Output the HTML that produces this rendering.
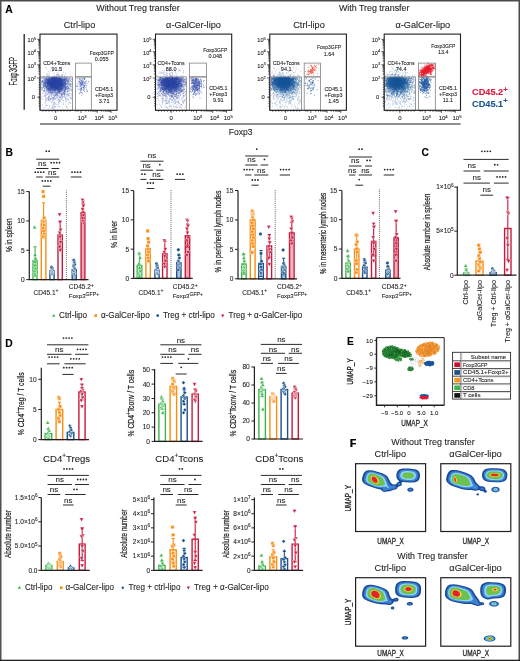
<!DOCTYPE html>
<html><head><meta charset="utf-8"><style>
html,body{margin:0;padding:0;background:#fff;}
svg{display:block;will-change:transform;}
text{font-family:"Liberation Sans",sans-serif;}
</style></head><body>
<svg width="520" height="661" viewBox="0 0 520 661">
<rect width="520" height="661" fill="#fff"/><g fill="#231f20">
<defs><filter id="bl2" x="-50%" y="-50%" width="200%" height="200%"><feGaussianBlur stdDeviation="2.2"/></filter></defs>
<rect x="0" y="0" width="520" height="1.5" fill="#4a4a4a"/>
<rect x="0" y="0" width="1.5" height="661" fill="#505050"/>
<rect x="518.5" y="0" width="1.5" height="661" fill="#4a4a4a"/>
<rect x="0" y="659.7" width="520" height="1.3" fill="#222"/>
<text x="5.3" y="12.6" font-size="10.3" font-weight="bold" fill="#000" stroke="#000" stroke-width="0.1">A</text>
<text x="5.6" y="155.9" font-size="10.3" font-weight="bold" fill="#000" stroke="#000" stroke-width="0.1">B</text>
<text x="421.5" y="156.2" font-size="10.3" font-weight="bold" fill="#000" stroke="#000" stroke-width="0.1">C</text>
<text x="5.2" y="346.6" font-size="10.3" font-weight="bold" fill="#000" stroke="#000" stroke-width="0.1">D</text>
<text x="347" y="345.1" font-size="10.3" font-weight="bold" fill="#000" stroke="#000" stroke-width="0.1">E</text>
<text x="350" y="446.9" font-size="10.3" font-weight="bold" fill="#000" stroke="#000" stroke-width="0.1">F</text>
<text x="96.2" y="11.1" font-size="9" textLength="83.5" lengthAdjust="spacingAndGlyphs" stroke="#231f20" stroke-width="0.1">Without Treg transfer</text>
<text x="338.9" y="11.1" font-size="9" textLength="70.6" lengthAdjust="spacingAndGlyphs" stroke="#231f20" stroke-width="0.1">With Treg transfer</text>
<text x="79.5" y="27.7" font-size="9.3" text-anchor="middle" textLength="31.5" lengthAdjust="spacingAndGlyphs" stroke="#231f20" stroke-width="0.1">Ctrl-lipo</text>
<clipPath id="gc0"><rect x="40.6" y="77.1" width="31.4" height="30"/></clipPath>
<g clip-path="url(#gc0)"><ellipse cx="55.5" cy="83.4" rx="8.5" ry="5.6" fill="#3049a8" fill-opacity=".85" filter="url(#bl2)"/></g>
<path transform="scale(.1)" stroke="#3049a8" stroke-width="8" d="M523 642h8m73 38h8m-130 38h8m9-9h8m-17 26h8m-18 14h8m77 2h8m-8-8h8m2-3h8m-5 13h8m30-2h8m-187 28h8m27-15h8m1 1h8m-6 11h8m-3 0h8m-7 3h8m10-2h8m-1-1h8m0 2h8m-8-1h8m-7-1h8m6 0h8m-4 2h8m-8 1h8m-4-4h8m-6 1h8m-2 0h8m-4-8h8m-8 7h8m-3 0h8m5 2h8m-7-10h8m7 0h8m6-5h8m-5-1h8m9 15h8m-1 0h8m2 2h8m-233 2h8m13 0h8m4 2h8m-5 7h8m-4 0h8m-3 1h8m6 4h8m-6-11h8m-7 13h8m-6-8h8m-1 11h8m-6-19h8m-2 12h8m-8-6h8m-6 5h8m-8-2h8m1-5h8m-7 13h8m-6-13h8m-8 5h8m-7 0h8m-6-8h8m0 10h8m-6 6h8m-6 1h8m-5-16h8m-8 5h8m-8-2h8m-7 12h8m-8-1h8m-6-3h8m-5-1h8m-7-1h8m-8 4h8m-5-10h8m-7 5h8m-7 9h8m-6-5h8m-8 5h8m-6-12h8m-7 8h8m-8 4h8m-8-7h8m-5 7h8m-8-10h8m-4 9h8m-6-5h8m-7-12h8m-7 3h8m-6 1h8m-6 5h8m-8 2h8m-7 5h8m-3-4h8m0-7h8m-8-4h8m-2 3h8m-6 11h8m-8 2h8m-7-12h8m-7 4h8m-7 6h8m-5-5h8m-8 5h8m-8 1h8m-6 0h8m-8-12h8m-1 6h8m-6-6h8m-6 6h8m-6 4h8m3 0h8m-6-7h8m0-2h8m4-5h8m-6 14h8m-4-3h8m-6 1h8m-4-13h8m1 11h8m-4 7h8m-7-18h8m-8 9h8m-7-8h8m-6 15h8m19-8h8m9 1h8m-306 26h8m-6-6h8m2-4h8m22 5h8m-5 8h8m-1-2h8m-5-13h8m-7 16h8m-6-11h8m-7-7h8m-7 2h8m-7-1h8m-4 4h8m-6-1h8m-8-3h8m-3 0h8m-4 15h8m-7 0h8m-7-13h8m-2 7h8m-8-3h8m-5-1h8m-8 0h8m-8-4h8m-5 5h8m-5 9h8m-6-5h8m-6-6h8m-5 9h8m-3-13h8m-7 7h8m-7 10h8m-7-14h8m-5 3h8m-6-1h8m-7 2h8m-2-2h8m-3 10h8m-7-5h8m-7 1h8m-5 6h8m-7-3h8m-7-7h8m-7 9h8m-8-16h8m-8 11h8m-7-7h8m-6 4h8m-7-9h8m-8 16h8m-7 2h8m-8-15h8m-6-4h8m-4 9h8m-7 8h8m-3-13h8m-7 13h8m-8-1h8m-5-5h8m-7 0h8m-6-2h8m-3 2h8m-7-6h8m-7 12h8m-5-12h8m-6 0h8m-8 11h8m-7 1h8m-7-1h8m-6 1h8m-6-4h8m-6-5h8m-5 0h8m-8 11h8m-5-5h8m-7 1h8m-7-4h8m-8-5h8m-6-5h8m-6 4h8m-5-5h8m-6 5h8m-5 2h8m-7 1h8m-6-1h8m-8 6h8m-6 5h8m-8-14h8m3-1h8m-5-1h8m-7 16h8m-5-5h8m-5-11h8m-7-2h8m-7 13h8m-7 6h8m-5-14h8m-7-3h8m-6 5h8m-6-3h8m-2-4h8m-1 1h8m4 4h8m-6 13h8m-7-6h8m-2-3h8m6 6h8m-285 11h8m8 8h8m-7-11h8m-5 2h8m-4 13h8m-3-13h8m-2 3h8m-7-7h8m-3 3h8m1 3h8m-8 5h8m-8 4h8m-6 0h8m-3 2h8m-7-8h8m-7-6h8m-8 14h8m-7-11h8m-6 0h8m-7 4h8m-5 6h8m-7-4h8m-7-4h8m-8 7h8m-8-7h8m-8-3h8m-5 0h8m-8 4h8m-7 8h8m-8-12h8m-5 8h8m-4-8h8m-3-2h8m-7-3h8m-6 12h8m-8-8h8m-7-2h8m-8 4h8m-8 10h8m-4-7h8m-7 0h8m-4-4h8m-8-6h8m-6 0h8m-8 10h8m-6-6h8m-3 8h8m-7 0h8m-6-8h8m-6 13h8m-6-13h8m-8 4h8m-7 10h8m-8-3h8m-6-15h8m-4 2h8m-6 13h8m-6-2h8m-6 4h8m-7-9h8m-7 1h8m-6 2h8m-8 3h8m-8-1h8m-7 3h8m-7-3h8m-6-11h8m-7-1h8m-1 3h8m-7 5h8m-8-5h8m-7 8h8m-6 3h8m-7-5h8m-7-4h8m-6-5h8m-8 17h8m-7-8h8m-8 9h8m-8-7h8m-6-11h8m-8 0h8m-8 14h8m-7-2h8m-6-2h8m-7 6h8m-5-1h8m-8-12h8m-7-4h8m-8 13h8m-3-8h8m-7-2h8m-6-1h8m-5 7h8m-5-4h8m-6 6h8m-6-1h8m-7 4h8m-7-7h8m-7 11h8m-7-3h8m-7-13h8m-6 15h8m-8-1h8m-5-4h8m-1-10h8m-7 11h8m-5 0h8m-6-4h8m-8-7h8m-5 4h8m-6-3h8m-6 15h8m-7-11h8m-7 8h8m-4-11h8m-6 9h8m-5-2h8m-5-9h8m-4 11h8m-3-12h8m-8 15h8m-7-13h8m-2 4h8m22 10h8m2-4h8m-6-4h8m-289 12h8m13 10h8m0-3h8m7 5h8m9-8h8m-8 6h8m1-2h8m-8-8h8m-7 3h8m-2-4h8m-6 8h8m-7 2h8m-7-8h8m-6 11h8m-8 5h8m-7-12h8m-6 7h8m-5 5h8m-8-6h8m-7 6h8m-7-7h8m-8 2h8m-7 0h8m-7-11h8m-7 0h8m-8 2h8m-4 12h8m-6-14h8m-6 0h8m-7-2h8m-7 10h8m-7-7h8m-7-3h8m-7 0h8m-7 0h8m-8 14h8m-8-8h8m-3 13h8m-8-5h8m-6-7h8m-7 11h8m-7-2h8m-5 1h8m-8-2h8m-5-6h8m-6 0h8m-7 3h8m-8-2h8m-5-8h8m-8 11h8m-7-12h8m-7 3h8m-8-4h8m-4 3h8m-7 1h8m-3 4h8m-7-3h8m-7-1h8m-7 7h8m-7-6h8m-7-1h8m-6 7h8m-6 0h8m-7-2h8m-3-6h8m-8 5h8m-7 3h8m-7 0h8m-4-5h8m-8-4h8m-7 2h8m-6 0h8m-7-1h8m-8 16h8m-7-4h8m-7-9h8m-7 12h8m-6-8h8m-8-10h8m-7 9h8m-5-6h8m-7 6h8m-5 5h8m-8 3h8m-7-17h8m-5 16h8m-7-3h8m-4-7h8m-7 0h8m-7-6h8m-7 7h8m-7 10h8m-8-3h8m-6-5h8m-5 10h8m-5-18h8m-5 18h8m-7-11h8m-7-8h8m-6 18h8m-7-15h8m-6 8h8m-6 3h8m0-10h8m-8 6h8m-4 9h8m1-17h8m-4 5h8m-1-7h8m-6 1h8m-2 3h8m0 0h8m-4 9h8m-7-11h8m7 3h8m-7 3h8m0-3h8m2-1h8m-6 15h8m-300 17h8m-7-16h8m-4 8h8m-5-7h8m-6 16h8m-3-15h8m7 16h8m-7-10h8m-2 5h8m-8 5h8m2-16h8m-6 17h8m4-6h8m-6-11h8m-5 14h8m-3-15h8m-3 2h8m-8-1h8m-4-1h8m-3 5h8m-5 8h8m-6 0h8m-7-14h8m-7 7h8m-3-2h8m-7 14h8m-5-19h8m-8 17h8m0-15h8m-7 5h8m-5-2h8m-7 8h8m-7-1h8m-4-10h8m-5 8h8m-8 3h8m-4 1h8m-6-5h8m-8 9h8m-8-17h8m-7 18h8m-1-5h8m-8 5h8m-6-12h8m-7 1h8m-8 4h8m-7 5h8m-6-11h8m-7 4h8m-7-2h8m-6 9h8m-7-16h8m-3 6h8m-6-5h8m-7 1h8m-8 6h8m-7-4h8m-7 0h8m-5 12h8m-8-10h8m2-4h8m-7-2h8m-5 0h8m-5 10h8m-6 2h8m-6-9h8m-6 3h8m-8 4h8m-8-11h8m-7 0h8m-5 15h8m-7-2h8m-6-11h8m-7 9h8m-2-10h8m-6 4h8m-2-4h8m3 2h8m-8 10h8m4-1h8m-5-1h8m-5 2h8m-4-5h8m38 3h8m-297 11h8m13 9h8m11-11h8m3 10h8m-7 6h8m1-7h8m-7 3h8m-4 0h8m-4 0h8m1-12h8m-6 15h8m-2-11h8m-8 10h8m0-12h8m-6 6h8m-8 0h8m-4-6h8m2 0h8m-4 7h8m11 2h8m-5-6h8m-4 0h8m-8 0h8m-7-5h8m-6 5h8m-1 5h8m-6-5h8m-6-5h8m-5 2h8m0 13h8m-4 0h8m-6 4h8m-7-9h8m-4 0h8m-7-4h8m-6 9h8m-8-9h8m-7-6h8m-3 3h8m-7-1h8m-7 9h8m-6-4h8m-8 7h8m-8-12h8m-7 2h8m-7 15h8m-3-8h8m-8-6h8m-4 2h8m-5-6h8m2 13h8m-3-12h8m5 1h8m-4 6h8m0 5h8m2-2h8m-1-6h8m-8-1h8m19 9h8m-280 23h8m-7-4h8m-8-9h8m-1 8h8m15-1h8m-1-3h8m0-4h8m8 2h8m-7 9h8m-8-6h8m-6-6h8m-2-1h8m-7 11h8m2-1h8m14-8h8m-2 9h8m-6-8h8m-8 4h8m0 1h8m-4-10h8m-8 3h8m6 9h8m-5-9h8m-4 16h8m-4-19h8m-7 7h8m-8-6h8m-5 1h8m1 3h8m-8-2h8m-4 10h8m-4-6h8m-5 4h8m4-4h8m2 12h8m10-16h8m-5 15h8m7-1h8m-5-7h8m13-1h8m16-5h8m-5 7h8m-248 27h8m27-11h8m-1 4h8m-2-8h8m-4-3h8m14 15h8m2-7h8m-5 3h8m5 0h8m2-11h8m-6 18h8m15 1h8m8-11h8m-5 8h8m-4-1h8m68-4h8m-273 24h8m32-6h8m14 10h8m17-10h8m-4 1h8m-2 7h8m-7-3h8m-1 4h8m-4-12h8m-5-1h8m2 5h8m-2-7h8m22-3h8m-2 9h8m-2-3h8m-6 0h8m-2-6h8m14 1h8m29 7h8m-2-8h8m1 19h8m2-10h8m-277 11h8m0 5h8m10 12h8m9-4h8m-7-8h8m40 2h8m-6 12h8m-3 0h8m10-16h8m2 11h8m-4 0h8m14-5h8m12 0h8m10-6h8m-3-3h8m47 13h8m-292 19h8m50-10h8m12 13h8m-5-15h8m4 19h8m-8-6h8m4-13h8m16 17h8m107-17h8m-3 13h8m18 1h8m14-11h8m-248 23h8m-4 4h8m8 0h8m31-6h8m68 11h8m25-10h8m-105 20h8m-8 12h8m142-15h8m-238 33h8m-2-3h8m3 5h8m54-4h8m-7-7h8m90 0h8m-122 33h8m-7-13h8m0 13h8m-18 4h8m6 8h8" stroke-opacity=".45"/>
<path transform="scale(.1)" stroke="#3049a8" stroke-width="8" d="M464 688h8m99 37h8m54-2h8m-153 33h8m48 2h8m11-6h8m68 2h8m-219 24h8m-2-13h8m11 3h8m-2 6h8m-5 1h8m29 0h8m8 0h8m-7 0h8m0-5h8m-5 6h8m-4-1h8m-8 0h8m-7-7h8m-8 4h8m-3 6h8m-3 1h8m1-11h8m-7 9h8m-4 2h8m-6-1h8m-2-2h8m-8 0h8m4 2h8m3-2h8m-5 3h8m-7-4h8m11 4h8m29-11h8m26 7h8m-280 9h8m11 3h8m6-5h8m-3 17h8m-4-8h8m-3-10h8m-7 11h8m1 5h8m-5 2h8m-4 0h8m-6-19h8m-7 17h8m-8 2h8m-2-10h8m-3-1h8m-5 1h8m-8 2h8m-7 1h8m-8 3h8m-5 4h8m-8-13h8m10 3h8m-2 7h8m-5-12h8m-8 6h8m-6 2h8m-7-2h8m-4 2h8m-6-8h8m-4 1h8m-2 1h8m-8-3h8m-7 6h8m-8-6h8m-2 11h8m-8 0h8m-3 5h8m-8-12h8m-6 11h8m0 0h8m-6-12h8m-8-5h8m-3 8h8m-8-3h8m-6 8h8m0-3h8m-5-10h8m-6 10h8m-7 6h8m-8-2h8m-7-6h8m-6 8h8m-6-8h8m-6 4h8m-5-5h8m-7 2h8m-7 3h8m-7-13h8m-2 19h8m3-4h8m2-1h8m-8-3h8m-3-1h8m2 4h8m-7-2h8m-6-7h8m-6 13h8m-4-18h8m2 17h8m-7-16h8m-4 1h8m3 16h8m9-13h8m-7 10h8m-4-5h8m14 0h8m-305 24h8m2-4h8m-2-10h8m-1 19h8m-2-16h8m-6 3h8m3 8h8m-7-11h8m-4 12h8m-6-12h8m6-2h8m-8 9h8m-7 5h8m-6-12h8m-7 13h8m-8-9h8m-6 6h8m-8-10h8m-7 8h8m-7 1h8m-5-4h8m-7-8h8m-7 11h8m-7-4h8m-7 11h8m-2-15h8m-7-2h8m-7 0h8m-7 18h8m-7-6h8m-6-2h8m-7-4h8m-2 6h8m-3 0h8m-6-11h8m-7-1h8m-6 2h8m-8 3h8m-4 12h8m-5-17h8m-8 5h8m-7-6h8m-2 6h8m-3-5h8m-7 16h8m-7-1h8m-4-8h8m-8 5h8m-7 4h8m-8-2h8m-6 1h8m-8 2h8m-7-1h8m-8 0h8m-7-2h8m-7 0h8m-7 4h8m-7-15h8m-7 1h8m-8 9h8m-3 1h8m-8 0h8m-7 2h8m-8-7h8m-8 9h8m-5-4h8m-7-13h8m-8-1h8m-6 9h8m-6-6h8m-6 13h8m-8-2h8m-7-9h8m-7 0h8m-7 7h8m-8-2h8m-6 7h8m-7-6h8m-8 1h8m-8-8h8m-8-3h8m-5 13h8m-8-13h8m-1 12h8m-8 1h8m-4-14h8m-6 12h8m-6-11h8m-6 12h8m-7 2h8m-6-3h8m-6-2h8m-6 0h8m-8 6h8m-7-7h8m-6-2h8m-6-8h8m-7 1h8m-8 8h8m-5 2h8m-8-8h8m1 2h8m-1 6h8m-2-5h8m-1 10h8m-7-2h8m3-10h8m-7-2h8m-2 9h8m6-1h8m-5-4h8m4-3h8m-4 0h8m0 12h8m-4 3h8m-304 21h8m-3-18h8m3 7h8m-7 11h8m1-3h8m3-8h8m1 2h8m-6 4h8m-2-6h8m-5 7h8m-8-5h8m-4 5h8m-8-10h8m-4 10h8m-7-11h8m-1-3h8m-7 4h8m-7-1h8m-7 10h8m-5-1h8m-7 3h8m-3-1h8m-7-15h8m-4 1h8m-7 0h8m-7 5h8m-7 8h8m-6-1h8m-8-5h8m-7 8h8m-7-13h8m-8 3h8m-5-4h8m-8 8h8m-8 1h8m-7-4h8m-6 5h8m-8-5h8m-7-4h8m-8-2h8m-5 9h8m-7 2h8m-7-4h8m-8-2h8m-8 7h8m-7-11h8m-5 15h8m-7-11h8m-7 8h8m-6-4h8m-7 4h8m-7-10h8m-7-3h8m-8 11h8m-8-7h8m-7 8h8m-7-11h8m-7 0h8m-7 12h8m-5 0h8m-7 1h8m-8-8h8m-7-7h8m-6 11h8m-7-3h8m-7 6h8m-5-7h8m-8 0h8m-7 5h8m-7-1h8m-8 3h8m-5-9h8m-7 3h8m-8 2h8m-7 4h8m-7-12h8m-8 7h8m-8-6h8m-6 4h8m-8 6h8m-7 3h8m-8-4h8m-8-2h8m-7-4h8m-7 8h8m-8-2h8m-7 7h8m-8-10h8m-7 10h8m-6-16h8m-7 5h8m-7-8h8m-7 19h8m-6-14h8m-7 4h8m-8 3h8m-6-11h8m-7 11h8m-7-7h8m-6 6h8m-7-5h8m-8-1h8m-7-3h8m-8 17h8m-5-18h8m-8 3h8m-7-4h8m-8 15h8m-7-7h8m-6-1h8m-5-7h8m-7 8h8m-7-6h8m-7 17h8m-8-12h8m-7-3h8m-5 5h8m-5 9h8m-8-18h8m-5 19h8m-6-14h8m-8-5h8m-4 13h8m-6-6h8m-8-3h8m-7 6h8m-7-10h8m-6 4h8m-5 2h8m-7 2h8m-7 2h8m1-1h8m-1-4h8m8 14h8m1-4h8m-4-3h8m-3-1h8m-5-3h8m-271 12h8m10 6h8m8 0h8m-6 6h8m-2 2h8m0-1h8m-6-4h8m-8-3h8m-7-1h8m-7 7h8m-4 0h8m-7 1h8m-5-12h8m-7 18h8m-1-8h8m-4-4h8m8-2h8m-2 4h8m-7-7h8m-8 14h8m-7-8h8m-3 1h8m-3 6h8m-7-4h8m-8 0h8m-6 5h8m-7-13h8m-6 16h8m-3-16h8m-6 16h8m-7-14h8m-8 8h8m-8-13h8m-6 11h8m-7-11h8m-7 6h8m-5-1h8m-6 0h8m-2 4h8m-7 4h8m-6-8h8m-6-2h8m-8 14h8m-7-13h8m-6 4h8m-8 10h8m-7-5h8m-8-5h8m-8-7h8m-7 9h8m-6-5h8m-7 0h8m-7 12h8m-6 1h8m-5 1h8m-7-10h8m-6-7h8m-8 4h8m-6 12h8m-7-11h8m-4 0h8m-7 2h8m-8-4h8m-8 12h8m-5-6h8m-8-2h8m-7 0h8m-6-6h8m-7 10h8m-3-1h8m-5-9h8m-7 4h8m-7-4h8m-7 2h8m-6 8h8m-4-4h8m-4 7h8m-8-7h8m-3-2h8m-8 1h8m-4 10h8m-5-5h8m1-9h8m-5 6h8m-7 4h8m4-1h8m-5-2h8m-6-11h8m12 18h8m10-14h8m14-2h8m-311 27h8m16-6h8m-5 2h8m1 1h8m-5 7h8m-6-10h8m-6 0h8m-1 8h8m-7 5h8m-8-11h8m0-1h8m-5 9h8m3-7h8m-6 10h8m-8-10h8m-7-1h8m-5-5h8m-6 17h8m-3-11h8m-8 12h8m-8-18h8m-7 12h8m-7 5h8m-4-1h8m-7-10h8m-8-6h8m-7 16h8m-8-9h8m-8 0h8m1 9h8m-3-6h8m-3-10h8m-7 11h8m-8 8h8m-7-11h8m-7-5h8m1-3h8m-7 11h8m-8-10h8m-4 13h8m-3-5h8m-4 5h8m-8-5h8m-7 8h8m-8-3h8m-8-6h8m-7-3h8m-5 13h8m-4 1h8m-8-4h8m-7-7h8m-7 2h8m-5-2h8m-7-4h8m-8 7h8m-7 5h8m-7-10h8m-4-1h8m-7 12h8m-5-12h8m-5 2h8m-8-7h8m-7 0h8m-1 9h8m-6 10h8m-2-9h8m-7-6h8m-6 4h8m-6-5h8m-3 3h8m-7 0h8m-6 0h8m-4-5h8m-4 12h8m-6-10h8m-8-3h8m-6 4h8m-2 11h8m7-11h8m-4 2h8m3 13h8m7-11h8m-4-4h8m20 4h8m-300 24h8m1 6h8m-4-17h8m16 9h8m11 5h8m-8-14h8m-6 3h8m3 3h8m-4 1h8m-8-8h8m-7 19h8m-5-13h8m-6-3h8m-3 15h8m-2-5h8m-7 1h8m-4 4h8m-5-13h8m-6 0h8m-3 1h8m-4 6h8m-7-12h8m-8 16h8m-7-4h8m-5 0h8m-5-1h8m-3 7h8m-6-7h8m-7-10h8m-7 8h8m-6 4h8m-8-2h8m-3 2h8m-7-1h8m-8-7h8m1 3h8m-4-1h8m-7 8h8m-5-10h8m-3-2h8m-4 7h8m-6-4h8m2 9h8m-8-4h8m-7-5h8m-8 6h8m-7-4h8m-4 10h8m-6-11h8m-4-4h8m-7 8h8m-5-1h8m-3-7h8m-7 7h8m-7 9h8m-7-16h8m-8 1h8m-7-2h8m-6-1h8m-7 2h8m-5 3h8m-5-3h8m6 15h8m-5-16h8m6 13h8m-5 2h8m-8-11h8m-5 4h8m10-6h8m11 0h8m-4 1h8m-250 19h8m6-2h8m12 14h8m-8-14h8m-6 14h8m-5-13h8m-6-3h8m-6 3h8m-3 7h8m0-6h8m-8 1h8m-3 6h8m3-3h8m6-5h8m-7 0h8m-2 3h8m-3-2h8m0-3h8m6 5h8m-3 8h8m-8 0h8m-4 0h8m-2-1h8m-4-13h8m-5 12h8m-7-4h8m-8 2h8m-4 1h8m-8-2h8m-5 9h8m-3-5h8m-8 6h8m-4-11h8m0-6h8m-3 7h8m-7-3h8m-7 13h8m1-6h8m-1-2h8m-5 4h8m3 4h8m13-6h8m25-11h8m-294 30h8m19 1h8m3-10h8m36 15h8m-6-5h8m-6 6h8m-7-16h8m-8 8h8m1 0h8m-4 0h8m-7-8h8m-7 8h8m10-11h8m-8 0h8m0 7h8m1-7h8m4 5h8m-7 0h8m-7-5h8m-4 16h8m-5-9h8m9 6h8m-1-10h8m15 2h8m6 9h8m-7 5h8m6-1h8m4-5h8m28 6h8m-261 19h8m-2-3h8m-4-9h8m22 13h8m18-18h8m8 10h8m3 6h8m9 0h8m-5-12h8m24 8h8m9-13h8m-7 11h8m-4-9h8m10-1h8m-4 12h8m-7-10h8m-3 12h8m7-6h8m1 1h8m-1-3h8m-2 8h8m-6 2h8m-242 19h8m28-7h8m17-3h8m15 9h8m11-14h8m53 10h8m-2 8h8m-4-11h8m15-2h8m19-3h8m24 10h8m-290 18h8m20 4h8m-7-7h8m20 6h8m-5-12h8m45 9h8m-2 0h8m3 3h8m16 3h8m-4-16h8m18 8h8m3-9h8m36 5h8m36 0h8m-265 19h8m194 9h8m1-2h8m-164 11h8m1 1h8m1-2h8m-1 18h8m38-13h8m-5 3h8m106 1h8m-1 5h8m-215 22h8m83-15h8m-139 30h8m76-2h8m28-2h8m3-5h8m31 14h8m34 2h8m-195 5h8" stroke-opacity=".45"/>
<path transform="scale(.1)" stroke="#3049a8" stroke-width="8" d="M518 647h8m72 51h8m-85 19h8m175 20h8m-242 4h8m53 17h8m41-6h8m-5-5h8m-122 30h8m-4-9h8m27 6h8m-1 1h8m4 0h8m-8 4h8m0-8h8m-7 4h8m-3 4h8m-3-4h8m-6-4h8m-6 6h8m-7 1h8m5-16h8m-5 13h8m4-5h8m-3 8h8m-5-3h8m-1-10h8m3 10h8m55 1h8m-257 8h8m6 10h8m17-13h8m-7 13h8m-7-2h8m-5-9h8m-8 5h8m-2 2h8m-3 5h8m-1-14h8m-4 11h8m-6 3h8m-6-9h8m-5-4h8m-8 8h8m-5 9h8m-8-10h8m-6 9h8m-3 1h8m-8-15h8m-5 9h8m-8 5h8m-7-13h8m-8 5h8m-7 5h8m-6-12h8m-8 5h8m-5 10h8m-6-4h8m-4-5h8m-8 10h8m-7-11h8m-7 8h8m-5-5h8m-8-5h8m-6-3h8m-4 3h8m-7-3h8m-4 7h8m-2 3h8m-8-13h8m-8 11h8m-7 7h8m-7-2h8m-8 2h8m-6-4h8m-8-1h8m-5-4h8m-6 4h8m-7-3h8m-8 1h8m-6-10h8m-7 15h8m-4-11h8m-6 9h8m-7-6h8m-7 5h8m-6-10h8m-5 2h8m-8 1h8m-5-4h8m-8 4h8m-3 13h8m-5-5h8m-2-4h8m-6-8h8m-7 5h8m-7 7h8m-7-7h8m-5 7h8m-3-12h8m-8 8h8m-8 3h8m-7 2h8m-4-10h8m-6 10h8m-6-3h8m-8 4h8m-8-8h8m-5 10h8m-6-7h8m-5 5h8m-2-16h8m-3 6h8m-6 10h8m-3-1h8m2-13h8m-1 5h8m-7 0h8m-8 7h8m0-6h8m6 7h8m-5-11h8m-1 5h8m21 5h8m-297 16h8m-8-1h8m-5 8h8m6-8h8m-5 3h8m-6-8h8m-3 7h8m5 2h8m-7 0h8m4-6h8m-8 3h8m-7 7h8m-7-4h8m-6-6h8m-7 9h8m-8-16h8m-7 8h8m-8 2h8m-8-9h8m-7 11h8m-8 4h8m-7 1h8m-7-6h8m-7 0h8m-8-10h8m-7 10h8m-8-4h8m-3 11h8m-7-17h8m-8 4h8m-2 14h8m-8-14h8m-8 4h8m-5-2h8m-7 3h8m-7-8h8m-7 2h8m-8-2h8m-7 1h8m-8 14h8m-7 1h8m-6-9h8m-6 4h8m-5 5h8m-7-13h8m-8 3h8m-7 10h8m-7-12h8m-4-4h8m-4-1h8m-6 18h8m-7-12h8m-8-2h8m-4 6h8m-7 3h8m-8-2h8m-6-3h8m-5 6h8m-4-4h8m-8 2h8m-6-2h8m-8 7h8m-6-2h8m-7 1h8m-6-5h8m-7 4h8m-4-13h8m-7 6h8m-6-8h8m-8 13h8m-4 0h8m-7-11h8m-8 1h8m-5 9h8m-6-8h8m-5-4h8m-8 13h8m-7-13h8m-6 13h8m-3-14h8m-7 12h8m-8-12h8m-8 13h8m-8 6h8m-7-6h8m-6-4h8m-7-7h8m-8 1h8m-5-1h8m-4 15h8m-7-5h8m-7-3h8m-5-8h8m-7 13h8m-6-8h8m-8 7h8m-3 1h8m-7-7h8m-4 11h8m-6-13h8m-7-4h8m-6 18h8m-6-16h8m-7 0h8m-8-2h8m-6 13h8m-5 4h8m-6-17h8m-6 3h8m-2 4h8m-7-4h8m-2 0h8m3 7h8m-5-9h8m-5 14h8m-7-12h8m-1 6h8m-1 8h8m-4-11h8m-2 7h8m15 2h8m-297 5h8m-4 1h8m10 12h8m-4-5h8m-2 10h8m-7-5h8m-8-12h8m-5 3h8m-6 14h8m-7-4h8m-4-11h8m4 9h8m-7-13h8m-2 5h8m-6 2h8m-5 8h8m-6 2h8m-5 1h8m-1-7h8m-7-6h8m-7-4h8m-8 11h8m-7-12h8m-5 0h8m-6 5h8m-8 2h8m-7 4h8m-7 1h8m-6 5h8m-7-16h8m-7 17h8m-7-4h8m-3-3h8m-6 6h8m-6 0h8m-8-8h8m-2 8h8m-8-12h8m-8 11h8m-7-1h8m-7-7h8m-7 0h8m-8 3h8m-5-10h8m-8 17h8m-6-13h8m-7 13h8m-8-6h8m-7-10h8m-8-1h8m-7-1h8m-3 0h8m-5 12h8m-8-5h8m-8 8h8m-7-8h8m-8 10h8m-4-14h8m-7-3h8m-7 15h8m-8 4h8m-4-6h8m-8-13h8m-7 13h8m-6-7h8m-6 7h8m-8-6h8m-7 12h8m-7-15h8m-6 4h8m-7 9h8m-4-1h8m-4-10h8m-7 11h8m-6-3h8m-4-9h8m-2 2h8m-7-4h8m-6 11h8m-8-10h8m-8-2h8m-7 15h8m-6-16h8m-8 3h8m-7 8h8m-8-9h8m-5 13h8m-7-5h8m-8 4h8m-7-14h8m-7 2h8m-7 11h8m-8-14h8m-7 19h8m-6-7h8m-6-11h8m-6 16h8m-4-9h8m-4 4h8m-6 6h8m-7-12h8m-8 9h8m-7 3h8m-2-3h8m-1-14h8m-2 3h8m2 6h8m-6-10h8m-6 8h8m-7 1h8m-5 5h8m6 3h8m-5-11h8m6-4h8m-7 14h8m-6-15h8m7 17h8m-6-4h8m-286 12h8m-2-5h8m-7 8h8m7-3h8m-8 5h8m-7 4h8m-1-15h8m1 8h8m-5-4h8m1 10h8m-8 4h8m0 1h8m-2 0h8m-6-7h8m-3 6h8m-7-12h8m-8-6h8m-7 8h8m-7-8h8m-7 5h8m-7 13h8m-8 1h8m-8-14h8m-6-2h8m-4 2h8m-8 6h8m-8-4h8m-7 11h8m-8-12h8m-6 6h8m-7-5h8m-7 9h8m-8-6h8m-8 7h8m-3-9h8m-7-3h8m-7 9h8m-3-5h8m-4 2h8m-7-3h8m-7-5h8m-6-2h8m-8 17h8m-7-6h8m-8 3h8m-7 1h8m-6-10h8m-5 10h8m-8-15h8m-7 12h8m-7 4h8m-7-16h8m-8 4h8m-8 7h8m-7 2h8m-3-14h8m-8 10h8m-7 5h8m-6 2h8m-8-6h8m-2 6h8m-7-14h8m-8 6h8m-6 5h8m-8-12h8m-5 14h8m-4-11h8m-6 5h8m-7-6h8m-7 9h8m-8 4h8m-8-4h8m-7 2h8m0-11h8m-4-2h8m-7 13h8m-7-7h8m-8 6h8m-5-11h8m-6 4h8m-8 8h8m-6-4h8m-8 4h8m-7-4h8m-3-11h8m-8 10h8m-3 2h8m-3-9h8m-7 15h8m-8-18h8m-8 2h8m-5-1h8m-8 8h8m-6-9h8m-7 18h8m-6-11h8m-1 7h8m-2-11h8m-8 4h8m-3 6h8m-5-13h8m-6 2h8m-7 0h8m-7 2h8m-4-1h8m-4 2h8m31 13h8m-4-17h8m-295 35h8m19-16h8m9 4h8m-5 4h8m-3-3h8m-7-5h8m-3 7h8m-7-4h8m-4 8h8m-7-9h8m-6 9h8m-4 7h8m-1-8h8m-7 4h8m-7-14h8m0 0h8m-7 0h8m1 10h8m-4 1h8m-5-6h8m-7-5h8m-6 15h8m-7 3h8m-7-9h8m-1 10h8m-7-11h8m-4 1h8m2 4h8m-6 5h8m-7-8h8m-4 7h8m-6 2h8m-3 0h8m-6-2h8m-8-17h8m-6 14h8m2-11h8m-8 2h8m-7 7h8m-8-11h8m-7 10h8m-7 8h8m-6-16h8m-7-2h8m-6 17h8m-6 0h8m-7-10h8m-7 11h8m-8-19h8m-7 16h8m-7-4h8m-7 7h8m-7-11h8m-8 9h8m-7-5h8m-7-2h8m-6 6h8m-7-10h8m-7 9h8m-7-15h8m-7 0h8m-7 16h8m-5-13h8m-7 16h8m-5-19h8m-7 11h8m-7-9h8m-4 13h8m-8-6h8m-2 3h8m-6 2h8m-7-2h8m-4-12h8m8 7h8m0 10h8m-7-11h8m-7-2h8m-6 9h8m-3-4h8m-4 1h8m-1-4h8m-6 2h8m-6-2h8m7 4h8m-5-10h8m18 4h8m-299 31h8m17-8h8m9 6h8m1-13h8m-1 9h8m-6-5h8m-4 9h8m-2-1h8m-6-3h8m-2 0h8m-8-3h8m-5 12h8m-6-18h8m-2 4h8m-8 3h8m-6 0h8m-1-6h8m-3 0h8m-7 0h8m-8 17h8m-7-2h8m-7-13h8m-1 15h8m-6-13h8m-3-4h8m-7 1h8m-5 4h8m-8 10h8m-3 0h8m-5-11h8m-7 2h8m-4-3h8m-7 7h8m-6-6h8m-6 1h8m-5 13h8m-7-10h8m-5-8h8m-5 14h8m-7-12h8m-7 2h8m-8 1h8m-6 12h8m-8 1h8m-8-5h8m-5 0h8m-7 5h8m-5-16h8m2 14h8m-2-11h8m-8 11h8m-4-5h8m-2-4h8m-5 1h8m-6-8h8m-6 10h8m-8 3h8m-3-4h8m6-7h8m-2 5h8m2 5h8m-5 4h8m-8-12h8m-3 8h8m0-7h8m-1-3h8m-5 2h8m19 5h8m3 1h8m-293 18h8m-8-2h8m28 0h8m4-5h8m1 17h8m-1-19h8m-2 19h8m0-19h8m2 4h8m1-4h8m-4 1h8m-6 0h8m-6 5h8m-8-4h8m0 14h8m-2 3h8m-7-18h8m-6 6h8m-7-6h8m-4 2h8m7-3h8m2 0h8m-7 8h8m-6 3h8m-3 8h8m-5-3h8m2-10h8m6-5h8m7-1h8m0 12h8m-8-5h8m-4-3h8m-5 13h8m-1-4h8m14-6h8m-250 25h8m8-9h8m33 8h8m-7 5h8m-2-5h8m-7-6h8m12-4h8m10 4h8m1-3h8m-6 13h8m-2-9h8m-1 8h8m-4-4h8m-3 4h8m-7-10h8m5-4h8m-3 4h8m-8 13h8m-7-12h8m-7-1h8m-4 13h8m0-2h8m-4-4h8m-3 7h8m0-14h8m-7 11h8m5-4h8m-4-9h8m-6 6h8m-6-7h8m43 16h8m-261 6h8m24 3h8m-8-5h8m27 4h8m-6 8h8m20-9h8m11-2h8m-1-1h8m41 13h8m-3-12h8m-201 21h8m63 6h8m21 8h8m10-13h8m10 15h8m14-12h8m3 8h8m-5-13h8m-3 2h8m-6 11h8m8-15h8m12 6h8m20-3h8m-193 20h8m5 11h8m-1-6h8m-4-3h8m-1 6h8m0-10h8m-1 1h8m-3 5h8m14-2h8m27 14h8m3-1h8m-7-16h8m10 12h8m29-13h8m10 16h8m-199 5h8m34 6h8m36-5h8m7 10h8m0-13h8m-7 12h8m0-1h8m16-4h8m-188 22h8m88-7h8m5 13h8m64-9h8m-1 11h8m-186 5h8m94 4h8m88 8h8m-226 25h8m91-9h8m123 0h8m44-4h8" stroke-opacity=".45"/>
<path transform="scale(.1)" stroke="#3049a8" stroke-width="8" d="M452 675h8m91 26h8m30-1h8m-57 32h8m103 3h8m-196 10h8m-2 8h8m94-4h8m12 1h8m14 6h8m2-15h8m-7 6h8m-217 32h8m7-6h8m2 1h8m35 3h8m2 2h8m12-3h8m-4 3h8m-2-4h8m-6-2h8m-1 3h8m-3-1h8m19-1h8m-7 4h8m-4-3h8m-4 2h8m4-1h8m25-13h8m-4 13h8m-4 1h8m4-9h8m-3-3h8m5 11h8m-2 3h8m-7-2h8m27-5h8m-4 5h8m-271 13h8m-8 9h8m-3-4h8m-3 4h8m4-3h8m-8-4h8m-6-5h8m-4 1h8m-1-8h8m6 2h8m-1 4h8m-2 12h8m-6-18h8m0 9h8m-6 1h8m-7-7h8m-7 9h8m-7 1h8m-7 3h8m-8-15h8m-6 11h8m-6-12h8m-8 7h8m-6 1h8m-7-8h8m-6 1h8m-8 15h8m-6-4h8m-7-2h8m-8 6h8m-4-3h8m-8-8h8m-6 0h8m-8 12h8m-8 2h8m-7-5h8m-7-4h8m-2-4h8m-7-2h8m-7 5h8m-7 8h8m-7 2h8m-8-9h8m-5 4h8m-5-12h8m-7 7h8m-6-4h8m-8 7h8m-8 5h8m-7-12h8m-7 4h8m0-2h8m-7-4h8m-3 12h8m-8-4h8m-4 0h8m-5 4h8m-8-6h8m-5 8h8m-7-17h8m-5 14h8m-7-9h8m-6 12h8m-6-4h8m-8 6h8m-4-5h8m-8-14h8m-6 6h8m-7 0h8m-7 8h8m-8-14h8m-6 15h8m-8-3h8m-7-11h8m-6 10h8m-7-7h8m-6 14h8m-7-10h8m-6 5h8m-7-9h8m-7 14h8m-4-13h8m-4 10h8m0-4h8m8-4h8m-7 11h8m-8-2h8m-3 1h8m-1-7h8m9-4h8m-3 11h8m-6-7h8m-1-2h8m-276 20h8m-8-5h8m-7 11h8m6 4h8m-6 1h8m1-12h8m-7 0h8m-7 10h8m-2-6h8m-7-10h8m-6 6h8m3-6h8m-7 3h8m-8 9h8m-4-7h8m-7 8h8m-4 1h8m-8-4h8m-5 2h8m-7 4h8m-6-14h8m-6 15h8m-4-4h8m0 4h8m-5-9h8m2 9h8m-7-1h8m-7-3h8m-7-11h8m-7 15h8m-7-3h8m-8 4h8m-6 0h8m-6-11h8m-6 6h8m-7-1h8m-7-10h8m-7 16h8m-7-6h8m-6-3h8m-5-4h8m-7 9h8m-8 4h8m-4-2h8m-8-4h8m-8-3h8m-7 6h8m-7-12h8m-7 5h8m-5-6h8m-6 7h8m-7-7h8m-6 11h8m-6-3h8m-7-4h8m-7-1h8m-7 3h8m-8 9h8m-6-11h8m-8 5h8m-6-8h8m-7 11h8m-6 2h8m-8-1h8m-8-9h8m-6 0h8m-6-4h8m-4-1h8m-6 10h8m-8-6h8m-6 13h8m-6-18h8m-6 8h8m-5 9h8m-7-18h8m-4 0h8m-7 1h8m-8 1h8m-8 13h8m-7-5h8m-7 5h8m-7 2h8m-4-13h8m-7 0h8m-7 6h8m-2-3h8m-2-1h8m-4 13h8m-7-5h8m1-5h8m-6 9h8m-7-16h8m-7 9h8m-7-6h8m-6-3h8m-8-1h8m-4 0h8m-7 5h8m-6-3h8m-7 4h8m-2 5h8m-4 6h8m-4 1h8m-2 0h8m-2-2h8m-5-7h8m14-6h8m-6-2h8m-269 20h8m9 3h8m-3 2h8m-7 8h8m-8-13h8m-2 10h8m-3-6h8m-8-6h8m-4 6h8m-8 6h8m-1-5h8m-5 5h8m-7 6h8m-7-8h8m-2-6h8m-2 13h8m-7-1h8m-7-3h8m-6 2h8m-6-10h8m-5 11h8m-7 1h8m-6 0h8m-8-9h8m-6-5h8m-8 8h8m-8-8h8m-8 7h8m-7 7h8m-8-6h8m-7 7h8m-4-17h8m-6 14h8m-3 0h8m-7-11h8m-8 2h8m-6 8h8m-7-8h8m-7 9h8m-4 3h8m-5-7h8m-7 3h8m-7-14h8m-8 14h8m-7-1h8m-7-10h8m-6 14h8m-8-4h8m-6-5h8m-8 10h8m-7-3h8m-7-15h8m-4 9h8m-5-4h8m-7 5h8m-5-8h8m-8 9h8m-6 5h8m-7-7h8m-2 5h8m-7-5h8m-7 5h8m-7-12h8m-6 12h8m-8-5h8m-3 1h8m-8 5h8m-7-4h8m-8 7h8m-7-17h8m-7 8h8m-5 8h8m-6-6h8m-7 3h8m-7-10h8m-7 12h8m-7-9h8m-7 11h8m-6-13h8m-7 13h8m-6-17h8m0 5h8m-5-5h8m-7 11h8m-7-11h8m-7 14h8m-8-12h8m-4 10h8m-3-3h8m-8-6h8m-4 2h8m-6 0h8m-7 5h8m-3-8h8m-6 2h8m-6 8h8m-4-4h8m-2 4h8m-7-6h8m-6 1h8m-2 6h8m-8-7h8m-3 11h8m-1-8h8m8-9h8m-1-1h8m35 16h8m-319 17h8m24-7h8m-6 13h8m-7-4h8m-8-11h8m-7 9h8m-7 5h8m-7-12h8m-6-3h8m14 2h8m-5 1h8m-6 7h8m-6-13h8m-8 8h8m-7 4h8m-7 2h8m-4-12h8m-7 8h8m-8-7h8m-6 0h8m-7 4h8m-5-7h8m-8 5h8m-7 13h8m-7-7h8m-2 7h8m-5-3h8m-6-7h8m-4 11h8m-5-13h8m-7-5h8m-8 3h8m-8 4h8m-8-8h8m-5 11h8m-6 6h8m-5 0h8m-7-14h8m-3 10h8m-4-1h8m-7-8h8m-5 8h8m-7-8h8m-7 13h8m-8-1h8m-8-11h8m-7 9h8m-7-5h8m-6 8h8m-8-16h8m-8 16h8m-5-5h8m-7-12h8m-8 1h8m-7 3h8m-8 3h8m-7 0h8m-5 8h8m-6 1h8m-6-1h8m-5-13h8m-5 1h8m-5-2h8m-5-1h8m-6 18h8m-6-17h8m-6 16h8m-8-12h8m-5-4h8m-7 4h8m-6 13h8m-6-1h8m-1-4h8m-8 6h8m-7-7h8m-4-7h8m-7 9h8m-4 4h8m-6-15h8m-7 11h8m-8-10h8m-1 0h8m-2 0h8m-8 7h8m-5-2h8m-5 3h8m-8 7h8m-4-13h8m-4 0h8m-7 12h8m-7-11h8m-6 2h8m-5 2h8m-3-8h8m-7 12h8m-2 2h8m-8-2h8m-4-6h8m-2 6h8m-7-14h8m-6 0h8m4 11h8m15 5h8m-4 0h8m-3-8h8m-304 27h8m12-13h8m-7 10h8m-3 2h8m-8-13h8m5 14h8m7-9h8m-5 6h8m7 6h8m4-7h8m1-9h8m-6 15h8m-4-13h8m-5-5h8m-6 11h8m-6 1h8m-6-8h8m-6 14h8m-7-8h8m-7 3h8m-7-7h8m-7-5h8m-7 4h8m-8 13h8m-7-10h8m-8 2h8m-7 8h8m-7-10h8m-7 2h8m-8-1h8m-6-4h8m-8 13h8m-5-8h8m-7-4h8m-7 12h8m-7-8h8m-7-3h8m-7-6h8m-6-1h8m-8 3h8m-5 5h8m-7-5h8m-7 11h8m-8 5h8m-7-11h8m-6 5h8m-7-5h8m-8-8h8m-1 17h8m-5-3h8m-5 5h8m-5-9h8m-5 2h8m-2-2h8m-4-6h8m-8 11h8m-7-13h8m-7 15h8m-7-14h8m-7 14h8m-7-8h8m-8 7h8m-5 2h8m-7-10h8m-6-7h8m-5 2h8m-7 9h8m-7-12h8m-5 11h8m-4-8h8m-7 12h8m-5-6h8m-7-9h8m-2 15h8m-1-11h8m-6 15h8m-5-14h8m-6 12h8m-8-6h8m-5 5h8m-7-11h8m-4-3h8m-7 7h8m-8 6h8m-3 2h8m-7-6h8m4-10h8m-8 13h8m-7 5h8m-3-3h8m7-9h8m-1 7h8m-8 4h8m-7 1h8m-8-6h8m0 5h8m3-14h8m-296 35h8m-4-12h8m21 0h8m12-3h8m-5 7h8m-7 1h8m-2-8h8m-7 6h8m-6-5h8m-5 12h8m-6 2h8m-2-10h8m-7 6h8m-2-13h8m-6 0h8m-8 16h8m-6-13h8m1 13h8m-4-16h8m-6 13h8m-4-15h8m-4 15h8m5-11h8m-8-4h8m-7 10h8m-8-10h8m-7 2h8m-7 13h8m3 2h8m-5-13h8m-5-3h8m-7 10h8m-2 7h8m-4-17h8m-7-1h8m-7 3h8m-5 16h8m-8-14h8m-6 1h8m-7 6h8m-7 0h8m-8-5h8m-4 4h8m-4-3h8m-5 6h8m-3-7h8m-5 2h8m-7 0h8m-7-6h8m-8 12h8m0-9h8m-6 3h8m-1 7h8m-4-3h8m-7-4h8m-8 0h8m-4-9h8m-6 9h8m-8-6h8m-2 5h8m-6-7h8m1 15h8m-2-8h8m-7 9h8m-5-1h8m-3 0h8m-6-16h8m-3 12h8m-4-8h8m0 8h8m18 3h8m-271 11h8m-4-1h8m-6-4h8m9 15h8m-1-7h8m1 5h8m-8-10h8m-8 12h8m9-16h8m-5 17h8m-6-9h8m-7-2h8m7 11h8m-5-4h8m-8-7h8m-7-4h8m2 16h8m-3-7h8m-2-9h8m-6-1h8m-8 0h8m-7 2h8m0 5h8m-2-8h8m-7 3h8m8 14h8m-7 2h8m-7-19h8m-4 17h8m0-3h8m-6-12h8m1 4h8m-3 0h8m-7 2h8m-3 3h8m-1-11h8m2 0h8m4 16h8m-7-13h8m-5 7h8m4-9h8m3 14h8m-1-3h8m1 1h8m-5-13h8m-7 4h8m-8-4h8m18 7h8m-266 26h8m14-8h8m-5 8h8m-7-6h8m6-4h8m-7-2h8m-6 3h8m5 1h8m-5-1h8m5 9h8m-1-11h8m2 8h8m5 6h8m-1-9h8m20-7h8m38 0h8m-4 16h8m-3-13h8m15 9h8m10-11h8m-256 38h8m15-19h8m39 11h8m6 0h8m19-1h8m-2-5h8m-7 11h8m1 1h8m-4-3h8m-5-10h8m0-4h8m-8 16h8m24-15h8m-7 17h8m-5-9h8m10-9h8m-3 2h8m8 2h8m2-4h8m3 1h8m-277 35h8m67-14h8m-5 16h8m47-2h8m21-13h8m15 12h8m7-14h8m29 14h8m54 4h8m4-19h8m-264 34h8m-1-9h8m7 11h8m26-16h8m-3 8h8m-4 11h8m10-11h8m29 0h8m16-4h8m37-3h8m-7 15h8m16-6h8m22 0h8m-222 16h8m76-4h8m7 9h8m67-8h8m-223 17h8m84 4h8m37 4h8m89-6h8m-274 26h8m91 5h8m16-11h8m21 4h8m99-3h8m-195 28h8m14 4h8m21 3h8m-4-12h8m-5-1h8m31 2h8m63-2h8" stroke-opacity=".45"/>
<path transform="scale(.1)" stroke="#4d64b8" stroke-width="8" d="M844 777h8m-82 10h8m9-3h8m-3 7h8m-4 5h8m-3-5h8m3-7h8m-1 12h8m-2-10h8m1 0h8m-2-1h8m-6 4h8m-6 4h8m-8 0h8m-74 20h8m2-1h8m-4 2h8m4-7h8m-5-2h8m-5 10h8m-1-5h8m-5 3h8m-4-1h8m-5-10h8m6 17h8m1-4h8m1-4h8m15 4h8m-113 18h8m4 4h8m-5-15h8m2 8h8m-7-7h8m-8 10h8m-7-2h8m-8 3h8m-6-3h8m-5 7h8m-7-18h8m-1 2h8m-7 4h8m-7 11h8m-4-14h8m-7 9h8m-6 2h8m-2-14h8m-2 14h8m-3-8h8m0 11h8m-3-7h8m11 1h8m-118 19h8m22 0h8m-3 3h8m-3-10h8m-6 15h8m-6-13h8m-5 4h8m-8-2h8m-8-3h8m-6 1h8m-5-3h8m-3 0h8m-5 14h8m-7-3h8m-4-3h8m-1-10h8m-3 15h8m-2-5h8m4 5h8m-105 11h8m-1-4h8m8 0h8m7 3h8m6 7h8m-4 7h8m3-7h8m-8 3h8m-6-1h8m-5 3h8m-7-17h8m-2 6h8m-5 13h8m3-7h8m-88 19h8m10 4h8m-4-13h8m-3 7h8m-7 10h8m-1-18h8m-7 7h8m-8-5h8m-8 13h8m12 3h8m-4-6h8m-8-5h8m19 4h8m-68 21h8m-6-6h8m14-3h8m7 10h8m16-11h8m-7 14h8m-8-4h8m-82 19h8m-7 4h8m3-11h8m1 1h8m-4 7h8m-12 19h8"/>
<rect x="40" y="76.9" width="32.4" height="33.4" fill="none" stroke="#7a7a7c" stroke-width="0.75"/>
<rect x="75.5" y="63.1" width="15.8" height="13.8" fill="none" stroke="#7a7a7c" stroke-width="0.75"/>
<rect x="75.5" y="76.9" width="15.8" height="33.4" fill="none" stroke="#7a7a7c" stroke-width="0.75"/>
<rect x="40" y="34.1" width="77" height="76.2" fill="none" stroke="#231f20" stroke-width="1.1"/>
<path d="M38.4 74.03h1.6M38.4 71.7h1.6M38.4 70.05h1.6M38.4 68.77h1.6M38.4 67.73h1.6M38.4 66.84h1.6M38.4 66.08h1.6M38.4 65.4h1.6M38.4 60.86h1.6M38.4 58.55h1.6M38.4 56.91h1.6M38.4 55.64h1.6M38.4 54.61h1.6M38.4 53.73h1.6M38.4 52.97h1.6M38.4 52.3h1.6M38.4 47.97h1.6M38.4 45.78h1.6M38.4 44.23h1.6M38.4 43.03h1.6M38.4 42.05h1.6M38.4 41.22h1.6M38.4 40.5h1.6M38.4 39.87h1.6M37.2 39.3h2.8M37.2 51.7h2.8M37.2 64.8h2.8M37.2 78h2.8M37.2 97.3h2.8M38.6 80h1.4M38.6 82.36h1.4M38.6 84.73h1.4M38.6 87.09h1.4M38.6 89.45h1.4M38.6 91.82h1.4M38.6 94.18h1.4M38.6 96.55h1.4M38.6 98.91h1.4M38.6 101.27h1.4M38.6 103.64h1.4M38.6 106h1.4M55.7 110.3v2.6M81 110.3v2.6M97.2 110.3v2.6M111 110.3v2.6M43 110.3v1.4M46 110.3v1.4M49 110.3v1.4M52 110.3v1.4M55 110.3v1.4M58 110.3v1.4M61 110.3v1.4M64 110.3v1.4M67 110.3v1.4M70 110.3v1.4M85.88 110.3v1.4M88.73 110.3v1.4M90.75 110.3v1.4M92.32 110.3v1.4M93.61 110.3v1.4M94.69 110.3v1.4M95.63 110.3v1.4M96.46 110.3v1.4M101.35 110.3v1.4M103.78 110.3v1.4M105.51 110.3v1.4M106.85 110.3v1.4M107.94 110.3v1.4M108.86 110.3v1.4M109.66 110.3v1.4M110.37 110.3v1.4M76 110.3v1.4M78 110.3v1.4" stroke="#231f20" stroke-width=".7" fill="none"/>
<text x="36" y="42.2" font-size="5.6" text-anchor="end" stroke="#231f20" stroke-width="0.1">10<tspan font-size="4.0" dy="-2.3">5</tspan></text>
<text x="36" y="54.6" font-size="5.6" text-anchor="end" stroke="#231f20" stroke-width="0.1">10<tspan font-size="4.0" dy="-2.3">4</tspan></text>
<text x="36" y="67.7" font-size="5.6" text-anchor="end" stroke="#231f20" stroke-width="0.1">10<tspan font-size="4.0" dy="-2.3">3</tspan></text>
<text x="36" y="80.9" font-size="5.6" text-anchor="end" stroke="#231f20" stroke-width="0.1">10<tspan font-size="4.0" dy="-2.3">2</tspan></text>
<text x="35" y="99.3" font-size="5.8" text-anchor="end" stroke="#231f20" stroke-width="0.1">0</text>
<text x="55.7" y="120.2" font-size="6" text-anchor="middle" stroke="#231f20" stroke-width="0.1">0</text>
<text x="82.2" y="120.2" font-size="6" text-anchor="middle" stroke="#231f20" stroke-width="0.1">10<tspan font-size="4.2" dy="-2.2">3</tspan></text>
<text x="99" y="120.2" font-size="6" text-anchor="middle" stroke="#231f20" stroke-width="0.1">10<tspan font-size="4.2" dy="-2.2">4</tspan></text>
<text x="112.8" y="120.2" font-size="6" text-anchor="middle" stroke="#231f20" stroke-width="0.1">10<tspan font-size="4.2" dy="-2.2">5</tspan></text>
<text x="56.75" y="65.35" font-size="5.5" text-anchor="middle" textLength="27" lengthAdjust="spacingAndGlyphs" stroke="#231f20" stroke-width="0.1">CD4+Tcons</text>
<text x="56.75" y="70.95" font-size="5.5" text-anchor="middle" stroke="#231f20" stroke-width="0.1">91.5</text>
<text x="101.75" y="54.55" font-size="5.5" text-anchor="middle" textLength="24" lengthAdjust="spacingAndGlyphs" stroke="#231f20" stroke-width="0.1">Foxp3GFP</text>
<text x="101.75" y="60.95" font-size="5.5" text-anchor="middle" stroke="#231f20" stroke-width="0.1">0.055</text>
<text x="104.1" y="91.45" font-size="5.5" text-anchor="middle" textLength="18.2" lengthAdjust="spacingAndGlyphs" stroke="#231f20" stroke-width="0.1">CD45.1</text>
<text x="104.1" y="97.35" font-size="5.5" text-anchor="middle" textLength="18" lengthAdjust="spacingAndGlyphs" stroke="#231f20" stroke-width="0.1">+Foxp3</text>
<text x="104.1" y="102.95" font-size="5.5" text-anchor="middle" stroke="#231f20" stroke-width="0.1">3.71</text>
<text x="193.5" y="27.7" font-size="9.3" text-anchor="middle" textLength="54.8" lengthAdjust="spacingAndGlyphs" stroke="#231f20" stroke-width="0.1">α-GalCer-lipo</text>
<clipPath id="gc1"><rect x="156.1" y="77.1" width="29.8" height="30"/></clipPath>
<g clip-path="url(#gc1)"><ellipse cx="170.5" cy="83.4" rx="8.5" ry="5.6" fill="#3049a8" fill-opacity=".85" filter="url(#bl2)"/></g>
<path transform="scale(.1)" stroke="#3049a8" stroke-width="8" d="M1665 683h8m28 13h8m-65 23h8m14-12h8m16 4h8m7-8h8m65 15h8m-192 3h8m-1 17h8m-4-14h8m13 10h8m26 5h8m22-1h8m-134 18h8m84-6h8m36 7h8m14-3h8m43-2h8m34 6h8m-220 19h8m26-13h8m3 14h8m1 1h8m-7-2h8m-6-2h8m-5 1h8m4 0h8m24-14h8m-8 1h8m3 12h8m-7-11h8m-5 14h8m10 1h8m0-4h8m-1 4h8m-3-2h8m-2-1h8m-8-11h8m-1 10h8m12 0h8m-5 3h8m-7 1h8m1-2h8m18-3h8m-251 9h8m-6 6h8m-5 8h8m-1-8h8m7 8h8m0-11h8m-7-1h8m-8 1h8m-4 9h8m-7 3h8m-7-5h8m-8 4h8m-7 2h8m-6-7h8m-5 0h8m-8-4h8m-6 7h8m-6 0h8m-1 4h8m-5-5h8m1-13h8m-7-1h8m-6 11h8m-8-6h8m-2 3h8m-7 0h8m-5 10h8m-5-12h8m-6 11h8m-8 2h8m-5-10h8m-7 9h8m-7-8h8m-1-4h8m-2 13h8m-5-9h8m-7-7h8m-6 11h8m-6-1h8m-6 2h8m0 0h8m-7-11h8m-8 13h8m-6-4h8m-3-5h8m-8 3h8m-8 8h8m-1-11h8m-8 3h8m-2 4h8m-8-14h8m-7 2h8m-7-2h8m-8 15h8m-7-4h8m-8-6h8m-5 8h8m-8-12h8m-7 2h8m-2 2h8m-4-4h8m-6 4h8m-6-4h8m-6 13h8m-7-7h8m-7-7h8m-4 12h8m-6-8h8m-2 6h8m-4 3h8m-8 4h8m5-3h8m2 3h8m-7-4h8m5-2h8m-6 7h8m2-8h8m-8 1h8m3-3h8m9 10h8m-286 20h8m1-18h8m5 4h8m12 7h8m-4 6h8m-8-15h8m-2 15h8m-6 1h8m-7-6h8m-6 0h8m-7 1h8m-7 5h8m-7-3h8m-7-11h8m0 11h8m-6-6h8m-7 0h8m-4-9h8m-7 4h8m-7-2h8m-5 1h8m-7 6h8m-7-8h8m-7 5h8m-8 11h8m-6-13h8m-5-5h8m-8 13h8m-8-6h8m-2-1h8m-5 1h8m-2 0h8m-5 4h8m-6-1h8m-7 5h8m-5-5h8m-7 6h8m-7 0h8m-8-8h8m-4 6h8m-8-13h8m-7 13h8m-7-6h8m-3 5h8m-5-3h8m-7 8h8m-6 1h8m-5-11h8m-6 0h8m-5-2h8m-6-1h8m-7 5h8m-7-5h8m-8 5h8m-6 6h8m-6-9h8m-8-3h8m-8 11h8m-5-1h8m-7-10h8m-6 12h8m-6-4h8m-5 6h8m-7 1h8m-5-4h8m-7-2h8m-8-1h8m-2-8h8m-6 2h8m-5 10h8m-6-15h8m-3 3h8m-6 4h8m-3 10h8m-6-11h8m-5 9h8m-2-2h8m-2 5h8m-4-8h8m-6-3h8m-7 11h8m-7-8h8m-5-10h8m-5 12h8m-5-9h8m-2 12h8m0-1h8m-4-15h8m6 13h8m-7-7h8m-6 12h8m-8-3h8m14-6h8m-274 12h8m-4 17h8m4-15h8m-6 8h8m-5-5h8m-4 13h8m-7-11h8m-3-7h8m-5 10h8m-6-9h8m-7-2h8m-8 10h8m-8 6h8m-1-9h8m-7 3h8m-8-4h8m-5 10h8m-7-12h8m-7 4h8m-7-4h8m-3 7h8m-2 6h8m-6-1h8m-5-14h8m-7 3h8m-6 12h8m-8 2h8m-7-12h8m-6-1h8m-5 13h8m-5-6h8m-8 3h8m-7-4h8m-8-6h8m-6 13h8m-8-15h8m-4 5h8m-8 6h8m-7-3h8m-7 2h8m-7-2h8m-7-1h8m-5 4h8m-8-9h8m-7 4h8m-8 0h8m-7 0h8m-7 3h8m-8-12h8m-7 6h8m-6 2h8m-7 4h8m-4-1h8m-4 5h8m-7-8h8m-6-2h8m-2-6h8m-8 4h8m-6 2h8m-7 3h8m-1 3h8m-7-9h8m-7 7h8m-5 2h8m-8 1h8m-5 2h8m-8 3h8m-5-18h8m-7 7h8m-7 3h8m-5 5h8m-8 0h8m-8-13h8m-8-3h8m-4 8h8m-7-5h8m-5 2h8m-6 2h8m-4 3h8m-6 2h8m-7 6h8m-7-14h8m-6 5h8m-6-4h8m-4 1h8m-6 12h8m-6-5h8m-4-4h8m-8 4h8m-3 1h8m-5 0h8m-7-6h8m-8 5h8m1-1h8m-6 7h8m-6-7h8m-7 3h8m1-7h8m-8 4h8m-8 5h8m-6-17h8m-5 10h8m-8 7h8m-7-16h8m9 12h8m25-10h8m-6 7h8m-256 25h8m-5-10h8m-6-5h8m-8 9h8m-6-4h8m-7 4h8m-6 6h8m-2 0h8m-1 4h8m-7-15h8m-7 4h8m-6 1h8m-6 1h8m-5-3h8m-7-6h8m-6 16h8m-6-4h8m-8 5h8m-6-5h8m-7 4h8m-7-3h8m-7 3h8m-7 2h8m-7-6h8m-5-1h8m-6 4h8m-6-5h8m-5 2h8m-7 4h8m-7-8h8m-6 10h8m-3-12h8m-8-6h8m-7 15h8m-8 0h8m-7-8h8m-6 1h8m-3-2h8m-6 6h8m-7-13h8m-6 10h8m-7-10h8m-7 16h8m-4-4h8m-4-5h8m-4-4h8m-7 0h8m-7-1h8m-7 8h8m-6-10h8m-6 16h8m-7-12h8m-4 12h8m-7-16h8m-4 13h8m-4-8h8m-8 4h8m-4-2h8m-6 5h8m-8 5h8m1-16h8m-8 7h8m-8 11h8m-1-13h8m-6 1h8m-7-4h8m-7 8h8m-8-4h8m-1-1h8m-7-4h8m-7 3h8m-7 3h8m-7-2h8m-7 12h8m-6-7h8m-3-4h8m-7 4h8m-7-6h8m-7-1h8m-7 5h8m-6 10h8m-7-19h8m1 10h8m-8 1h8m-7-4h8m16-5h8m-5 9h8m-8-3h8m-3 6h8m-8 5h8m-6-15h8m-8 3h8m-8 4h8m-7-2h8m-5-1h8m7 1h8m-265 22h8m-3 2h8m14-12h8m-6 16h8m-7-4h8m-6-5h8m4-4h8m-6 5h8m-1 0h8m-8 4h8m-5-13h8m-8 9h8m-5 9h8m2-7h8m-5 6h8m-8-5h8m-6-7h8m-8 12h8m-3-12h8m-2 14h8m-6-12h8m-6-2h8m-3-4h8m-8-1h8m-6 2h8m-8 13h8m-7-8h8m-5-2h8m-8-3h8m-7 14h8m-6-15h8m-8 15h8m-3-7h8m-4-8h8m-1 2h8m-5 15h8m-8-13h8m-6-3h8m-8 0h8m-5-2h8m-8 8h8m-8-2h8m-3-5h8m-2 6h8m-8-4h8m-7 1h8m-8 9h8m-7-2h8m-6-3h8m-7 6h8m-7-7h8m-8 3h8m-8 1h8m-5 2h8m-8-2h8m-4 5h8m-7-11h8m-5 2h8m-7-4h8m-7 3h8m-6 4h8m-7 1h8m-7-10h8m-6 10h8m-5 4h8m-4 2h8m-5-7h8m-5-9h8m-6 11h8m-6-11h8m-6 2h8m-5 16h8m-5-8h8m-8-8h8m-7 7h8m-3 8h8m-7-13h8m-7 7h8m-2-1h8m-5-1h8m-5 5h8m-7-2h8m-5-9h8m2-1h8m-7 8h8m-1 1h8m-5-8h8m15 1h8m-5-5h8m-6 1h8m-275 28h8m-2-1h8m11 6h8m-4-13h8m-7 8h8m-1-9h8m4 0h8m-7 0h8m-6 2h8m-7 4h8m-7 13h8m-5-11h8m-5 10h8m-7-1h8m-2-7h8m-1 2h8m-5 4h8m-3-5h8m-6 3h8m-2-11h8m-7 3h8m-8-5h8m0 2h8m-4 8h8m-4-7h8m-6 11h8m-6-6h8m-4 9h8m-6-1h8m-6 2h8m-7-7h8m-4-10h8m-3 11h8m-8-9h8m-7 0h8m-4 5h8m-6 2h8m-6-9h8m-7 11h8m0-5h8m-3-8h8m-7 18h8m-6-11h8m-7 1h8m-6-6h8m-8 0h8m-4 10h8m-7-10h8m9 10h8m-2-6h8m-7-3h8m-5 1h8m-4 12h8m-6-4h8m1-4h8m-7-2h8m-8-1h8m-5 14h8m-7-10h8m-5-6h8m3 6h8m-6 10h8m-1-10h8m-2 7h8m3-3h8m6 0h8m-4-1h8m-4 6h8m-250 13h8m-5-7h8m6 11h8m7-7h8m-7-4h8m-7 15h8m-5-17h8m-7 1h8m-4 0h8m-4 0h8m-4-3h8m-5 8h8m-4 6h8m-3 1h8m-8-14h8m-2 4h8m-4 7h8m-3-4h8m-5-4h8m-5 6h8m-1 2h8m-3 5h8m-8-5h8m-7-9h8m-7-2h8m-7 10h8m-7-7h8m-8 2h8m-1 11h8m-3-10h8m-8 0h8m-5 1h8m-6-7h8m-2 13h8m2-11h8m-7 12h8m1-9h8m-6-6h8m-3 14h8m0-6h8m-2 10h8m-4-18h8m-7 2h8m-5 11h8m4-4h8m7 9h8m3-3h8m-5-9h8m-5 9h8m-259 23h8m-3 1h8m7-9h8m-8-9h8m-5 14h8m10-12h8m-3 9h8m8-9h8m-5-1h8m-6 2h8m-6 10h8m-7 4h8m-6-2h8m-3-7h8m-5-6h8m1 11h8m-6-7h8m-5-1h8m-5 4h8m-5 3h8m-4 2h8m-6-5h8m-4-10h8m-8 6h8m17-4h8m-6 4h8m-7 10h8m-4-6h8m-5-5h8m-8 1h8m-7 0h8m3 7h8m5 1h8m-7 3h8m-8-4h8m2-13h8m20 3h8m3 2h8m-8 14h8m-6 0h8m-5-11h8m-7 3h8m41-7h8m-223 31h8m2 3h8m-4-2h8m-6-14h8m7 8h8m-2 1h8m14 2h8m-4-3h8m14-8h8m-1 17h8m24-14h8m-5 4h8m-5-6h8m37 8h8m-204 15h8m86-6h8m19 15h8m-2 4h8m32-3h8m8-12h8m-1-2h8m-173 24h8m16 0h8m2-5h8m28 4h8m36 14h8m25-15h8m25 15h8m1-14h8m29 3h8m-210 22h8m-6-8h8m-8 15h8m20 0h8m43-2h8m9 4h8m64-7h8m6 3h8m-182 19h8m37-11h8m13 2h8m91 5h8m-72 16h8m37-1h8m-6 1h8m-208 28h8m34-9h8m8 10h8m56-14h8m-8 3h8m14 1h8m22-4h8m9 13h8m-125 19h8m117-11h8" stroke-opacity=".45"/>
<path transform="scale(.1)" stroke="#3049a8" stroke-width="8" d="M1632 654h8m140-11h8m-96 65h8m-81 17h8m8 8h8m-6-13h8m46 18h8m-2 1h8m0-14h8m2-2h8m-86 36h8m59-9h8m-112 24h8m-6 0h8m22-4h8m26 8h8m-6-3h8m1 4h8m-2-3h8m-3 2h8m-3-18h8m-3 11h8m11-7h8m-7 11h8m-6 3h8m1-2h8m7 3h8m-6-16h8m6 2h8m-5 13h8m8 0h8m20 0h8m1-2h8m-259 21h8m-5 0h8m24-5h8m-3 7h8m-1-16h8m1 9h8m-6-4h8m-2 0h8m-6 6h8m-1-9h8m-4-4h8m-8 1h8m-5 13h8m-3-15h8m-6 8h8m-5 0h8m-7 0h8m-7 8h8m-5-3h8m-8-1h8m-5 6h8m-6-1h8m-6-9h8m-7 7h8m-5-6h8m-7-1h8m-8-2h8m-8 2h8m-5 9h8m-2-13h8m-6 4h8m-6 2h8m-3-9h8m-3 13h8m-7-10h8m-6 15h8m-6-18h8m-5 8h8m-8 7h8m-6-2h8m-8-2h8m-4-6h8m-6 11h8m-6-4h8m-7-10h8m-8 6h8m-8-8h8m-7 11h8m-7-5h8m-8-6h8m-5 16h8m-6-3h8m-5-11h8m-4 6h8m-6 9h8m-6-2h8m-7-13h8m-3 16h8m-8-9h8m-3 1h8m-7 3h8m-5 4h8m-6-13h8m-8 5h8m-7 4h8m-1-6h8m-8 5h8m-4-9h8m-7 11h8m-7-3h8m-8 5h8m-8-10h8m-4 10h8m-7-17h8m-7 9h8m-8 5h8m-4-13h8m-8 0h8m-1 13h8m-6-10h8m-7 11h8m-8-5h8m-2 2h8m-6-8h8m-8 2h8m-6 3h8m-6 8h8m10-3h8m-7-7h8m16 8h8m-3-4h8m-276 10h8m-6 6h8m2-5h8m-4 4h8m-6 6h8m7-4h8m-5 3h8m-6-10h8m-2 14h8m-7-9h8m-6-6h8m-8 6h8m-5-1h8m-3 4h8m-6-3h8m-4 5h8m-5 1h8m-8-3h8m-7 3h8m-8-1h8m-5 1h8m-7 2h8m-5-6h8m-4 8h8m-7 0h8m-6-7h8m-7 7h8m-7-10h8m-7 11h8m-7-10h8m-2 3h8m-7-7h8m-8 14h8m-8-4h8m-5-9h8m-7 8h8m-3 3h8m-4-8h8m-8 0h8m-5-3h8m-8 5h8m-8-3h8m-1 4h8m-5 6h8m-7-2h8m-6-3h8m-5-5h8m-7 11h8m-8-2h8m-7-9h8m-7 13h8m-1 0h8m-6-6h8m-8-9h8m-7 9h8m-4-4h8m-8 7h8m-6-16h8m-8 12h8m-7-8h8m-8 6h8m-8-1h8m-7-4h8m-8 8h8m-6 3h8m-3-12h8m-8 8h8m-5-4h8m-8 5h8m-8 0h8m-7-12h8m-8 7h8m-8-5h8m-6-2h8m-8 6h8m-5 12h8m-8-1h8m-6-7h8m-1-8h8m-5-2h8m-7 18h8m-6-6h8m-3 2h8m-7-12h8m-3-1h8m-7 15h8m-8-10h8m-6-7h8m-8 1h8m-4 5h8m1 13h8m-7-10h8m-6-5h8m-5 7h8m-7-10h8m-6 10h8m-5-11h8m-8 9h8m-6-4h8m-4 5h8m-5 2h8m-5-11h8m-8 18h8m-8-5h8m-3-4h8m-5-4h8m-7 10h8m-1-10h8m-4 0h8m7-4h8m0 11h8m-285 17h8m2-3h8m-4-3h8m10 2h8m-8 3h8m-7 4h8m-6-10h8m-7 8h8m-3 3h8m-7 2h8m-5-5h8m-8-3h8m-4 9h8m-8 0h8m-7-8h8m-7-2h8m-5-1h8m-6-6h8m-2 16h8m-6-11h8m-5 9h8m-8 4h8m-1-13h8m-5 2h8m-2 10h8m-6-2h8m-8-4h8m-8 5h8m-8-9h8m-7 10h8m-5-10h8m-4-2h8m-4 14h8m-7-2h8m-7-4h8m-8-2h8m-7-2h8m-6-3h8m-7 10h8m-6-11h8m-8-3h8m-5 17h8m-7 0h8m-5 0h8m-6-2h8m-8-10h8m-5-3h8m-8 2h8m-5-3h8m-7-1h8m-8 5h8m-6 7h8m-8-14h8m-6 15h8m-7-2h8m-6-12h8m-8 1h8m-6 9h8m-5 7h8m-7 1h8m-7-7h8m-7 2h8m-5 2h8m-6-15h8m-8 1h8m-6 3h8m-4-2h8m-5-3h8m-6 14h8m-7 0h8m-5 5h8m-5-1h8m-8-17h8m-6 13h8m-6 2h8m-6-10h8m-5 4h8m-8-2h8m-8 10h8m-6-7h8m-7-11h8m-6 5h8m-6 1h8m-8-5h8m-7 16h8m-8-6h8m-5 8h8m-7-10h8m-6 0h8m-8 7h8m-6-8h8m-7 9h8m-7-13h8m-6-2h8m-6-2h8m-5 6h8m-8-5h8m3 9h8m-8-5h8m-4-5h8m-2 15h8m0-13h8m-6 15h8m-8-17h8m-6 4h8m-4 11h8m-7-6h8m-2 4h8m-2-4h8m-7 1h8m-6 1h8m-5-11h8m10 4h8m3 4h8m-5 8h8m-6 2h8m-4-12h8m-2 0h8m-298 16h8m-3 14h8m-7 1h8m-5-14h8m-7 4h8m-4 8h8m-1-11h8m7 7h8m-6 5h8m-7 2h8m-6-14h8m-8-4h8m-4 3h8m-7 0h8m-4 11h8m-5-12h8m-3 3h8m-5 4h8m-1 4h8m-5 2h8m-7-13h8m-6 5h8m-4-5h8m-7 6h8m-5 7h8m-7 3h8m-7-13h8m-8-4h8m-4 4h8m-3 3h8m-5-2h8m-6-1h8m-4 9h8m-5-12h8m-7 0h8m-7 16h8m-8-2h8m0-2h8m-5 4h8m-7-12h8m-6 2h8m-7 2h8m-5-5h8m-4-5h8m-2 7h8m-5 7h8m-5-5h8m-7 4h8m-8-9h8m-6-1h8m-7 5h8m-8 10h8m-7-7h8m-6 4h8m-6-12h8m-6-1h8m-7 6h8m-4 1h8m-8-5h8m-6 11h8m-7-5h8m-8-4h8m-7 8h8m-7-12h8m-8 16h8m1-10h8m-6-7h8m-6 17h8m-7-18h8m-7 3h8m-8 6h8m-6-3h8m-7-5h8m-8 1h8m-7 6h8m-8-6h8m-7 17h8m-8-19h8m-6 13h8m-6-6h8m-4 9h8m-4-11h8m-8 5h8m-6-4h8m-7 6h8m-7-7h8m-6 10h8m-4 1h8m-5-1h8m-5-2h8m-2-7h8m-5 3h8m0 4h8m-1-2h8m-2-2h8m16-5h8m2 2h8m1 6h8m-6-10h8m-261 30h8m-3 0h8m-3 1h8m-3 1h8m-2-13h8m-2 15h8m-7-15h8m-4-1h8m-4 4h8m-7-3h8m-4 15h8m-8 0h8m-2 3h8m-4-1h8m-6-15h8m-5-1h8m-7 8h8m-6-7h8m-8 8h8m-6-2h8m-7 0h8m-8 2h8m-7-6h8m1-4h8m-4 8h8m-6 7h8m-6-14h8m-8 4h8m-8 9h8m-6-8h8m-5 8h8m-6-2h8m-7-2h8m-7 3h8m-7-4h8m-7-8h8m-7 7h8m-7-5h8m-7-1h8m-7 9h8m-7 2h8m-6-10h8m-5-2h8m-8 12h8m-7-14h8m-3 4h8m-7 15h8m-5-12h8m-7 7h8m-6-2h8m-8-4h8m-5 9h8m-4-5h8m-8-5h8m-7 8h8m-8-8h8m-6 0h8m-5 11h8m-7-10h8m-6-2h8m-7-3h8m-4-3h8m-3 17h8m-8-7h8m-6 1h8m-6 7h8m-6-7h8m-5 1h8m-6 5h8m-5 1h8m-6-2h8m-7-13h8m-4 11h8m-7-9h8m-8 14h8m-1 0h8m-4-13h8m5 0h8m4 1h8m-5 0h8m-5-1h8m-7 8h8m-2-9h8m-6 10h8m1-12h8m-1-2h8m-4 17h8m-265 3h8m23 2h8m-7 3h8m1 9h8m-7 1h8m-7-8h8m-5 7h8m-3-9h8m-8 6h8m-7-2h8m-5-3h8m-5-3h8m-7 2h8m-7 1h8m-5 2h8m-7-3h8m-3 3h8m-5 3h8m-7 5h8m-7-16h8m-6 17h8m-2-10h8m-2-1h8m-7 10h8m-7-9h8m-2-7h8m-4 13h8m-2-1h8m-3 1h8m-5-1h8m-7-7h8m-6 10h8m-7-15h8m-6 8h8m-6 6h8m-7-1h8m-4-14h8m-8 12h8m-6-7h8m2-1h8m-8-1h8m-4 5h8m-7 1h8m10 1h8m4-10h8m-7 0h8m-7 5h8m-6 1h8m-5 1h8m-6 8h8m-3 3h8m-7-1h8m-6-5h8m6-9h8m-4 1h8m-8-3h8m1 1h8m10-2h8m7 16h8m-2-7h8m-254 27h8m1-13h8m-4 2h8m1-1h8m4 14h8m-7-3h8m-4-12h8m8 8h8m3 5h8m-4-10h8m-7 3h8m-4 6h8m1 1h8m-1-7h8m-6-6h8m-5 0h8m4 2h8m-6 4h8m-2 0h8m-8-9h8m-7 2h8m-8 13h8m-7-3h8m-7 4h8m-3-13h8m-6 9h8m4-7h8m-5 10h8m-6 0h8m-1-2h8m-7-6h8m-6 1h8m-6-5h8m2 7h8m-3-5h8m4 12h8m4-10h8m6-1h8m-6-5h8m10 5h8m-1 1h8m-5-2h8m-8-3h8m19 13h8m-294 7h8m38 13h8m15-3h8m15-8h8m-5 4h8m4 10h8m3-14h8m-2 2h8m1 9h8m13 0h8m-3 3h8m-7-10h8m-1 5h8m-2-6h8m14 6h8m-4 3h8m10-10h8m38 4h8m10-1h8m-274 18h8m-2 2h8m-1 3h8m0-5h8m10-3h8m-3 7h8m12 2h8m25-9h8m3 14h8m25-15h8m6 3h8m-6-2h8m-3 5h8m1-2h8m-2-3h8m-4 12h8m3-16h8m19 1h8m-7 11h8m24 4h8m5-7h8m-281 15h8m81 1h8m24 1h8m2 0h8m-2-4h8m-7 10h8m3-3h8m6-2h8m1-1h8m9 8h8m5-3h8m47 7h8m-274 6h8m48 3h8m-4 6h8m25-9h8m2-4h8m16 11h8m-6-1h8m-5-4h8m4-6h8m9 14h8m34-11h8m-193 20h8m4 15h8m51-16h8m58 4h8m97 7h8m-184 19h8m8-2h8m78-1h8m7-4h8m59 7h8m-241 23h8m192-9h8m-148 28h8m39-8h8m74 9h8m48-4h8m-187 9h8m40 9h8m94 4h8" stroke-opacity=".45"/>
<path transform="scale(.1)" stroke="#3049a8" stroke-width="8" d="M1824 657h8m-49 40h8m-170 10h8m104 6h8m11 0h8m31-6h8m-189 14h8m43 7h8m89 10h8m61-9h8m-4-9h8m-205 20h8m1 3h8m42 1h8m55 10h8m54 3h8m-236 21h8m3-2h8m-5-1h8m2 2h8m1-2h8m20 0h8m-5 4h8m-6-1h8m-2-1h8m1 2h8m-7 0h8m9-4h8m-5 1h8m-8 2h8m8-1h8m3 0h8m-2 0h8m15 1h8m-6-1h8m1 0h8m-7 0h8m-8-1h8m-3 1h8m-6 0h8m-5-2h8m-7 0h8m-3 1h8m-3-2h8m-3-1h8m11 6h8m-6-4h8m1 4h8m-262 18h8m-5-13h8m11-1h8m1 8h8m0 6h8m3-3h8m-3 3h8m-8-5h8m-8 6h8m-6-16h8m-2 17h8m-2-17h8m-3 15h8m-6-2h8m-3-4h8m-8-8h8m-4 4h8m-6 3h8m-7-3h8m-6 3h8m-2-9h8m-7 17h8m-8-3h8m-4-13h8m-8 0h8m-5 13h8m-7-15h8m-8 10h8m3-6h8m-4 4h8m-7-8h8m-7 3h8m-6-3h8m-4 8h8m-6-5h8m-5 12h8m-7-4h8m-6 8h8m-7-10h8m-8 9h8m0-13h8m-6 10h8m-8-7h8m-7-1h8m-7-6h8m-4 17h8m-7-3h8m-7-11h8m-6 5h8m-7-1h8m-8 3h8m-7 5h8m-5-7h8m-8 2h8m-7-3h8m-7-5h8m-8 1h8m-6-4h8m-8 6h8m-2-3h8m-6 3h8m-6 1h8m2-4h8m-8 8h8m-5-5h8m-6 1h8m-7 6h8m-3-2h8m1 3h8m-5-4h8m-7-6h8m-8 5h8m-6 2h8m-3-3h8m-7-2h8m-5 2h8m-7-2h8m-6-1h8m-2-5h8m-2 18h8m-5-17h8m-7 7h8m-7 5h8m1 4h8m4-17h8m0 18h8m9-4h8m-285 13h8m1-7h8m-2 1h8m-6 16h8m-7-4h8m1-13h8m-5 16h8m-5-12h8m-7 9h8m-7 5h8m-7 0h8m-2-5h8m-6 0h8m-8-11h8m-8 3h8m-5 1h8m-6 11h8m-2-5h8m-3 6h8m-5-11h8m-6 9h8m-6 1h8m-6-7h8m-5 1h8m-3 0h8m-6-11h8m-4 19h8m-5-2h8m-8-10h8m-3-2h8m-7 12h8m-7-15h8m-7 2h8m-6-4h8m-5 13h8m-8-9h8m-4 12h8m-8 2h8m-7-15h8m-4 9h8m-4-10h8m-7 6h8m-8-3h8m-7 6h8m-7 1h8m-4-7h8m-8 9h8m-6-5h8m-6 4h8m-8-2h8m-7-6h8m-7 2h8m-5 4h8m-7 4h8m-6-13h8m-6-1h8m-7 15h8m-8 0h8m-6-11h8m-8-1h8m-7 12h8m-8-10h8m-3-4h8m-8 11h8m-6-7h8m-7-5h8m-5 15h8m-8-16h8m-3 18h8m-7-18h8m1 8h8m-7-7h8m-6 2h8m-8 13h8m-7-14h8m-8 16h8m-6-11h8m-6 7h8m-7 2h8m-6-9h8m-7-4h8m-3 4h8m-3-3h8m-6-2h8m-6 5h8m-6 11h8m-7-14h8m10 7h8m-8 0h8m5-7h8m-2-2h8m-7 10h8m4-2h8m-6-7h8m-5-3h8m1 8h8m-1 1h8m-7 3h8m-4-3h8m0 9h8m-277 14h8m-3-10h8m15 14h8m-4 2h8m-2 1h8m-8-12h8m-8-3h8m-6 5h8m-2 8h8m-4-10h8m-5 2h8m-7 2h8m-7-1h8m-5 8h8m-5-6h8m-6-12h8m-5 4h8m-5 15h8m-5-11h8m-8-4h8m-6 12h8m-7-12h8m-4 12h8m-3-1h8m-8-13h8m-5 13h8m-5-11h8m-7 15h8m-7-17h8m-8 1h8m-7 8h8m-7 2h8m-7 5h8m-7-17h8m-7 5h8m-3 0h8m-3-3h8m-6 8h8m-6 5h8m-7 0h8m-8 0h8m-7-11h8m-8-3h8m-7 16h8m-6-18h8m-6 19h8m-7-17h8m-8 10h8m-8-5h8m-7 1h8m-6-5h8m-8 3h8m-5 4h8m-4-3h8m-6 4h8m-7-3h8m-6-2h8m-8 11h8m-8-14h8m-5 3h8m-7 4h8m-7-7h8m-8 13h8m-6-12h8m-6 6h8m-8-10h8m-7 6h8m-5-5h8m-4 1h8m-5 1h8m-8 4h8m-6-4h8m-8 11h8m-6-5h8m-3-8h8m-5-1h8m-8 4h8m-5 1h8m-4-5h8m-8 16h8m-4-1h8m0 2h8m-7-17h8m-3 1h8m-1 1h8m-6 1h8m-4-2h8m-7 5h8m-7 4h8m-7-7h8m-3 11h8m15-14h8m-6 16h8m-3-3h8m-3 5h8m-6-13h8m-3-4h8m12 2h8m-287 22h8m5 5h8m-7-8h8m-6 17h8m-4-7h8m-7 3h8m-8-13h8m0 10h8m-7-3h8m-7-1h8m-5-8h8m-6 11h8m-5-10h8m-2 2h8m-4 7h8m-4 1h8m-4-8h8m-6 7h8m-7-3h8m-3-5h8m-6 13h8m-3-15h8m-5 19h8m-6-1h8m-8-11h8m-8 3h8m-5-7h8m-8 15h8m-5 0h8m-6 0h8m-6-5h8m-8-11h8m-7 6h8m-7 11h8m-8-3h8m-8-4h8m-6 2h8m-6-4h8m-6-5h8m-5-3h8m-5 11h8m-8-3h8m-7 4h8m-4-14h8m-8 2h8m-8 13h8m-8-15h8m-5 5h8m-7 6h8m-4 3h8m-8-3h8m-7-4h8m-6-2h8m-6-4h8m-4 11h8m-7-10h8m-7 7h8m-7 1h8m-6-5h8m-1-2h8m-8 12h8m-6-10h8m-8 7h8m-4 3h8m-8-14h8m-4 10h8m-3 5h8m-6 1h8m-6-4h8m-6 3h8m-8-14h8m-5 17h8m-3-12h8m-8 2h8m-3 1h8m-8-5h8m-6 3h8m-6 1h8m0 5h8m-1-5h8m-6-4h8m-4 1h8m-3-5h8m-7 2h8m-8 4h8m-7 1h8m-8 11h8m-5-14h8m-7 9h8m-1-11h8m-6 11h8m-7-13h8m-8 12h8m7 2h8m-7-13h8m-4 6h8m-7 5h8m-6 3h8m-6-1h8m-4-10h8m-8 5h8m17-8h8m1 1h8m-274 31h8m-7-6h8m31-8h8m-6 18h8m-3-1h8m3-9h8m-7-1h8m-6 11h8m-5-17h8m-1 0h8m-4 10h8m-7-8h8m-6 0h8m0-1h8m-6 1h8m-8 1h8m-6-2h8m-6 1h8m-4 2h8m-7 5h8m-8 3h8m-8 1h8m-7 0h8m-6-8h8m-7-4h8m-6 5h8m-5 1h8m-3-5h8m-7 13h8m-3-3h8m3-6h8m-7-5h8m-5 15h8m-7 0h8m-7-8h8m-5-7h8m-8 9h8m0-5h8m-1 9h8m-7-14h8m-3 5h8m-6-1h8m-6 12h8m-6-7h8m-8 1h8m4-11h8m-4 5h8m-6 4h8m-5 3h8m-7 5h8m-1-8h8m-6-8h8m-4 15h8m-5-10h8m-7 1h8m-5 0h8m-4-4h8m-2 0h8m-8-2h8m-3-1h8m2 7h8m2-7h8m0 13h8m-258 11h8m-1-3h8m1 10h8m2 1h8m2-11h8m-7 2h8m-8 4h8m8-1h8m5 5h8m-8-5h8m-4-5h8m-2 8h8m-8-2h8m-4-5h8m-5-2h8m-1 16h8m-6-4h8m-6-7h8m-5 14h8m-6-5h8m-5-11h8m-7 16h8m-5-3h8m-8-14h8m-5-2h8m-7 10h8m-5-5h8m-8-4h8m-7 5h8m-7 9h8m-2-5h8m-6 2h8m-5 0h8m-7 6h8m-8 0h8m-8-1h8m-1 2h8m-7-1h8m-7-15h8m-7 1h8m-8 9h8m-1 1h8m-6 0h8m-2-7h8m-7 6h8m-8-1h8m-7-10h8m-4 11h8m-7 3h8m-4 0h8m-8-16h8m-4 17h8m-8-10h8m-7-6h8m-3 4h8m-3 4h8m9 2h8m-6-10h8m-3 16h8m-2-6h8m-5 8h8m-7-6h8m-1-9h8m-3 3h8m4 7h8m7-7h8m-257 24h8m12-7h8m17 6h8m-6-5h8m-4 0h8m3 3h8m-7-2h8m10 11h8m0-1h8m-7-11h8m-8 11h8m-8-8h8m-1 6h8m-4 5h8m-6-14h8m-7 13h8m-6-14h8m-5 8h8m5-4h8m-4-6h8m-5 12h8m0-7h8m-4-5h8m2 11h8m5-2h8m-4-7h8m-8 11h8m-6-10h8m-6-2h8m-7 9h8m-3 4h8m-7-14h8m6 8h8m-8-10h8m-3 8h8m-6-7h8m1 10h8m-7-9h8m1 6h8m-5-2h8m-7 1h8m-3-6h8m-6 12h8m1-3h8m1 0h8m6 3h8m-236 8h8m-2 17h8m-5-17h8m30 13h8m0-13h8m-1 6h8m-8 1h8m-7 7h8m-1-15h8m-4 11h8m-7-8h8m0 13h8m-7-7h8m-1-4h8m0-1h8m-5 6h8m-6-9h8m-8 13h8m-6-5h8m-7 7h8m-7-8h8m-2 6h8m-7-14h8m17 8h8m3-8h8m-1 3h8m-8 5h8m5-7h8m-4 0h8m1 9h8m17 5h8m-249 22h8m21-15h8m2 16h8m2 0h8m8-4h8m2-13h8m4 3h8m-3 7h8m-3-11h8m2 0h8m-5 11h8m-4 6h8m-1-4h8m-5-1h8m-2 3h8m-5-13h8m6 15h8m10-16h8m-1 6h8m-3 8h8m-4 1h8m48-8h8m12 2h8m-272 12h8m60 6h8m-5-8h8m29 12h8m15-7h8m-7-4h8m-5 12h8m-3-9h8m-2-2h8m-3 17h8m-4-19h8m-1 3h8m-3 9h8m-4-9h8m-3 0h8m-5 13h8m-6 1h8m2-13h8m4 15h8m19-1h8m5-15h8m5 0h8m-233 19h8m-4 5h8m1 12h8m71-2h8m-2 0h8m19 2h8m5-6h8m-3 4h8m2-12h8m-5 12h8m14-5h8m-182 9h8m19 3h8m-4-1h8m21 11h8m-2-12h8m0 1h8m22-1h8m-1-2h8m24 13h8m3 5h8m5-14h8m33-2h8m-1 17h8m-171 12h8m9 1h8m-3 4h8m81-2h8m4 1h8m20-11h8m-259 22h8m152-3h8m-128 23h8m73 7h8m59-4h8m8 6h8m38-12h8m-239 24h8" stroke-opacity=".45"/>
<path transform="scale(.1)" stroke="#3049a8" stroke-width="8" d="M1821 688h8m-186 15h8m17 5h8m117-8h8m-2 7h8m24 0h8m-256 27h8m79-2h8m39 2h8m-5-7h8m26-1h8m-104 25h8m1 6h8m-5-4h8m36 3h8m1-12h8m-33 30h8m-7-10h8m0 11h8m-6 4h8m0-4h8m-4 4h8m0-4h8m5-13h8m3 15h8m6 0h8m4-2h8m9-9h8m29 10h8m-262 23h8m-1-1h8m-6-10h8m-5-8h8m-3 6h8m-8 9h8m-6-12h8m-8 8h8m-5-4h8m-8 8h8m-6-14h8m-8 12h8m-2-10h8m-7-2h8m-8-1h8m0 6h8m-6 13h8m-5-5h8m-5-14h8m-6 6h8m-2-1h8m-4 7h8m-3 3h8m-7 0h8m-7 1h8m-7 2h8m-7-15h8m-6 9h8m-4 7h8m-7-15h8m-8 13h8m-7-3h8m-7 1h8m-8-14h8m-6 13h8m-7-8h8m-6 13h8m-6-11h8m-6-1h8m-5 7h8m-6-12h8m-5-1h8m-7 9h8m-7 0h8m-7 4h8m-7-5h8m-7-6h8m-3 1h8m-8 15h8m-7-6h8m-7-12h8m-7 14h8m-8-7h8m-6-7h8m-1 1h8m-7 13h8m-6-15h8m-5 3h8m-2 11h8m-5-14h8m-6 1h8m-8 14h8m-5-1h8m0-11h8m-7-1h8m-2 3h8m-7 8h8m-8-3h8m-4-4h8m-4 6h8m-8-2h8m-5-9h8m-7 13h8m-4 5h8m-8-9h8m-7 1h8m-7-11h8m-7 8h8m-5-1h8m-8 11h8m-7-11h8m-4-3h8m-7 10h8m-8 4h8m-3-16h8m-6 13h8m-7-5h8m-6 6h8m-6-6h8m-3-3h8m-7 8h8m0 3h8m-7-2h8m-7 2h8m-4 0h8m-3-7h8m1 7h8m-7-13h8m-7 12h8m-5-13h8m-7 4h8m-6 3h8m-2-11h8m-7 16h8m-7-15h8m4 3h8m-4 6h8m-7 5h8m11-3h8m-284 10h8m-7 3h8m-5-3h8m1 8h8m-7 3h8m-4-8h8m-2 13h8m-7-5h8m-4 1h8m-6 4h8m-7-7h8m-8-9h8m-7 11h8m-4-1h8m-7-4h8m-6-1h8m-2 12h8m-7-8h8m-4-9h8m-8 3h8m-7 4h8m-7 8h8m-7-15h8m-6 6h8m-6 7h8m-5 0h8m-8-11h8m-4 8h8m-6-9h8m-8 9h8m-6-4h8m-4-6h8m-5 17h8m-6-18h8m-4 2h8m-5-1h8m-8 8h8m-7 6h8m-7-4h8m-8-10h8m-8 7h8m-8 3h8m-8 4h8m-3-11h8m-8 10h8m-7-3h8m-4-4h8m-6-5h8m-6 12h8m-5 4h8m-8-2h8m-6-17h8m-7 2h8m-8 14h8m-6 1h8m-7-10h8m-7 5h8m-3-1h8m-8-9h8m-7 8h8m-5-7h8m-8 9h8m-7 0h8m-7 1h8m-7-4h8m-6 1h8m-7-3h8m-4 5h8m-8-12h8m-8 1h8m-5 18h8m-7-16h8m-7 7h8m-4-8h8m-7 11h8m-4-2h8m-8-8h8m-8 15h8m-5-3h8m-6-10h8m-6 8h8m-8-10h8m5 16h8m-6-4h8m-6-15h8m-7 18h8m-7-17h8m-6 10h8m-8-10h8m-7 9h8m-2 8h8m-6-12h8m-8 6h8m-3-6h8m1 3h8m-3 7h8m-6 1h8m-7-7h8m-6-6h8m1 9h8m-8 5h8m-6-4h8m-6-10h8m4 8h8m-3-5h8m-4-5h8m-5 13h8m18-6h8m-284 12h8m-1 15h8m1 3h8m17-11h8m-4 11h8m-5-18h8m-8 3h8m-5 1h8m-8 13h8m-7-9h8m1 9h8m-5-7h8m-8 2h8m-6 0h8m-6-11h8m-7 17h8m-8-5h8m-7-11h8m-7 15h8m-4-15h8m-3 13h8m-6-1h8m-7 2h8m-5-8h8m-7 8h8m-7 0h8m-8-1h8m-2-7h8m-7 3h8m-7 1h8m-7 5h8m-1-2h8m-4-7h8m-7-1h8m-7 7h8m-7 1h8m-6-4h8m-5 4h8m-8 0h8m-2-14h8m-8 8h8m-6-4h8m-8 8h8m-7-10h8m-7 15h8m-8-4h8m-7 3h8m-7 0h8m-7-8h8m-8 8h8m-6-3h8m-4-4h8m-8-10h8m-7 5h8m-7 7h8m-5-5h8m-7 10h8m-7-14h8m-8 1h8m-6-2h8m-7 0h8m-6-2h8m-7 16h8m-7-8h8m-8 7h8m-8-3h8m-7 5h8m-7-14h8m-6 11h8m-5-2h8m-6 1h8m-7-11h8m-7 3h8m-8 9h8m-4-14h8m-8 17h8m-8-7h8m-7-11h8m-8 3h8m-7 1h8m-7 0h8m-7 5h8m-7 2h8m-8-6h8m-8 1h8m-6-1h8m-7 11h8m-6-9h8m-8 8h8m-6-5h8m-5-6h8m-7 12h8m-6-1h8m-5-11h8m-8-3h8m-6 17h8m-8-15h8m-3 14h8m-4-7h8m-8 0h8m-8-3h8m-2-7h8m-8 3h8m-6 0h8m-3 4h8m-5 10h8m-4 1h8m-7-15h8m-6 8h8m-7 2h8m-6-1h8m3 3h8m2-13h8m8 2h8m3-2h8m-278 30h8m-1 1h8m-5-8h8m-7-3h8m-4 6h8m0 2h8m8 3h8m-8 4h8m2-9h8m-3 8h8m-8 3h8m-4-15h8m-8-4h8m-3 17h8m-8-5h8m-2-7h8m-7 12h8m-1-15h8m-1 2h8m-6 12h8m-6 0h8m-7 2h8m-3-13h8m-6 11h8m-6-5h8m-7-2h8m-8 8h8m-6-1h8m-7-14h8m-8-1h8m-8 0h8m-5 12h8m-7-2h8m-6-4h8m-8 4h8m-6-5h8m-7-1h8m-7-3h8m-7 14h8m-4-7h8m-7 4h8m-8 5h8m-4-2h8m-6-9h8m-4 12h8m-7-18h8m-6 7h8m-4 3h8m-5 0h8m-8 8h8m-7-7h8m-7-12h8m-7 5h8m-2 4h8m-8-6h8m-6 4h8m-6 6h8m-5-8h8m-7-4h8m-6 10h8m-7 7h8m-3-13h8m-8 2h8m-6-3h8m-7 1h8m-5 13h8m-7-4h8m2-12h8m-7 5h8m-5-3h8m-6 13h8m-6 0h8m-3-17h8m-6 11h8m-6 5h8m-1-7h8m-2-7h8m-7 9h8m-7-11h8m-5 11h8m-1-1h8m-8 7h8m-7-15h8m-7 8h8m1-6h8m-6 5h8m0 3h8m7-6h8m5 5h8m-265 17h8m-7-5h8m-7 6h8m10 5h8m1-14h8m-6 9h8m-2 4h8m-4 6h8m-2-7h8m-1-8h8m-8-4h8m2 14h8m-7 4h8m-5-6h8m-4-9h8m-7 11h8m-4 4h8m-4-2h8m-8-11h8m-3 7h8m-6 7h8m-6-6h8m-7 0h8m-8 1h8m-7 1h8m-8-2h8m-7 0h8m-6 5h8m-8-1h8m-2-1h8m2-13h8m-4-3h8m-5 12h8m-7-5h8m-4-6h8m-5 8h8m-7 0h8m-5-1h8m-3-1h8m-8-3h8m-5 0h8m-6 8h8m-5-11h8m-7 4h8m-8 10h8m-8 4h8m-5-14h8m-6 14h8m-7-10h8m-6 4h8m-2 3h8m-8-14h8m-5 8h8m-7 9h8m-7-1h8m-7 1h8m-4-15h8m-6-4h8m-7 11h8m-8-11h8m-4 19h8m-5-17h8m-7 4h8m-4 4h8m-6 7h8m-5-15h8m-6 11h8m-8 4h8m-8-14h8m-7-1h8m-2 0h8m2 4h8m-6 13h8m14-14h8m-8 11h8m0-6h8m23-7h8m-297 33h8m20-15h8m-2-1h8m-8 14h8m-6-4h8m-4-7h8m-1 5h8m-7 4h8m-8 4h8m-5-7h8m-4 2h8m0 2h8m-7 3h8m-3 0h8m-7-14h8m-8 11h8m-1 6h8m-8-18h8m-7 2h8m-1 15h8m-6-18h8m-4 10h8m-7-8h8m-6 2h8m-7 9h8m-7-6h8m-6 9h8m-7-14h8m-7 11h8m-5-12h8m-7 10h8m-5-1h8m-5-2h8m-4 7h8m-2-1h8m-2-5h8m-4-2h8m1 0h8m-1-5h8m-3 14h8m-8-2h8m-6 1h8m-3-1h8m-6-7h8m-3-2h8m-4-1h8m-7 14h8m-5-5h8m-4 6h8m-7-13h8m-5 9h8m-6-1h8m-6-12h8m-1 13h8m-2-6h8m-3-8h8m0-1h8m-7 7h8m1 12h8m0-10h8m-5-1h8m-7-7h8m1 11h8m16 2h8m-251 11h8m-3 12h8m-3-1h8m-6 3h8m-5-18h8m-3 10h8m10 2h8m-5-5h8m-7 4h8m-4-12h8m9 0h8m-5 19h8m-7-1h8m-8-17h8m-3 5h8m17 13h8m-3-6h8m-6-12h8m0 7h8m-7 9h8m-7-12h8m-7 10h8m-7-7h8m-5 5h8m1 5h8m-4-5h8m0 4h8m-5-3h8m-6-9h8m3 8h8m-6 0h8m-5-11h8m-1 12h8m-6-14h8m-8 1h8m-5 14h8m2-10h8m9 2h8m-6-7h8m-1 14h8m-5 3h8m-5-16h8m-7 13h8m-5 2h8m-6 1h8m14-5h8m-271 23h8m1-6h8m21 10h8m29-4h8m-2 3h8m15-5h8m-3-7h8m-6 0h8m2-4h8m-1 2h8m2 15h8m-1-7h8m9-4h8m3-6h8m-4 0h8m4 7h8m-6 8h8m-7-7h8m4 6h8m-1-5h8m3 5h8m4-15h8m6 15h8m-3-14h8m-4 10h8m-248 23h8m7-1h8m16-7h8m10 1h8m0 1h8m14-3h8m29 13h8m-7 0h8m-3-9h8m6-8h8m2 15h8m3-9h8m19-1h8m-7 8h8m-5 3h8m38-3h8m-216 8h8m-3 11h8m21-12h8m3 3h8m49-3h8m18 1h8m0 7h8m3 7h8m52-11h8m24 9h8m-288 13h8m81 11h8m53-14h8m-4-1h8m96 14h8m-228 18h8m-3-9h8m29 0h8m22 6h8m53-4h8m22 9h8m52-13h8m-5-5h8m-234 21h8m-5 10h8m0-11h8m26 14h8m-6-3h8m10-5h8m22-2h8m21 11h8m-8-13h8m1 15h8m18-15h8m-3 0h8m-5 2h8m-206 18h8m20 1h8m23 9h8m41-3h8m-2 10h8m-24 4h8m16-3h8m28 16h8m5-3h8m37-12h8m-177 33h8" stroke-opacity=".45"/>
<path transform="scale(.1)" stroke="#4d64b8" stroke-width="8" d="M1919 778h8m-1 1h8m5-1h8m-40 12h8m-8-4h8m-7-4h8m0 15h8m-4 2h8m-3-17h8m-7 16h8m-8-4h8m-6 0h8m0-2h8m-7 4h8m4-1h8m-6-8h8m-7 8h8m-7-9h8m-8 4h8m-6 2h8m-7-5h8m-7 9h8m-8-7h8m-8-7h8m-7 14h8m-6 3h8m-7-15h8m-7 6h8m-1 8h8m-5-14h8m-2 6h8m-1 6h8m10-1h8m-6-5h8m-106 17h8m-1 5h8m-6-7h8m-4 0h8m-6 11h8m-6-11h8m-7 3h8m-3 3h8m-6 1h8m-7 1h8m-6-8h8m-8 0h8m-8 10h8m-4-11h8m-2 7h8m-8-11h8m-7 10h8m-7-1h8m-7-1h8m-6-6h8m-5 1h8m-7 5h8m-7 6h8m-8 0h8m-6-2h8m-8-10h8m-7 17h8m-8-11h8m-7 0h8m-6-8h8m-6 13h8m-8 3h8m-7-1h8m-3 1h8m-3-15h8m-7-1h8m-7 1h8m-6 3h8m-4 10h8m-4 4h8m-3 0h8m-7-5h8m-6-3h8m1-1h8m-7 7h8m-1-9h8m11 6h8m-1-8h8m-136 30h8m-8 1h8m-4-12h8m-4 3h8m-5 3h8m-4 3h8m-8-3h8m-6-2h8m-8-2h8m-8 9h8m-7-5h8m-4-7h8m-6 5h8m-7 5h8m-7-5h8m-7 10h8m-8 0h8m-7-10h8m-6 10h8m-6-8h8m-7-3h8m-6 5h8m-6-1h8m-6-10h8m-6 1h8m-7 14h8m-7-6h8m-7-5h8m-8 12h8m-5-2h8m-6-13h8m-6 5h8m-6 9h8m-6 1h8m-7-4h8m-6-10h8m-4 6h8m-8 0h8m-6 1h8m-8-7h8m-4 5h8m-6 4h8m-8-9h8m-5-3h8m-8 19h8m-7-12h8m-4 0h8m-8 0h8m-5-3h8m-8 10h8m-7-3h8m-7-11h8m-7 16h8m-7 0h8m-3-1h8m-2 0h8m-7-13h8m-3-2h8m-3 16h8m-110 23h8m6-5h8m-7 3h8m-8-9h8m-3 11h8m-7-19h8m-7 11h8m-8 5h8m-4-12h8m-7 7h8m-7 7h8m-7-8h8m-6 5h8m-6-7h8m-7-8h8m-2 18h8m-7-18h8m-7 11h8m-6-2h8m-7 5h8m-7 1h8m-7-2h8m-6-12h8m-8 5h8m-7 13h8m-5-12h8m-7 9h8m-7-1h8m-6-1h8m-8-4h8m-7-2h8m-7 7h8m-7-7h8m-6-1h8m-7 6h8m-6-10h8m-7 15h8m-5-4h8m-7 5h8m-3-15h8m-7-1h8m-7 12h8m-7-13h8m-6 0h8m-5 17h8m4-14h8m-5 12h8m12-6h8m-130 19h8m-7 1h8m1-11h8m-7 12h8m-4 5h8m-6-11h8m-8-5h8m-6 10h8m-7-7h8m-5 3h8m-8-2h8m-7-4h8m-8 6h8m-4 10h8m-8-13h8m-6 3h8m-6 0h8m-8 1h8m-7-8h8m-7 5h8m-6 0h8m-7 13h8m-8-3h8m-7-11h8m-8 15h8m-8-17h8m-7 2h8m-7 2h8m-7 7h8m-8-12h8m-7 3h8m-6 10h8m-8-4h8m-7 3h8m-8 5h8m-8-6h8m-8-2h8m-7 9h8m-7-11h8m-7 11h8m-4-5h8m-7 4h8m-2-10h8m-5 4h8m-6 4h8m-7-16h8m-7 6h8m-6-4h8m1-1h8m-5 15h8m-7-11h8m-8 12h8m-6-13h8m3 2h8m-2-3h8m-8 1h8m-7 15h8m16-5h8m-7-4h8m-145 11h8m-6 9h8m2 4h8m-3-4h8m-4-10h8m-4 17h8m-7-9h8m-6-4h8m-7-1h8m-5 7h8m-8 7h8m-5-13h8m-3 13h8m-4 1h8m-5-17h8m-7 15h8m-5-11h8m-7 2h8m-6-6h8m-6 0h8m-6 13h8m-1-4h8m-8 2h8m-7-11h8m-4 16h8m-6-2h8m-8 2h8m-8-14h8m-5 10h8m-7-5h8m-7 3h8m-7-8h8m-7 5h8m-2-5h8m-4 2h8m-6 8h8m-7-6h8m-100 25h8m-7 4h8m12-5h8m-8-4h8m-4-1h8m-4-6h8m5 2h8m-8 6h8m1 9h8m-8-16h8m-2 2h8m-7-3h8m-2 2h8m-6 3h8m-6-1h8m-4 10h8m-6-10h8m4 0h8m-7-1h8m-5 7h8m6 0h8m-98 11h8m13 2h8m-6-3h8m-3 1h8m-6 2h8m-6 15h8m-8-18h8m-3 16h8m7 3h8m-6-6h8m3-2h8m1-10h8m-2 13h8m9-7h8m-92 19h8m-6-4h8m-3 2h8m-6-3h8m10 13h8m-4-10h8m22 0h8m-70 25h8m-2 8h8m57 3h8"/>
<rect x="155.5" y="76.9" width="30.8" height="33.4" fill="none" stroke="#7a7a7c" stroke-width="0.75"/>
<rect x="189.5" y="63.1" width="17" height="13.8" fill="none" stroke="#7a7a7c" stroke-width="0.75"/>
<rect x="189.5" y="76.9" width="17" height="33.4" fill="none" stroke="#7a7a7c" stroke-width="0.75"/>
<rect x="155.5" y="34.1" width="76.2" height="76.2" fill="none" stroke="#231f20" stroke-width="1.1"/>
<path d="M153.9 74.03h1.6M153.9 71.7h1.6M153.9 70.05h1.6M153.9 68.77h1.6M153.9 67.73h1.6M153.9 66.84h1.6M153.9 66.08h1.6M153.9 65.4h1.6M153.9 60.86h1.6M153.9 58.55h1.6M153.9 56.91h1.6M153.9 55.64h1.6M153.9 54.61h1.6M153.9 53.73h1.6M153.9 52.97h1.6M153.9 52.3h1.6M153.9 47.97h1.6M153.9 45.78h1.6M153.9 44.23h1.6M153.9 43.03h1.6M153.9 42.05h1.6M153.9 41.22h1.6M153.9 40.5h1.6M153.9 39.87h1.6M152.7 39.3h2.8M152.7 51.7h2.8M152.7 64.8h2.8M152.7 78h2.8M152.7 97.3h2.8M154.1 80h1.4M154.1 82.36h1.4M154.1 84.73h1.4M154.1 87.09h1.4M154.1 89.45h1.4M154.1 91.82h1.4M154.1 94.18h1.4M154.1 96.55h1.4M154.1 98.91h1.4M154.1 101.27h1.4M154.1 103.64h1.4M154.1 106h1.4M171.2 110.3v2.6M196.5 110.3v2.6M212.7 110.3v2.6M226.5 110.3v2.6M158.5 110.3v1.4M161.5 110.3v1.4M164.5 110.3v1.4M167.5 110.3v1.4M170.5 110.3v1.4M173.5 110.3v1.4M176.5 110.3v1.4M179.5 110.3v1.4M182.5 110.3v1.4M185.5 110.3v1.4M201.38 110.3v1.4M204.23 110.3v1.4M206.25 110.3v1.4M207.82 110.3v1.4M209.11 110.3v1.4M210.19 110.3v1.4M211.13 110.3v1.4M211.96 110.3v1.4M216.85 110.3v1.4M219.28 110.3v1.4M221.01 110.3v1.4M222.35 110.3v1.4M223.44 110.3v1.4M224.36 110.3v1.4M225.16 110.3v1.4M225.87 110.3v1.4M191.5 110.3v1.4M193.5 110.3v1.4" stroke="#231f20" stroke-width=".7" fill="none"/>
<text x="151.5" y="42.2" font-size="5.6" text-anchor="end" stroke="#231f20" stroke-width="0.1">10<tspan font-size="4.0" dy="-2.3">5</tspan></text>
<text x="151.5" y="54.6" font-size="5.6" text-anchor="end" stroke="#231f20" stroke-width="0.1">10<tspan font-size="4.0" dy="-2.3">4</tspan></text>
<text x="151.5" y="67.7" font-size="5.6" text-anchor="end" stroke="#231f20" stroke-width="0.1">10<tspan font-size="4.0" dy="-2.3">3</tspan></text>
<text x="151.5" y="80.9" font-size="5.6" text-anchor="end" stroke="#231f20" stroke-width="0.1">10<tspan font-size="4.0" dy="-2.3">2</tspan></text>
<text x="150.5" y="99.3" font-size="5.8" text-anchor="end" stroke="#231f20" stroke-width="0.1">0</text>
<text x="171.2" y="120.2" font-size="6" text-anchor="middle" stroke="#231f20" stroke-width="0.1">0</text>
<text x="197.7" y="120.2" font-size="6" text-anchor="middle" stroke="#231f20" stroke-width="0.1">10<tspan font-size="4.2" dy="-2.2">3</tspan></text>
<text x="214.5" y="120.2" font-size="6" text-anchor="middle" stroke="#231f20" stroke-width="0.1">10<tspan font-size="4.2" dy="-2.2">4</tspan></text>
<text x="228.3" y="120.2" font-size="6" text-anchor="middle" stroke="#231f20" stroke-width="0.1">10<tspan font-size="4.2" dy="-2.2">5</tspan></text>
<text x="171.1" y="64.95" font-size="5.5" text-anchor="middle" textLength="27" lengthAdjust="spacingAndGlyphs" stroke="#231f20" stroke-width="0.1">CD4+Tcons</text>
<text x="171.1" y="70.55" font-size="5.5" text-anchor="middle" stroke="#231f20" stroke-width="0.1">88.0</text>
<text x="215.3" y="51.75" font-size="5.5" text-anchor="middle" textLength="24" lengthAdjust="spacingAndGlyphs" stroke="#231f20" stroke-width="0.1">Foxp3GFP</text>
<text x="215.3" y="57.95" font-size="5.5" text-anchor="middle" stroke="#231f20" stroke-width="0.1">0.048</text>
<text x="218.3" y="90.35" font-size="5.5" text-anchor="middle" textLength="18.2" lengthAdjust="spacingAndGlyphs" stroke="#231f20" stroke-width="0.1">CD45.1</text>
<text x="218.3" y="96.35" font-size="5.5" text-anchor="middle" textLength="18" lengthAdjust="spacingAndGlyphs" stroke="#231f20" stroke-width="0.1">+Foxp3</text>
<text x="218.3" y="102.35" font-size="5.5" text-anchor="middle" stroke="#231f20" stroke-width="0.1">9.91</text>
<text x="309" y="27.7" font-size="9.3" text-anchor="middle" textLength="31.5" lengthAdjust="spacingAndGlyphs" stroke="#231f20" stroke-width="0.1">Ctrl-lipo</text>
<clipPath id="gc2"><rect x="270.4" y="77.1" width="30.7" height="30"/></clipPath>
<g clip-path="url(#gc2)"><ellipse cx="283.3" cy="82.4" rx="8.5" ry="5.6" fill="#1c5a9e" fill-opacity=".85" filter="url(#bl2)"/></g>
<path transform="scale(.1)" stroke="#1c5a9e" stroke-width="8" d="M2928 679h8m-194 4h8m34 7h8m-1 32h8m-6 7h8m5 3h8m47 4h8m62-10h8m-209 31h8m49-14h8m33 12h8m-4-15h8m99 13h8m-209 26h8m-8-3h8m-4-16h8m-6 18h8m-1-4h8m10 1h8m-4-12h8m7 4h8m-2 10h8m-8-1h8m-5 0h8m-1 1h8m-7 2h8m-4-7h8m-7 7h8m0-16h8m-5 14h8m-2 1h8m-1-3h8m-6-1h8m-6 4h8m-2 0h8m-7-3h8m1-2h8m-6 1h8m0 5h8m-5-3h8m-6 1h8m-6 1h8m-4-10h8m-8 8h8m-3 3h8m-7-1h8m-8-7h8m-7 2h8m-3-5h8m31 7h8m5 2h8m3-9h8m8 8h8m-251 18h8m-7-9h8m-2 2h8m-7 1h8m-2 7h8m-4-1h8m-6-7h8m-5 10h8m-8 0h8m-8-7h8m-7-3h8m-7-6h8m-7 10h8m-5-8h8m-5 3h8m-8 7h8m-7-12h8m-4 13h8m-6 2h8m-4-3h8m-8-4h8m-7-3h8m-3 0h8m-4 2h8m-8 11h8m-7-10h8m-8-1h8m-8-7h8m-7 9h8m-8 8h8m-8-12h8m-6-5h8m-7 17h8m-8-8h8m-4-8h8m-8 14h8m-7-5h8m-8 7h8m-7-5h8m-7-12h8m-7 2h8m-7 4h8m-4 8h8m-8-1h8m-8-11h8m-7-3h8m-5 0h8m-8 11h8m-4 0h8m-4-9h8m-6 15h8m-7-1h8m-7-16h8m-8 7h8m-4-3h8m-8 2h8m-7 5h8m-8 8h8m-6-7h8m-7 3h8m-7-9h8m-7 9h8m-7-9h8m-6-1h8m-6 9h8m-5-6h8m-7-5h8m-8 9h8m-7-6h8m-7 13h8m-8 0h8m-7-9h8m-6-9h8m-5 1h8m-7 3h8m-7 11h8m-8-12h8m-5 12h8m-2 3h8m-7-15h8m-5 0h8m-8-1h8m-7 5h8m-8 4h8m-5-6h8m-8 3h8m-8 4h8m-7-8h8m-8 0h8m-7 2h8m-8-2h8m-7-2h8m-3 16h8m-6 0h8m-7-15h8m-6 7h8m-8 3h8m-6-1h8m-7-4h8m-8 5h8m-7-11h8m1 7h8m-7 9h8m-3-15h8m-1 4h8m-8 9h8m-7-4h8m-2-7h8m-6-2h8m-4-1h8m-2 2h8m-6 10h8m-8-3h8m-6-2h8m-8-1h8m-7-4h8m-6-3h8m-5 0h8m-6 9h8m-7 2h8m-8 0h8m3-12h8m-1-1h8m-6 8h8m-6-5h8m-2 16h8m8-6h8m-6-7h8m-259 30h8m-2-5h8m-2 0h8m-8 0h8m-7 3h8m-7 4h8m-7-7h8m-4-4h8m-7-5h8m-5 12h8m-6-3h8m-6-6h8m-6-1h8m-3 6h8m-8-7h8m-8 0h8m-7 0h8m-8 6h8m-2 5h8m-7-3h8m-7-2h8m-5 1h8m-8 2h8m-8 0h8m-7 0h8m-8-10h8m-6 9h8m-6-9h8m-7-1h8m-5 11h8m-6-10h8m-8 16h8m-7 0h8m-4-3h8m-6-11h8m-4 13h8m-5-2h8m-8-7h8m-5-2h8m-5 5h8m-8 8h8m-3-1h8m-8-18h8m-7 6h8m-8 12h8m-5 1h8m-6-6h8m-6-4h8m-8-3h8m-5-1h8m-8 5h8m-6-5h8m-8 3h8m-7-1h8m-7-1h8m-7 0h8m-6 5h8m-6-10h8m-8 12h8m-6-8h8m-7 5h8m-8-9h8m-7 2h8m-8 8h8m-7-9h8m-8 5h8m-7-7h8m-6 13h8m-8-12h8m-8 5h8m-7 6h8m-6-9h8m-6 12h8m-7 1h8m-7 3h8m-7-1h8m-8-7h8m-7-3h8m-8 10h8m-7-1h8m-7-6h8m-3 3h8m-7 5h8m-7-19h8m-7 9h8m-7 5h8m-7-13h8m-8 2h8m-7 7h8m-8 5h8m-7-6h8m-7-9h8m-7 17h8m-7-4h8m-6-9h8m-5 5h8m-8-7h8m-8 2h8m-6-4h8m-7 15h8m-7-13h8m-8 11h8m0-1h8m-6-8h8m-6 6h8m-7-4h8m-7 2h8m-8 5h8m-7 2h8m-6-5h8m-7 2h8m-8-10h8m0 14h8m-7 3h8m-6-6h8m-8-8h8m-7 7h8m0-7h8m-7 14h8m-6-16h8m-7-2h8m-7 4h8m-8 0h8m-5-5h8m-4 2h8m-7 12h8m3 5h8m-8-5h8m-7 0h8m-8 0h8m-4-7h8m0 7h8m10-9h8m-8 12h8m17-11h8m-2 12h8m-4-3h8m-4-9h8m-6-2h8m-4-3h8m-308 21h8m1-1h8m-6 11h8m-8-6h8m-7 13h8m-6 0h8m-4-5h8m-6-5h8m-4 8h8m-5-6h8m-7 1h8m1 2h8m-4 1h8m-3 0h8m-7 2h8m-6-4h8m-7-8h8m-8-1h8m-6 6h8m-4 1h8m-8-5h8m-2 9h8m-8-7h8m-6 4h8m-2-1h8m-8-7h8m-6 3h8m-4-6h8m-8 6h8m-6-2h8m-7 14h8m-7-15h8m-7-2h8m-7 3h8m-7 4h8m-5 4h8m-5-1h8m-7 6h8m-5-6h8m-8 3h8m-6-15h8m-7 11h8m-6 7h8m-7-6h8m-6-9h8m-6-1h8m-7 16h8m-7-10h8m-8 1h8m-7 8h8m-7-16h8m-6 10h8m-7 3h8m-8-9h8m-5 11h8m-8-12h8m-6-2h8m-5 2h8m-4-4h8m-7 1h8m-6 10h8m-6-7h8m-8 9h8m-7 5h8m-7-5h8m-7-4h8m-7 3h8m-7-1h8m-6-10h8m-3 3h8m-7 0h8m-8 6h8m-6-9h8m-7 15h8m-6-6h8m-7 8h8m-5-18h8m-7 11h8m-5-11h8m-7 10h8m-7-3h8m-5-3h8m-7 8h8m-8 3h8m-7-10h8m-7-4h8m-7 7h8m-6 5h8m-8 4h8m-6-15h8m-7 9h8m-6 3h8m-6-10h8m-8 12h8m-8-8h8m-7-4h8m-8 1h8m-7 12h8m-6-5h8m-5 5h8m-1-11h8m-4 10h8m-3 2h8m-2-9h8m-5-2h8m-7 7h8m-8 0h8m-2 3h8m-7-13h8m2 12h8m-6-8h8m-7 9h8m-5-9h8m-8-2h8m-4-5h8m4 18h8m4-12h8m-4-1h8m-1-4h8m1 8h8m-7-6h8m-6 3h8m-6-1h8m-8 3h8m6-1h8m-295 18h8m-8-1h8m-1-1h8m-5 8h8m0 7h8m-2-13h8m-7 5h8m-8-9h8m-6 9h8m-8-5h8m-8-2h8m-5 10h8m-2 0h8m-8-11h8m-6-2h8m-7 0h8m-7 2h8m-7-3h8m-8 3h8m0 12h8m-4-15h8m-7 3h8m-6 2h8m-5 3h8m-5 7h8m-5-11h8m-3-3h8m-8 9h8m-8-10h8m-3 4h8m-6 5h8m-6 7h8m-8-16h8m-5 14h8m-8-12h8m-6 12h8m-7-5h8m-8-9h8m-6 1h8m-7 9h8m-6 0h8m-7 2h8m-7-4h8m-8 1h8m-7 2h8m-7 4h8m-5-14h8m-7 0h8m-8 18h8m-7-8h8m-2-4h8m-8 11h8m-6-6h8m-5-8h8m-7 11h8m-6-5h8m-7 2h8m-6-8h8m-8-1h8m-7 0h8m-5-1h8m-8-1h8m-7 7h8m-8 7h8m-4-14h8m-8 1h8m-4-2h8m-7 11h8m-7-11h8m-7 7h8m-4-1h8m-6 5h8m-7 6h8m-7-9h8m-8-4h8m-8 15h8m-6-16h8m-7-3h8m-8 9h8m-7-7h8m-7 8h8m-6 6h8m-7-11h8m-8 7h8m-6-10h8m-8 11h8m-8-11h8m-5 3h8m3 14h8m-7-4h8m-7-13h8m-2 15h8m-1 0h8m-8-16h8m-6 6h8m-3 5h8m-7 5h8m-5-17h8m0 16h8m-7-6h8m-7-1h8m-7-8h8m-6 5h8m2 12h8m-8-17h8m-7 12h8m-1 4h8m-7-14h8m-7-3h8m-1 15h8m-4-1h8m-8-1h8m-1 2h8m-1-2h8m-3-10h8m-1 10h8m-7-4h8m9 2h8m-278 24h8m-6-9h8m-5-2h8m1 13h8m-3-2h8m-5-13h8m-7 2h8m2 13h8m0-16h8m-4 8h8m-5-8h8m-6 2h8m-4 2h8m-4 2h8m-8-3h8m-7 6h8m-6 6h8m6-10h8m-7-4h8m1 7h8m-7 7h8m-7-9h8m-7-1h8m-3 9h8m-8-3h8m-5-1h8m-8-10h8m-7 8h8m-7 4h8m-7-1h8m-7-1h8m-5-7h8m-7 15h8m-8-16h8m-7-3h8m-6 8h8m-7-4h8m-8 8h8m-7 1h8m-7-8h8m-8 6h8m-7-6h8m-6 4h8m-8 4h8m-8-5h8m-5 11h8m-7-11h8m-7-3h8m-5 0h8m-2 10h8m-7-10h8m-8 8h8m-1 3h8m3 3h8m-5-1h8m-7-16h8m-3 10h8m-7 6h8m-6-10h8m-4 0h8m-3 6h8m-8-7h8m-7 7h8m24-11h8m-5 6h8m-2 9h8m-6-11h8m-7 4h8m-5-9h8m-5 13h8m-5 4h8m-6-10h8m-4-8h8m0 18h8m-3-6h8m-1-7h8m-4 2h8m10-5h8m1 10h8m-299 25h8m-2-9h8m10 9h8m-7-6h8m-3 2h8m-7-8h8m-8-2h8m22 14h8m-7-12h8m-2 12h8m-7-4h8m-7 5h8m-7-17h8m-5 4h8m-5 9h8m-3-12h8m-5 10h8m1-9h8m-1 5h8m-4-9h8m-3 14h8m-7-3h8m7 4h8m-2-7h8m-8-5h8m-6 2h8m-7-4h8m-5 12h8m-7 5h8m-6-7h8m-6 1h8m-6 0h8m-8 5h8m-1-11h8m-4 4h8m-7-3h8m-6-1h8m-7-1h8m-7 5h8m-8 6h8m13-10h8m-4-2h8m-4 10h8m-7-14h8m8 5h8m-7 12h8m-7-10h8m-7 12h8m-6-12h8m-6-1h8m-1 13h8m-8-16h8m-5 11h8m-6-3h8m2-1h8m1 6h8m-4-5h8m5 2h8m1-3h8m-2-1h8m3 7h8m-299 9h8m14-5h8m5 7h8m-4 1h8m-1-4h8m10-4h8m10 10h8m17 0h8m-3-7h8m-4 8h8m-4-10h8m-1 1h8m-7 0h8m-1 4h8m5 6h8m-7-1h8m2-11h8m2 6h8m2-4h8m-7 17h8m-4-17h8m-2 6h8m-7-2h8m-7 2h8m-8 3h8m-6-7h8m-4-3h8m-3 6h8m-5 5h8m-1-7h8m11-3h8m10 2h8m11 15h8m31-4h8m-284 24h8m5-12h8m5-4h8m30 5h8m-7-4h8m-6-3h8m-1 8h8m0-3h8m-4-3h8m-3 4h8m-6 11h8m0-11h8m7 2h8m4-9h8m-2 9h8m6-3h8m0 8h8m-1-5h8m6 8h8m1-4h8m15-4h8m2 7h8m13-7h8m27 10h8m-265 10h8m27 9h8m6-17h8m-8 11h8m13 3h8m-5-8h8m-5 8h8m6-13h8m2-2h8m-4 5h8m-6-4h8m-4 12h8m-1-12h8m-3 10h8m35 0h8m31 3h8m-5-14h8m-7 4h8m-213 18h8m11 11h8m14-4h8m19 3h8m-7 0h8m50-10h8m0 14h8m1-3h8m-1 5h8m2-12h8m-6 12h8m-4-12h8m-3-3h8m22 6h8m-206 11h8m1 4h8m30-1h8m-6 11h8m21-12h8m-5 15h8m11-12h8m15-1h8m-3 0h8m36 12h8m-176 10h8m-7 13h8m18-1h8m18-16h8m77 17h8m-6-2h8m-194 22h8m21-4h8m44-15h8m47 7h8m31-5h8m1 17h8m84-19h8m3 7h8m-264 18h8m126-5h8m27 10h8m-53 27h8m65-9h8m18 4h8m-207 23h8" stroke-opacity=".45"/>
<path transform="scale(.1)" stroke="#1c5a9e" stroke-width="8" d="M2815 670h8m-65 26h8m69 1h8m41 17h8m-176 19h8m2-13h8m13 15h8m65-10h8m-5 14h8m0-4h8m37-3h8m53-7h8m-211 24h8m-4 9h8m50-6h8m-4-3h8m61 9h8m13-11h8m3 0h8m-7 10h8m63-5h8m-256 27h8m-8-1h8m3-1h8m9-2h8m-2-14h8m-5 15h8m-6 2h8m2 1h8m-7-8h8m-6 8h8m11-3h8m-5 1h8m-8-12h8m-7 11h8m3 0h8m-8 1h8m1 0h8m-8 1h8m-5-2h8m-6-10h8m-7 8h8m-7 5h8m-2-4h8m-4 3h8m-4-13h8m1 9h8m-2-3h8m-4 7h8m-3 1h8m-8-1h8m-7-2h8m-6 2h8m-4-1h8m-8 1h8m-4-4h8m-5 4h8m11-10h8m-6 11h8m-7-17h8m-3 13h8m4 3h8m3-3h8m9 1h8m-6 1h8m24 1h8m-5-13h8m8 11h8m-289 5h8m0 6h8m-6-2h8m-5 13h8m-6-10h8m0 6h8m-7-13h8m-6 15h8m-2-14h8m-6-1h8m-4 1h8m-7 4h8m-5 4h8m-8 3h8m-2 2h8m-2-12h8m-6 2h8m-5-3h8m-7 17h8m-7-2h8m-7-6h8m-6 2h8m-5-8h8m-8-3h8m-7 6h8m-7-3h8m-7 1h8m-2-1h8m-8 5h8m-7 2h8m-6-10h8m-6 9h8m-6-7h8m-8 7h8m-5 6h8m-4-13h8m-7 9h8m-7-5h8m-8 5h8m-4 1h8m-8-5h8m-6 9h8m-7-10h8m-4 11h8m-7-6h8m-4-13h8m-8 5h8m-7 9h8m-5-9h8m-5-3h8m-2 11h8m-6-1h8m-8-4h8m-8 3h8m-6 5h8m-8-6h8m-6-2h8m-6 1h8m-4-3h8m-7 2h8m-8 11h8m-6-19h8m-8 12h8m-7 4h8m-8-1h8m-7-9h8m-7 10h8m-3-2h8m-6-2h8m-7-2h8m-6 0h8m-7-4h8m-8-1h8m-4 1h8m-8-3h8m-8 1h8m-7 15h8m-3-9h8m-6-10h8m-8 17h8m-8-11h8m-6 1h8m-8-3h8m-8-4h8m-6 19h8m-7-7h8m-7 5h8m-5 0h8m-7-2h8m-7 1h8m-1-5h8m-7-2h8m-4 5h8m-5 3h8m-6-3h8m-6 5h8m-6-4h8m-6 4h8m-3-4h8m-7-2h8m-1 0h8m-4 1h8m5 3h8m-7-6h8m-2 5h8m0-11h8m-2 14h8m14-7h8m-5-5h8m-290 18h8m-7-1h8m-1 13h8m-2-7h8m4-10h8m-7 3h8m-5 9h8m-7 4h8m-5-4h8m-7-8h8m-7 3h8m-7 1h8m-8-2h8m-3-3h8m-6 15h8m-5-15h8m-8 0h8m-6 6h8m-8-2h8m-7 3h8m-2-4h8m-4-6h8m-7 19h8m-7-17h8m-7 7h8m-3-6h8m-3 4h8m-7 6h8m-7 2h8m-7-2h8m-7 6h8m-7-12h8m-7-5h8m-6 10h8m-7-11h8m-8 14h8m-6-14h8m-5 0h8m-5 9h8m-5-1h8m-6-5h8m-7-1h8m-6 14h8m-6-17h8m-7 17h8m-8-6h8m-7 8h8m-7-19h8m-5 12h8m-8 4h8m-6 2h8m-6-17h8m-7 7h8m-7 2h8m-7-1h8m-5 6h8m-7 3h8m-8-14h8m-6-4h8m-7 5h8m-7 10h8m-4-5h8m-7-4h8m-8 1h8m-7 12h8m-4-10h8m-8 10h8m-7-19h8m-6 10h8m-8-10h8m-7 0h8m-7 6h8m-2-6h8m-8 2h8m-7 5h8m-6-7h8m-8 9h8m-6 1h8m-7 0h8m-5 3h8m-7 3h8m-7-11h8m-8 11h8m-6-1h8m-8 1h8m-8-16h8m-7 6h8m-7 13h8m-8-3h8m-8 0h8m-5 3h8m-7-1h8m-6-17h8m-6 2h8m-5 5h8m-7 0h8m-7 3h8m-6 4h8m-8-11h8m-6 6h8m-4-2h8m-8-6h8m-6 3h8m-8 0h8m-7 12h8m-8-12h8m-3 0h8m-6 8h8m-8-3h8m-4 3h8m-6 6h8m-8-18h8m-8 5h8m-7-2h8m-8 11h8m-4-14h8m-7 13h8m-7-4h8m-7-1h8m-6 7h8m-7 0h8m-7-6h8m-6 8h8m-7-6h8m-7 5h8m-8-13h8m-5-2h8m-4 4h8m-2 4h8m-3-9h8m-6 12h8m-2 3h8m-7 3h8m-1-13h8m50 12h8m-301 8h8m-8 7h8m-6-5h8m-3-1h8m-4 11h8m-8-13h8m-7 0h8m-7 3h8m-7 11h8m-8-13h8m-6 2h8m-7-7h8m-8 2h8m-7 9h8m-5-11h8m-5 3h8m-7-2h8m-4 13h8m-5-11h8m2 2h8m-7 1h8m-8 6h8m-6 0h8m-7-1h8m-5 2h8m-4-7h8m-5 0h8m-7 8h8m-8-12h8m-7 1h8m-7 14h8m-3-6h8m-4-7h8m-8 8h8m-3-6h8m-8-3h8m-8 1h8m-7-5h8m-8 3h8m-7 11h8m-7-14h8m-7 6h8m-8-4h8m-7 17h8m-7-9h8m-7 8h8m-7-7h8m-8-3h8m-6 4h8m-4 1h8m-3 2h8m-8-10h8m-8 5h8m-6-7h8m-5 4h8m-7 11h8m-7-6h8m-6-9h8m-6 16h8m-8 0h8m-8-5h8m-8-3h8m-7 8h8m-7-10h8m-6-3h8m-7 4h8m-8 4h8m-8-3h8m-7-3h8m-5 8h8m-7-14h8m-7 16h8m-7-15h8m-8-1h8m-7 4h8m-8 3h8m-7 5h8m-6-12h8m-6 12h8m-8 4h8m-8-18h8m-7 3h8m-6 9h8m-6-10h8m-6-1h8m-6 13h8m-7-4h8m-7 4h8m-8-3h8m-7-3h8m-8-3h8m-7-1h8m-7 13h8m-7-9h8m-7-5h8m-8 13h8m-7 1h8m-8-2h8m-7-6h8m-6-2h8m-2 9h8m0-15h8m-6 16h8m-5-2h8m-5 2h8m-7-3h8m-7-12h8m-8 2h8m-8 9h8m-4-12h8m-8 8h8m-8-4h8m-6 4h8m-5 3h8m-4-3h8m-7 5h8m-3-10h8m-5 7h8m-3-11h8m-8 6h8m-3 10h8m5-7h8m0 1h8m-6 3h8m-8 4h8m6-5h8m-3 2h8m-3 4h8m3-8h8m-2 4h8m-276 11h8m0-4h8m-5 12h8m2-2h8m-7-10h8m-7 10h8m1-9h8m-5 2h8m-4-4h8m-8 10h8m-3-6h8m-4-1h8m-7 8h8m-7 3h8m9 1h8m-8 1h8m-8-12h8m-7 9h8m-7-10h8m-8 8h8m-7-4h8m-7-2h8m-6-1h8m-7 10h8m-8-8h8m-7 5h8m-7-10h8m-6 10h8m-4 7h8m-7-11h8m-8-5h8m-5-1h8m-7 12h8m-8-6h8m-8 7h8m-5-12h8m-7 4h8m-7-1h8m-7 5h8m-6 6h8m-7-13h8m-8 11h8m-5 0h8m-7-4h8m-8-7h8m-7 3h8m-7 6h8m-7 4h8m-7 2h8m-6-1h8m-7-14h8m-3 11h8m-7-10h8m-6 8h8m3-2h8m-8 1h8m-8-7h8m-7 11h8m-5-2h8m-6-9h8m-7-4h8m-4 7h8m-8-3h8m-7 4h8m-8 11h8m-8-5h8m-5-6h8m-7 6h8m-8 5h8m-8-18h8m-7 7h8m-7-2h8m-7 4h8m-5-4h8m-8 12h8m-6-4h8m-3-3h8m-8 3h8m-8-2h8m-6-11h8m-2 2h8m-6 16h8m-8 0h8m-7-13h8m-8-3h8m-6 11h8m-8-3h8m-8 6h8m-7 2h8m-8-11h8m-3-2h8m-1 4h8m-6-6h8m-6 4h8m-8-4h8m-6 4h8m-7 1h8m-8-1h8m-7 4h8m-6 7h8m-8-18h8m-4 14h8m-3-8h8m-1-4h8m-7-2h8m-1 13h8m-3-5h8m-3 1h8m-7-7h8m-7-1h8m10-2h8m-8 2h8m1-2h8m4 14h8m-8-6h8m-7 7h8m-5-5h8m-2-9h8m11 10h8m-308 9h8m13 4h8m-5 7h8m-7 1h8m1 4h8m-8 2h8m6-3h8m-6-10h8m-5 3h8m-7-3h8m2 8h8m-8-9h8m-4 11h8m-7-15h8m-4 12h8m-4 5h8m-8-6h8m-5-9h8m-7 15h8m-6-4h8m-2 6h8m-7-19h8m-7 14h8m-7-8h8m-7-3h8m-3 4h8m-7 8h8m-7-12h8m-6 3h8m-7-5h8m-7 3h8m-4 9h8m-5 0h8m-4-8h8m-8 11h8m-7-6h8m-6 6h8m-6-2h8m-8-3h8m-8-9h8m-6 13h8m-7-7h8m-7-4h8m-4 15h8m-7-13h8m-7 3h8m-5-1h8m-7-1h8m-4 2h8m-2 6h8m-6 4h8m-4-17h8m-3 13h8m-7-6h8m-8 1h8m-8 2h8m-6-3h8m-7 10h8m-6-2h8m-8-16h8m-7 11h8m-6-9h8m-8 5h8m-8 10h8m-6-3h8m-4 3h8m-6-2h8m-3-1h8m-5 0h8m-7 1h8m-4 1h8m-7-16h8m-6 0h8m-3 1h8m-8 1h8m-5 8h8m-8 8h8m-7-17h8m-1 0h8m-6 4h8m-7 6h8m-7 2h8m-5-7h8m-4-4h8m3 10h8m5-13h8m17 11h8m-6 3h8m18 4h8m-294 16h8m-6-13h8m-3 5h8m0 1h8m-3 1h8m1-8h8m-7 14h8m-5-13h8m-3 1h8m1 1h8m-8 12h8m-4 1h8m-8 2h8m16-13h8m-1-4h8m-2 10h8m-7 5h8m-4-15h8m-7 1h8m-2 5h8m-5 5h8m-7-7h8m-7 10h8m-8-14h8m-4 4h8m-6-4h8m-6 10h8m-7-3h8m-7 2h8m-7-8h8m-6 13h8m-6-14h8m-6 14h8m-5 0h8m-8-10h8m-8 12h8m-6-3h8m-8-14h8m-6 9h8m-6 8h8m-7-10h8m-7 5h8m-4-3h8m-3-6h8m-7-1h8m-2 10h8m-3-9h8m-7 7h8m-7 6h8m-7-12h8m1 1h8m-8-5h8m-4 11h8m-5-3h8m-8-1h8m6-5h8m-2 6h8m-5 11h8m-5-14h8m-6-1h8m-2 11h8m2-12h8m-5-2h8m-7 2h8m-8 13h8m1-6h8m-7 5h8m0-7h8m6-2h8m-221 24h8m-8-9h8m6 12h8m-6 5h8m8 0h8m-3-17h8m-5 7h8m-5-1h8m-6 12h8m-5-19h8m-6 10h8m-5-8h8m-6 2h8m-6 10h8m-7-9h8m3 8h8m-3 2h8m9 4h8m0 0h8m-4-13h8m-3-4h8m-4 15h8m-5-13h8m4-4h8m10 10h8m3 2h8m-3-7h8m5 1h8m-5 13h8m-3-5h8m2-12h8m-1 1h8m-3 1h8m-6 8h8m-245 25h8m8 0h8m4-16h8m1 5h8m15 5h8m-2 0h8m22-3h8m3-2h8m10-5h8m24 8h8m-6 10h8m-6-11h8m13 5h8m-1-12h8m0-1h8m-8 13h8m-7-10h8m2-1h8m-5 7h8m2-8h8m3 6h8m-4-6h8m8 13h8m-271 18h8m14 5h8m5-9h8m15-8h8m-2 6h8m28 0h8m10-3h8m-5 11h8m20-7h8m10 3h8m3 0h8m-8 5h8m4 1h8m33-8h8m3-7h8m20 18h8m-227 1h8m12 18h8m2-12h8m9 0h8m7 4h8m12 9h8m-4-9h8m-6-7h8m48 5h8m-8 8h8m4-12h8m57 12h8m1-4h8m-270 12h8m130 13h8m34-6h8m11-3h8m-147 25h8m92-2h8m12-5h8m2-5h8m70 2h8m-283 27h8m13 0h8m135-4h8m-3 3h8m-129 19h8m-57 19h8m66 3h8m24-8h8m7 4h8m15 1h8m41-2h8" stroke-opacity=".45"/>
<path transform="scale(.1)" stroke="#1c5a9e" stroke-width="8" d="M2883 666h8m-159 16h8m57 36h8m200-7h8m-218 13h8m-20 18h8m-3 6h8m9 8h8m-6-13h8m4 0h8m19 13h8m25-1h8m39-8h8m34-5h8m10 14h8m-287 21h8m-4 2h8m-7 0h8m11-17h8m-2 15h8m30 2h8m-2-2h8m-7 1h8m-5-15h8m-7 16h8m5-16h8m-8 16h8m-3-1h8m-5 0h8m-6-2h8m-2 2h8m-8-2h8m-5-1h8m-6 2h8m-4 0h8m-2-7h8m-6 6h8m5 0h8m-7-14h8m-8 13h8m-7 3h8m-5-2h8m-6-10h8m-1 8h8m1 4h8m-3-5h8m1-9h8m-7 15h8m-4-5h8m-7 2h8m-8 3h8m24-4h8m4-15h8m16 15h8m-7 4h8m-2-5h8m-265 18h8m0 1h8m-6 4h8m-7-3h8m-7-9h8m-1 10h8m6-11h8m1-2h8m-6 8h8m-8-2h8m-6 9h8m-4-17h8m-7 11h8m1-3h8m-6 2h8m-6-8h8m-7 12h8m-6-13h8m-7 5h8m-8 3h8m-4-2h8m-6 8h8m-6-7h8m-6 4h8m-8 4h8m-6-11h8m-5 11h8m-5-6h8m-7 8h8m-3-3h8m-7 3h8m-8-18h8m-7 17h8m-6-8h8m-8 5h8m-7-11h8m-8 8h8m-5 6h8m-8-7h8m-8-2h8m-7-6h8m-7 16h8m-7-16h8m-8 15h8m-4-14h8m-7 11h8m-4-2h8m-7-1h8m-6 6h8m-7-2h8m-8-9h8m-7 9h8m-7 0h8m-8-4h8m-8 1h8m-6-4h8m-7 10h8m-5-17h8m-8 12h8m-7-4h8m-7-5h8m-7-4h8m-8 12h8m-7-6h8m-7-4h8m-8 17h8m-7-9h8m-7 7h8m-6-12h8m-6 3h8m-8 3h8m-6 3h8m-7 3h8m-4 1h8m-6-3h8m-6-13h8m-8 11h8m-8-1h8m-6-5h8m-7 10h8m-7-2h8m-6 0h8m-5-6h8m-8 3h8m-7 4h8m-3 0h8m-8 2h8m-6-5h8m-5 3h8m-6-7h8m-6 9h8m-8 0h8m-8-5h8m-8-11h8m-6 9h8m-4-4h8m-7 1h8m-6 2h8m-8-2h8m-6-5h8m-7 2h8m-6-3h8m-8 2h8m-7 9h8m-8-3h8m-7 5h8m-5-5h8m-7 9h8m-6-18h8m-6 12h8m-8-7h8m-7 9h8m-3-5h8m-5 4h8m-1-3h8m-8-1h8m-8 2h8m-5-5h8m-4-2h8m-7 4h8m-5 7h8m-6-9h8m-5 10h8m-5-7h8m-6 0h8m-3-9h8m-4 8h8m-8 1h8m-3 2h8m-5 1h8m-4 1h8m1-12h8m-1 9h8m-7-3h8m8-5h8m-290 25h8m-5 3h8m-7-4h8m-4 6h8m-6-1h8m-7 5h8m0-17h8m-6 12h8m-4 2h8m-7-1h8m-7-11h8m-6 10h8m-6-11h8m-5 16h8m-5-10h8m9-5h8m-6-2h8m-6 15h8m-2-5h8m-7-6h8m-7 1h8m-8 13h8m-7-12h8m-5 8h8m-7 5h8m-6-1h8m-8-3h8m-6-6h8m-7-2h8m-6-6h8m-7 14h8m-2 3h8m-7-9h8m-7 4h8m-3-10h8m-7 0h8m-5 15h8m-6-2h8m-7-7h8m-7-6h8m-8 1h8m-8 9h8m-7 5h8m-7-10h8m-7 7h8m-7-1h8m-7-14h8m-8 10h8m-2 1h8m-7 7h8m-3-2h8m-7-16h8m-8 5h8m-8-4h8m-7 18h8m-8-11h8m-6-5h8m-8 1h8m-8 5h8m-7 7h8m-8-15h8m-7-1h8m-7 13h8m-5-10h8m-7 6h8m-7 0h8m-8 5h8m-7 3h8m-5-2h8m-7-8h8m-7-4h8m-8 15h8m-7-13h8m-8 5h8m-7-6h8m-8 2h8m-3 8h8m-5-9h8m-7-4h8m-8 0h8m-8 0h8m-6 12h8m-8-2h8m-8 6h8m-5-11h8m-7 2h8m-7-8h8m-6 11h8m-3 0h8m-7 6h8m-7-5h8m-5-3h8m-6 5h8m-6-9h8m-7 0h8m-7 8h8m-8-12h8m-7 15h8m-5-7h8m-8 4h8m-5-2h8m-7-4h8m-6 10h8m-8 1h8m-6-13h8m-5 11h8m-7-13h8m-3 4h8m-5 7h8m-2 2h8m-5-9h8m-6 10h8m-3-13h8m-5 9h8m-8-8h8m-4 13h8m-8-15h8m-7 5h8m-6 5h8m3 1h8m-7-14h8m3 6h8m1 8h8m6-1h8m-2-6h8m-4-2h8m-3 12h8m10-2h8m-312 17h8m-5-9h8m0 7h8m-7-6h8m0 9h8m6-12h8m-3 3h8m-4 1h8m-7 6h8m-7 0h8m-7 3h8m-4-6h8m-7 4h8m-5-10h8m-4 13h8m-8 1h8m-6 0h8m-7-7h8m-4-3h8m-5 1h8m-7 9h8m-3 3h8m-6-19h8m-7 4h8m-7 6h8m-7-6h8m-8 5h8m-7 8h8m-8-3h8m-4-9h8m-6 14h8m-7-8h8m-8-11h8m-6 0h8m-4 1h8m-8 17h8m-8-5h8m-7-5h8m-8 0h8m-5 6h8m-5-9h8m-7-3h8m-6 1h8m-8 12h8m-7-10h8m-7 9h8m-7-4h8m-7 6h8m-8-13h8m-6 9h8m-8-5h8m-5-4h8m-7 3h8m-6 6h8m-8 6h8m-7-5h8m-6-12h8m-8 2h8m-5-3h8m-6 14h8m-8-8h8m-7 5h8m-8-1h8m-8-2h8m-7-2h8m-6 13h8m-8-6h8m-5-13h8m-8 15h8m-7 4h8m-7-16h8m-6-2h8m-7 9h8m-7-9h8m-8 13h8m-7-6h8m-8 9h8m-7-2h8m-8-9h8m-7 12h8m-4-2h8m-7-12h8m-7 14h8m-4-9h8m-8 10h8m-7-13h8m-8 2h8m-7 10h8m-8-15h8m-7-1h8m-7 8h8m-4 6h8m-7-12h8m-8 9h8m-3-8h8m-6 3h8m-8-8h8m-7 1h8m-4 16h8m-7-3h8m-6-13h8m-6 17h8m-4-7h8m-5-7h8m-8 8h8m-7-7h8m-7 2h8m2-3h8m-1 6h8m-8 0h8m-7 8h8m-4-8h8m-3 9h8m-6-13h8m-5 0h8m1-4h8m-4 5h8m-5-7h8m-6 7h8m-6-1h8m-6 7h8m-6 0h8m-3-12h8m-2 11h8m-7-3h8m1 10h8m5-1h8m-6-2h8m-282 4h8m-7 5h8m-7 6h8m-1 0h8m-8-10h8m-7 4h8m-4-1h8m-7 11h8m-3 0h8m-6-10h8m-3 3h8m10-8h8m-8 5h8m-4 7h8m-6 7h8m-6-13h8m-6 9h8m-7-6h8m-7 4h8m-7 1h8m-3-8h8m-4 4h8m-8-4h8m-7 5h8m-8-11h8m-6 18h8m-4-6h8m-5-5h8m-7-2h8m-8 0h8m-7 9h8m-8-10h8m-7 11h8m-7 2h8m-7-14h8m-5 11h8m-7-14h8m-8 17h8m-4-10h8m-5 9h8m-8-2h8m-6 2h8m-5-9h8m-7-2h8m-8 14h8m-8-6h8m-2-5h8m-1 3h8m-7-3h8m-7-4h8m-7-2h8m-7 3h8m-4 4h8m-5 4h8m-8-1h8m-7-1h8m-8-3h8m-8 4h8m-8-9h8m-4 2h8m-8 6h8m-8 4h8m-6-13h8m-7-2h8m-6 5h8m-7-3h8m-7 12h8m-6-4h8m-5-5h8m-7 2h8m-6 7h8m-7-9h8m-4-4h8m-7 3h8m-6 13h8m-7-11h8m-8 13h8m-8-12h8m-4-3h8m-5 0h8m-8 12h8m-2-7h8m-7-1h8m-3-4h8m-4 11h8m-8 3h8m-7-16h8m6 13h8m-4-6h8m2-3h8m-7-2h8m-7-4h8m-4 16h8m-8-11h8m-7 9h8m-6-5h8m-4-2h8m-8 1h8m-6 7h8m-6-3h8m-5 7h8m-7-2h8m-8 1h8m0-5h8m-6-13h8m-5 1h8m-5 8h8m-1 10h8m1-19h8m2 5h8m-5 3h8m-8 1h8m-7 6h8m15-8h8m-288 22h8m-7 3h8m-3-10h8m-7 4h8m1 1h8m-8-1h8m5 6h8m-6-10h8m3 2h8m0 5h8m1-8h8m-6-1h8m-5 4h8m-6 11h8m-4-12h8m-6 12h8m-2-15h8m-2 9h8m-6-7h8m-5 5h8m-7-2h8m-8 4h8m-7 3h8m-5 6h8m-5-9h8m-7 2h8m-4 7h8m-6-3h8m-6-14h8m-7 5h8m-8 2h8m-7 2h8m-6 1h8m-8-3h8m-8 7h8m-6 2h8m-7-12h8m-7 0h8m-8 13h8m-8-15h8m-8 2h8m-5-3h8m-7 11h8m-8-13h8m-6 4h8m-7 4h8m-7-2h8m-5 1h8m-7-3h8m-5-4h8m-7 3h8m-7 3h8m-4-1h8m-8 8h8m-7-4h8m2-5h8m-8 9h8m-4 1h8m-7-12h8m-6 5h8m-7 12h8m-6-14h8m-7 0h8m-7 6h8m-8-5h8m-8 1h8m-8 8h8m4-11h8m-6-3h8m-7 6h8m-7 1h8m-8-4h8m-6 7h8m-5 7h8m-5-18h8m3 8h8m-2 0h8m-7-2h8m-5 10h8m-8 2h8m-7-1h8m4-14h8m-8-3h8m-6 2h8m10 3h8m-6-1h8m21 2h8m-1 12h8m-296 19h8m-7-5h8m16-4h8m-1 4h8m-6 7h8m-5-12h8m-4 12h8m-5-7h8m-4-3h8m-8-9h8m-6 19h8m-7-18h8m-7 12h8m-6 0h8m-4 0h8m-7-13h8m-5 14h8m-6 1h8m15 0h8m-6 0h8m-7-14h8m-4 1h8m-7 12h8m-8-1h8m-4-9h8m-1 4h8m-3 8h8m-1 0h8m-6-3h8m-7-2h8m-7-5h8m-4 12h8m-8-2h8m0-9h8m-6 6h8m6-6h8m-7 11h8m-8-15h8m-4-1h8m-4 9h8m-8 7h8m-6-5h8m-5-9h8m-3 3h8m-6 8h8m-8-13h8m-5 1h8m-6 12h8m-6 4h8m-3-9h8m-5-4h8m1 7h8m-7-1h8m-1-3h8m-4 0h8m4 6h8m35-9h8m5-4h8m-7 17h8m-256 10h8m-5-4h8m-2 10h8m-6-14h8m-7 12h8m15 6h8m3-8h8m-2-9h8m-3 1h8m-7 10h8m2-1h8m-7-5h8m-7-6h8m-5-1h8m-4 6h8m-5-5h8m-6 3h8m-8-1h8m0 8h8m3 2h8m-5 5h8m-6-18h8m-4 4h8m-7 13h8m-7-8h8m-7 0h8m-8 6h8m-4-11h8m-6-3h8m-7 17h8m-8-8h8m0 9h8m-5-17h8m-3 1h8m-5-2h8m-6-1h8m-5 5h8m-7-5h8m-7 8h8m-6-6h8m20 10h8m17 3h8m-6 4h8m13-17h8m5 5h8m-4 11h8m5-3h8m-265 15h8m21-7h8m0 16h8m8-19h8m5 4h8m2 9h8m6-2h8m-2-11h8m-7 5h8m1 8h8m8-2h8m-7-5h8m2 9h8m14-14h8m-5 17h8m1-12h8m-5-5h8m3 11h8m-6-11h8m17 4h8m40 12h8m-210 7h8m39 1h8m-6 8h8m12 3h8m-1-6h8m21-8h8m8 6h8m-183 23h8m30-11h8m-1 0h8m22 6h8m10-5h8m4 13h8m-2 4h8m21-6h8m-4-7h8m100 4h8m-256 24h8m-1-5h8m25 4h8m46-9h8m4 13h8m72-12h8m-3-1h8m-5 8h8m35 1h8m0 5h8m-190 10h8m20-2h8m12-2h8m6 13h8m2-12h8m-1 15h8m4-15h8m-4 4h8m67-5h8m-182 32h8m-8-10h8m-36 31h8m22-15h8m12 7h8m114-8h8m44 0h8m-202 26h8m141-6h8m-1 16h8m-160 13h8m156 1h8m-3-3h8" stroke-opacity=".45"/>
<path transform="scale(.1)" stroke="#1c5a9e" stroke-width="8" d="M2958 686h8m-219 32h8m131-1h8m29-8h8m20 10h8m-97 5h8m42 14h8m-192 21h8m-2-6h8m26-10h8m-1 12h8m45 3h8m69 0h8m-181 17h8m1 4h8m-7-13h8m10 9h8m-4-10h8m-4 14h8m-8-1h8m6 1h8m-6 0h8m-7-9h8m-4 6h8m14-13h8m-8 15h8m-3-3h8m1-1h8m2 1h8m3 3h8m11 1h8m4-3h8m-6 0h8m-7-12h8m21 14h8m14 0h8m-7-7h8m17 7h8m27-2h8m-289 9h8m-7 8h8m-6 6h8m-7-19h8m-8 4h8m-8 6h8m-5 5h8m-8-6h8m-3-8h8m-6 8h8m-6-9h8m-6 4h8m-2 14h8m-4-6h8m-5-5h8m-6-3h8m-5 12h8m-8 0h8m-4 3h8m-8-7h8m-7-2h8m-6-9h8m-8 1h8m-2 17h8m-8-7h8m-3-4h8m-4-8h8m-8 11h8m-7 3h8m-4-8h8m-7 11h8m-7-7h8m-4 1h8m-8 4h8m-8-9h8m-6 2h8m-8-5h8m-5 11h8m-7 5h8m-4-7h8m-8 5h8m-7-6h8m-7-3h8m-8 3h8m-7 1h8m-5-7h8m-7 13h8m-7-2h8m-6-8h8m-8-6h8m-7 7h8m-6-6h8m-7 14h8m-7-8h8m-8-8h8m-6 6h8m-8-4h8m-8 8h8m-8 2h8m-7-11h8m-2 11h8m-6 1h8m-5 0h8m-4-5h8m-6 9h8m-8-9h8m-8 10h8m-7-12h8m-8-6h8m-8 1h8m-7 15h8m-8-6h8m-5 8h8m-7-14h8m-7-2h8m-8-2h8m-7 10h8m-7 8h8m-7-11h8m-8-3h8m-7-4h8m-7 13h8m-5 3h8m-7-7h8m-5 1h8m-8-10h8m-1 1h8m-7 17h8m-7-17h8m-7-2h8m-8 11h8m-7-1h8m-7 4h8m-8-11h8m-7 12h8m-8-1h8m-8-7h8m0 7h8m-8-11h8m-4 3h8m-5 5h8m-6 4h8m-8-12h8m-6 6h8m-7 1h8m-8 7h8m-8-3h8m-8-7h8m-6-2h8m-8 13h8m-6-3h8m-6-4h8m-8-8h8m-7 6h8m-4-7h8m-8 8h8m-5-6h8m-7 5h8m-7-5h8m-7-2h8m-8 1h8m-7 10h8m-6 6h8m-6-14h8m-8-5h8m-5 9h8m2-6h8m-6 2h8m-6 5h8m-5-8h8m-4 14h8m-4-13h8m-4-1h8m-7 7h8m-8 5h8m0-3h8m-6-10h8m11 9h8m-7 9h8m-2-11h8m5 9h8m3 2h8m9-19h8m-8 2h8m-305 31h8m4-3h8m0 7h8m-8-15h8m-4 5h8m-7 5h8m-6-7h8m-6 4h8m-4-9h8m-6 6h8m-8 2h8m-6 0h8m-7 6h8m-8-4h8m-8 6h8m-7-14h8m-6 8h8m-6-3h8m-3 6h8m-7-7h8m-7 5h8m-8-8h8m-7 15h8m2-1h8m-7-5h8m-7 0h8m-6 4h8m-5-8h8m-4 7h8m-7-12h8m-8 15h8m-7 0h8m-8-2h8m-8-11h8m-6 12h8m-7 2h8m-8-15h8m-4-2h8m-8 17h8m-7-4h8m-6-2h8m-7-12h8m-8 17h8m-7-2h8m-7-8h8m-7 1h8m-7-4h8m-8-1h8m-8-3h8m-7 8h8m-6-1h8m-6 3h8m-5-1h8m-8-2h8m-8-7h8m-8 2h8m-6-2h8m-8 9h8m-7-4h8m-8-1h8m-8 3h8m-6 7h8m-7-13h8m-8-2h8m-6 2h8m-7 14h8m-7-3h8m-7 3h8m-5-14h8m-8 16h8m-7-14h8m-8 6h8m-6 7h8m-7-7h8m-7-4h8m-8 7h8m-7 5h8m-8-9h8m-7 4h8m-7-11h8m-7 5h8m-6 0h8m-8-6h8m-4 6h8m-8-4h8m-6 4h8m-5-7h8m-7 5h8m-7 12h8m-7 2h8m-7-14h8m-7 8h8m-5-5h8m-6-3h8m-7 5h8m-6 2h8m-7 7h8m-6-4h8m-5-12h8m-7-1h8m-8 0h8m-8 5h8m-6 10h8m-8-16h8m-6 0h8m-7 9h8m-7-10h8m-8 12h8m-5-5h8m-7-7h8m-8 10h8m-7-2h8m-7 3h8m-7 5h8m-8 2h8m-6-13h8m-8-4h8m-5 18h8m-7-10h8m-7-7h8m-8 11h8m-7 4h8m-8 2h8m-8-3h8m-7-1h8m-6-14h8m-4 15h8m-7-2h8m-4-6h8m-8-3h8m-4 7h8m-8 0h8m-4-11h8m-7-1h8m-6 9h8m-2-8h8m-7 13h8m-6-2h8m-4 5h8m-5-5h8m-3-4h8m-8 6h8m-7-6h8m0 7h8m-5 4h8m3 0h8m-7-5h8m-3-13h8m16 8h8m9-3h8m-291 21h8m-7 4h8m-6-6h8m-5 0h8m-7 13h8m-3-7h8m2-4h8m-6 11h8m-7-7h8m-6 4h8m-4 2h8m-7 2h8m-5-4h8m-6-4h8m-7-11h8m-7 11h8m-7 7h8m-6-18h8m-8 9h8m-7 7h8m-8-1h8m-6 2h8m-1-6h8m-8 6h8m-4-11h8m-8 2h8m-1-2h8m-7 8h8m-7-5h8m-6 8h8m-6-15h8m-6 12h8m-6 5h8m-8-5h8m-8-3h8m-5 3h8m-7-9h8m-3-4h8m-8 17h8m-7-1h8m-7-17h8m-8 6h8m-6-5h8m-8 18h8m-5-11h8m-7 10h8m-6-18h8m-7 15h8m-3-2h8m-7 0h8m-6-2h8m-8 4h8m-7-14h8m-7 2h8m-1 8h8m-7 7h8m-6-3h8m-6-10h8m-5 10h8m-8-15h8m-7 16h8m-8 0h8m-7-13h8m-8-3h8m-8 6h8m-8 10h8m-7-15h8m-7 1h8m-7 2h8m-5 5h8m-8 1h8m-6-9h8m-8 6h8m-3-4h8m-7 16h8m-8 0h8m-5-1h8m-6-11h8m-4-3h8m-5 2h8m-8 12h8m-6-16h8m-7 0h8m-7 3h8m-8-1h8m-7 15h8m-5-6h8m-7 0h8m-7-4h8m-6-1h8m-8 3h8m-7 4h8m-6-7h8m-7 5h8m-7 0h8m-7 6h8m-8-1h8m-7-3h8m-7-2h8m-8 3h8m-7-11h8m-7 13h8m-6-4h8m-7-6h8m-8 7h8m-8-9h8m-5 0h8m-7-3h8m-5 12h8m-8-8h8m-7 4h8m-8-2h8m-6 4h8m-4-10h8m-7 3h8m-7 1h8m-7 4h8m-5-5h8m-8-3h8m-7 13h8m0-2h8m-6 0h8m-5-9h8m-7 10h8m-4-1h8m-5 3h8m-8-6h8m-6 7h8m-7-7h8m1-10h8m-7 4h8m-7-3h8m-4 4h8m-7-2h8m-7-2h8m2 13h8m-6-11h8m4 3h8m18 1h8m4 9h8m-306 22h8m3-7h8m-5-6h8m4-1h8m-4-1h8m-8-2h8m-2 6h8m-8-8h8m-2 8h8m-8 1h8m-5 7h8m-4-16h8m-5 0h8m-5 19h8m0-4h8m-7-7h8m-7 4h8m-8-2h8m-4-9h8m-8 16h8m-8-16h8m-1 5h8m-6 4h8m-8 0h8m-8-6h8m-6 6h8m-8 5h8m-7 1h8m-5-14h8m-7 6h8m-6-8h8m-7 1h8m-5 14h8m-4-6h8m-6 10h8m-8-13h8m-6 6h8m-8 4h8m-8-8h8m-6 6h8m-6-3h8m-7 3h8m1 1h8m-3 1h8m-8-15h8m-8-1h8m-7 9h8m-8 8h8m-7-6h8m-8-3h8m-6 0h8m-8-1h8m-7 3h8m-7-9h8m-8 6h8m-7 8h8m-7 3h8m-8-9h8m-7 6h8m-2-3h8m-8-7h8m-8 12h8m-4-7h8m-7-6h8m-7 14h8m-6-18h8m-8 17h8m-7-11h8m-8-6h8m-7 18h8m-6-6h8m-6 3h8m-8-12h8m-7 16h8m-5-18h8m-8 0h8m-5 0h8m-7 3h8m-7 1h8m-8 14h8m-8-1h8m-8-9h8m-5 10h8m-5-16h8m-6 6h8m-5-7h8m-8 6h8m-8 9h8m-4-13h8m-6-4h8m-7 4h8m-7 12h8m-8 3h8m-7-10h8m-7-6h8m-8 6h8m-8-1h8m-7-5h8m-7 4h8m-7 3h8m-8 0h8m-6 5h8m-7-15h8m-6 16h8m-6-4h8m-7-10h8m-7 14h8m-4-4h8m-6 1h8m-6-11h8m-8 6h8m-7-5h8m-5-3h8m-5 3h8m-6 2h8m-4 4h8m-5-9h8m-8 18h8m1-4h8m-5-6h8m-7 11h8m-2-19h8m4 11h8m5 4h8m-6-10h8m-5-5h8m14 6h8m-7 7h8m-301 23h8m18-6h8m-4-5h8m-5 7h8m-5-11h8m3 5h8m-6 10h8m-7-9h8m-6 12h8m-4-13h8m-5-2h8m-5 9h8m-2-3h8m-3-7h8m-7 10h8m-8 3h8m-5-16h8m-7 0h8m-3 18h8m-3-9h8m-7 9h8m-2-14h8m-6-2h8m-6 9h8m-7 7h8m-7-16h8m-3 14h8m-8 0h8m-7-8h8m-7 5h8m-5 5h8m-3-8h8m-7-1h8m-5 8h8m-4-2h8m-7-1h8m-5-10h8m-8 14h8m-3-11h8m-4 3h8m-6-10h8m-7 14h8m-8-3h8m-6 8h8m-7-15h8m-7 9h8m-7 4h8m-5-6h8m-8-9h8m-5 14h8m-6-8h8m-4 9h8m-7-3h8m0-12h8m-7 4h8m-5 9h8m-7-4h8m-7 2h8m-5-8h8m4-1h8m-6 5h8m0 0h8m-3 6h8m-8 1h8m10-6h8m-3 6h8m-8-3h8m-6-9h8m-2 7h8m-7-7h8m-4 4h8m-1 8h8m-5-2h8m-4 3h8m-3 2h8m-262 2h8m0 6h8m4 1h8m0 6h8m5-5h8m5 3h8m2 2h8m-4-11h8m-5 0h8m-7-1h8m-5 5h8m2 11h8m-5-18h8m1 13h8m-8-5h8m-7-4h8m-7 11h8m-8-3h8m-8 4h8m-7-3h8m-6 1h8m0-9h8m-7 5h8m-6-9h8m-4 15h8m-2-5h8m12-10h8m-4 15h8m-6-3h8m-7-3h8m-7 3h8m-6-5h8m-8-5h8m-6 5h8m-7 6h8m-4-8h8m-6 3h8m-8-6h8m1 2h8m-3-2h8m1 10h8m-3-5h8m-6 11h8m-1-6h8m2-3h8m17-6h8m-7 9h8m-232 7h8m43 17h8m-8-6h8m-4-5h8m22-2h8m-2-1h8m-7 12h8m-4-4h8m-7 2h8m-2-4h8m-6 2h8m-2-2h8m-7 8h8m-6-13h8m-4 12h8m-4-15h8m-3 1h8m-7 15h8m4-9h8m-5-6h8m1 3h8m-6 0h8m-5 11h8m-6 3h8m-5-9h8m-2-3h8m5 1h8m-6-7h8m47 7h8m6-7h8m-246 29h8m23-9h8m19 10h8m-1 8h8m-7-12h8m-2-2h8m1 8h8m5 6h8m5-15h8m-7 5h8m-5-8h8m-4 1h8m-5-1h8m-2-1h8m-8 9h8m1-9h8m-6 12h8m13-10h8m-7 1h8m21 14h8m-6-7h8m-4-5h8m-6 10h8m-3-13h8m2 14h8m14-11h8m21 5h8m-234 20h8m-5-5h8m35 4h8m5 1h8m14 4h8m11-8h8m-7 12h8m2-9h8m31-3h8m-191 24h8m-6-7h8m17-2h8m54 5h8m-6 5h8m8 0h8m10 5h8m-2-10h8m15 3h8m4 4h8m26-11h8m1 6h8m-1-2h8m-157 29h8m70-11h8m11-4h8m22 9h8m36-6h8m16 11h8m4-4h8m-307 29h8m109-16h8m68-3h8m76 14h8m1 2h8m-253 10h8m71-6h8m18 4h8m40 12h8m71-2h8m-138 20h8m108-14h8m-175 26h8m0 9h8m115 17h8m44-2h8" stroke-opacity=".45"/>
<path transform="scale(.1)" stroke="#2a5fa3" stroke-width="8" d="M3056 790h8m-5-9h8m33 15h8m4-4h8m4-9h8m15 7h8m-76 18h8m2-6h8m-5 6h8m-6 4h8m13 7h8m1-10h8m-7 10h8m0-13h8m36 2h8m-134 25h8m-6-2h8m8 2h8m20-12h8m0 6h8m-6 10h8m3 1h8m-6-4h8m-6-9h8m-8-2h8m-4 4h8m-6 1h8m-81 26h8m5 3h8m-2-8h8m1 7h8m3-9h8m4 0h8m-7-1h8m11 9h8m6-11h8m-5 14h8m-66 12h8m-6-9h8m-7 11h8m31 1h8m0 2h8m-71 9h8m-4 6h8m-6-7h8m9-3h8m-1 8h8m1-8h8m4 18h8m-8-15h8m-4 4h8m-4 5h8m28 4h8m-74 14h8m-1-4h8m-5-1h8m-51 27h8m32 0h8m-13 9h8m28 10h8"/>
<path transform="scale(.1)" stroke="#ee5038" stroke-width="8" d="M3103 653h8m-3 4h8m-3 2h8m21-6h8m-8 2h8m14-2h8m12-8h8m-109 31h8m16-13h8m3 6h8m-8 6h8m-3-1h8m-5 3h8m-1 1h8m-5-6h8m5-7h8m-8 2h8m-7-4h8m-1 16h8m-6-5h8m-67 24h8m-8-3h8m0 3h8m-6 0h8m-1-17h8m-7 1h8m-7 6h8m-7 0h8m-6 2h8m-4 5h8m-3 2h8m-2-12h8m-6 13h8m-2-2h8m-103 18h8m14-3h8m2-10h8m-8 10h8m-7-1h8m-7 8h8m-1-3h8m-3 0h8m-8 0h8m-3 2h8m-8-8h8m-7-1h8m-8 0h8m2 1h8m-7 0h8m-6 7h8m-7-10h8m-5-1h8m-6-2h8m-4 16h8m-6-8h8m1-4h8m3-6h8m-8 4h8m-79 34h8m-5-11h8m4 8h8m-1-9h8m-6 0h8m-7-7h8m-8 4h8m-2-3h8m-6 12h8m-3 1h8m-6-12h8m-8 3h8m-3-4h8m-3 7h8m-7 2h8m34 4h8m-119 6h8m3 4h8m3 2h8m-7 1h8m41 1h8m-88 13h8"/>
<rect x="269.8" y="76.9" width="31.7" height="33.4" fill="none" stroke="#7a7a7c" stroke-width="0.75"/>
<rect x="304.2" y="63.1" width="16.4" height="13.8" fill="none" stroke="#7a7a7c" stroke-width="0.75"/>
<rect x="304.2" y="76.9" width="16.4" height="33.4" fill="none" stroke="#7a7a7c" stroke-width="0.75"/>
<rect x="269.8" y="34.1" width="76.6" height="76.2" fill="none" stroke="#231f20" stroke-width="1.1"/>
<path d="M268.2 74.03h1.6M268.2 71.7h1.6M268.2 70.05h1.6M268.2 68.77h1.6M268.2 67.73h1.6M268.2 66.84h1.6M268.2 66.08h1.6M268.2 65.4h1.6M268.2 60.86h1.6M268.2 58.55h1.6M268.2 56.91h1.6M268.2 55.64h1.6M268.2 54.61h1.6M268.2 53.73h1.6M268.2 52.97h1.6M268.2 52.3h1.6M268.2 47.97h1.6M268.2 45.78h1.6M268.2 44.23h1.6M268.2 43.03h1.6M268.2 42.05h1.6M268.2 41.22h1.6M268.2 40.5h1.6M268.2 39.87h1.6M267 39.3h2.8M267 51.7h2.8M267 64.8h2.8M267 78h2.8M267 97.3h2.8M268.4 80h1.4M268.4 82.36h1.4M268.4 84.73h1.4M268.4 87.09h1.4M268.4 89.45h1.4M268.4 91.82h1.4M268.4 94.18h1.4M268.4 96.55h1.4M268.4 98.91h1.4M268.4 101.27h1.4M268.4 103.64h1.4M268.4 106h1.4M285.5 110.3v2.6M310.8 110.3v2.6M327 110.3v2.6M340.8 110.3v2.6M272.8 110.3v1.4M275.8 110.3v1.4M278.8 110.3v1.4M281.8 110.3v1.4M284.8 110.3v1.4M287.8 110.3v1.4M290.8 110.3v1.4M293.8 110.3v1.4M296.8 110.3v1.4M299.8 110.3v1.4M315.68 110.3v1.4M318.53 110.3v1.4M320.55 110.3v1.4M322.12 110.3v1.4M323.41 110.3v1.4M324.49 110.3v1.4M325.43 110.3v1.4M326.26 110.3v1.4M331.15 110.3v1.4M333.58 110.3v1.4M335.31 110.3v1.4M336.65 110.3v1.4M337.74 110.3v1.4M338.66 110.3v1.4M339.46 110.3v1.4M340.17 110.3v1.4M305.8 110.3v1.4M307.8 110.3v1.4" stroke="#231f20" stroke-width=".7" fill="none"/>
<text x="265.8" y="42.2" font-size="5.6" text-anchor="end" stroke="#231f20" stroke-width="0.1">10<tspan font-size="4.0" dy="-2.3">5</tspan></text>
<text x="265.8" y="54.6" font-size="5.6" text-anchor="end" stroke="#231f20" stroke-width="0.1">10<tspan font-size="4.0" dy="-2.3">4</tspan></text>
<text x="265.8" y="67.7" font-size="5.6" text-anchor="end" stroke="#231f20" stroke-width="0.1">10<tspan font-size="4.0" dy="-2.3">3</tspan></text>
<text x="265.8" y="80.9" font-size="5.6" text-anchor="end" stroke="#231f20" stroke-width="0.1">10<tspan font-size="4.0" dy="-2.3">2</tspan></text>
<text x="264.8" y="99.3" font-size="5.8" text-anchor="end" stroke="#231f20" stroke-width="0.1">0</text>
<text x="285.5" y="120.2" font-size="6" text-anchor="middle" stroke="#231f20" stroke-width="0.1">0</text>
<text x="312" y="120.2" font-size="6" text-anchor="middle" stroke="#231f20" stroke-width="0.1">10<tspan font-size="4.2" dy="-2.2">3</tspan></text>
<text x="328.8" y="120.2" font-size="6" text-anchor="middle" stroke="#231f20" stroke-width="0.1">10<tspan font-size="4.2" dy="-2.2">4</tspan></text>
<text x="342.6" y="120.2" font-size="6" text-anchor="middle" stroke="#231f20" stroke-width="0.1">10<tspan font-size="4.2" dy="-2.2">5</tspan></text>
<text x="286.2" y="64.95" font-size="5.5" text-anchor="middle" textLength="27" lengthAdjust="spacingAndGlyphs" stroke="#231f20" stroke-width="0.1">CD4+Tcons</text>
<text x="286.2" y="70.55" font-size="5.5" text-anchor="middle" stroke="#231f20" stroke-width="0.1">94.1</text>
<text x="329" y="49.15" font-size="5.5" text-anchor="middle" textLength="24" lengthAdjust="spacingAndGlyphs" stroke="#231f20" stroke-width="0.1">Foxp3GFP</text>
<text x="329" y="55.55" font-size="5.5" text-anchor="middle" stroke="#231f20" stroke-width="0.1">1.64</text>
<text x="333.5" y="91.35" font-size="5.5" text-anchor="middle" textLength="18.2" lengthAdjust="spacingAndGlyphs" stroke="#231f20" stroke-width="0.1">CD45.1</text>
<text x="333.5" y="97.35" font-size="5.5" text-anchor="middle" textLength="18" lengthAdjust="spacingAndGlyphs" stroke="#231f20" stroke-width="0.1">+Foxp3</text>
<text x="333.5" y="103.15" font-size="5.5" text-anchor="middle" stroke="#231f20" stroke-width="0.1">1.45</text>
<text x="422.8" y="27.7" font-size="9.3" text-anchor="middle" textLength="54.8" lengthAdjust="spacingAndGlyphs" stroke="#231f20" stroke-width="0.1">α-GalCer-lipo</text>
<clipPath id="gc3"><rect x="384.8" y="77.1" width="30.2" height="30"/></clipPath>
<g clip-path="url(#gc3)"><ellipse cx="396.7" cy="82.4" rx="8.5" ry="5.6" fill="#1c5a9e" fill-opacity=".85" filter="url(#bl2)"/></g>
<path transform="scale(.1)" stroke="#1c5a9e" stroke-width="8" d="M3980 683h8m-6 5h8m-91 25h8m45-8h8m3 10h8m-73 38h8m7-8h8m-1 0h8m7 6h8m-4-3h8m-3-3h8m12 13h8m-1-12h8m2 6h8m27 2h8m-167 8h8m40 16h8m1-4h8m-4 3h8m-2 1h8m1 0h8m-7-3h8m-7 0h8m-7 4h8m-8-3h8m-5 0h8m-7 1h8m-6 0h8m1-5h8m2 6h8m-3 0h8m-6 1h8m-4-2h8m-8-1h8m-3-9h8m5 5h8m-3 0h8m-7 2h8m-6 3h8m-4 2h8m3-1h8m-4-2h8m-3-14h8m3 16h8m11 0h8m1 0h8m-7 1h8m7-3h8m4 0h8m-6-2h8m15 3h8m16-13h8m-295 32h8m-8-13h8m-2-1h8m3 6h8m-3 5h8m-4-2h8m-6-7h8m-7 9h8m-7-12h8m-6 12h8m-7-6h8m-6 2h8m-7-9h8m-7 7h8m-7 1h8m-2 7h8m-6-12h8m-7 11h8m-7-14h8m-7 18h8m-7-6h8m-4 2h8m1-10h8m-8 15h8m-8-18h8m-5 16h8m-7 1h8m-7 1h8m-7-9h8m-6 1h8m-8-8h8m-5 16h8m-5-6h8m-7-9h8m-7-1h8m-8 8h8m-6-4h8m-7-2h8m-5-3h8m-5 3h8m-7 9h8m-4-13h8m-6 17h8m-7-9h8m-2-8h8m-7 14h8m-7-15h8m-6 1h8m-6 6h8m-8 11h8m-5-13h8m-8-1h8m-5 1h8m-8-1h8m-6 7h8m-7 2h8m-2-10h8m-6 8h8m-2 1h8m-7 5h8m-7-1h8m-7-2h8m-8-10h8m-7 1h8m-8 2h8m-8 11h8m-6-15h8m-4-3h8m-8 14h8m-5-13h8m-7 18h8m-7-7h8m-6 3h8m-1-14h8m-5 1h8m-5 11h8m-4 4h8m-7-5h8m-5 6h8m-8-2h8m-8-16h8m-5 8h8m4 10h8m-6-12h8m0 11h8m-3 0h8m-8-17h8m-7 15h8m-7-2h8m0-11h8m-1 4h8m-6-2h8m-5-2h8m1 13h8m-8 2h8m-3-11h8m-7 8h8m-8-9h8m-4 2h8m3 0h8m0-6h8m3 18h8m-8-8h8m3-1h8m-291 13h8m-5 3h8m-7-2h8m3 7h8m-6-1h8m7-3h8m-5-4h8m-5-2h8m-8 6h8m-5 8h8m-7-10h8m-6 6h8m-7 3h8m-7-12h8m-8 11h8m-3-5h8m0 7h8m-8-12h8m-5 8h8m-8-9h8m-8-1h8m-3 3h8m-4 14h8m-8-16h8m-6 5h8m-7 7h8m-8 0h8m-7-11h8m-7-1h8m-7 12h8m-5 5h8m-6-3h8m-3-9h8m-6 11h8m-7-7h8m-7 2h8m-7-1h8m-8 6h8m-8-2h8m-5 2h8m-8-5h8m-7-3h8m-7-1h8m-7-8h8m-5 3h8m-3 9h8m-8-11h8m-7 0h8m-7 16h8m-6 0h8m-7-9h8m-8-6h8m-8 6h8m-7 3h8m-6-1h8m-7-7h8m-8 6h8m-5-3h8m-3-4h8m-7 0h8m-8-3h8m0 14h8m-7-8h8m-8-4h8m-4 3h8m-5 9h8m-2 3h8m-6-6h8m-7 0h8m-8-4h8m-8-1h8m1 9h8m-5-1h8m-1 0h8m-6-1h8m-7-5h8m-6-1h8m-2 9h8m-5-1h8m-8-13h8m-7 15h8m-6-16h8m-7 15h8m-1-15h8m-6 12h8m-5 1h8m-4-12h8m-3 15h8m-2-12h8m-6 13h8m-2-10h8m-5 8h8m-8-14h8m-3 6h8m-2-7h8m-5 3h8m-4 1h8m14 12h8m13-9h8m-293 29h8m-5-3h8m2-3h8m-2-1h8m-5 6h8m-8-13h8m-4-3h8m-4 19h8m-7-17h8m-8 4h8m-7 12h8m-7-17h8m-5 11h8m-7-8h8m-7-1h8m-7 12h8m-6-12h8m-8 8h8m-7-1h8m-7 5h8m-6-3h8m-7 2h8m-6-8h8m-6-1h8m-7 2h8m-6 6h8m-8 4h8m-5-17h8m-8 18h8m-6-1h8m-6-7h8m-8-2h8m-4 8h8m-6-6h8m-6 7h8m-5-11h8m-5 6h8m-6 4h8m-4-13h8m-7 13h8m0-2h8m-6-7h8m-8-1h8m-8 7h8m-6-11h8m-7 14h8m-6-4h8m-8 2h8m-7-14h8m-7 14h8m-6 2h8m-5 2h8m-7-4h8m-8 4h8m-7-18h8m-8 2h8m-4 4h8m-7-3h8m-6 14h8m-7-13h8m-4-2h8m-7 11h8m-8-12h8m-8 10h8m-2-10h8m-6 10h8m-5 0h8m-7-2h8m-5 9h8m-8-17h8m-8 8h8m-7 7h8m-4 2h8m-6-16h8m-7 6h8m-5-7h8m-8 15h8m-6 0h8m-7-13h8m-5 11h8m-7 0h8m-7-12h8m-8 5h8m-7 2h8m-7 1h8m-3 6h8m-7-5h8m-7-9h8m-4 0h8m-7 15h8m-8-7h8m-7-2h8m-7-5h8m-5 3h8m-3 8h8m-5-5h8m-7-2h8m-7-3h8m-6 10h8m-7-1h8m-6-1h8m-8 6h8m-5-4h8m-7-8h8m-8 0h8m-7 3h8m2 8h8m-4-14h8m-3 9h8m-4 7h8m-7-17h8m-6 13h8m-7-13h8m5 14h8m-3-7h8m-5 5h8m2-9h8m18 3h8m-276 23h8m-3 0h8m-4-6h8m-6 12h8m-7-17h8m-7 13h8m-2 6h8m-6-18h8m-2 10h8m-5-3h8m-7-1h8m-7 6h8m-1 2h8m-8-9h8m-7 3h8m-7 0h8m-2 10h8m-1-19h8m-5 13h8m-7-13h8m-8 19h8m-7-8h8m-4 6h8m-8-7h8m-5 3h8m-7 5h8m-7 0h8m-7-14h8m-3-4h8m-7 3h8m-6 13h8m-8-2h8m-7 4h8m-7-14h8m-8 9h8m-4-7h8m-5 11h8m-5-16h8m-8 6h8m-8-3h8m-4 0h8m-8 15h8m-6-17h8m-6 13h8m-8-14h8m-6 10h8m-7-2h8m-8-7h8m-7 10h8m-8 1h8m-3 5h8m-5-7h8m-5-7h8m-5 6h8m-3 2h8m-3-9h8m-8 11h8m-7-14h8m-8 11h8m-7 8h8m-5-17h8m-3-1h8m-7 13h8m-7-1h8m-8-4h8m-8 9h8m-3-17h8m-5 7h8m-8-4h8m-7 13h8m-8-2h8m-7-3h8m-8 3h8m-7 2h8m-8 2h8m-5-18h8m-7 12h8m-7-2h8m-7 4h8m-5-3h8m-5-11h8m-1 14h8m-4-2h8m1-3h8m-7-10h8m-5 10h8m-6 0h8m5 3h8m-4-7h8m-7 4h8m2 6h8m-7-9h8m-3 8h8m-7-13h8m-6 8h8m-6-4h8m-5-1h8m5 1h8m1-6h8m17 12h8m-291 10h8m3 3h8m-3 0h8m1-3h8m-5 3h8m-3 3h8m-3 0h8m-5-3h8m2 7h8m-2-12h8m-4 5h8m-7 1h8m-7-6h8m-2 3h8m-6 9h8m-7 3h8m-4 1h8m-7-6h8m-7 1h8m-7 4h8m-6-9h8m-5-3h8m-8 0h8m-6-1h8m-6 7h8m-8 10h8m-8-8h8m-7-2h8m-8-6h8m-7-2h8m-7 11h8m-7 2h8m-7-12h8m-8 10h8m-3 4h8m-6-6h8m-7-2h8m-6-4h8m-7 2h8m-7 7h8m-7-12h8m2 18h8m-5-4h8m-7-15h8m-8 9h8m-8 1h8m-7-6h8m-7 1h8m-6 5h8m-5-8h8m0 15h8m-5-2h8m-2-3h8m-5-9h8m-6 2h8m-3 0h8m-7-5h8m-7 8h8m-8-3h8m-6-4h8m-7 3h8m-7 8h8m-7 7h8m-4-6h8m-5 5h8m-7-14h8m-7 13h8m-5 2h8m-3-13h8m-3 4h8m-7-1h8m-6 5h8m-7 2h8m-3-3h8m0 4h8m-7 1h8m-7 1h8m-7-8h8m-6-6h8m3 10h8m-4-1h8m-6-11h8m-3 6h8m-4 6h8m-3 3h8m-8-9h8m4-4h8m-2 3h8m-3 11h8m-4-8h8m1 5h8m-275 13h8m9-2h8m4-4h8m-8-3h8m-7 16h8m-5-7h8m-7 0h8m5-3h8m-6-6h8m1 5h8m-3 3h8m-6 9h8m-1 2h8m-2-8h8m-4 7h8m-8-12h8m-6 6h8m-6 6h8m-6 0h8m-4-7h8m-6-2h8m-8 3h8m2-8h8m-5-4h8m-7 17h8m-3-3h8m-8-12h8m-7 12h8m-4-4h8m-8-1h8m-3-4h8m-5 1h8m-5 12h8m0-5h8m-8-10h8m-7 2h8m-8 2h8m-7 6h8m-5-8h8m0 1h8m-7 5h8m-8 0h8m-2 0h8m-7 2h8m-8-2h8m2-2h8m-8 10h8m-5-14h8m-4 0h8m-6 7h8m-5-2h8m-4-8h8m-5-1h8m1 15h8m-7 3h8m-6-14h8m-4-1h8m3-2h8m1 2h8m-4 4h8m9-7h8m-7 14h8m-5-15h8m36 1h8m-304 36h8m-5-4h8m7 1h8m2-6h8m-8 0h8m0 8h8m-5-13h8m0 16h8m-3-16h8m0 16h8m-7-2h8m1 2h8m-8-11h8m6-3h8m-1 3h8m-5 9h8m-8 1h8m-7-18h8m5 1h8m-7 10h8m-8-8h8m-7-1h8m8 8h8m-7 8h8m-6-15h8m-6 5h8m11-7h8m-2 0h8m-8 12h8m-4 5h8m0-2h8m-5-6h8m4-1h8m-5 1h8m13 0h8m3-4h8m-1 10h8m6 1h8m-8-10h8m54 4h8m-284 17h8m31-2h8m-6 9h8m-2 4h8m-3-18h8m-2 11h8m-6-3h8m16 5h8m-2 2h8m-8 2h8m-7-6h8m0 4h8m-6-12h8m5-2h8m4-2h8m-7 9h8m-6-9h8m-5 5h8m16 5h8m0 4h8m7-12h8m0-2h8m4 5h8m13 0h8m10 0h8m10 2h8m-1 1h8m-3-3h8m-236 24h8m14-4h8m16 8h8m-5-8h8m-2-4h8m-7 5h8m-4-3h8m50 4h8m-2-2h8m22 4h8m9-8h8m-221 19h8m13 8h8m10 5h8m-6-3h8m-5-10h8m30 8h8m-3-6h8m49 12h8m-3-8h8m-6-2h8m6 9h8m-8-6h8m-7-3h8m16 0h8m-3-3h8m31 2h8m0 2h8m-247 16h8m3 5h8m16 5h8m80-4h8m2-4h8m23 7h8m29-1h8m8-9h8m8 4h8m-242 22h8m91 0h8m36 0h8m3 7h8m-39 7h8m-1 14h8m11-8h8m-156 23h8m15 0h8m19-1h8m67-2h8m95-5h8m-215 30h8m44 2h8m35 6h8m15-11h8m-1-6h8" stroke-opacity=".45"/>
<path transform="scale(.1)" stroke="#1c5a9e" stroke-width="8" d="M3998 660h8m35 59h8m-192 12h8m30-10h8m62 7h8m2-7h8m-110 25h8m1-3h8m3 4h8m9 3h8m-5-7h8m-1 0h8m6 16h8m6-6h8m23-4h8m59 5h8m-7-10h8m-182 30h8m9 3h8m-8 2h8m0-1h8m-4-3h8m-3-1h8m9 3h8m-6-3h8m-2 2h8m5 2h8m-2-15h8m-7 11h8m-4-8h8m-7 9h8m-2 0h8m5 2h8m-7 2h8m-7-15h8m-3 14h8m-7 0h8m5-3h8m13 0h8m53-9h8m-3 11h8m29 1h8m-268 20h8m-4-4h8m-4-13h8m-8 11h8m-5 7h8m-5-1h8m-5-18h8m-5 0h8m-1 13h8m-8-7h8m-4 13h8m-3-10h8m-7-2h8m-7 6h8m-8-6h8m-7 9h8m-4-1h8m-7-13h8m-2 16h8m-4-3h8m-7 0h8m1-15h8m-7 2h8m-1 12h8m-8 1h8m-8-9h8m-7 5h8m-7-8h8m-4 3h8m-5-5h8m-7 8h8m-4-8h8m-6 9h8m-8 7h8m-7-14h8m-6 8h8m-6 8h8m-6-5h8m-7-5h8m-7 7h8m-5-14h8m-8 8h8m-4 1h8m-5 0h8m-6-4h8m-8 5h8m0 6h8m-7-4h8m-7 2h8m-7 3h8m-4-11h8m-7 2h8m-3 1h8m-7-3h8m-8 8h8m-2-6h8m-8-6h8m-6 4h8m-1-3h8m-4 2h8m-7-1h8m-6 9h8m-4-5h8m-8 3h8m-6-9h8m-6 8h8m-1-8h8m-7 10h8m-7 5h8m-7-6h8m-7 5h8m-8-10h8m-8 10h8m-7-16h8m2 8h8m-8 0h8m-8 6h8m-3-4h8m-1 1h8m-2-9h8m-2 15h8m-3-3h8m-4-14h8m-5 7h8m-1-8h8m2 5h8m-4 5h8m3-8h8m-6-2h8m10 6h8m-284 29h8m-2-11h8m-7-2h8m-7 6h8m-7-5h8m0 6h8m-5 1h8m-4-4h8m-8 6h8m-8-5h8m-5 11h8m0-17h8m-6-2h8m-5 17h8m-7-11h8m-7 10h8m-6-15h8m1 12h8m-8-13h8m-5 12h8m-6-9h8m-4 14h8m-8-6h8m-7 3h8m-7-6h8m-7 0h8m-8 7h8m-6-7h8m-7-8h8m-6 19h8m-8-4h8m-4-9h8m-6 13h8m-8-1h8m-7-6h8m-7 5h8m-5-15h8m-7 5h8m-3 1h8m-5-2h8m-4 13h8m-8-6h8m-7-3h8m-7 5h8m-8-10h8m-6 4h8m-8-5h8m-8-2h8m-8 5h8m-6 11h8m-5-13h8m-6 11h8m-4-15h8m-7 5h8m-8 5h8m-8-6h8m-6 0h8m-8 3h8m-8-3h8m-3-3h8m-6 6h8m-7-4h8m-8 6h8m-8-8h8m-7 10h8m-5-4h8m-7-6h8m-8 5h8m-7-4h8m-6 9h8m-7 0h8m-5-8h8m-7 6h8m-5 0h8m-7-10h8m-8 16h8m-8-4h8m-7-5h8m-8 9h8m-8 1h8m-5-14h8m-6 6h8m-7 6h8m-8-1h8m-8-1h8m-6-1h8m-8-9h8m-7 16h8m-7-15h8m-7 12h8m-6-4h8m-6 5h8m-3-7h8m-5 5h8m-7-5h8m-2-6h8m-8 9h8m-6 6h8m-3-9h8m-8 0h8m-6-9h8m-5 17h8m-7-7h8m-8 4h8m-4-12h8m-7 1h8m-7 10h8m-1-4h8m1-2h8m-4 9h8m-5 0h8m-7-16h8m-6 12h8m4-6h8m3 4h8m-5 3h8m-7 3h8m2-12h8m12 14h8m-8-1h8m-5-5h8m-277 9h8m-3 12h8m-7-3h8m-2 6h8m-7 1h8m-3 1h8m-7-8h8m-4-9h8m-8 16h8m-5-10h8m-7 11h8m-7-1h8m-5-2h8m-8 1h8m-6-8h8m-3-1h8m-8 2h8m0 0h8m-7 7h8m-8-5h8m-5-12h8m-5 0h8m-5 1h8m-5 5h8m-7-2h8m-7-3h8m-5 7h8m-6 11h8m-7-13h8m-7 5h8m-6-4h8m-5 6h8m-6-12h8m-6 3h8m-6 11h8m-6 0h8m-8-15h8m-7 0h8m-7 7h8m-8 10h8m-4-14h8m-4 3h8m-8 2h8m-7-5h8m-7 5h8m-7 5h8m-6 3h8m-6-15h8m-6 8h8m-8 8h8m-6-9h8m-4 9h8m-6-4h8m-5-5h8m-8-3h8m-6 1h8m-4-3h8m-5-2h8m-8 14h8m-7 3h8m-7-14h8m-7 2h8m-4 6h8m-8 3h8m-8 1h8m-5-7h8m-8 4h8m-5-12h8m-8 1h8m-7 13h8m-7 3h8m-8-9h8m-7-2h8m-7-7h8m-6 12h8m-7-1h8m-7-9h8m-7 9h8m-8-6h8m-6 11h8m-8-8h8m-3 2h8m-8 2h8m-7-4h8m-8-7h8m-6 6h8m-8-4h8m-3 5h8m-5-6h8m-8 4h8m-6 7h8m-7-6h8m-7 7h8m-4-9h8m-7 2h8m-6 8h8m-3-8h8m-5 7h8m-1-5h8m-8 6h8m-7-8h8m-6 3h8m-3-3h8m-4 7h8m-7-4h8m-6 0h8m-7-2h8m-4 9h8m-6-3h8m-8 2h8m-7-16h8m6 1h8m0 4h8m-6 2h8m0-7h8m-7 5h8m2 4h8m1-2h8m-277 19h8m-1 12h8m-8-9h8m-4-2h8m-6 10h8m-7-1h8m-2-2h8m-7-10h8m-4 15h8m0-19h8m-6 10h8m-6 4h8m-1-11h8m-6 16h8m-7-19h8m5 12h8m-2 1h8m-7 2h8m-7 1h8m-8 0h8m-6-9h8m-8 11h8m-4-16h8m-7 1h8m-2-1h8m-8 4h8m-7 12h8m-6-17h8m-6 15h8m-8 0h8m-5-14h8m-4 7h8m-7 6h8m-5-8h8m-8 4h8m-6 4h8m-1 1h8m-6-6h8m-7 3h8m-8-13h8m-8 0h8m-5 10h8m-8-6h8m-8-2h8m-5 10h8m-8 2h8m-6-10h8m-7 6h8m-8 6h8m-4-15h8m-8 13h8m-6-6h8m-6-6h8m-7 7h8m-5-9h8m-7 12h8m-6-9h8m-7 16h8m-7-8h8m-7 2h8m-6 2h8m-8-15h8m-8 4h8m-4-1h8m-6 6h8m-7-3h8m-6-6h8m-8 11h8m-7-10h8m-8 15h8m-8-2h8m-8-10h8m-8 15h8m-7-12h8m-6-3h8m-8 0h8m-7 5h8m-6-3h8m-8-5h8m-4 3h8m-6 3h8m-6 1h8m-8 4h8m-7 5h8m-7-11h8m-8-5h8m-8-1h8m-1 10h8m-7-7h8m-3-3h8m-8 10h8m-6-6h8m-5-1h8m2-2h8m-7 16h8m-7 2h8m-6-3h8m17-8h8m-5-5h8m-7 14h8m-1 2h8m1-11h8m13 11h8m-6-2h8m-7-8h8m-277 12h8m-6-1h8m-8 8h8m5-7h8m-3 15h8m-6-3h8m-4 5h8m-6-13h8m5 12h8m-6-7h8m-2-8h8m-8 0h8m-7 9h8m-7-4h8m-8 5h8m-5-5h8m-5-2h8m-5 2h8m-8-3h8m-7 11h8m1 0h8m-2-9h8m-8 4h8m-8 4h8m-7-8h8m-7-1h8m-3 6h8m-5-1h8m-3-6h8m-6 6h8m-3 0h8m-7 8h8m-7-10h8m-7 8h8m-8-6h8m-5-1h8m-7-2h8m-1-4h8m-8 6h8m-8 3h8m-7 0h8m-4-4h8m-6 9h8m-6-12h8m-8 4h8m-4-2h8m-6-3h8m-7-2h8m-8 2h8m-7 12h8m-6-4h8m-6 1h8m-8-12h8m-4 18h8m-8-16h8m-1 13h8m-8 1h8m-7-16h8m-8 2h8m-6 3h8m-1 1h8m-4 10h8m-5-9h8m-5 6h8m-6-5h8m-7 7h8m-7-12h8m-7 4h8m-7 3h8m-7 7h8m-4-1h8m2-2h8m-5-7h8m-4 11h8m-6-9h8m-6-10h8m-7 13h8m-8 0h8m-4-13h8m-8 7h8m-3-5h8m1 17h8m-2-5h8m-1-12h8m1-1h8m0 15h8m1-3h8m-5-4h8m7-8h8m1 17h8m2-6h8m-293 20h8m0-4h8m-6 1h8m-7 4h8m0-12h8m-2 13h8m-5-5h8m0-8h8m-3 10h8m-7-9h8m-6-1h8m-5 13h8m4 3h8m-4 0h8m-8-11h8m-6 10h8m-7-11h8m-7 9h8m-5-4h8m-3 3h8m-8-6h8m-4 5h8m1-6h8m-4 1h8m-6-5h8m-8 11h8m-8-3h8m-7 8h8m-6-4h8m-6 1h8m-8-4h8m-4 6h8m-5-9h8m-7-1h8m-6 9h8m-6-15h8m1 2h8m-4 16h8m-8-12h8m-7-7h8m-3 11h8m1 0h8m-5 7h8m-4-9h8m1-7h8m-3 17h8m-7-4h8m-5 2h8m-4-3h8m-8-9h8m-7 2h8m-8-7h8m-7 14h8m-7-12h8m2 14h8m-6 3h8m-7-14h8m-5 1h8m2 9h8m3-9h8m-3 12h8m-5-14h8m-4 2h8m-2-3h8m-8 11h8m-5-7h8m9-4h8m7 13h8m-4 0h8m-265 12h8m9 8h8m17-7h8m-4-6h8m4 12h8m-3-15h8m3 15h8m-7 0h8m-8-1h8m-4-9h8m-1 5h8m3 1h8m-2 7h8m-7-16h8m-5 0h8m-7 13h8m-7-1h8m1 1h8m-4-8h8m-2 3h8m8 2h8m-1-4h8m-8 10h8m-6-11h8m-5 10h8m2-12h8m1-3h8m-1 14h8m-6-6h8m0-8h8m27-1h8m9 3h8m-6 12h8m-257 20h8m25-16h8m7 9h8m-1-3h8m-5 6h8m-2 1h8m1-8h8m-8-1h8m-7 10h8m-8-7h8m12-1h8m-4 0h8m-6-5h8m0-1h8m-4 1h8m14 1h8m2 4h8m3 6h8m-8-2h8m-6 9h8m0-11h8m-1-5h8m8 7h8m18-3h8m3-4h8m44 1h8m-3 12h8m-289 23h8m5-10h8m-8 3h8m22-2h8m3-5h8m-4 3h8m14 11h8m11-16h8m-5 10h8m-3 3h8m17 1h8m36-1h8m-5-11h8m-153 16h8m-2 3h8m14 7h8m14-3h8m2-1h8m18 3h8m-6-8h8m-6 0h8m28 13h8m55-12h8m7-2h8m25 17h8m-286 9h8m-1-6h8m18 16h8m34-13h8m15 0h8m-7 13h8m11-12h8m28 10h8m23-8h8m-2-6h8m25 5h8m17-3h8m-191 27h8m3-4h8m9-2h8m-7 13h8m79-10h8m8 12h8m27-1h8m28-18h8m-280 20h8m66 3h8m2 10h8m16-11h8m129 17h8m38-3h8m-198 12h8m4-7h8m44 9h8" stroke-opacity=".45"/>
<path transform="scale(.1)" stroke="#1c5a9e" stroke-width="8" d="M3916 673h8m54-3h8m-51 29h8m-32 8h8m21 11h8m69-18h8m-104 21h8m20 7h8m62-6h8m23 0h8m-7 5h8m-140 19h8m13 8h8m12-12h8m11 7h8m6-8h8m-6 8h8m48-1h8m-211 26h8m-4-8h8m27 12h8m-2-1h8m-5 1h8m-8-4h8m3 4h8m-1-2h8m-5-2h8m-8-11h8m-7 13h8m19-11h8m1 14h8m10 0h8m-8-19h8m11 19h8m-5-11h8m-6 8h8m-8 2h8m1 1h8m6-4h8m3 1h8m-6 2h8m-6 1h8m-5-3h8m29-3h8m-226 15h8m-7 1h8m1 4h8m-3-8h8m-3 1h8m-3-2h8m-8 4h8m-6 3h8m0 0h8m-8 3h8m-6-14h8m-6 1h8m-8 4h8m-8 11h8m-6-11h8m-7 1h8m-8 9h8m-3-11h8m-8-3h8m-6 17h8m-7-17h8m-8 4h8m-4-2h8m-7 4h8m-6 9h8m-6-11h8m-5 14h8m-7-11h8m-8-6h8m-8 9h8m-4-10h8m-5-1h8m-3 13h8m-2 0h8m-7 5h8m-4-4h8m-6-8h8m-8 8h8m-7-14h8m-4 6h8m-8 12h8m-6-18h8m-7 18h8m-6-3h8m-8-13h8m-6 8h8m-8 4h8m-7-7h8m-3 7h8m-6-8h8m-8-4h8m-6 9h8m-6 6h8m-7-3h8m-7 2h8m-8-4h8m-8 7h8m-7-9h8m-7-10h8m-6 8h8m-8 5h8m-7 0h8m-5 0h8m-5-1h8m-7-5h8m-7 3h8m-5-10h8m-6 2h8m-6 17h8m-3-7h8m0 7h8m-6-12h8m0 1h8m-8 3h8m-6 8h8m-4-19h8m1 18h8m-7-11h8m-7 6h8m-2 0h8m-7 1h8m-7-10h8m-7-3h8m-2 9h8m-7-10h8m-5 16h8m-8-8h8m-3 8h8m-8-13h8m-5-2h8m-7 6h8m-6 8h8m-4-1h8m7-9h8m-1-5h8m1 19h8m-5-2h8m2-13h8m12 9h8m-285 21h8m4-13h8m6 3h8m-7 4h8m-5-2h8m-7 5h8m1 6h8m-8-14h8m2 16h8m-8-4h8m-7-14h8m-7 0h8m-4 5h8m-7 1h8m-8-6h8m0 4h8m-5-1h8m-7 10h8m-7 3h8m-7-16h8m-8 1h8m-8 8h8m-7-3h8m-3-4h8m-5 6h8m-7 2h8m-8 3h8m-6-8h8m-7-5h8m-8 12h8m-8-5h8m-7 5h8m-8 4h8m-7 0h8m-7-3h8m-4-5h8m-7 4h8m-6-11h8m-7-2h8m-7 2h8m-4 14h8m-7-8h8m-6 4h8m-7-6h8m-7 10h8m-8-15h8m-6 8h8m-8 7h8m-6-1h8m-8-8h8m-6-3h8m-8 10h8m-8-8h8m-5-5h8m-7 3h8m-6 3h8m-8 8h8m-8-14h8m-3 17h8m-8-16h8m-7 7h8m-8 10h8m-7-18h8m-7 6h8m-8 12h8m-8-5h8m-7-6h8m-7-5h8m-8 4h8m-7-1h8m-7-6h8m-6 11h8m-4-10h8m-8 12h8m-8-3h8m-7 2h8m-7 2h8m-7-3h8m-6-3h8m-6 7h8m-5-8h8m-8 9h8m-6-13h8m-7-3h8m-7 12h8m-8-11h8m-4-1h8m-5 11h8m-7-2h8m-7-7h8m-7 3h8m-7 7h8m-7-11h8m-7-1h8m-6 14h8m-5-13h8m-2 9h8m-5 5h8m-7-2h8m-4-7h8m-7 6h8m-6 7h8m-4-13h8m-8 6h8m-6 2h8m-7-10h8m-6 6h8m-8-6h8m-7 14h8m-7-8h8m9 4h8m0-14h8m-8 12h8m-5 3h8m-7-8h8m-7 9h8m9-9h8m3 2h8m-6-2h8m-8 3h8m-4 7h8m-262 18h8m-5 0h8m-2-4h8m-6-1h8m-7-6h8m-7-4h8m-2 2h8m-2 6h8m-2 0h8m-4-4h8m-6 0h8m-2 8h8m-5-5h8m-3-2h8m-5 14h8m-7-19h8m-5 0h8m-6 1h8m-8 3h8m-7 2h8m-7 6h8m-5-9h8m-6 3h8m-3 0h8m-4 7h8m-6-4h8m-6 9h8m-7 1h8m-7-15h8m-6 11h8m-3-6h8m-8 2h8m-3 1h8m-5-3h8m-4 9h8m-6-11h8m-6-7h8m-8 18h8m-6 1h8m-8-11h8m-8-1h8m-6 1h8m-6 3h8m-7 1h8m-8 3h8m-8-5h8m-1-7h8m-8 4h8m-8 0h8m-7 9h8m-4-4h8m-8-7h8m-3 6h8m-7-1h8m-7-10h8m-7 13h8m-7-5h8m-6-4h8m-6 3h8m-7 0h8m-6 12h8m-8-9h8m-7-7h8m-7 12h8m-7-13h8m-8 1h8m-6 0h8m-7 13h8m-7-1h8m-7 0h8m-8-11h8m-8 11h8m-4-15h8m-5 17h8m-6-7h8m-5 3h8m-2-3h8m-7 4h8m-8-13h8m-6 17h8m-7-14h8m-8 10h8m-6-10h8m-7-4h8m-4 7h8m-8 11h8m-7-8h8m-7 9h8m-4-17h8m-7 16h8m-5-15h8m-5 15h8m-6-18h8m-7 11h8m-8-4h8m-2 3h8m-6-3h8m-7 11h8m-7-14h8m-5 9h8m-6-8h8m-4-2h8m0 15h8m-7 0h8m-7-4h8m9-11h8m-4 0h8m5-1h8m1 12h8m-277 24h8m-8-4h8m12-10h8m-2 4h8m-4 7h8m-6-12h8m-2-3h8m-5 9h8m-5 6h8m-6-8h8m-6-5h8m-6-2h8m-7 1h8m-7 9h8m-8-9h8m-2 16h8m-7-16h8m-7 17h8m0-11h8m-8-5h8m-6 0h8m-6 3h8m-8 3h8m-7 4h8m-7 3h8m-4 4h8m-6-7h8m-5 1h8m-2-10h8m-8 3h8m-6 0h8m-5 3h8m-8 0h8m-7-1h8m-8 5h8m-6-8h8m-3 13h8m-6-14h8m-5-1h8m-6 12h8m-5 4h8m-8-16h8m-6 12h8m-3 2h8m-5-9h8m-8 8h8m-8-2h8m-7-3h8m-8-9h8m-8 7h8m-7 1h8m-8-9h8m-7 17h8m-5-3h8m-3 0h8m-7 1h8m-5-2h8m-7-5h8m-5-8h8m-6 14h8m-7-8h8m-6 9h8m-8-8h8m-3 9h8m-5-15h8m-8 0h8m-7 4h8m-6 8h8m-4-10h8m-8 8h8m-6 2h8m-5 1h8m-3-5h8m-6-2h8m-8 7h8m-2-7h8m-7 3h8m-3-6h8m2-4h8m-5 13h8m-7 1h8m1-13h8m-8-2h8m-1 8h8m-5-3h8m-6 13h8m14-15h8m7 2h8m2 14h8m-263 16h8m-6-13h8m-2 13h8m-5-4h8m-5-11h8m-7 5h8m-6 6h8m0-10h8m-2 10h8m-7-4h8m-6 10h8m-5-7h8m-6-2h8m-4 3h8m-7-5h8m-5 2h8m-6-8h8m-6 11h8m-7-2h8m-2 3h8m-5-11h8m-6 4h8m-7-4h8m-7 0h8m-7 16h8m-7-5h8m-7-9h8m-6 0h8m-6 7h8m-8-10h8m-4 0h8m-6 0h8m-5 18h8m-8-8h8m-7-7h8m-8 13h8m-6-2h8m-8 4h8m-6-13h8m-4 11h8m-3-13h8m-3 1h8m-8 0h8m-8 14h8m-5-5h8m-6-13h8m-8 9h8m-7-3h8m-1-5h8m-6 16h8m-7-1h8m-7 2h8m-7-15h8m-7 8h8m-7 0h8m-6 1h8m-8-5h8m-7 8h8m-7 3h8m-6-11h8m-7-2h8m-6 0h8m-7-1h8m-1 3h8m-7-7h8m-8 1h8m-5 10h8m-7-1h8m-7-7h8m-5 4h8m-7-7h8m-3 17h8m-6-12h8m-7-4h8m-6 12h8m-6-12h8m1-1h8m-8 1h8m-2 14h8m-7 1h8m-6-9h8m6 4h8m-3 0h8m1-5h8m-1 2h8m-5 4h8m-2-4h8m6 5h8m30-2h8m-272 20h8m-2 1h8m-6-3h8m13-6h8m-8 4h8m3 3h8m-8-2h8m-6-2h8m-4 7h8m-2 6h8m-4-12h8m-4 1h8m-2-7h8m-6 1h8m-7 2h8m-5-4h8m-7 6h8m-8-1h8m-5-4h8m-4 11h8m-6 3h8m-7-6h8m-6-9h8m-6 5h8m-7 5h8m-3 2h8m-3-11h8m-6 16h8m-3 2h8m-6-12h8m-8 8h8m-7-10h8m-7-2h8m3 6h8m-6 10h8m-8-18h8m-4 1h8m-8 11h8m-6 2h8m-8-3h8m-1-12h8m-2 4h8m9-4h8m-8 17h8m-3-12h8m-8-5h8m-6 10h8m-7 0h8m-4-4h8m-6 4h8m-5-2h8m-7 5h8m-8-4h8m-7 0h8m-3 4h8m5 2h8m0 2h8m30 0h8m-273 5h8m-3-2h8m-7 18h8m-8-9h8m5 10h8m-6-11h8m14-3h8m1 7h8m-6-1h8m-6-7h8m4 8h8m-5 3h8m-8 2h8m-1 1h8m-3-3h8m-7-15h8m-7 4h8m-5 3h8m0 11h8m4-3h8m-3-1h8m-7-5h8m-3 5h8m-1-10h8m-6-3h8m14 15h8m-7-9h8m3 12h8m-7-4h8m-2-10h8m-6 14h8m-7-2h8m-4-9h8m-2 2h8m-7 7h8m-4-5h8m-7-3h8m-5 7h8m-8-7h8m-3 6h8m-6 1h8m-6-16h8m-4 18h8m6 1h8m-5-11h8m-5 4h8m33 3h8m6-8h8m-275 13h8m19 18h8m-7-17h8m10 14h8m-6 3h8m-3-2h8m-6-6h8m-1-8h8m3 8h8m-7 4h8m13-4h8m-3 9h8m-5-4h8m-1-3h8m-4-1h8m-7 5h8m15-6h8m-3-9h8m-3 0h8m-8 16h8m-5-10h8m33 0h8m-2 11h8m2-17h8m13 18h8m-5-6h8m44-5h8m-293 19h8m-6-7h8m1 16h8m-1 3h8m-7-9h8m8 4h8m21-7h8m-2 2h8m-1 7h8m-7-12h8m15-4h8m-8 17h8m21-5h8m-4-3h8m-6-5h8m22 2h8m-3 6h8m1 4h8m0-8h8m11 5h8m17-7h8m8-4h8m-239 28h8m5 1h8m16-5h8m16 1h8m10 5h8m7-6h8m4-1h8m-5 10h8m-3-12h8m5 8h8m34 5h8m-189 15h8m32-10h8m60 12h8m47 5h8m-6-13h8m2 2h8m8 0h8m20 3h8m-7 3h8m4-7h8m34-6h8m-243 24h8m34 15h8m30-4h8m40-3h8m5 6h8m4-2h8m-184 17h8m36 6h8m23-15h8m-1 10h8m6-5h8m5 4h8m8-9h8m49 21h8m43 4h8m-81 12h8m20 7h8m53-7h8m11 11h8m-294 19h8m115 1h8m67-3h8" stroke-opacity=".45"/>
<path transform="scale(.1)" stroke="#1c5a9e" stroke-width="8" d="M3969 671h8m-1 5h8m-62 12h8m23 12h8m2 19h8m9-5h8m-65 25h8m17-4h8m40-10h8m25 10h8m25-1h8m1-10h8m-225 26h8m7-2h8m-2 2h8m16 8h8m42-5h8m-7-7h8m-4-5h8m55 12h8m18 5h8m68-10h8m-270 29h8m9-1h8m3-14h8m0 16h8m2-13h8m-8 14h8m3-3h8m-3-3h8m-2 5h8m-6-4h8m-5-14h8m-3 18h8m-4-1h8m-6 0h8m5-2h8m-5 2h8m-6 1h8m7 0h8m-8-1h8m-4-6h8m-7 4h8m-5-9h8m-6 8h8m-6-13h8m0 14h8m-3 0h8m6-1h8m-8-9h8m-7 6h8m-2-10h8m12 17h8m12 0h8m67-3h8m2-2h8m-301 7h8m-7 3h8m4 3h8m-6 0h8m-3 3h8m-6 7h8m-8 2h8m-7-16h8m-2 3h8m-2 14h8m-7-13h8m-5 11h8m-7 2h8m-7-19h8m-8 18h8m-8-13h8m-7 5h8m-7 2h8m-3 0h8m4-9h8m-5 11h8m-6 3h8m-3-16h8m-8 7h8m-7-8h8m-8 12h8m-7-3h8m-6 1h8m-6 3h8m-2 3h8m-8-3h8m-8-7h8m-1 2h8m-7-1h8m-5-7h8m-7 13h8m-8 0h8m-8-3h8m-3 4h8m-8-4h8m-7-3h8m-6 12h8m-6-7h8m-6 6h8m-8-9h8m-1 4h8m-8-6h8m-8 10h8m-8-6h8m-8-9h8m-6 3h8m-6 7h8m-7-2h8m-7-2h8m-4-7h8m-6 15h8m-6 1h8m-7-1h8m-1-11h8m-8 2h8m-6 11h8m-7-12h8m-7 12h8m-6-7h8m-8 8h8m-6-13h8m-8 3h8m-7 3h8m-7 1h8m-7 6h8m-7-17h8m-8 16h8m-8-6h8m4 4h8m-2-14h8m-6 13h8m-7-8h8m-7 10h8m-7-15h8m-5 0h8m-8 14h8m1-3h8m-5-7h8m0 11h8m-7-11h8m-2 13h8m-5-12h8m-2 8h8m-1 4h8m2-4h8m14-7h8m-3-5h8m-3 8h8m-5-8h8m6 5h8m6 9h8m-296 13h8m-7 4h8m-3-4h8m-5 2h8m-7 7h8m-6-8h8m-1-1h8m-2-4h8m-6-4h8m-4 6h8m-5 11h8m-8-17h8m-7 16h8m-7-6h8m-7 7h8m-6-5h8m-7 3h8m-7-10h8m-5 7h8m-8-4h8m-4-2h8m-7-7h8m-6 13h8m-4-11h8m-6 11h8m-6-7h8m-6 7h8m-8 1h8m-1-14h8m-6 10h8m-8-6h8m-7-2h8m-7 16h8m-6-11h8m-7 2h8m-7 8h8m-5-7h8m-6-7h8m-8 15h8m-7-13h8m-7-6h8m-8 17h8m-6-14h8m-4 7h8m-6-7h8m-7 5h8m-8-2h8m-7 9h8m-7 3h8m-8-7h8m-6-11h8m-8 19h8m-7-10h8m-5 2h8m-7 1h8m-8 7h8m-7-15h8m-3-1h8m-8 5h8m-8 3h8m-7 0h8m-6-8h8m-7 9h8m-8-3h8m-8 0h8m-7-2h8m-6 11h8m-8-5h8m-7 2h8m-8 0h8m-7-4h8m-3 8h8m-6-5h8m-7-9h8m-8 5h8m-7 5h8m-4-1h8m-8-8h8m-7 12h8m-8-1h8m-7-7h8m-8-2h8m-8-6h8m-7 7h8m-6 3h8m-8-1h8m-7 4h8m-7-3h8m-8-3h8m-6 2h8m-4 6h8m-6-3h8m-6-6h8m-8-1h8m-5 0h8m-1 3h8m-8 3h8m-1-11h8m-7 13h8m-6-7h8m-8 5h8m-7-3h8m-1 5h8m-6-1h8m-8-3h8m-7-2h8m-8 7h8m0-2h8m-4-7h8m-5-6h8m-4 7h8m-8-1h8m-8 12h8m-7-10h8m-6-3h8m-7 12h8m-6-12h8m-2 4h8m-6-7h8m2-1h8m-4 1h8m30-1h8m15 4h8m-296 22h8m-5 8h8m-3 0h8m-8 0h8m-1-16h8m-8 11h8m-6 6h8m-6 2h8m-8-3h8m-7 2h8m-3-6h8m-4 2h8m-5-1h8m-3 0h8m-1-8h8m-6 3h8m-4-5h8m-5 3h8m-3 11h8m-6-11h8m-7 9h8m-4-9h8m-6-3h8m-6-1h8m-8 1h8m-1 11h8m-6-11h8m-7 14h8m-6 2h8m-7-17h8m-7 0h8m-8 6h8m-6 5h8m-7-9h8m-8 6h8m-7-2h8m-5 7h8m-3-11h8m-8 2h8m-7 9h8m-6-8h8m-8 7h8m-3-3h8m-7 0h8m-7-3h8m-5-1h8m-7 1h8m-6 0h8m-5 0h8m-7-6h8m-8 2h8m-7 1h8m-8 1h8m1-3h8m-7 16h8m-7-8h8m-8-8h8m-7 9h8m-7 0h8m-5-12h8m-7 18h8m-7-11h8m-4 9h8m-8-6h8m-5 3h8m-7 4h8m-8-17h8m-4 7h8m-4-4h8m-8-2h8m-6 8h8m-7 5h8m-7-11h8m-6 5h8m-4 3h8m-3-1h8m-7 0h8m-5 2h8m-7-9h8m-6 11h8m-7-11h8m-6 10h8m-6-11h8m-7 8h8m-7 8h8m-7 1h8m-5-12h8m-7 6h8m-6-1h8m-2-11h8m-7 17h8m-3-7h8m-8 1h8m-4-8h8m-7 6h8m-8-9h8m-7 8h8m-6 6h8m-7-8h8m-7 2h8m-5 9h8m-7-11h8m-7 2h8m-4-3h8m-8 13h8m-4-10h8m-7-6h8m0-2h8m2 9h8m-3-3h8m17 4h8m4-7h8m-291 27h8m1 6h8m-4-16h8m-8 9h8m-7-8h8m-8 10h8m5-10h8m-6 5h8m-3-6h8m-8 16h8m-5-7h8m-4-4h8m-5-6h8m-8 15h8m-6 4h8m-7 0h8m-1-11h8m-8 2h8m-5-9h8m-7 10h8m-8-2h8m-7 1h8m-8-3h8m-5 2h8m-7 6h8m-8-14h8m-6 18h8m-6-13h8m-6-1h8m-5 11h8m-7-4h8m-8-9h8m-7 1h8m-5 5h8m-8 10h8m-6-3h8m-5-10h8m-7 5h8m-8-5h8m-7-3h8m-5 8h8m-7-4h8m-6 7h8m-6-14h8m-7 3h8m-6 7h8m-6 8h8m-7 0h8m-6-6h8m-8 2h8m-7 2h8m-6-9h8m-7-2h8m-7 11h8m-5 2h8m-6-5h8m-1 1h8m-6-14h8m-8 16h8m-6 0h8m-8 0h8m-7-1h8m-7-9h8m-8 7h8m-7 1h8m-8-12h8m-7-1h8m-6 10h8m-6-9h8m-8 4h8m-4-5h8m-2 9h8m-6 2h8m-8 6h8m-7-2h8m-8-13h8m-6 0h8m-7 7h8m-8 9h8m-8-11h8m-6 6h8m-1-13h8m-7 0h8m-4 10h8m-4-9h8m-7 9h8m-8-10h8m-7 14h8m-1 0h8m-3 0h8m-8-6h8m-5 5h8m-5 1h8m-5-1h8m-3-12h8m-8 9h8m-4-10h8m-6 7h8m0 1h8m-3 4h8m0-13h8m-7 0h8m-7 14h8m-5 3h8m3-12h8m-6 14h8m-5-14h8m-7-2h8m-6 16h8m11 0h8m20-4h8m-4-11h8m-6 9h8m-281 15h8m-5-3h8m-4-3h8m-4 3h8m-3 5h8m-6-2h8m-6 1h8m-5 8h8m0-5h8m-5-11h8m-3 15h8m-7 1h8m-5-12h8m-6 5h8m0-8h8m-7 10h8m-1-6h8m-6 9h8m-8-9h8m-8-1h8m-4-4h8m-7 18h8m-7-5h8m-7-10h8m-5 11h8m-8-15h8m-5 15h8m-1-10h8m-6 5h8m-6 4h8m4-13h8m-5 9h8m-7 7h8m-5-14h8m-7 14h8m-4-6h8m-4-8h8m-5-1h8m-7 12h8m-5 2h8m2-3h8m-8-3h8m-8-3h8m-4 12h8m-7-4h8m-5 3h8m-7-17h8m-3 12h8m-7 3h8m-7-4h8m-6-11h8m-8 7h8m-7 1h8m-7 0h8m-6-3h8m-2 0h8m-6 6h8m-2-12h8m-8 1h8m-7 8h8m-8-3h8m14-2h8m-6 0h8m-8 8h8m-4-4h8m-4 9h8m6-9h8m21-2h8m-4 4h8m10-9h8m-262 20h8m-5 3h8m-7 11h8m-4-15h8m-8 5h8m-3 0h8m0-3h8m-6 14h8m3 0h8m-5-1h8m-6-7h8m-3 6h8m-4 2h8m-5-6h8m-4 0h8m-7-4h8m-6 6h8m-5-12h8m-8 3h8m0 6h8m-6-6h8m-8 2h8m-8 11h8m-6-11h8m-3 12h8m-5 0h8m0-5h8m-4-8h8m-6 14h8m-6-14h8m-2 6h8m-7-8h8m-6-2h8m-6 11h8m-5 7h8m-3-13h8m11 11h8m-6-1h8m-3-13h8m-8-2h8m-5 15h8m-7-13h8m-5 10h8m-7-7h8m-7 11h8m8 1h8m7-13h8m20 9h8m14-6h8m17-5h8m-265 30h8m-7-5h8m1 2h8m-6-7h8m6-1h8m-6 10h8m10 5h8m1-3h8m-8 2h8m-8-3h8m2-11h8m-4 5h8m-6-5h8m-8 3h8m2 4h8m-5 4h8m-4 4h8m1 1h8m-4-6h8m-7-3h8m1 10h8m-8 1h8m6-2h8m-6-7h8m-6-10h8m3 11h8m-7-10h8m4 10h8m-6 8h8m-3-19h8m6 5h8m-3 10h8m-7 0h8m3-4h8m2-2h8m0-8h8m37 4h8m-3 9h8m-283 9h8m3-1h8m7 4h8m2 2h8m0 9h8m-5 1h8m17-7h8m-8-10h8m-7 13h8m-3-2h8m5-9h8m-3 12h8m2-6h8m-4-1h8m8-3h8m-2 7h8m-4 1h8m1 2h8m-7-3h8m1-3h8m6-4h8m-5 6h8m-4 5h8m-192 19h8m8 0h8m-2 1h8m0-7h8m-6 4h8m18-3h8m-5 4h8m-2-8h8m8 3h8m-8 3h8m15 0h8m-4 0h8m-6-5h8m0-7h8m-6 6h8m1 12h8m-4-13h8m-3 7h8m-6-4h8m-7-7h8m0-1h8m0 11h8m-6-9h8m-2 6h8m-1 7h8m6-5h8m4 7h8m-5-9h8m20-8h8m-230 23h8m-4 10h8m47 4h8m24 1h8m4-8h8m32-5h8m3 4h8m19 3h8m11-1h8m-4-4h8m4-3h8m-231 28h8m18 2h8m167-1h8m15 1h8m2 3h8m-5-4h8m27-13h8m-291 36h8m139 1h8m41 1h8m2-17h8m-6-1h8m3 7h8m52 1h8m7-4h8m-256 34h8m48-7h8m79 8h8m-2-18h8m-191 31h8m104-7h8m132-5h8m-243 39h8m89-1h8m5-12h8m89-6h8m-4 6h8m8 5h8m-100 23h8" stroke-opacity=".45"/>
<path transform="scale(.1)" stroke="#2a5fa3" stroke-width="8" d="M4223 779h8m-6-2h8m-5-1h8m21 2h8m-5-1h8m-8-1h8m-8 3h8m20 0h8m-106 14h8m7 3h8m-7 0h8m-5 3h8m-7-15h8m-5-3h8m2 14h8m-2-9h8m-6 12h8m-7-18h8m-4 2h8m-6 9h8m-6 4h8m-7-4h8m-4 1h8m-7 0h8m-6 7h8m-7-3h8m-4-5h8m-5 4h8m-7 1h8m-5-6h8m-6-1h8m-7 3h8m-7-11h8m-7 7h8m-7 11h8m-7-18h8m-8 15h8m-7 3h8m-8-19h8m-8 7h8m-6 5h8m-4-7h8m-2-1h8m-3 15h8m-6-4h8m2-6h8m-6 8h8m3 1h8m-127 20h8m-6-4h8m4-4h8m-4 3h8m-5-8h8m-4-3h8m-8-1h8m-7 10h8m-4-10h8m-6 14h8m-6 1h8m0-4h8m-5-1h8m-5-1h8m-8 6h8m-7-16h8m-7 9h8m-8 3h8m-8 3h8m-7-10h8m-8 0h8m-5 9h8m-8 0h8m-8-8h8m-7 4h8m-8 7h8m-8-14h8m-8 1h8m-7-4h8m-8 5h8m-7 13h8m-7-12h8m-8 3h8m-8 8h8m-6-4h8m-6-11h8m-6 16h8m-6-13h8m-6 8h8m-6 4h8m-8-16h8m-6 4h8m-8 1h8m-7 11h8m-7-4h8m-8-4h8m-4 1h8m-6 9h8m-6-4h8m-8-12h8m-7 13h8m-5-5h8m-5 5h8m-6-8h8m5-6h8m-1 6h8m-123 20h8m-7-4h8m-2 2h8m-4 6h8m-3-6h8m-6-1h8m-6 14h8m-8-8h8m-7-6h8m-7 5h8m-7 9h8m-8-9h8m-8-9h8m1 11h8m-8-7h8m-7-3h8m-7 13h8m-7-3h8m-6-10h8m-6 8h8m-8 7h8m-8-1h8m-7-15h8m-7 4h8m-7 6h8m-7 6h8m-6-1h8m-7-7h8m-8-6h8m-8 2h8m-5 0h8m-8-1h8m-7 9h8m-7-6h8m-8 0h8m-7-7h8m-8 10h8m-8-2h8m-7-6h8m-8 7h8m-8-7h8m-7-2h8m-8 6h8m-8 6h8m-8-3h8m-8 1h8m-7-10h8m-8 1h8m-6 18h8m-7-2h8m-7 0h8m-8-5h8m-8-7h8m-8 9h8m-8-1h8m-7 6h8m-7-10h8m-7-4h8m-7 6h8m-7 6h8m-8 1h8m-4-3h8m-6-3h8m-5 0h8m-8-11h8m-8 13h8m-7-6h8m-8 9h8m-2-10h8m-8 6h8m-7-2h8m-6 0h8m-7-5h8m-6 10h8m-6-12h8m-7 1h8m-6 8h8m-5 4h8m-8-1h8m-3-3h8m11-10h8m-125 27h8m-2 7h8m-3-6h8m6-3h8m-2 1h8m-7-3h8m-5 8h8m-8 0h8m-7 1h8m-6-7h8m-7-2h8m-8-6h8m-7 7h8m-7 1h8m-8-3h8m-6 14h8m-7-3h8m-7-2h8m-5-14h8m-8 17h8m-8 2h8m-6-11h8m-8 5h8m-8 0h8m-8-7h8m-5 0h8m-3 8h8m-7-4h8m-8-2h8m-8-8h8m-8 2h8m-8 1h8m-7 1h8m-8 15h8m-8-16h8m-6-2h8m-7 6h8m-5 3h8m-4-10h8m-7 4h8m-5 5h8m-8 0h8m-4 8h8m-8-14h8m-7 3h8m-8 5h8m-4-8h8m-7 11h8m-7-10h8m-5 13h8m-5-6h8m-6 3h8m-8-10h8m-7 5h8m-5-5h8m-8-3h8m-7 15h8m-7-9h8m-8 2h8m-8 2h8m-4-6h8m-5 0h8m-4 5h8m-114 19h8m-5 1h8m0-5h8m3 10h8m-8-10h8m-4 1h8m-4 11h8m-4-12h8m-8 7h8m-6-8h8m-6-3h8m-7 12h8m-8-6h8m-5 11h8m-6-4h8m-7-14h8m-8 11h8m-8 1h8m-8-2h8m-7 3h8m-8-10h8m-1 0h8m-7 0h8m-8 8h8m-6 4h8m-8-15h8m-6 9h8m-6 5h8m-6 0h8m-8 5h8m-7-19h8m-7 6h8m-8 10h8m-7-7h8m-8 5h8m-7-1h8m-5-8h8m-8 14h8m-8-9h8m-2-9h8m-7 4h8m-5 7h8m-6-9h8m-6 13h8m-7-10h8m-8 4h8m-7 5h8m-6-4h8m-2-7h8m0 12h8m-7-16h8m-6 16h8m-4-9h8m-117 21h8m2 10h8m-5-7h8m-8-4h8m-8 3h8m-5-10h8m-5 17h8m-5 1h8m-4-16h8m-4-2h8m-5 19h8m-7-8h8m-5 7h8m-3-5h8m-8 0h8m-6-10h8m-7 11h8m-2 5h8m-8-16h8m-6-2h8m-7 6h8m-7 10h8m-7-15h8m-8 7h8m-6-4h8m-4-1h8m-8-4h8m-8 0h8m-5 3h8m-3 9h8m-7-11h8m-7 4h8m-8-4h8m-8 1h8m0 11h8m-6-10h8m-5 15h8m1-3h8m-2-12h8m-100 21h8m-6-1h8m-8 0h8m-3 1h8m-1 0h8m-3 10h8m-5-5h8m-6 5h8m3-7h8m-6-2h8m-7-1h8m-6 3h8m-6 3h8m-5 2h8m-5 1h8m-7-11h8m-7 2h8m3-3h8m-8 10h8m-6-10h8m-7 6h8m-1-2h8m-5 3h8m18-5h8m-108 20h8m17 10h8m-4-13h8m-3 6h8m4 5h8m5 5h8m-1-11h8m-3 4h8m1 5h8m-4-11h8m-4 7h8m-34 24h8m-23 14h8m3 8h8m11 1h8m7-14h8"/>
<path transform="scale(.1)" stroke="#e8202e" stroke-width="8" d="M4274 629h8m-2 8h8m66 2h8m-117 10h8m4 6h8m-2-5h8m5-5h8m0 9h8m-4 1h8m-7-2h8m-4 1h8m-7-12h8m-8 14h8m-5-11h8m-8 14h8m-7-5h8m-3 4h8m-6-9h8m-5-5h8m-6 13h8m-8-3h8m-5-8h8m-7-6h8m-5 18h8m-8-2h8m-7-10h8m-3 6h8m-6-2h8m-6 1h8m-8-1h8m-6 8h8m2-18h8m2 14h8m-146 18h8m10 3h8m4 0h8m-8 3h8m-5-8h8m-8-4h8m1 4h8m-7 5h8m-7 4h8m-6-12h8m-6 3h8m-8-7h8m-7 12h8m-7 1h8m-7-7h8m-6 3h8m-8 7h8m-7-7h8m-7-8h8m-7 6h8m-7-1h8m-7-2h8m-8-7h8m-6 0h8m-8 5h8m-7 10h8m-7-9h8m-8 13h8m-8-8h8m-7 3h8m-8 4h8m-8-11h8m-6 3h8m-8 2h8m-8 5h8m-8-15h8m-7 3h8m-8 1h8m-7 7h8m-7 4h8m-8-12h8m-8 11h8m-7-5h8m-7-2h8m-8-7h8m-8 16h8m-8 0h8m-7-4h8m-8-7h8m-7-4h8m-8-1h8m-6 1h8m-8 5h8m-8-5h8m-7 16h8m-7-9h8m-8-7h8m-7 5h8m-8 10h8m-4-7h8m-7 5h8m-6-15h8m-8-1h8m-5 19h8m-4-8h8m-8 1h8m-7 4h8m-3-5h8m-2-11h8m-4 0h8m-7 11h8m-8 4h8m-8-3h8m-8 3h8m-4 3h8m-3 1h8m-8-4h8m-1-4h8m-7 8h8m-3-13h8m1-2h8m-160 33h8m6-3h8m-2-7h8m-1-6h8m-7 13h8m-7-1h8m-6-10h8m-3 8h8m-8 6h8m-4-5h8m-8-3h8m-7 2h8m-7-2h8m-8 7h8m-6-4h8m-7-2h8m-7-3h8m-6 12h8m-8-7h8m-6-1h8m-8 6h8m-6-7h8m-8-5h8m-6 11h8m-8 3h8m-8-6h8m-8 3h8m-8-13h8m-8 10h8m-7-7h8m-8 2h8m-8-4h8m-6-1h8m-8 0h8m-7 13h8m-8-9h8m-7-2h8m-8-2h8m-7-2h8m-8 15h8m-7-7h8m-8 7h8m-7 1h8m-8-17h8m-4 18h8m-8 1h8m-7-13h8m-8 13h8m-7-14h8m-7 5h8m-8 1h8m-7 5h8m-8-6h8m-8-2h8m-7-5h8m-8-3h8m-7 8h8m-8-2h8m-8 11h8m-7 1h8m-7-15h8m-8 11h8m-7 5h8m-7-18h8m-8 8h8m-8-8h8m-7 5h8m-7 12h8m-8-5h8m-8 4h8m-8 1h8m-8-5h8m-7-2h8m-8 2h8m-8 0h8m-8-5h8m-7-2h8m-7 8h8m-7 3h8m-7-14h8m-7 6h8m-8 9h8m-7-7h8m-8-5h8m-6 12h8m-8-3h8m-7-8h8m-7 4h8m-8-10h8m-7 15h8m-8-16h8m-5 9h8m-8 9h8m-7-12h8m-8-4h8m-8 10h8m-7-4h8m-6 8h8m-8 0h8m-7 3h8m-7-5h8m-8-1h8m-7-1h8m-6-2h8m-7-4h8m-8 4h8m-7-5h8m-8 5h8m-5 0h8m-8 4h8m-7-9h8m-7 0h8m-7 13h8m-8-15h8m-5 14h8m-7-1h8m-6-13h8m-7 6h8m-7-1h8m-4-8h8m-4 11h8m-4-10h8m-8 17h8m-8-10h8m-6-6h8m-5 3h8m-2 1h8m0-2h8m-2 9h8m-164 12h8m-7-1h8m-7 8h8m2-8h8m-6 13h8m-8-7h8m-6-1h8m-7 6h8m-8-4h8m-4-10h8m-7 0h8m-5 8h8m-8 8h8m-7-10h8m-7 9h8m-6-13h8m-7 13h8m-8-7h8m-8 9h8m-7-18h8m-8 9h8m-8 4h8m-7 6h8m-8 0h8m-8-17h8m-6 8h8m-8 3h8m-7 0h8m-7-5h8m-8 9h8m-7-7h8m-6 9h8m-7-5h8m-7-11h8m-7 10h8m-8-3h8m-7-8h8m-8 6h8m-8-3h8m-8-4h8m-7 3h8m-8 2h8m-8 7h8m-7-3h8m-8 9h8m-8-1h8m-7 0h8m-8-4h8m-8 0h8m-8-8h8m-8-6h8m-7 1h8m-7-1h8m-8 8h8m-8 7h8m-7 0h8m-7-8h8m-8 6h8m-7-2h8m-7-5h8m-7 10h8m-8-5h8m-7 2h8m-8 4h8m-7-13h8m-7-4h8m-8 7h8m-6-1h8m-7 10h8m-8-16h8m-5 2h8m-8 7h8m-8 10h8m-6-12h8m-8 11h8m-8-3h8m-8-12h8m-7 2h8m-8-3h8m-8 10h8m-7-1h8m-8 3h8m-8-7h8m-7-3h8m-6 8h8m-8-2h8m-6-2h8m-8-3h8m-8-4h8m-8 13h8m-7 1h8m-8-12h8m-7 7h8m-8-5h8m-7 3h8m-8 6h8m-7 0h8m-7-5h8m-5-8h8m-7-1h8m-8 8h8m-8-5h8m-8 9h8m-8-10h8m-7 11h8m-7-3h8m-8-2h8m-8-3h8m-8 6h8m-7 7h8m-8 0h8m-7-5h8m-8-1h8m-8-1h8m-7-1h8m-8-7h8m-7-3h8m-7 12h8m-8-11h8m-7 16h8m-7-12h8m-7 7h8m-6 6h8m-8-18h8m-8 7h8m-5 2h8m-6-7h8m-8 4h8m-7 4h8m-7-6h8m-4 8h8m-7 4h8m-8-3h8m-5 5h8m-8-5h8m-6 6h8m-6-7h8m-7 0h8m-8-7h8m0 12h8m-3-9h8m-7-5h8m-142 20h8m-7 9h8m-8-1h8m-3-8h8m-4-3h8m-7 3h8m-3 0h8m-8-1h8m-6-2h8m-5 8h8m-7 9h8m-8-4h8m-5-5h8m-4-4h8m-7 3h8m-7-2h8m-6-3h8m-7 5h8m-8-6h8m-7 18h8m-6-6h8m-7-8h8m-8 1h8m-7 7h8m-7-9h8m-8 9h8m-7-11h8m-8 13h8m-7-8h8m-7 6h8m-8-13h8m-8 4h8m-7 10h8m-6-11h8m-7-2h8m-7 6h8m-7 0h8m-7-3h8m-8-4h8m-7 17h8m-6-14h8m-8 14h8m-7-3h8m-8-14h8m-8 5h8m-6-2h8m-7 9h8m-8-3h8m-7-6h8m-6 11h8m-8-14h8m-8 2h8m-8 13h8m-6-3h8m-7 2h8m-7 0h8m-8 2h8m-5-14h8m-6 9h8m-8-3h8m-5-8h8m-8 4h8m-8 2h8m-7 7h8m-7 4h8m-8-1h8m-7-7h8m-8 5h8m-7-6h8m-6-8h8m-7 8h8m-7-4h8m-7 4h8m-6-3h8m-4-2h8m-7 10h8m-1 1h8m-8-12h8m-5 7h8m-8-3h8m3-2h8m-7 14h8m-5-14h8m-7-1h8m-8 11h8m-3-7h8m-129 27h8m-6-12h8m-8 12h8m-2-9h8m-1 0h8m-6 12h8m-8-13h8m-7 4h8m-3 2h8m-8-1h8m-7-6h8m-6 11h8m-6-6h8m-7-2h8m-4 2h8m-5 7h8m-6-4h8m-7 5h8m-8-10h8m-7-1h8m-7-1h8m-7 15h8m-6-6h8m-7-7h8m-8-1h8m-3 11h8m-7-13h8m-6 2h8m-5-3h8m-8 12h8m-1-4h8m-4 0h8m-1-8h8m28 0h8m-5 0h8m-3 2h8m-6 4h8m-4-7h8m-123 31h8m4-12h8m-4 9h8m-1 1h8m6-7h8m-1 6h8m1-6h8m-1-3h8m-8 7h8m1-7h8m0 8h8"/>
<rect x="384.2" y="76.9" width="31.2" height="33.4" fill="none" stroke="#7a7a7c" stroke-width="0.75"/>
<rect x="418.4" y="63.1" width="16.9" height="13.8" fill="none" stroke="#7a7a7c" stroke-width="0.75"/>
<rect x="418.4" y="76.9" width="16.9" height="33.4" fill="none" stroke="#7a7a7c" stroke-width="0.75"/>
<rect x="384.2" y="34.1" width="76.3" height="76.2" fill="none" stroke="#231f20" stroke-width="1.1"/>
<path d="M382.6 74.03h1.6M382.6 71.7h1.6M382.6 70.05h1.6M382.6 68.77h1.6M382.6 67.73h1.6M382.6 66.84h1.6M382.6 66.08h1.6M382.6 65.4h1.6M382.6 60.86h1.6M382.6 58.55h1.6M382.6 56.91h1.6M382.6 55.64h1.6M382.6 54.61h1.6M382.6 53.73h1.6M382.6 52.97h1.6M382.6 52.3h1.6M382.6 47.97h1.6M382.6 45.78h1.6M382.6 44.23h1.6M382.6 43.03h1.6M382.6 42.05h1.6M382.6 41.22h1.6M382.6 40.5h1.6M382.6 39.87h1.6M381.4 39.3h2.8M381.4 51.7h2.8M381.4 64.8h2.8M381.4 78h2.8M381.4 97.3h2.8M382.8 80h1.4M382.8 82.36h1.4M382.8 84.73h1.4M382.8 87.09h1.4M382.8 89.45h1.4M382.8 91.82h1.4M382.8 94.18h1.4M382.8 96.55h1.4M382.8 98.91h1.4M382.8 101.27h1.4M382.8 103.64h1.4M382.8 106h1.4M399.9 110.3v2.6M425.2 110.3v2.6M441.4 110.3v2.6M455.2 110.3v2.6M387.2 110.3v1.4M390.2 110.3v1.4M393.2 110.3v1.4M396.2 110.3v1.4M399.2 110.3v1.4M402.2 110.3v1.4M405.2 110.3v1.4M408.2 110.3v1.4M411.2 110.3v1.4M414.2 110.3v1.4M430.08 110.3v1.4M432.93 110.3v1.4M434.95 110.3v1.4M436.52 110.3v1.4M437.81 110.3v1.4M438.89 110.3v1.4M439.83 110.3v1.4M440.66 110.3v1.4M445.55 110.3v1.4M447.98 110.3v1.4M449.71 110.3v1.4M451.05 110.3v1.4M452.14 110.3v1.4M453.06 110.3v1.4M453.86 110.3v1.4M454.57 110.3v1.4M420.2 110.3v1.4M422.2 110.3v1.4" stroke="#231f20" stroke-width=".7" fill="none"/>
<text x="380.2" y="42.2" font-size="5.6" text-anchor="end" stroke="#231f20" stroke-width="0.1">10<tspan font-size="4.0" dy="-2.3">5</tspan></text>
<text x="380.2" y="54.6" font-size="5.6" text-anchor="end" stroke="#231f20" stroke-width="0.1">10<tspan font-size="4.0" dy="-2.3">4</tspan></text>
<text x="380.2" y="67.7" font-size="5.6" text-anchor="end" stroke="#231f20" stroke-width="0.1">10<tspan font-size="4.0" dy="-2.3">3</tspan></text>
<text x="380.2" y="80.9" font-size="5.6" text-anchor="end" stroke="#231f20" stroke-width="0.1">10<tspan font-size="4.0" dy="-2.3">2</tspan></text>
<text x="379.2" y="99.3" font-size="5.8" text-anchor="end" stroke="#231f20" stroke-width="0.1">0</text>
<text x="399.9" y="120.2" font-size="6" text-anchor="middle" stroke="#231f20" stroke-width="0.1">0</text>
<text x="426.4" y="120.2" font-size="6" text-anchor="middle" stroke="#231f20" stroke-width="0.1">10<tspan font-size="4.2" dy="-2.2">3</tspan></text>
<text x="443.2" y="120.2" font-size="6" text-anchor="middle" stroke="#231f20" stroke-width="0.1">10<tspan font-size="4.2" dy="-2.2">4</tspan></text>
<text x="457" y="120.2" font-size="6" text-anchor="middle" stroke="#231f20" stroke-width="0.1">10<tspan font-size="4.2" dy="-2.2">5</tspan></text>
<text x="401.1" y="65.25" font-size="5.5" text-anchor="middle" textLength="27" lengthAdjust="spacingAndGlyphs" stroke="#231f20" stroke-width="0.1">CD4+Tcons</text>
<text x="401.1" y="71.15" font-size="5.5" text-anchor="middle" stroke="#231f20" stroke-width="0.1">74.4</text>
<text x="443.3" y="47.75" font-size="5.5" text-anchor="middle" textLength="24" lengthAdjust="spacingAndGlyphs" stroke="#231f20" stroke-width="0.1">Foxp3GFP</text>
<text x="443.3" y="54.35" font-size="5.5" text-anchor="middle" stroke="#231f20" stroke-width="0.1">13.4</text>
<text x="448" y="90.15" font-size="5.5" text-anchor="middle" textLength="18.2" lengthAdjust="spacingAndGlyphs" stroke="#231f20" stroke-width="0.1">CD45.1</text>
<text x="448" y="95.75" font-size="5.5" text-anchor="middle" textLength="18" lengthAdjust="spacingAndGlyphs" stroke="#231f20" stroke-width="0.1">+Foxp3</text>
<text x="448" y="101.55" font-size="5.5" text-anchor="middle" stroke="#231f20" stroke-width="0.1">11.1</text>
<line x1="24.2" y1="34.1" x2="24.2" y2="109.8" stroke="#231f20" stroke-width="1.3"/>
<text x="16.8" y="71.2" font-size="10" text-anchor="middle" textLength="28.5" lengthAdjust="spacingAndGlyphs" transform="rotate(-90 16.8 71.2)" stroke="#231f20" stroke-width=".2">Foxp3GFP</text>
<line x1="40" y1="124" x2="460.6" y2="124" stroke="#231f20" stroke-width="1.2"/>
<text x="228.8" y="135" font-size="9.3" textLength="23.8" lengthAdjust="spacingAndGlyphs" stroke="#231f20" stroke-width="0.1">Foxp3</text>
<text x="472" y="95" font-size="9.2" font-weight="bold" fill="#e0173f" stroke="#e0173f" stroke-width="0.1">CD45.2<tspan font-size="7.6" dy="-3.4">+</tspan></text>
<text x="472" y="106.7" font-size="9.2" font-weight="bold" fill="#1b5596" stroke="#1b5596" stroke-width="0.1">CD45.1<tspan font-size="7.6" dy="-3.4">+</tspan></text>
<rect x="33" y="260.83" width="4.1" height="18.77" fill="#fff" stroke="#39b54a" stroke-width="1.4"/>
<path d="M35.05 274.91V246.74M33.45 246.74h3.2M33.45 274.91h3.2" stroke="#39b54a" stroke-width="1.1" fill="none"/>
<path d="M34.55 225.09l1.99 3.69h-3.98zM35.05 252.67l1.99 3.69h-3.98zM35.54 256.19l1.99 3.69h-3.98zM34.55 259.71l1.99 3.69h-3.98zM35.05 263.23l1.99 3.69h-3.98zM35.54 266.16l1.99 3.69h-3.98zM34.55 269.1l1.99 3.69h-3.98zM35.05 271.44l1.99 3.69h-3.98zM35.54 273.2l1.99 3.69h-3.98z" fill="#39b54a" stroke="#fff" stroke-width=".35"/>
<rect x="41.3" y="220.34" width="4.6" height="59.26" fill="#fff" stroke="#fb8c10" stroke-width="1.4"/>
<path d="M43.6 237.94V202.74M42 202.74h3.2M42 237.94h3.2" stroke="#fb8c10" stroke-width="1.1" fill="none"/>
<path d="M41.43 189.96h3.27v3.27h-3.27zM41.97 194.66h3.27v3.27h-3.27zM42.51 216.36h3.27v3.27h-3.27zM41.43 219.3h3.27v3.27h-3.27zM41.97 220.47h3.27v3.27h-3.27zM42.51 223.4h3.27v3.27h-3.27zM41.43 226.34h3.27v3.27h-3.27zM41.97 229.27h3.27v3.27h-3.27zM42.51 232.2h3.27v3.27h-3.27zM41.43 234.55h3.27v3.27h-3.27z" fill="#fb8c10" stroke="#fff" stroke-width=".35"/>
<rect x="49.9" y="270.8" width="4.2" height="8.8" fill="#fff" stroke="#1a518e" stroke-width="1.4"/>
<path d="M52 273.73V267.87M50.4 267.87h3.2M50.4 273.73h3.2" stroke="#1a518e" stroke-width="1.1" fill="none"/>
<path d="M49.79 267.28a1.7 1.7 0 1 0 3.41 0a1.7 1.7 0 1 0 -3.41 0zM50.3 268.45a1.7 1.7 0 1 0 3.41 0a1.7 1.7 0 1 0 -3.41 0zM50.8 270.21a1.7 1.7 0 1 0 3.41 0a1.7 1.7 0 1 0 -3.41 0zM49.79 271.39a1.7 1.7 0 1 0 3.41 0a1.7 1.7 0 1 0 -3.41 0zM50.3 271.97a1.7 1.7 0 1 0 3.41 0a1.7 1.7 0 1 0 -3.41 0zM50.8 272.56a1.7 1.7 0 1 0 3.41 0a1.7 1.7 0 1 0 -3.41 0zM49.79 273.15a1.7 1.7 0 1 0 3.41 0a1.7 1.7 0 1 0 -3.41 0zM50.3 273.73a1.7 1.7 0 1 0 3.41 0a1.7 1.7 0 1 0 -3.41 0z" fill="#1a518e" stroke="#fff" stroke-width=".35"/>
<rect x="58" y="235.01" width="4.3" height="44.59" fill="#fff" stroke="#c8193c" stroke-width="1.4"/>
<path d="M60.15 249.09V220.93M58.55 220.93h3.2M58.55 249.09h3.2" stroke="#c8193c" stroke-width="1.1" fill="none"/>
<path d="M59.64 216.77l1.99 -3.69h-3.98zM60.15 224.39l1.99 -3.69h-3.98zM60.66 232.02l1.99 -3.69h-3.98zM59.64 234.95l1.99 -3.69h-3.98zM60.15 239.06l1.99 -3.69h-3.98zM60.66 244.34l1.99 -3.69h-3.98zM59.64 249.03l1.99 -3.69h-3.98zM60.15 252.55l1.99 -3.69h-3.98z" fill="#c8193c" stroke="#fff" stroke-width=".35"/>
<rect x="72.2" y="269.63" width="4.1" height="9.97" fill="#fff" stroke="#1a518e" stroke-width="1.4"/>
<path d="M73.23 269.63V279.6M74.25 269.63V279.6M75.28 269.63V279.6" stroke="#1a518e" stroke-width=".55" stroke-opacity=".75"/>
<path d="M74.25 274.91V264.35M72.65 264.35h3.2M72.65 274.91h3.2" stroke="#1a518e" stroke-width="1.1" fill="none"/>
<path d="M72.05 260.24a1.7 1.7 0 1 0 3.41 0a1.7 1.7 0 1 0 -3.41 0zM72.55 262a1.7 1.7 0 1 0 3.41 0a1.7 1.7 0 1 0 -3.41 0zM73.04 264.35a1.7 1.7 0 1 0 3.41 0a1.7 1.7 0 1 0 -3.41 0zM72.05 266.11a1.7 1.7 0 1 0 3.41 0a1.7 1.7 0 1 0 -3.41 0zM72.55 267.87a1.7 1.7 0 1 0 3.41 0a1.7 1.7 0 1 0 -3.41 0zM73.04 269.04a1.7 1.7 0 1 0 3.41 0a1.7 1.7 0 1 0 -3.41 0zM72.05 270.8a1.7 1.7 0 1 0 3.41 0a1.7 1.7 0 1 0 -3.41 0zM72.55 271.97a1.7 1.7 0 1 0 3.41 0a1.7 1.7 0 1 0 -3.41 0zM73.04 273.15a1.7 1.7 0 1 0 3.41 0a1.7 1.7 0 1 0 -3.41 0zM72.05 273.73a1.7 1.7 0 1 0 3.41 0a1.7 1.7 0 1 0 -3.41 0zM72.55 274.32a1.7 1.7 0 1 0 3.41 0a1.7 1.7 0 1 0 -3.41 0z" fill="#1a518e" stroke="#fff" stroke-width=".35"/>
<rect x="81.1" y="212.72" width="3.8" height="66.88" fill="#fff" stroke="#c8193c" stroke-width="1.4"/>
<path d="M82.05 212.72V279.6M83 212.72V279.6M83.95 212.72V279.6" stroke="#c8193c" stroke-width=".55" stroke-opacity=".75"/>
<path d="M83 221.52V203.92M81.4 203.92h3.2M81.4 221.52h3.2" stroke="#c8193c" stroke-width="1.1" fill="none"/>
<path d="M82.53 202.1l1.99 -3.69h-3.98zM83 204.44l1.99 -3.69h-3.98zM83.47 207.96l1.99 -3.69h-3.98zM82.53 211.49l1.99 -3.69h-3.98zM83 214.42l1.99 -3.69h-3.98zM83.47 217.35l1.99 -3.69h-3.98zM82.53 220.29l1.99 -3.69h-3.98zM83 223.22l1.99 -3.69h-3.98zM83.47 224.98l1.99 -3.69h-3.98z" fill="#c8193c" stroke="#fff" stroke-width=".35"/>
<path d="M29.3 191.6V279.6H88.5" stroke="#231f20" stroke-width="1.2" fill="none"/>
<path d="M26.3 279.6h3M26.3 250.27h3M26.3 220.93h3M26.3 191.6h3" stroke="#231f20" stroke-width="1" fill="none"/>
<text x="24.7" y="281.98" font-size="6.6" text-anchor="end" stroke="#231f20" stroke-width="0.1">0</text>
<text x="24.7" y="252.64" font-size="6.6" text-anchor="end" stroke="#231f20" stroke-width="0.1">5</text>
<text x="24.7" y="223.31" font-size="6.6" text-anchor="end" stroke="#231f20" stroke-width="0.1">10</text>
<text x="24.7" y="193.97" font-size="6.6" text-anchor="end" stroke="#231f20" stroke-width="0.1">15</text>
<line x1="66.4" y1="190.5" x2="66.4" y2="279.6" stroke="#231f20" stroke-width="0.9" stroke-dasharray=".7 1.2"/>
<text x="42.35" y="165.65" font-size="8" text-anchor="middle" stroke="#231f20" stroke-width="0.1">ns</text>
<text x="52.3" y="175.15" font-size="8" text-anchor="middle" stroke="#231f20" stroke-width="0.1">ns</text>
<path d="M36.2 159.2H59.2M36.2 168.5H48.5M51.5 168.5H59.2M36.2 177H42.7M45.4 177H59.2M70.8 177H81.7M42.7 186.2H50.4" stroke="#231f20" stroke-width=".95" fill="none"/>
<text x="11.7" y="235.2" font-size="8.6" text-anchor="middle" textLength="33.8" lengthAdjust="spacingAndGlyphs" transform="rotate(-90 11.7 235.2)" stroke="#231f20" stroke-width=".22">% in spleen</text>
<rect x="137.2" y="265.52" width="4.6" height="12.88" fill="#fff" stroke="#39b54a" stroke-width="1.4"/>
<path d="M139.5 277.81V253.23M137.9 253.23h3.2M137.9 277.81h3.2" stroke="#39b54a" stroke-width="1.1" fill="none"/>
<path d="M138.96 250.94l1.99 3.69h-3.98zM139.5 251.53l1.99 3.69h-3.98zM140.04 255.63l1.99 3.69h-3.98zM138.96 261.48l1.99 3.69h-3.98zM139.5 265.58l1.99 3.69h-3.98zM140.04 269.09l1.99 3.69h-3.98zM138.96 271.43l1.99 3.69h-3.98zM139.5 273.18l1.99 3.69h-3.98z" fill="#39b54a" stroke="#fff" stroke-width=".35"/>
<rect x="145.9" y="248.55" width="4.4" height="29.85" fill="#fff" stroke="#fb8c10" stroke-width="1.4"/>
<path d="M148.1 258.5V238.6M146.5 238.6h3.2M146.5 258.5h3.2" stroke="#fb8c10" stroke-width="1.1" fill="none"/>
<path d="M145.94 229.36h3.27v3.27h-3.27zM146.47 236.97h3.27v3.27h-3.27zM146.99 240.48h3.27v3.27h-3.27zM145.94 244.58h3.27v3.27h-3.27zM146.47 247.5h3.27v3.27h-3.27zM146.99 250.43h3.27v3.27h-3.27zM145.94 253.35h3.27v3.27h-3.27zM146.47 256.28h3.27v3.27h-3.27zM146.99 259.21h3.27v3.27h-3.27z" fill="#fb8c10" stroke="#fff" stroke-width=".35"/>
<rect x="154.9" y="270.21" width="4.2" height="8.19" fill="#fff" stroke="#1a518e" stroke-width="1.4"/>
<path d="M157 273.72V266.69M155.4 266.69h3.2M155.4 273.72h3.2" stroke="#1a518e" stroke-width="1.1" fill="none"/>
<path d="M154.79 263.77a1.7 1.7 0 1 0 3.41 0a1.7 1.7 0 1 0 -3.41 0zM155.3 265.52a1.7 1.7 0 1 0 3.41 0a1.7 1.7 0 1 0 -3.41 0zM155.8 267.86a1.7 1.7 0 1 0 3.41 0a1.7 1.7 0 1 0 -3.41 0zM154.79 269.62a1.7 1.7 0 1 0 3.41 0a1.7 1.7 0 1 0 -3.41 0zM155.3 270.79a1.7 1.7 0 1 0 3.41 0a1.7 1.7 0 1 0 -3.41 0zM155.8 271.96a1.7 1.7 0 1 0 3.41 0a1.7 1.7 0 1 0 -3.41 0zM154.79 272.55a1.7 1.7 0 1 0 3.41 0a1.7 1.7 0 1 0 -3.41 0zM155.3 273.13a1.7 1.7 0 1 0 3.41 0a1.7 1.7 0 1 0 -3.41 0zM155.8 273.72a1.7 1.7 0 1 0 3.41 0a1.7 1.7 0 1 0 -3.41 0z" fill="#1a518e" stroke="#fff" stroke-width=".35"/>
<rect x="162.6" y="253.82" width="4.4" height="24.58" fill="#fff" stroke="#c8193c" stroke-width="1.4"/>
<path d="M164.8 266.11V241.53M163.2 241.53h3.2M163.2 266.11h3.2" stroke="#c8193c" stroke-width="1.1" fill="none"/>
<path d="M164.28 242.64l1.99 -3.69h-3.98zM164.8 243.82l1.99 -3.69h-3.98zM165.32 251.42l1.99 -3.69h-3.98zM164.28 254.35l1.99 -3.69h-3.98zM164.8 258.45l1.99 -3.69h-3.98zM165.32 263.13l1.99 -3.69h-3.98zM164.28 266.06l1.99 -3.69h-3.98zM164.8 268.98l1.99 -3.69h-3.98z" fill="#c8193c" stroke="#fff" stroke-width=".35"/>
<rect x="176.7" y="262.6" width="4.3" height="15.8" fill="#fff" stroke="#1a518e" stroke-width="1.4"/>
<path d="M177.77 262.6V278.4M178.85 262.6V278.4M179.92 262.6V278.4" stroke="#1a518e" stroke-width=".55" stroke-opacity=".75"/>
<path d="M178.85 269.62V255.57M177.25 255.57h3.2M177.25 269.62h3.2" stroke="#1a518e" stroke-width="1.1" fill="none"/>
<path d="M176.63 249.72a1.7 1.7 0 1 0 3.41 0a1.7 1.7 0 1 0 -3.41 0zM177.15 254.99a1.7 1.7 0 1 0 3.41 0a1.7 1.7 0 1 0 -3.41 0zM177.66 257.91a1.7 1.7 0 1 0 3.41 0a1.7 1.7 0 1 0 -3.41 0zM176.63 260.84a1.7 1.7 0 1 0 3.41 0a1.7 1.7 0 1 0 -3.41 0zM177.15 262.01a1.7 1.7 0 1 0 3.41 0a1.7 1.7 0 1 0 -3.41 0zM177.66 263.77a1.7 1.7 0 1 0 3.41 0a1.7 1.7 0 1 0 -3.41 0zM176.63 265.52a1.7 1.7 0 1 0 3.41 0a1.7 1.7 0 1 0 -3.41 0zM177.15 266.69a1.7 1.7 0 1 0 3.41 0a1.7 1.7 0 1 0 -3.41 0zM177.66 267.86a1.7 1.7 0 1 0 3.41 0a1.7 1.7 0 1 0 -3.41 0zM176.63 269.62a1.7 1.7 0 1 0 3.41 0a1.7 1.7 0 1 0 -3.41 0z" fill="#1a518e" stroke="#fff" stroke-width=".35"/>
<rect x="185.3" y="235.67" width="4.4" height="42.73" fill="#fff" stroke="#c8193c" stroke-width="1.4"/>
<path d="M186.4 235.67V278.4M187.5 235.67V278.4M188.6 235.67V278.4" stroke="#c8193c" stroke-width=".55" stroke-opacity=".75"/>
<path d="M187.5 247.38V223.97M185.9 223.97h3.2M185.9 247.38h3.2" stroke="#c8193c" stroke-width="1.1" fill="none"/>
<path d="M186.98 222.16l1.99 -3.69h-3.98zM187.5 223.33l1.99 -3.69h-3.98zM188.02 228.01l1.99 -3.69h-3.98zM186.98 230.94l1.99 -3.69h-3.98zM187.5 235.04l1.99 -3.69h-3.98zM188.02 239.72l1.99 -3.69h-3.98zM186.98 242.64l1.99 -3.69h-3.98zM187.5 248.5l1.99 -3.69h-3.98zM188.02 254.35l1.99 -3.69h-3.98zM186.98 257.28l1.99 -3.69h-3.98z" fill="#c8193c" stroke="#fff" stroke-width=".35"/>
<path d="M133.7 190.6V278.4H192.7" stroke="#231f20" stroke-width="1.2" fill="none"/>
<path d="M130.7 278.4h3M130.7 249.13h3M130.7 219.87h3M130.7 190.6h3" stroke="#231f20" stroke-width="1" fill="none"/>
<text x="129.1" y="280.78" font-size="6.6" text-anchor="end" stroke="#231f20" stroke-width="0.1">0</text>
<text x="129.1" y="251.51" font-size="6.6" text-anchor="end" stroke="#231f20" stroke-width="0.1">5</text>
<text x="129.1" y="222.25" font-size="6.6" text-anchor="end" stroke="#231f20" stroke-width="0.1">10</text>
<text x="129.1" y="192.98" font-size="6.6" text-anchor="end" stroke="#231f20" stroke-width="0.1">15</text>
<line x1="171" y1="190" x2="171" y2="278.4" stroke="#231f20" stroke-width="0.9" stroke-dasharray=".7 1.2"/>
<text x="151.95" y="157.95" font-size="8" text-anchor="middle" stroke="#231f20" stroke-width="0.1">ns</text>
<text x="146.65" y="167.55" font-size="8" text-anchor="middle" stroke="#231f20" stroke-width="0.1">ns</text>
<text x="156.55" y="177.15" font-size="8" text-anchor="middle" stroke="#231f20" stroke-width="0.1">ns</text>
<path d="M140.4 161.2H163.5M140.4 170.2H152.9M156.2 170.2H163.5M140.4 179.4H146.5M149.6 179.4H163.5M175 179.4H185M146.7 188.5H154.2" stroke="#231f20" stroke-width=".95" fill="none"/>
<text x="116.7" y="234.4" font-size="8.6" text-anchor="middle" textLength="27.1" lengthAdjust="spacingAndGlyphs" transform="rotate(-90 116.7 234.4)" stroke="#231f20" stroke-width=".22">% in liver</text>
<rect x="241.7" y="264.08" width="4.4" height="14.72" fill="#fff" stroke="#39b54a" stroke-width="1.4"/>
<path d="M243.9 274.09V254.07M242.3 254.07h3.2M242.3 274.09h3.2" stroke="#39b54a" stroke-width="1.1" fill="none"/>
<path d="M243.38 251.79l1.99 3.69h-3.98zM243.9 255.91l1.99 3.69h-3.98zM244.42 258.85l1.99 3.69h-3.98zM243.38 261.79l1.99 3.69h-3.98zM243.9 264.74l1.99 3.69h-3.98zM244.42 265.91l1.99 3.69h-3.98zM243.38 267.68l1.99 3.69h-3.98zM243.9 269.45l1.99 3.69h-3.98z" fill="#39b54a" stroke="#fff" stroke-width=".35"/>
<rect x="250.3" y="219.93" width="4.8" height="58.87" fill="#fff" stroke="#fb8c10" stroke-width="1.4"/>
<path d="M252.7 228.76V211.1M251.1 211.1h3.2M251.1 228.76h3.2" stroke="#fb8c10" stroke-width="1.1" fill="none"/>
<path d="M250.51 209.47h3.27v3.27h-3.27zM251.07 211.23h3.27v3.27h-3.27zM251.62 212.41h3.27v3.27h-3.27zM250.51 213.59h3.27v3.27h-3.27zM251.07 215.35h3.27v3.27h-3.27zM251.62 218.3h3.27v3.27h-3.27zM250.51 221.24h3.27v3.27h-3.27zM251.07 224.18h3.27v3.27h-3.27zM251.62 227.13h3.27v3.27h-3.27zM250.51 230.07h3.27v3.27h-3.27zM251.07 233.01h3.27v3.27h-3.27zM251.62 235.96h3.27v3.27h-3.27zM250.51 238.9h3.27v3.27h-3.27zM251.07 241.84h3.27v3.27h-3.27zM251.62 244.79h3.27v3.27h-3.27zM250.51 250.68h3.27v3.27h-3.27z" fill="#fb8c10" stroke="#fff" stroke-width=".35"/>
<rect x="258.7" y="263.49" width="4.6" height="15.31" fill="#fff" stroke="#1a518e" stroke-width="1.4"/>
<path d="M261 276.45V250.54M259.4 250.54h3.2M259.4 276.45h3.2" stroke="#1a518e" stroke-width="1.1" fill="none"/>
<path d="M258.76 234.06a1.7 1.7 0 1 0 3.41 0a1.7 1.7 0 1 0 -3.41 0zM259.3 253.49a1.7 1.7 0 1 0 3.41 0a1.7 1.7 0 1 0 -3.41 0zM259.84 261.14a1.7 1.7 0 1 0 3.41 0a1.7 1.7 0 1 0 -3.41 0zM258.76 264.08a1.7 1.7 0 1 0 3.41 0a1.7 1.7 0 1 0 -3.41 0zM259.3 267.03a1.7 1.7 0 1 0 3.41 0a1.7 1.7 0 1 0 -3.41 0zM259.84 269.97a1.7 1.7 0 1 0 3.41 0a1.7 1.7 0 1 0 -3.41 0zM258.76 271.74a1.7 1.7 0 1 0 3.41 0a1.7 1.7 0 1 0 -3.41 0zM259.3 272.91a1.7 1.7 0 1 0 3.41 0a1.7 1.7 0 1 0 -3.41 0z" fill="#1a518e" stroke="#fff" stroke-width=".35"/>
<rect x="267" y="245.83" width="4.6" height="32.97" fill="#fff" stroke="#c8193c" stroke-width="1.4"/>
<path d="M269.3 257.02V234.65M267.7 234.65h3.2M267.7 257.02h3.2" stroke="#c8193c" stroke-width="1.1" fill="none"/>
<path d="M268.76 229.28l1.99 -3.69h-3.98zM269.3 241.06l1.99 -3.69h-3.98zM269.84 244.59l1.99 -3.69h-3.98zM268.76 248.71l1.99 -3.69h-3.98zM269.3 251.65l1.99 -3.69h-3.98zM269.84 254.6l1.99 -3.69h-3.98zM268.76 260.48l1.99 -3.69h-3.98zM269.3 266.37l1.99 -3.69h-3.98z" fill="#c8193c" stroke="#fff" stroke-width=".35"/>
<rect x="281.5" y="266.44" width="4.3" height="12.36" fill="#fff" stroke="#1a518e" stroke-width="1.4"/>
<path d="M282.57 266.44V278.8M283.65 266.44V278.8M284.72 266.44V278.8" stroke="#1a518e" stroke-width=".55" stroke-opacity=".75"/>
<path d="M283.65 274.68V258.2M282.05 258.2h3.2M282.05 274.68h3.2" stroke="#1a518e" stroke-width="1.1" fill="none"/>
<path d="M281.43 249.95a1.7 1.7 0 1 0 3.41 0a1.7 1.7 0 1 0 -3.41 0zM281.95 263.49a1.7 1.7 0 1 0 3.41 0a1.7 1.7 0 1 0 -3.41 0zM282.46 265.26a1.7 1.7 0 1 0 3.41 0a1.7 1.7 0 1 0 -3.41 0zM281.43 267.03a1.7 1.7 0 1 0 3.41 0a1.7 1.7 0 1 0 -3.41 0zM281.95 268.2a1.7 1.7 0 1 0 3.41 0a1.7 1.7 0 1 0 -3.41 0zM282.46 269.97a1.7 1.7 0 1 0 3.41 0a1.7 1.7 0 1 0 -3.41 0zM281.43 271.74a1.7 1.7 0 1 0 3.41 0a1.7 1.7 0 1 0 -3.41 0zM281.95 272.91a1.7 1.7 0 1 0 3.41 0a1.7 1.7 0 1 0 -3.41 0z" fill="#1a518e" stroke="#fff" stroke-width=".35"/>
<rect x="289.5" y="232.88" width="4.6" height="45.92" fill="#fff" stroke="#c8193c" stroke-width="1.4"/>
<path d="M290.65 232.88V278.8M291.8 232.88V278.8M292.95 232.88V278.8" stroke="#c8193c" stroke-width=".55" stroke-opacity=".75"/>
<path d="M291.8 243.48V222.28M290.2 222.28h3.2M290.2 243.48h3.2" stroke="#c8193c" stroke-width="1.1" fill="none"/>
<path d="M291.26 219.28l1.99 -3.69h-3.98zM291.8 221.04l1.99 -3.69h-3.98zM292.34 223.4l1.99 -3.69h-3.98zM291.26 231.05l1.99 -3.69h-3.98zM291.8 235.17l1.99 -3.69h-3.98zM292.34 239.88l1.99 -3.69h-3.98zM291.26 242.82l1.99 -3.69h-3.98zM291.8 245.77l1.99 -3.69h-3.98z" fill="#c8193c" stroke="#fff" stroke-width=".35"/>
<path d="M238 190.5V278.8H297" stroke="#231f20" stroke-width="1.2" fill="none"/>
<path d="M235 278.8h3M235 249.37h3M235 219.93h3M235 190.5h3" stroke="#231f20" stroke-width="1" fill="none"/>
<text x="233.4" y="281.18" font-size="6.6" text-anchor="end" stroke="#231f20" stroke-width="0.1">0</text>
<text x="233.4" y="251.74" font-size="6.6" text-anchor="end" stroke="#231f20" stroke-width="0.1">5</text>
<text x="233.4" y="222.31" font-size="6.6" text-anchor="end" stroke="#231f20" stroke-width="0.1">10</text>
<text x="233.4" y="192.87" font-size="6.6" text-anchor="end" stroke="#231f20" stroke-width="0.1">15</text>
<line x1="275.2" y1="190" x2="275.2" y2="278.8" stroke="#231f20" stroke-width="0.9" stroke-dasharray=".7 1.2"/>
<text x="251.45" y="162.35" font-size="8" text-anchor="middle" stroke="#231f20" stroke-width="0.1">ns</text>
<text x="261.25" y="172.55" font-size="8" text-anchor="middle" stroke="#231f20" stroke-width="0.1">ns</text>
<path d="M245.2 156H268.3M245.2 165H257.7M260.6 165H268.3M245.2 175H251.5M254.2 175H268.3M279.8 175H290M251.5 185.2H258.7" stroke="#231f20" stroke-width=".95" fill="none"/>
<text x="221" y="231.5" font-size="8.6" text-anchor="middle" textLength="81.8" lengthAdjust="spacingAndGlyphs" transform="rotate(-90 221 231.5)" stroke="#231f20" stroke-width=".22">% in peripheral lymph nodes</text>
<rect x="345.9" y="263.06" width="4.4" height="15.24" fill="#fff" stroke="#39b54a" stroke-width="1.4"/>
<path d="M348.1 270.1V256.03M346.5 256.03h3.2M346.5 270.1h3.2" stroke="#39b54a" stroke-width="1.1" fill="none"/>
<path d="M347.58 248.47l1.99 3.69h-3.98zM348.1 253.74l1.99 3.69h-3.98zM348.62 258.43l1.99 3.69h-3.98zM347.58 260.77l1.99 3.69h-3.98zM348.1 262.53l1.99 3.69h-3.98zM348.62 264.29l1.99 3.69h-3.98zM347.58 266.63l1.99 3.69h-3.98zM348.1 268.98l1.99 3.69h-3.98z" fill="#39b54a" stroke="#fff" stroke-width=".35"/>
<rect x="354.5" y="249" width="4.4" height="29.3" fill="#fff" stroke="#fb8c10" stroke-width="1.4"/>
<path d="M356.7 263.06V234.94M355.1 234.94h3.2M355.1 263.06h3.2" stroke="#fb8c10" stroke-width="1.1" fill="none"/>
<path d="M354.55 233.3h3.27v3.27h-3.27zM355.07 233.89h3.27v3.27h-3.27zM355.59 240.34h3.27v3.27h-3.27zM354.55 242.68h3.27v3.27h-3.27zM355.07 247.37h3.27v3.27h-3.27zM355.59 250.3h3.27v3.27h-3.27zM354.55 259.09h3.27v3.27h-3.27zM355.07 262.02h3.27v3.27h-3.27zM355.59 267.88h3.27v3.27h-3.27zM354.55 270.81h3.27v3.27h-3.27z" fill="#fb8c10" stroke="#fff" stroke-width=".35"/>
<rect x="362.6" y="267.17" width="4.4" height="11.13" fill="#fff" stroke="#1a518e" stroke-width="1.4"/>
<path d="M364.8 271.85V262.48M363.2 262.48h3.2M363.2 271.85h3.2" stroke="#1a518e" stroke-width="1.1" fill="none"/>
<path d="M362.57 259.55a1.7 1.7 0 1 0 3.41 0a1.7 1.7 0 1 0 -3.41 0zM363.1 260.72a1.7 1.7 0 1 0 3.41 0a1.7 1.7 0 1 0 -3.41 0zM363.62 263.06a1.7 1.7 0 1 0 3.41 0a1.7 1.7 0 1 0 -3.41 0zM362.57 265.41a1.7 1.7 0 1 0 3.41 0a1.7 1.7 0 1 0 -3.41 0zM363.1 267.75a1.7 1.7 0 1 0 3.41 0a1.7 1.7 0 1 0 -3.41 0zM363.62 269.51a1.7 1.7 0 1 0 3.41 0a1.7 1.7 0 1 0 -3.41 0zM362.57 271.27a1.7 1.7 0 1 0 3.41 0a1.7 1.7 0 1 0 -3.41 0zM363.1 272.44a1.7 1.7 0 1 0 3.41 0a1.7 1.7 0 1 0 -3.41 0z" fill="#1a518e" stroke="#fff" stroke-width=".35"/>
<rect x="371.5" y="241.38" width="4.3" height="36.92" fill="#fff" stroke="#c8193c" stroke-width="1.4"/>
<path d="M373.65 256.03V226.73M372.05 226.73h3.2M372.05 256.03h3.2" stroke="#c8193c" stroke-width="1.1" fill="none"/>
<path d="M373.14 215.54l1.99 -3.69h-3.98zM373.65 226.09l1.99 -3.69h-3.98zM374.16 229.02l1.99 -3.69h-3.98zM373.14 239.57l1.99 -3.69h-3.98zM373.65 245.43l1.99 -3.69h-3.98zM374.16 251.29l1.99 -3.69h-3.98zM373.14 257.15l1.99 -3.69h-3.98zM373.65 263.01l1.99 -3.69h-3.98z" fill="#c8193c" stroke="#fff" stroke-width=".35"/>
<rect x="385.7" y="270.1" width="4.4" height="8.2" fill="#fff" stroke="#1a518e" stroke-width="1.4"/>
<path d="M386.8 270.1V278.3M387.9 270.1V278.3M389 270.1V278.3" stroke="#1a518e" stroke-width=".55" stroke-opacity=".75"/>
<path d="M387.9 273.61V266.58M386.3 266.58h3.2M386.3 273.61h3.2" stroke="#1a518e" stroke-width="1.1" fill="none"/>
<path d="M385.67 263.06a1.7 1.7 0 1 0 3.41 0a1.7 1.7 0 1 0 -3.41 0zM386.2 266.58a1.7 1.7 0 1 0 3.41 0a1.7 1.7 0 1 0 -3.41 0zM386.72 268.92a1.7 1.7 0 1 0 3.41 0a1.7 1.7 0 1 0 -3.41 0zM385.67 270.1a1.7 1.7 0 1 0 3.41 0a1.7 1.7 0 1 0 -3.41 0zM386.2 271.27a1.7 1.7 0 1 0 3.41 0a1.7 1.7 0 1 0 -3.41 0zM386.72 272.44a1.7 1.7 0 1 0 3.41 0a1.7 1.7 0 1 0 -3.41 0zM385.67 273.61a1.7 1.7 0 1 0 3.41 0a1.7 1.7 0 1 0 -3.41 0z" fill="#1a518e" stroke="#fff" stroke-width=".35"/>
<rect x="394" y="237.87" width="4.3" height="40.43" fill="#fff" stroke="#c8193c" stroke-width="1.4"/>
<path d="M395.07 237.87V278.3M396.15 237.87V278.3M397.22 237.87V278.3" stroke="#c8193c" stroke-width=".55" stroke-opacity=".75"/>
<path d="M396.15 254.86V220.87M394.55 220.87h3.2M394.55 254.86h3.2" stroke="#c8193c" stroke-width="1.1" fill="none"/>
<path d="M395.64 213.79l1.99 -3.69h-3.98zM396.15 223.16l1.99 -3.69h-3.98zM396.66 236.64l1.99 -3.69h-3.98zM395.64 239.57l1.99 -3.69h-3.98zM396.15 245.43l1.99 -3.69h-3.98zM396.66 251.29l1.99 -3.69h-3.98zM395.64 257.15l1.99 -3.69h-3.98zM396.15 263.01l1.99 -3.69h-3.98z" fill="#c8193c" stroke="#fff" stroke-width=".35"/>
<path d="M341.9 190.4V278.3H400.5" stroke="#231f20" stroke-width="1.2" fill="none"/>
<path d="M338.9 278.3h3M338.9 249h3M338.9 219.7h3M338.9 190.4h3" stroke="#231f20" stroke-width="1" fill="none"/>
<text x="337.3" y="280.68" font-size="6.6" text-anchor="end" stroke="#231f20" stroke-width="0.1">0</text>
<text x="337.3" y="251.38" font-size="6.6" text-anchor="end" stroke="#231f20" stroke-width="0.1">5</text>
<text x="337.3" y="222.08" font-size="6.6" text-anchor="end" stroke="#231f20" stroke-width="0.1">10</text>
<text x="337.3" y="192.78" font-size="6.6" text-anchor="end" stroke="#231f20" stroke-width="0.1">15</text>
<line x1="379.4" y1="189.5" x2="379.4" y2="278.3" stroke="#231f20" stroke-width="0.9" stroke-dasharray=".7 1.2"/>
<text x="355.25" y="163.35" font-size="8" text-anchor="middle" stroke="#231f20" stroke-width="0.1">ns</text>
<text x="352.2" y="172.55" font-size="8" text-anchor="middle" stroke="#231f20" stroke-width="0.1">ns</text>
<text x="365.4" y="172.55" font-size="8" text-anchor="middle" stroke="#231f20" stroke-width="0.1">ns</text>
<path d="M349 157H372.1M349 166H361.5M365 166H372.1M349 175H355.4M358.7 175H372.1M383.7 175H394.2M355.4 185.2H363.1" stroke="#231f20" stroke-width=".95" fill="none"/>
<text x="325.6" y="233.4" font-size="8.6" text-anchor="middle" textLength="81.1" lengthAdjust="spacingAndGlyphs" transform="rotate(-90 325.6 233.4)" stroke="#231f20" stroke-width=".22">% in mesenteric lymph nodes</text>
<text x="46" y="294.6" font-size="6.5" text-anchor="middle" stroke="#231f20" stroke-width="0.1">CD45.1<tspan font-size="5.2" dy="-2.6">+</tspan></text>
<text x="68.8" y="289.4" font-size="6.5" stroke="#231f20" stroke-width="0.1">CD45.2<tspan font-size="5.2" dy="-2.6">+</tspan></text>
<text x="68.8" y="298.3" font-size="6" stroke="#231f20" stroke-width="0.1">Foxp3<tspan font-size="5.2" dy="-2.4">GFP+</tspan></text>
<text x="151" y="294.6" font-size="6.5" text-anchor="middle" stroke="#231f20" stroke-width="0.1">CD45.1<tspan font-size="5.2" dy="-2.6">+</tspan></text>
<text x="172.7" y="289.4" font-size="6.5" stroke="#231f20" stroke-width="0.1">CD45.2<tspan font-size="5.2" dy="-2.6">+</tspan></text>
<text x="172.7" y="298.3" font-size="6" stroke="#231f20" stroke-width="0.1">Foxp3<tspan font-size="5.2" dy="-2.4">GFP+</tspan></text>
<text x="254.8" y="294.6" font-size="6.5" text-anchor="middle" stroke="#231f20" stroke-width="0.1">CD45.1<tspan font-size="5.2" dy="-2.6">+</tspan></text>
<text x="277" y="289.4" font-size="6.5" stroke="#231f20" stroke-width="0.1">CD45.2<tspan font-size="5.2" dy="-2.6">+</tspan></text>
<text x="277" y="298.3" font-size="6" stroke="#231f20" stroke-width="0.1">Foxp3<tspan font-size="5.2" dy="-2.4">GFP+</tspan></text>
<text x="358.7" y="294.6" font-size="6.5" text-anchor="middle" stroke="#231f20" stroke-width="0.1">CD45.1<tspan font-size="5.2" dy="-2.6">+</tspan></text>
<text x="381.7" y="289.4" font-size="6.5" stroke="#231f20" stroke-width="0.1">CD45.2<tspan font-size="5.2" dy="-2.6">+</tspan></text>
<text x="381.7" y="298.3" font-size="6" stroke="#231f20" stroke-width="0.1">Foxp3<tspan font-size="5.2" dy="-2.4">GFP+</tspan></text>
<path d="M53.8 313.75l1.61 2.99h-3.22z" fill="#39b54a"/>
<text x="59" y="318.3" font-size="8.7" textLength="28.1" lengthAdjust="spacingAndGlyphs" stroke="#231f20" stroke-width="0.1">Ctrl-lipo</text>
<path d="M94.38 314.28h2.64v2.64h-2.64z" fill="#fb8c10"/>
<text x="100.9" y="318.3" font-size="8.7" textLength="48.8" lengthAdjust="spacingAndGlyphs" stroke="#231f20" stroke-width="0.1">α-GalCer-lipo</text>
<path d="M156.32 315.6a1.38 1.38 0 1 0 2.76 0a1.38 1.38 0 1 0 -2.76 0z" fill="#1a518e"/>
<text x="162.9" y="318.3" font-size="8.7" textLength="51.9" lengthAdjust="spacingAndGlyphs" stroke="#231f20" stroke-width="0.1">Treg + ctrl-lipo</text>
<path d="M222.7 317.45l1.61 -2.99h-3.22z" fill="#c8193c"/>
<text x="228.6" y="318.3" font-size="8.7" textLength="73.7" lengthAdjust="spacingAndGlyphs" stroke="#231f20" stroke-width="0.1">Treg + α-GalCer-lipo</text>
<rect x="463.7" y="273" width="5.1" height="2.2" fill="#fff" stroke="#39b54a" stroke-width="1.4"/>
<path d="M466.25 275.2V269.03M464.65 269.03h3.2M464.65 275.2h0" stroke="#39b54a" stroke-width="1.1" fill="none"/>
<path d="M465.67 263.66l1.99 3.69h-3.98zM466.25 267.62l1.99 3.69h-3.98zM466.83 269.83l1.99 3.69h-3.98zM465.67 271.15l1.99 3.69h-3.98zM466.25 272.03l1.99 3.69h-3.98zM466.83 272.47l1.99 3.69h-3.98z" fill="#39b54a" stroke="#fff" stroke-width=".35"/>
<rect x="476" y="261.1" width="7" height="14.1" fill="#fff" stroke="#fb8c10" stroke-width="1.4"/>
<path d="M479.5 269.91V252.29M477.9 252.29h3.2M477.9 269.91h3.2" stroke="#fb8c10" stroke-width="1.1" fill="none"/>
<path d="M477.11 243.61h3.27v3.27h-3.27zM477.87 247.14h3.27v3.27h-3.27zM478.62 250.66h3.27v3.27h-3.27zM477.11 254.18h3.27v3.27h-3.27zM477.87 256.83h3.27v3.27h-3.27zM478.62 260.35h3.27v3.27h-3.27zM477.11 263h3.27v3.27h-3.27zM477.87 264.76h3.27v3.27h-3.27zM478.62 266.52h3.27v3.27h-3.27zM477.11 269.16h3.27v3.27h-3.27z" fill="#fb8c10" stroke="#fff" stroke-width=".35"/>
<rect x="490.1" y="272.56" width="6.1" height="2.64" fill="#fff" stroke="#1a518e" stroke-width="1.4"/>
<path d="M493.15 274.76V270.35M491.55 270.35h3.2M491.55 274.76h3.2" stroke="#1a518e" stroke-width="1.1" fill="none"/>
<path d="M490.77 268.59a1.7 1.7 0 1 0 3.41 0a1.7 1.7 0 1 0 -3.41 0zM491.45 269.91a1.7 1.7 0 1 0 3.41 0a1.7 1.7 0 1 0 -3.41 0zM492.12 270.8a1.7 1.7 0 1 0 3.41 0a1.7 1.7 0 1 0 -3.41 0zM490.77 271.68a1.7 1.7 0 1 0 3.41 0a1.7 1.7 0 1 0 -3.41 0zM491.45 272.56a1.7 1.7 0 1 0 3.41 0a1.7 1.7 0 1 0 -3.41 0zM492.12 273.44a1.7 1.7 0 1 0 3.41 0a1.7 1.7 0 1 0 -3.41 0zM490.77 274.32a1.7 1.7 0 1 0 3.41 0a1.7 1.7 0 1 0 -3.41 0z" fill="#1a518e" stroke="#fff" stroke-width=".35"/>
<rect x="504.6" y="228.51" width="6.4" height="46.69" fill="#fff" stroke="#c8193c" stroke-width="1.4"/>
<path d="M507.8 259.34V197.67M506.2 197.67h3.2M506.2 259.34h3.2" stroke="#c8193c" stroke-width="1.1" fill="none"/>
<path d="M507.1 199.96l1.99 -3.69h-3.98zM507.8 214.94l1.99 -3.69h-3.98zM508.5 215.82l1.99 -3.69h-3.98zM507.1 240.49l1.99 -3.69h-3.98zM507.8 247.54l1.99 -3.69h-3.98zM508.5 263.39l1.99 -3.69h-3.98zM507.1 272.2l1.99 -3.69h-3.98z" fill="#c8193c" stroke="#fff" stroke-width=".35"/>
<path d="M457.3 186.5V275.2H516.5" stroke="#231f20" stroke-width="1.2" fill="none"/>
<path d="M454.3 275.2h3M454.3 231.15h3M454.3 187.1h3" stroke="#231f20" stroke-width="1" fill="none"/>
<text x="453.5" y="277.54" font-size="6.5" text-anchor="end" stroke="#231f20" stroke-width="0.1">0</text>
<text x="453.5" y="233.49" font-size="6.5" text-anchor="end" stroke="#231f20" stroke-width="0.1">5×10<tspan font-size="4.68" dy="-2.73">5</tspan></text>
<text x="453.5" y="189.44" font-size="6.5" text-anchor="end" stroke="#231f20" stroke-width="0.1">1×10<tspan font-size="4.68" dy="-2.73">6</tspan></text>
<text x="471.85" y="167.75" font-size="8" text-anchor="middle" stroke="#231f20" stroke-width="0.1">ns</text>
<text x="476.7" y="179.85" font-size="8" text-anchor="middle" stroke="#231f20" stroke-width="0.1">ns</text>
<text x="486.75" y="191.95" font-size="8" text-anchor="middle" stroke="#231f20" stroke-width="0.1">ns</text>
<path d="M463.5 159.4H508.7M463.5 171H480.2M483.7 171H508.7M463.5 183.1H489.9M493.9 183.1H508.7M480.4 195.2H493.1" stroke="#231f20" stroke-width=".95" fill="none"/>
<text x="429.6" y="231.9" font-size="8.6" text-anchor="middle" textLength="76.6" lengthAdjust="spacingAndGlyphs" transform="rotate(-90 429.6 231.9)" stroke="#231f20" stroke-width=".22">Absolute number in spleen</text>
<text x="468.4" y="280" font-size="7.8" text-anchor="end" textLength="24.4" lengthAdjust="spacingAndGlyphs" transform="rotate(-90 468.4 280)" stroke="#231f20" stroke-width="0.1">Ctrl-lipo</text>
<text x="482.2" y="280" font-size="7.8" text-anchor="end" textLength="40.6" lengthAdjust="spacingAndGlyphs" transform="rotate(-90 482.2 280)" stroke="#231f20" stroke-width="0.1">αGalCer-lipo</text>
<text x="496" y="280" font-size="7.8" text-anchor="end" textLength="46.9" lengthAdjust="spacingAndGlyphs" transform="rotate(-90 496 280)" stroke="#231f20" stroke-width="0.1">Treg + Ctrl-lipo</text>
<text x="510.2" y="280" font-size="7.8" text-anchor="end" textLength="62.5" lengthAdjust="spacingAndGlyphs" transform="rotate(-90 510.2 280)" stroke="#231f20" stroke-width="0.1">Treg + αGalCer-lipo</text>
<rect x="45.1" y="433.57" width="6.6" height="6.03" fill="#fff" stroke="#39b54a" stroke-width="1.4"/>
<path d="M48.4 438.39V428.75M46.8 428.75h3.2M46.8 438.39h3.2" stroke="#39b54a" stroke-width="1.1" fill="none"/>
<path d="M47.68 420.43l1.99 3.69h-3.98zM48.4 426.46l1.99 3.69h-3.98zM49.12 428.27l1.99 3.69h-3.98zM47.68 431.28l1.99 3.69h-3.98zM48.4 432.49l1.99 3.69h-3.98zM49.12 433.69l1.99 3.69h-3.98zM47.68 434.3l1.99 3.69h-3.98zM48.4 435.5l1.99 3.69h-3.98z" fill="#39b54a" stroke="#fff" stroke-width=".35"/>
<rect x="56.1" y="409.45" width="6.6" height="30.15" fill="#fff" stroke="#fb8c10" stroke-width="1.4"/>
<path d="M59.4 416.69V402.21M57.8 402.21h3.2M57.8 416.69h3.2" stroke="#fb8c10" stroke-width="1.1" fill="none"/>
<path d="M57.05 395.76h3.27v3.27h-3.27zM57.77 396.96h3.27v3.27h-3.27zM58.49 404.8h3.27v3.27h-3.27zM57.05 407.82h3.27v3.27h-3.27zM57.77 410.83h3.27v3.27h-3.27zM58.49 413.85h3.27v3.27h-3.27zM57.05 416.86h3.27v3.27h-3.27zM57.77 419.88h3.27v3.27h-3.27z" fill="#fb8c10" stroke="#fff" stroke-width=".35"/>
<rect x="67.3" y="432.36" width="6.5" height="7.24" fill="#fff" stroke="#1a518e" stroke-width="1.4"/>
<path d="M70.55 434.78V429.95M68.95 429.95h3.2M68.95 434.78h3.2" stroke="#1a518e" stroke-width="1.1" fill="none"/>
<path d="M69.84 423.88l1.85 1.85l-1.85 1.85l-1.85 -1.85zM70.55 425.69l1.85 1.85l-1.85 1.85l-1.85 -1.85zM71.26 428.11l1.85 1.85l-1.85 1.85l-1.85 -1.85zM69.84 429.92l1.85 1.85l-1.85 1.85l-1.85 -1.85zM70.55 431.12l1.85 1.85l-1.85 1.85l-1.85 -1.85zM71.26 431.72l1.85 1.85l-1.85 1.85l-1.85 -1.85zM69.84 432.93l1.85 1.85l-1.85 1.85l-1.85 -1.85zM70.55 434.14l1.85 1.85l-1.85 1.85l-1.85 -1.85z" fill="#1a518e" stroke="#fff" stroke-width=".35"/>
<rect x="78.9" y="391.96" width="6.2" height="47.64" fill="#fff" stroke="#c8193c" stroke-width="1.4"/>
<path d="M82 399.8V384.12M80.4 384.12h3.2M80.4 399.8h3.2" stroke="#c8193c" stroke-width="1.1" fill="none"/>
<path d="M81.32 381.59l1.99 -3.69h-3.98zM82 390.63l1.99 -3.69h-3.98zM82.68 392.44l1.99 -3.69h-3.98zM81.32 393.65l1.99 -3.69h-3.98zM82 396.66l1.99 -3.69h-3.98zM82.68 399.68l1.99 -3.69h-3.98zM81.32 402.69l1.99 -3.69h-3.98zM82 408.72l1.99 -3.69h-3.98z" fill="#c8193c" stroke="#fff" stroke-width=".35"/>
<path d="M41.3 367.7V439.6H89" stroke="#231f20" stroke-width="1.2" fill="none"/>
<path d="M38.3 439.6h3M38.3 409.45h3M38.3 379.3h3" stroke="#231f20" stroke-width="1" fill="none"/>
<text x="36.7" y="441.98" font-size="6.6" text-anchor="end" stroke="#231f20" stroke-width="0.1">0</text>
<text x="36.7" y="411.83" font-size="6.6" text-anchor="end" stroke="#231f20" stroke-width="0.1">5</text>
<text x="36.7" y="381.68" font-size="6.6" text-anchor="end" stroke="#231f20" stroke-width="0.1">10</text>
<text x="59.25" y="352.25" font-size="8" text-anchor="middle" stroke="#231f20" stroke-width="0.1">ns</text>
<path d="M47 344.8H88.4M47 354.3H71.5M75.1 354.3H88.4M47 363.8H59.7M64.5 363.8H85.7M62.4 374.4H73.6" stroke="#231f20" stroke-width=".95" fill="none"/>
<text x="24.1" y="403.8" font-size="9.6" text-anchor="middle" textLength="62.9" lengthAdjust="spacingAndGlyphs" transform="rotate(-90 24.1 403.8)" stroke="#231f20" stroke-width=".22">% CD4<tspan font-size="6.5" dy="-3.4">+</tspan><tspan dy="3.4">Treg / T cells</tspan></text>
<rect x="158.9" y="404.17" width="6.5" height="37.23" fill="#fff" stroke="#39b54a" stroke-width="1.4"/>
<path d="M162.15 409.18V399.16M160.55 399.16h3.2M160.55 409.18h3.2" stroke="#39b54a" stroke-width="1.1" fill="none"/>
<path d="M161.44 394.72l1.99 3.69h-3.98zM162.15 396.15l1.99 3.69h-3.98zM162.86 399.01l1.99 3.69h-3.98zM161.44 400.45l1.99 3.69h-3.98zM162.15 401.88l1.99 3.69h-3.98zM162.86 403.31l1.99 3.69h-3.98zM161.44 404.74l1.99 3.69h-3.98zM162.15 406.17l1.99 3.69h-3.98zM162.86 410.47l1.99 3.69h-3.98z" fill="#39b54a" stroke="#fff" stroke-width=".35"/>
<rect x="170.1" y="386.27" width="6.5" height="55.13" fill="#fff" stroke="#fb8c10" stroke-width="1.4"/>
<path d="M173.35 392V380.54M171.75 380.54h3.2M171.75 392h3.2" stroke="#fb8c10" stroke-width="1.1" fill="none"/>
<path d="M171.01 376.76h3.27v3.27h-3.27zM171.72 378.19h3.27v3.27h-3.27zM172.43 379.62h3.27v3.27h-3.27zM171.01 382.49h3.27v3.27h-3.27zM171.72 385.35h3.27v3.27h-3.27zM172.43 386.78h3.27v3.27h-3.27zM171.01 389.65h3.27v3.27h-3.27zM171.72 391.08h3.27v3.27h-3.27zM172.43 392.51h3.27v3.27h-3.27z" fill="#fb8c10" stroke="#fff" stroke-width=".35"/>
<rect x="181.1" y="397.01" width="6.1" height="44.39" fill="#fff" stroke="#1a518e" stroke-width="1.4"/>
<path d="M184.15 404.17V389.85M182.55 389.85h3.2M182.55 404.17h3.2" stroke="#1a518e" stroke-width="1.1" fill="none"/>
<path d="M183.47 380.84l1.85 1.85l-1.85 1.85l-1.85 -1.85zM184.15 386.57l1.85 1.85l-1.85 1.85l-1.85 -1.85zM184.83 390.87l1.85 1.85l-1.85 1.85l-1.85 -1.85zM183.47 393.73l1.85 1.85l-1.85 1.85l-1.85 -1.85zM184.15 395.16l1.85 1.85l-1.85 1.85l-1.85 -1.85zM184.83 396.59l1.85 1.85l-1.85 1.85l-1.85 -1.85zM183.47 399.46l1.85 1.85l-1.85 1.85l-1.85 -1.85zM184.15 402.32l1.85 1.85l-1.85 1.85l-1.85 -1.85zM184.83 408.05l1.85 1.85l-1.85 1.85l-1.85 -1.85zM183.47 410.91l1.85 1.85l-1.85 1.85l-1.85 -1.85z" fill="#1a518e" stroke="#fff" stroke-width=".35"/>
<rect x="192.1" y="394.14" width="6.2" height="47.26" fill="#fff" stroke="#c8193c" stroke-width="1.4"/>
<path d="M195.2 399.16V389.13M193.6 389.13h3.2M193.6 399.16h3.2" stroke="#c8193c" stroke-width="1.1" fill="none"/>
<path d="M194.52 386.41l1.99 -3.69h-3.98zM195.2 392.14l1.99 -3.69h-3.98zM195.88 393.57l1.99 -3.69h-3.98zM194.52 396.43l1.99 -3.69h-3.98zM195.2 397.87l1.99 -3.69h-3.98zM195.88 399.3l1.99 -3.69h-3.98zM194.52 402.16l1.99 -3.69h-3.98zM195.2 403.59l1.99 -3.69h-3.98z" fill="#c8193c" stroke="#fff" stroke-width=".35"/>
<path d="M154.6 369V441.4H202.6" stroke="#231f20" stroke-width="1.2" fill="none"/>
<path d="M151.6 441.4h3M151.6 427.08h3M151.6 412.76h3M151.6 398.44h3M151.6 384.12h3M151.6 369.8h3" stroke="#231f20" stroke-width="1" fill="none"/>
<text x="150" y="443.78" font-size="6.6" text-anchor="end" stroke="#231f20" stroke-width="0.1">0</text>
<text x="150" y="429.46" font-size="6.6" text-anchor="end" stroke="#231f20" stroke-width="0.1">10</text>
<text x="150" y="415.14" font-size="6.6" text-anchor="end" stroke="#231f20" stroke-width="0.1">20</text>
<text x="150" y="400.82" font-size="6.6" text-anchor="end" stroke="#231f20" stroke-width="0.1">30</text>
<text x="150" y="386.5" font-size="6.6" text-anchor="end" stroke="#231f20" stroke-width="0.1">40</text>
<text x="150" y="372.18" font-size="6.6" text-anchor="end" stroke="#231f20" stroke-width="0.1">50</text>
<text x="180.9" y="342.75" font-size="8" text-anchor="middle" stroke="#231f20" stroke-width="0.1">ns</text>
<text x="172.45" y="352.25" font-size="8" text-anchor="middle" stroke="#231f20" stroke-width="0.1">ns</text>
<text x="194.95" y="352.25" font-size="8" text-anchor="middle" stroke="#231f20" stroke-width="0.1">ns</text>
<path d="M160.3 344.8H201.5M160.3 354.3H184.6M188.4 354.3H201.5M160.3 363.4H173M178.3 363.4H198.4M175.7 374H186.7" stroke="#231f20" stroke-width=".95" fill="none"/>
<text x="134.1" y="403.1" font-size="9.6" text-anchor="middle" textLength="66.6" lengthAdjust="spacingAndGlyphs" transform="rotate(-90 134.1 403.1)" stroke="#231f20" stroke-width=".22">% CD4<tspan font-size="6.5" dy="-3.4">+</tspan><tspan dy="3.4">Tconv / T cells</tspan></text>
<rect x="258.9" y="389.5" width="6.5" height="49.5" fill="#fff" stroke="#39b54a" stroke-width="1.4"/>
<path d="M262.15 396.7V382.3M260.55 382.3h3.2M260.55 396.7h3.2" stroke="#39b54a" stroke-width="1.1" fill="none"/>
<path d="M261.44 376.41l1.99 3.69h-3.98zM262.15 380.01l1.99 3.69h-3.98zM262.86 382.71l1.99 3.69h-3.98zM261.44 384.51l1.99 3.69h-3.98zM262.15 386.31l1.99 3.69h-3.98zM262.86 387.21l1.99 3.69h-3.98zM261.44 389.01l1.99 3.69h-3.98zM262.15 391.71l1.99 3.69h-3.98zM262.86 407.01l1.99 3.69h-3.98z" fill="#39b54a" stroke="#fff" stroke-width=".35"/>
<rect x="269.9" y="396.7" width="6.7" height="42.3" fill="#fff" stroke="#fb8c10" stroke-width="1.4"/>
<path d="M273.25 399.4V394M271.65 394h3.2M271.65 399.4h3.2" stroke="#fb8c10" stroke-width="1.1" fill="none"/>
<path d="M270.89 392.37h3.27v3.27h-3.27zM271.62 393.27h3.27v3.27h-3.27zM272.35 394.17h3.27v3.27h-3.27zM270.89 395.07h3.27v3.27h-3.27zM271.62 395.07h3.27v3.27h-3.27zM272.35 395.97h3.27v3.27h-3.27zM270.89 396.87h3.27v3.27h-3.27zM271.62 397.77h3.27v3.27h-3.27zM272.35 399.57h3.27v3.27h-3.27z" fill="#fb8c10" stroke="#fff" stroke-width=".35"/>
<rect x="281.1" y="389.5" width="6.5" height="49.5" fill="#fff" stroke="#1a518e" stroke-width="1.4"/>
<path d="M284.35 393.1V385.9M282.75 385.9h3.2M282.75 393.1h3.2" stroke="#1a518e" stroke-width="1.1" fill="none"/>
<path d="M283.64 381.35l1.85 1.85l-1.85 1.85l-1.85 -1.85zM284.35 383.15l1.85 1.85l-1.85 1.85l-1.85 -1.85zM285.06 384.95l1.85 1.85l-1.85 1.85l-1.85 -1.85zM283.64 386.75l1.85 1.85l-1.85 1.85l-1.85 -1.85zM284.35 387.65l1.85 1.85l-1.85 1.85l-1.85 -1.85zM285.06 388.55l1.85 1.85l-1.85 1.85l-1.85 -1.85zM283.64 389.45l1.85 1.85l-1.85 1.85l-1.85 -1.85zM284.35 390.35l1.85 1.85l-1.85 1.85l-1.85 -1.85zM285.06 392.15l1.85 1.85l-1.85 1.85l-1.85 -1.85z" fill="#1a518e" stroke="#fff" stroke-width=".35"/>
<rect x="292.1" y="393.1" width="6.2" height="45.9" fill="#fff" stroke="#c8193c" stroke-width="1.4"/>
<path d="M295.2 397.6V388.6M293.6 388.6h3.2M293.6 397.6h3.2" stroke="#c8193c" stroke-width="1.1" fill="none"/>
<path d="M294.52 389.09l1.99 -3.69h-3.98zM295.2 390.89l1.99 -3.69h-3.98zM295.88 392.69l1.99 -3.69h-3.98zM294.52 394.49l1.99 -3.69h-3.98zM295.2 396.29l1.99 -3.69h-3.98zM295.88 397.19l1.99 -3.69h-3.98zM294.52 398.09l1.99 -3.69h-3.98zM295.2 399.89l1.99 -3.69h-3.98z" fill="#c8193c" stroke="#fff" stroke-width=".35"/>
<path d="M254.4 366.5V439H303" stroke="#231f20" stroke-width="1.2" fill="none"/>
<path d="M251.4 439h3M251.4 421h3M251.4 403h3M251.4 385h3M251.4 367h3" stroke="#231f20" stroke-width="1" fill="none"/>
<text x="249.8" y="441.38" font-size="6.6" text-anchor="end" stroke="#231f20" stroke-width="0.1">0</text>
<text x="249.8" y="423.38" font-size="6.6" text-anchor="end" stroke="#231f20" stroke-width="0.1">20</text>
<text x="249.8" y="405.38" font-size="6.6" text-anchor="end" stroke="#231f20" stroke-width="0.1">40</text>
<text x="249.8" y="387.38" font-size="6.6" text-anchor="end" stroke="#231f20" stroke-width="0.1">60</text>
<text x="249.8" y="369.38" font-size="6.6" text-anchor="end" stroke="#231f20" stroke-width="0.1">80</text>
<text x="281.4" y="342.35" font-size="8" text-anchor="middle" stroke="#231f20" stroke-width="0.1">ns</text>
<text x="272.95" y="351.65" font-size="8" text-anchor="middle" stroke="#231f20" stroke-width="0.1">ns</text>
<text x="295.35" y="351.65" font-size="8" text-anchor="middle" stroke="#231f20" stroke-width="0.1">ns</text>
<text x="266.9" y="361.35" font-size="8" text-anchor="middle" stroke="#231f20" stroke-width="0.1">ns</text>
<text x="288.5" y="361.35" font-size="8" text-anchor="middle" stroke="#231f20" stroke-width="0.1">ns</text>
<text x="281.3" y="371.25" font-size="8" text-anchor="middle" stroke="#231f20" stroke-width="0.1">ns</text>
<path d="M260.8 344.4H302M260.8 353.3H285.1M288.7 353.3H302M260.8 363.4H273M278.1 363.4H298.9M276 373.4H286.6" stroke="#231f20" stroke-width=".95" fill="none"/>
<text x="236.1" y="403.1" font-size="9.6" text-anchor="middle" textLength="66.6" lengthAdjust="spacingAndGlyphs" transform="rotate(-90 236.1 403.1)" stroke="#231f20" stroke-width=".22">% CD8<tspan font-size="6.5" dy="-3.4">+</tspan><tspan dy="3.4">Tconv / T cells</tspan></text>
<text x="66.6" y="461.9" font-size="9.6" text-anchor="middle" stroke="#231f20" stroke-width="0.1">CD4<tspan font-size="6.3" dy="-3.5">+</tspan><tspan dy="3.5">Tregs</tspan></text>
<text x="179.3" y="461.9" font-size="9.6" text-anchor="middle" stroke="#231f20" stroke-width="0.1">CD4<tspan font-size="6.3" dy="-3.5">+</tspan><tspan dy="3.5">Tcons</tspan></text>
<text x="279.3" y="461.9" font-size="9.6" text-anchor="middle" stroke="#231f20" stroke-width="0.1">CD8<tspan font-size="6.3" dy="-3.5">+</tspan><tspan dy="3.5">Tcons</tspan></text>
<rect x="46" y="565.45" width="5.9" height="4.85" fill="#fff" stroke="#39b54a" stroke-width="1.4"/>
<path d="M48.95 567.39V563.51M47.35 563.51h3.2M47.35 567.39h3.2" stroke="#39b54a" stroke-width="1.1" fill="none"/>
<path d="M48.29 561.22l1.99 3.69h-3.98zM48.95 562.19l1.99 3.69h-3.98zM49.61 563.16l1.99 3.69h-3.98zM48.29 564.13l1.99 3.69h-3.98zM48.95 565.1l1.99 3.69h-3.98zM49.61 565.59l1.99 3.69h-3.98z" fill="#39b54a" stroke="#fff" stroke-width=".35"/>
<rect x="57.3" y="561.57" width="5.9" height="8.73" fill="#fff" stroke="#fb8c10" stroke-width="1.4"/>
<path d="M60.25 566.42V556.72M58.65 556.72h3.2M58.65 566.42h3.2" stroke="#fb8c10" stroke-width="1.1" fill="none"/>
<path d="M57.96 551.69h3.27v3.27h-3.27zM58.62 553.15h3.27v3.27h-3.27zM59.27 555.09h3.27v3.27h-3.27zM57.96 558h3.27v3.27h-3.27zM58.62 559.94h3.27v3.27h-3.27zM59.27 561.39h3.27v3.27h-3.27zM57.96 562.85h3.27v3.27h-3.27zM58.62 563.82h3.27v3.27h-3.27zM59.27 564.79h3.27v3.27h-3.27z" fill="#fb8c10" stroke="#fff" stroke-width=".35"/>
<rect x="68.4" y="567.88" width="5.5" height="2.42" fill="#fff" stroke="#1a518e" stroke-width="1.4"/>
<path d="M71.15 568.84V566.9M69.55 566.9h3.2M69.55 568.84h3.2" stroke="#1a518e" stroke-width="1.1" fill="none"/>
<path d="M70.53 564.57l1.85 1.85l-1.85 1.85l-1.85 -1.85zM71.15 565.54l1.85 1.85l-1.85 1.85l-1.85 -1.85zM71.77 566.03l1.85 1.85l-1.85 1.85l-1.85 -1.85zM70.53 566.51l1.85 1.85l-1.85 1.85l-1.85 -1.85zM71.15 567l1.85 1.85l-1.85 1.85l-1.85 -1.85zM71.77 567.48l1.85 1.85l-1.85 1.85l-1.85 -1.85z" fill="#1a518e" stroke="#fff" stroke-width=".35"/>
<rect x="79.3" y="544.11" width="5.8" height="26.19" fill="#fff" stroke="#c8193c" stroke-width="1.4"/>
<path d="M82.2 560.6V527.62M80.6 527.62h3.2M80.6 560.6h3.2" stroke="#c8193c" stroke-width="1.1" fill="none"/>
<path d="M81.55 521.66l1.99 -3.69h-3.98zM82.2 531.36l1.99 -3.69h-3.98zM82.85 537.67l1.99 -3.69h-3.98zM81.55 538.64l1.99 -3.69h-3.98zM82.2 548.34l1.99 -3.69h-3.98zM82.85 553.19l1.99 -3.69h-3.98zM81.55 560.46l1.99 -3.69h-3.98zM82.2 567.74l1.99 -3.69h-3.98z" fill="#c8193c" stroke="#fff" stroke-width=".35"/>
<path d="M41.3 497.5V570.3H89.8" stroke="#231f20" stroke-width="1.2" fill="none"/>
<path d="M38.3 570.3h3M38.3 546.05h3M38.3 521.8h3M38.3 497.55h3" stroke="#231f20" stroke-width="1" fill="none"/>
<text x="37.5" y="572.64" font-size="6.5" text-anchor="end" stroke="#231f20" stroke-width="0.1">0.0</text>
<text x="37.5" y="548.39" font-size="6.5" text-anchor="end" stroke="#231f20" stroke-width="0.1">5.0×10<tspan font-size="4.68" dy="-2.73">5</tspan></text>
<text x="37.5" y="524.14" font-size="6.5" text-anchor="end" stroke="#231f20" stroke-width="0.1">1.0×10<tspan font-size="4.68" dy="-2.73">6</tspan></text>
<text x="37.5" y="499.89" font-size="6.5" text-anchor="end" stroke="#231f20" stroke-width="0.1">1.5×10<tspan font-size="4.68" dy="-2.73">6</tspan></text>
<text x="59.75" y="482.45" font-size="8" text-anchor="middle" stroke="#231f20" stroke-width="0.1">ns</text>
<text x="53.95" y="492.35" font-size="8" text-anchor="middle" stroke="#231f20" stroke-width="0.1">ns</text>
<text x="68.3" y="502.95" font-size="8" text-anchor="middle" stroke="#231f20" stroke-width="0.1">ns</text>
<path d="M47.6 475.4H88.9M47.6 484.5H71.9M75.1 484.5H88.9M47.6 494.5H60.3M65.2 494.5H85.7M63 505H73.6" stroke="#231f20" stroke-width=".95" fill="none"/>
<text x="11.4" y="534" font-size="9.4" text-anchor="middle" textLength="48" lengthAdjust="spacingAndGlyphs" transform="rotate(-90 11.4 534)" stroke="#231f20" stroke-width=".22">Absolute number</text>
<rect x="158.9" y="565.35" width="6.1" height="4.95" fill="#fff" stroke="#39b54a" stroke-width="1.4"/>
<path d="M161.95 569.59V561.1M160.35 561.1h3.2M160.35 569.59h3.2" stroke="#39b54a" stroke-width="1.1" fill="none"/>
<path d="M161.27 553.15l1.99 3.69h-3.98zM161.95 558.11l1.99 3.69h-3.98zM162.62 560.94l1.99 3.69h-3.98zM161.27 563.77l1.99 3.69h-3.98zM161.95 565.18l1.99 3.69h-3.98zM162.62 566.6l1.99 3.69h-3.98z" fill="#39b54a" stroke="#fff" stroke-width=".35"/>
<rect x="170.1" y="549.78" width="6.1" height="20.52" fill="#fff" stroke="#fb8c10" stroke-width="1.4"/>
<path d="M173.15 561.1V538.46M171.55 538.46h3.2M171.55 561.1h3.2" stroke="#fb8c10" stroke-width="1.1" fill="none"/>
<path d="M170.84 525.51h3.27v3.27h-3.27zM171.52 533.29h3.27v3.27h-3.27zM172.19 543.2h3.27v3.27h-3.27zM170.84 544.61h3.27v3.27h-3.27zM171.52 551.69h3.27v3.27h-3.27zM172.19 554.52h3.27v3.27h-3.27zM170.84 557.35h3.27v3.27h-3.27zM171.52 561.59h3.27v3.27h-3.27zM172.19 564.42h3.27v3.27h-3.27z" fill="#fb8c10" stroke="#fff" stroke-width=".35"/>
<rect x="181.1" y="557.56" width="6.1" height="12.74" fill="#fff" stroke="#1a518e" stroke-width="1.4"/>
<path d="M184.15 566.76V548.37M182.55 548.37h3.2M182.55 566.76h3.2" stroke="#1a518e" stroke-width="1.1" fill="none"/>
<path d="M183.47 538.74l1.85 1.85l-1.85 1.85l-1.85 -1.85zM184.15 548.64l1.85 1.85l-1.85 1.85l-1.85 -1.85zM184.83 551.47l1.85 1.85l-1.85 1.85l-1.85 -1.85zM183.47 554.3l1.85 1.85l-1.85 1.85l-1.85 -1.85zM184.15 557.13l1.85 1.85l-1.85 1.85l-1.85 -1.85zM184.83 559.96l1.85 1.85l-1.85 1.85l-1.85 -1.85zM183.47 562.79l1.85 1.85l-1.85 1.85l-1.85 -1.85zM184.15 565.62l1.85 1.85l-1.85 1.85l-1.85 -1.85z" fill="#1a518e" stroke="#fff" stroke-width=".35"/>
<rect x="192.1" y="539.17" width="6.2" height="31.13" fill="#fff" stroke="#c8193c" stroke-width="1.4"/>
<path d="M195.2 560.39V517.94M193.6 517.94h3.2M193.6 560.39h3.2" stroke="#c8193c" stroke-width="1.1" fill="none"/>
<path d="M194.52 514.57l1.99 -3.69h-3.98zM195.2 520.23l1.99 -3.69h-3.98zM195.88 524.48l1.99 -3.69h-3.98zM194.52 537.21l1.99 -3.69h-3.98zM195.2 554.19l1.99 -3.69h-3.98zM195.88 558.44l1.99 -3.69h-3.98zM194.52 565.51l1.99 -3.69h-3.98zM195.2 569.76l1.99 -3.69h-3.98z" fill="#c8193c" stroke="#fff" stroke-width=".35"/>
<path d="M153.9 497.5V570.3H202.6" stroke="#231f20" stroke-width="1.2" fill="none"/>
<path d="M150.9 570.3h3M150.9 556.15h3M150.9 542h3M150.9 527.85h3M150.9 513.7h3M150.9 499.55h3" stroke="#231f20" stroke-width="1" fill="none"/>
<text x="150.1" y="572.64" font-size="6.5" text-anchor="end" stroke="#231f20" stroke-width="0.1">0</text>
<text x="150.1" y="558.49" font-size="6.5" text-anchor="end" stroke="#231f20" stroke-width="0.1">1×10<tspan font-size="4.68" dy="-2.73">6</tspan></text>
<text x="150.1" y="544.34" font-size="6.5" text-anchor="end" stroke="#231f20" stroke-width="0.1">2×10<tspan font-size="4.68" dy="-2.73">6</tspan></text>
<text x="150.1" y="530.19" font-size="6.5" text-anchor="end" stroke="#231f20" stroke-width="0.1">3×10<tspan font-size="4.68" dy="-2.73">6</tspan></text>
<text x="150.1" y="516.04" font-size="6.5" text-anchor="end" stroke="#231f20" stroke-width="0.1">4×10<tspan font-size="4.68" dy="-2.73">6</tspan></text>
<text x="150.1" y="501.89" font-size="6.5" text-anchor="end" stroke="#231f20" stroke-width="0.1">5×10<tspan font-size="4.68" dy="-2.73">6</tspan></text>
<text x="172.45" y="482.45" font-size="8" text-anchor="middle" stroke="#231f20" stroke-width="0.1">ns</text>
<text x="166.65" y="492.35" font-size="8" text-anchor="middle" stroke="#231f20" stroke-width="0.1">ns</text>
<text x="188.15" y="492.35" font-size="8" text-anchor="middle" stroke="#231f20" stroke-width="0.1">ns</text>
<text x="181.2" y="502.95" font-size="8" text-anchor="middle" stroke="#231f20" stroke-width="0.1">ns</text>
<path d="M160.3 475.4H201.5M160.3 484.5H184.6M188.4 484.5H201.5M160.3 494.5H173M177.9 494.5H198.4M175.7 505H186.7" stroke="#231f20" stroke-width=".95" fill="none"/>
<text x="127.3" y="533.6" font-size="9.4" text-anchor="middle" textLength="48.5" lengthAdjust="spacingAndGlyphs" transform="rotate(-90 127.3 533.6)" stroke="#231f20" stroke-width=".22">Absolute number</text>
<rect x="258.9" y="566.06" width="6.5" height="4.24" fill="#fff" stroke="#39b54a" stroke-width="1.4"/>
<path d="M262.15 569.59V562.52M260.55 562.52h3.2M260.55 569.59h3.2" stroke="#39b54a" stroke-width="1.1" fill="none"/>
<path d="M261.44 553.16l1.99 3.69h-3.98zM262.15 559.53l1.99 3.69h-3.98zM262.86 562.35l1.99 3.69h-3.98zM261.44 564.48l1.99 3.69h-3.98zM262.15 565.89l1.99 3.69h-3.98zM262.86 566.6l1.99 3.69h-3.98z" fill="#39b54a" stroke="#fff" stroke-width=".35"/>
<rect x="269.9" y="556.87" width="6.7" height="13.43" fill="#fff" stroke="#fb8c10" stroke-width="1.4"/>
<path d="M273.25 563.94V549.8M271.65 549.8h3.2M271.65 563.94h3.2" stroke="#fb8c10" stroke-width="1.1" fill="none"/>
<path d="M270.89 541.8h3.27v3.27h-3.27zM271.62 543.92h3.27v3.27h-3.27zM272.35 550.99h3.27v3.27h-3.27zM270.89 553.11h3.27v3.27h-3.27zM271.62 555.94h3.27v3.27h-3.27zM272.35 560.18h3.27v3.27h-3.27zM270.89 563.01h3.27v3.27h-3.27zM271.62 565.13h3.27v3.27h-3.27z" fill="#fb8c10" stroke="#fff" stroke-width=".35"/>
<rect x="281.1" y="558.63" width="6.5" height="11.67" fill="#fff" stroke="#1a518e" stroke-width="1.4"/>
<path d="M284.35 566.06V551.21M282.75 551.21h3.2M282.75 566.06h3.2" stroke="#1a518e" stroke-width="1.1" fill="none"/>
<path d="M283.64 539.47l1.85 1.85l-1.85 1.85l-1.85 -1.85zM284.35 549.36l1.85 1.85l-1.85 1.85l-1.85 -1.85zM285.06 555.73l1.85 1.85l-1.85 1.85l-1.85 -1.85zM283.64 557.85l1.85 1.85l-1.85 1.85l-1.85 -1.85zM284.35 559.97l1.85 1.85l-1.85 1.85l-1.85 -1.85zM285.06 562.8l1.85 1.85l-1.85 1.85l-1.85 -1.85zM283.64 564.92l1.85 1.85l-1.85 1.85l-1.85 -1.85zM284.35 567.04l1.85 1.85l-1.85 1.85l-1.85 -1.85z" fill="#1a518e" stroke="#fff" stroke-width=".35"/>
<rect x="292.1" y="544.14" width="6.2" height="26.16" fill="#fff" stroke="#c8193c" stroke-width="1.4"/>
<path d="M295.2 561.82V526.47M293.6 526.47h3.2M293.6 561.82h3.2" stroke="#c8193c" stroke-width="1.1" fill="none"/>
<path d="M294.52 513.2l1.99 -3.69h-3.98zM295.2 528.76l1.99 -3.69h-3.98zM295.88 540.77l1.99 -3.69h-3.98zM294.52 542.19l1.99 -3.69h-3.98zM295.2 547.84l1.99 -3.69h-3.98zM295.88 554.91l1.99 -3.69h-3.98zM294.52 564.11l1.99 -3.69h-3.98zM295.2 569.05l1.99 -3.69h-3.98z" fill="#c8193c" stroke="#fff" stroke-width=".35"/>
<path d="M254.4 497.5V570.3H303.1" stroke="#231f20" stroke-width="1.2" fill="none"/>
<path d="M251.4 570.3h3M251.4 556.16h3M251.4 542.02h3M251.4 527.88h3M251.4 513.74h3M251.4 499.6h3" stroke="#231f20" stroke-width="1" fill="none"/>
<text x="250.6" y="572.64" font-size="6.5" text-anchor="end" stroke="#231f20" stroke-width="0.1">0</text>
<text x="250.6" y="558.5" font-size="6.5" text-anchor="end" stroke="#231f20" stroke-width="0.1">2×10<tspan font-size="4.68" dy="-2.73">6</tspan></text>
<text x="250.6" y="544.36" font-size="6.5" text-anchor="end" stroke="#231f20" stroke-width="0.1">4×10<tspan font-size="4.68" dy="-2.73">6</tspan></text>
<text x="250.6" y="530.22" font-size="6.5" text-anchor="end" stroke="#231f20" stroke-width="0.1">6×10<tspan font-size="4.68" dy="-2.73">6</tspan></text>
<text x="250.6" y="516.08" font-size="6.5" text-anchor="end" stroke="#231f20" stroke-width="0.1">8×10<tspan font-size="4.68" dy="-2.73">6</tspan></text>
<text x="250.6" y="501.94" font-size="6.5" text-anchor="end" stroke="#231f20" stroke-width="0.1">1×10<tspan font-size="4.68" dy="-2.73">7</tspan></text>
<text x="272.95" y="482.45" font-size="8" text-anchor="middle" stroke="#231f20" stroke-width="0.1">ns</text>
<text x="295.35" y="482.45" font-size="8" text-anchor="middle" stroke="#231f20" stroke-width="0.1">ns</text>
<text x="266.9" y="492.35" font-size="8" text-anchor="middle" stroke="#231f20" stroke-width="0.1">ns</text>
<text x="288.5" y="492.35" font-size="8" text-anchor="middle" stroke="#231f20" stroke-width="0.1">ns</text>
<text x="281.3" y="502.95" font-size="8" text-anchor="middle" stroke="#231f20" stroke-width="0.1">ns</text>
<path d="M260.8 475.4H302M260.8 484.5H285.1M288.7 484.5H302M260.8 494.5H273M278.1 494.5H298.9M276 505H286.6" stroke="#231f20" stroke-width=".95" fill="none"/>
<text x="228.9" y="534" font-size="9.4" text-anchor="middle" textLength="48" lengthAdjust="spacingAndGlyphs" transform="rotate(-90 228.9 534)" stroke="#231f20" stroke-width=".22">Absolute number</text>
<path d="M19.5 585.85l1.61 2.99h-3.22z" fill="#39b54a"/>
<text x="25" y="590.4" font-size="9.3" textLength="27.5" lengthAdjust="spacingAndGlyphs" stroke="#231f20" stroke-width="0.1">Ctrl-lipo</text>
<path d="M59.98 586.38h2.64v2.64h-2.64z" fill="#fb8c10"/>
<text x="65.6" y="590.4" font-size="9.3" textLength="48.5" lengthAdjust="spacingAndGlyphs" stroke="#231f20" stroke-width="0.1">α-GalCer-lipo</text>
<path d="M122.8 586.2l1.49 1.49l-1.49 1.49l-1.49 -1.49z" fill="#1a518e"/>
<text x="128.6" y="590.4" font-size="9.3" textLength="51.8" lengthAdjust="spacingAndGlyphs" stroke="#231f20" stroke-width="0.1">Treg + ctrl-lipo</text>
<path d="M188.4 589.55l1.61 -2.99h-3.22z" fill="#c8193c"/>
<text x="194.1" y="590.4" font-size="9.3" textLength="74.7" lengthAdjust="spacingAndGlyphs" stroke="#231f20" stroke-width="0.1">Treg + α-GalCer-lipo</text>
<path transform="scale(.1)" stroke="#2b8a37" stroke-width="8" d="M3896 3458h8m14 1h8m-8-1h8m-2 1h8m-80 16h8m-7 3h8m-6-6h8m-7 2h8m-8-2h8m0-6h8m-8 11h8m-5 0h8m-8-12h8m-6 3h8m-5 9h8m-1-7h8m-8 3h8m-7-3h8m-6 0h8m-4 3h8m-8-4h8m-4 8h8m-7 0h8m-6 2h8m-7-18h8m-8 12h8m-7 5h8m-5-11h8m-8-5h8m-7 9h8m-8-5h8m-6 12h8m-6-11h8m-8-4h8m-6 7h8m-8 1h8m-6-3h8m-5-2h8m-8-5h8m-7 8h8m-7 3h8m-8-2h8m-5-4h8m-8 9h8m-7-12h8m-3 1h8m-8 6h8m-5 9h8m-4-5h8m-7-1h8m-8 1h8m-6 0h8m-7-8h8m-6 11h8m-2-9h8m-7 1h8m-4-7h8m-6 2h8m-5 13h8m-7-1h8m-8-1h8m-6 1h8m-6-5h8m-8 3h8m-7-1h8m-7 5h8m1 1h8m-4-2h8m-5 1h8m-6 1h8m-6-2h8m-159 19h8m-4 3h8m-3-7h8m-7-6h8m-7 5h8m-7-6h8m-8 14h8m-4-17h8m-8 15h8m-6-12h8m-8 7h8m-5-1h8m-5 2h8m-8 4h8m-4-16h8m-6 6h8m-6 8h8m-6-9h8m-7-5h8m-4 6h8m-5 9h8m-8 0h8m-6 3h8m-8-9h8m-8 2h8m-7 1h8m-7-8h8m-7 9h8m-7-8h8m-7 12h8m-7-6h8m-8 0h8m-6 3h8m-6-7h8m-7 4h8m-7-7h8m-7 6h8m-7-9h8m-8 2h8m-6 3h8m-6 9h8m-7-12h8m-4 11h8m-8 4h8m-6-12h8m-7-4h8m-7 15h8m-8-6h8m-7-4h8m-8 6h8m-6-12h8m-7 3h8m-7 4h8m-8 2h8m-7-3h8m-6-7h8m-7 5h8m-8 1h8m-7 9h8m-2 0h8m-4 3h8m-7 0h8m-8-6h8m-6-11h8m-7 6h8m-7-6h8m-8 17h8m-5-10h8m-7 0h8m-7 0h8m-8 1h8m-8-5h8m-6 0h8m-7 14h8m-8-17h8m-8 5h8m-5 0h8m-4-4h8m-8 3h8m-8-2h8m-8 1h8m-7 4h8m-6-9h8m-8 5h8m-6 13h8m-6-5h8m-7 5h8m-6-3h8m-6 4h8m-6-11h8m-8-7h8m-7 6h8m-8-2h8m-6 13h8m-5-13h8m-6 14h8m-7-6h8m-7-13h8m-8 4h8m-7 2h8m-8 2h8m-7 7h8m-8-12h8m-7 13h8m-4-5h8m-7 6h8m-6 2h8m-7 0h8m-8-3h8m-3-6h8m-8 2h8m-6-1h8m-5-4h8m-8 8h8m-6-4h8m-7 4h8m-7-3h8m-5-3h8m-3 5h8m-4-4h8m-7 3h8m-7 4h8m-7 2h8m-7-5h8m2-2h8m-7 6h8m-5 0h8m-2-7h8m5 6h8m0 0h8m-8 1h8m-7-1h8m-8 2h8m-232 10h8m-8 7h8m-7 1h8m-5-6h8m-8-1h8m-6-8h8m-7 6h8m-7 6h8m-8 1h8m-7-7h8m-4 11h8m-7-17h8m-8 8h8m-8 5h8m-5-14h8m-8 8h8m-7 4h8m-5 6h8m-7-3h8m-8-8h8m-8 2h8m-7-9h8m-7 0h8m-6 13h8m-7 0h8m-5-11h8m-6 15h8m-8-3h8m-7-5h8m-7-7h8m-6 11h8m-8 0h8m-7-3h8m-7 1h8m-8 1h8m-7-11h8m-6 14h8m-8-9h8m-3 2h8m-7 4h8m-4 6h8m-8-19h8m-6 8h8m-8-8h8m-8 6h8m-8 10h8m-5-7h8m-4-6h8m-7-1h8m-7 17h8m-7-3h8m-8-3h8m-8-13h8m-7 10h8m-8-2h8m-8 0h8m-8 5h8m-7 4h8m-8-8h8m-5-9h8m-8 1h8m-8 2h8m-7 8h8m-8-11h8m-8 7h8m-7 9h8m-6-3h8m-5-8h8m-8-5h8m-8 11h8m-8 1h8m-7 6h8m-7-6h8m-6 5h8m-8-17h8m-6 15h8m-8-13h8m-7 14h8m-8-13h8m-8 12h8m-8-9h8m-7 3h8m-7 3h8m-7-4h8m-6-7h8m-7 10h8m-8-1h8m-7 8h8m-7-1h8m-8-2h8m-5-2h8m-7 5h8m-8-1h8m-7-5h8m-6-11h8m-5 17h8m-6-5h8m-7-4h8m-8 6h8m-8-10h8m-7 13h8m-8-5h8m-6-8h8m-7 6h8m-8-1h8m-8-7h8m-7-1h8m-6 15h8m-8-13h8m-8 4h8m-8 11h8m-7-7h8m-7-1h8m-8-6h8m-8-1h8m-7 6h8m-6 4h8m-6-5h8m-5 0h8m-8 9h8m-5 1h8m-8-13h8m-8 11h8m-5 2h8m-8-14h8m-7 7h8m-8-2h8m-4 7h8m-7-4h8m-8-3h8m-8 5h8m-7 4h8m-8-14h8m-7 13h8m-8-15h8m-7 1h8m-7 2h8m-8 5h8m-7 3h8m-8-5h8m-7-4h8m-7 2h8m-8-5h8m-8 3h8m-8-3h8m-7 3h8m-7 13h8m-8-7h8m-8 4h8m-7-12h8m-8-1h8m-8 16h8m-7-18h8m-7 0h8m-8 15h8m-7-4h8m-7-11h8m-7 3h8m-6 14h8m-7 1h8m-8-8h8m-6-5h8m-7 6h8m-8-2h8m-7 2h8m-7-5h8m-8-3h8m-6 4h8m-8 8h8m-8-2h8m-8-3h8m-7-6h8m-7-2h8m-8 15h8m-7 2h8m-8-16h8m-8 4h8m-7-7h8m-7 5h8m-7 12h8m-8-8h8m-7 6h8m-7 4h8m-8-3h8m-7 3h8m-8-8h8m-8-10h8m-6 12h8m-7 4h8m-8 1h8m-7-11h8m-8 6h8m-7-1h8m-5 3h8m-7-11h8m-8-2h8m-8 2h8m-7 9h8m-8-12h8m-7 13h8m-8-2h8m-7 5h8m-8-4h8m-6-6h8m-7 6h8m-7 1h8m-7-2h8m-8 0h8m-7 1h8m-7-12h8m-7 1h8m-7-1h8m-8-1h8m-8 5h8m-7 3h8m-7-5h8m-7 0h8m-5 7h8m-7-8h8m-7-1h8m-8 8h8m-7 10h8m-8-16h8m-5 16h8m-6-19h8m-6 12h8m-6 4h8m-7-9h8m-7 3h8m-7 6h8m-7-14h8m-7 16h8m-7-2h8m-8-8h8m-8-2h8m-8 1h8m-7-3h8m-8 5h8m-8-3h8m-8 5h8m-7-1h8m-7 6h8m-7-6h8m-8 1h8m-8 7h8m-7-1h8m-8-2h8m-7-2h8m-8 1h8m-8-2h8m-5-4h8m-8 10h8m-8-1h8m-7-3h8m-8-3h8m-7-5h8m-8 11h8m-7-5h8m-6 5h8m-8-2h8m-8-15h8m-5 0h8m-8 9h8m-5-7h8m-8 5h8m-7 9h8m-8 1h8m-6-7h8m-8-1h8m-4 7h8m-4-4h8m-8 6h8m-7-10h8m-7 10h8m-8 0h8m-8 0h8m-6-4h8m-6 5h8m-8-6h8m-8 4h8m-6-3h8m-7 3h8m-6 0h8m-4-5h8m-8-3h8m-8 1h8m-8 5h8m-4-1h8m-8-3h8m-272 10h8m-3 15h8m-7 0h8m-1-10h8m-8 5h8m-7 2h8m-6-2h8m-8 3h8m-7-13h8m-8 5h8m-3-1h8m-5 1h8m-8 10h8m-7-7h8m-7-5h8m-7 5h8m-7 6h8m-7-8h8m-6 9h8m-7-2h8m-8-8h8m-5 13h8m-8-11h8m-7 7h8m-6-14h8m-8 17h8m-6-4h8m-6-11h8m-8 10h8m-7-6h8m-7 8h8m-7-3h8m-6 3h8m-7-15h8m-8 6h8m-5 7h8m-7 2h8m-8-13h8m-8 16h8m-7-10h8m-7 9h8m-6 0h8m-7-3h8m-6-12h8m-7 5h8m-6 8h8m-7-8h8m-6 10h8m-8-8h8m-7 8h8m-7-4h8m-7-10h8m-7 7h8m-7-10h8m-6 17h8m-8-2h8m-8-12h8m-8 2h8m-7 0h8m-7 5h8m-8-1h8m-6 5h8m-8-4h8m-6-3h8m-8 5h8m-5-12h8m-8 10h8m-8 3h8m-8 3h8m-7 2h8m-6-15h8m-7 13h8m-7-15h8m-8 18h8m-7-7h8m-8-1h8m-8-5h8m-7 8h8m-8 4h8m-8-3h8m-7-3h8m-8-5h8m-8-2h8m-6 1h8m-7 13h8m-7-12h8m-8 11h8m-6-15h8m-8-2h8m-8 12h8m-7 3h8m-7-13h8m-7 14h8m-7-11h8m-8 1h8m-7-3h8m-6 1h8m-8 11h8m-7-2h8m-8-14h8m-7 6h8m-7 2h8m-8-7h8m-7 2h8m-8-3h8m-8 8h8m-8 3h8m-8-10h8m-7-1h8m-7 14h8m-7-2h8m-8-11h8m-6 18h8m-5 0h8m-7-9h8m-8 4h8m-7 3h8m-8-13h8m-7 2h8m-7 0h8m-6 1h8m-5-1h8m-7 4h8m-6-9h8m-8 10h8m-4-4h8m-7 4h8m-7 8h8m-8-15h8m-7 3h8m-8-7h8m-7 8h8m-8-5h8m-8 9h8m-8-7h8m-6 12h8m-8-3h8m-8-10h8m-6 7h8m-8 7h8m-8-16h8m-7 13h8m-8-8h8m-7-2h8m-7 10h8m-7 4h8m-8 0h8m-8-6h8m-5 0h8m-7-5h8m-8 0h8m-8-1h8m-7-7h8m-8 17h8m-7-14h8m-7 16h8m-8-3h8m-7-7h8m-8 8h8m-7-13h8m-7-2h8m-8 11h8m-7-9h8m-8 11h8m-7-9h8m-8-3h8m-6 7h8m-8-2h8m-8 1h8m-7 0h8m-7 6h8m-8 4h8m-6-12h8m-8 7h8m-7-3h8m-8-9h8m-8 11h8m-7 3h8m-8 2h8m-8-2h8m-8-1h8m-8-4h8m-6 1h8m-8 3h8m-8-5h8m-8-3h8m-6-2h8m-8 0h8m-7-1h8m-8 6h8m-8-8h8m-8 13h8m-6-3h8m-8-12h8m-8 2h8m-7 15h8m-8-2h8m-7-3h8m-8 4h8m-8-14h8m-8 10h8m-8 3h8m-7 2h8m-7-8h8m-8 7h8m-6-2h8m-8-3h8m-7-4h8m-8 11h8m-7-1h8m-8-4h8m-4-10h8m-8 14h8m-7-15h8m-8 10h8m-8-8h8m-7 3h8m-7-2h8m-8 12h8m-8 1h8m-6 0h8m-8-10h8m-8-7h8m-5 15h8m-8-12h8m-7 12h8m-7-10h8m-7 2h8m-5 7h8m-8-4h8m-7 1h8m-8-3h8m-6 6h8m-8-11h8m-8 15h8m-4-3h8m-7-6h8m-8-8h8m-6 12h8m-7-11h8m-8 1h8m-8-4h8m-7 4h8m-6 14h8m-8-12h8m-8 10h8m-6-10h8m-7 13h8m-7-8h8m-6 1h8m-8-3h8m-6 2h8m-6 7h8m-8-7h8m-6 3h8m-8-10h8m-7-4h8m-7 16h8m-6-11h8m-6 12h8m-8-11h8m-7 2h8m-8-4h8m-8 0h8m-8-4h8m-3 5h8m-8 8h8m-7 6h8m-7-19h8m-8 2h8m-8 3h8m-6 5h8m-8 9h8m-6-3h8m-7-3h8m-8 2h8m-7-7h8m-7 7h8m-8-11h8m-8 5h8m-7-2h8m-8-4h8m-7-1h8m-7 13h8m-8 4h8m-7-10h8m-8 1h8m-6 4h8m-8 2h8m-6-2h8m-8-11h8m-7-2h8m-6 0h8m-7 4h8m-8 9h8m-7 3h8m-5-11h8m-7 1h8m-7 11h8m-6-4h8m-4-6h8m-8 7h8m-7 0h8m-7-9h8m-7 8h8m-7 1h8m-6-7h8m-6-4h8m-7 7h8m-6 8h8m-7-6h8m-7-8h8m-2 13h8m-289 8h8m-2 8h8m-7-10h8m-7 2h8m-7-5h8m-8 6h8m-7-6h8m-5 14h8m-8-8h8m-8 4h8m-6 3h8m-8 5h8m-6-14h8m-7-3h8m-8 10h8m-4-11h8m-7 3h8m-7 6h8m-7 6h8m-6-11h8m-4 12h8m-7 2h8m-5-16h8m-7 7h8m-5 1h8m-8 1h8m-7-4h8m-7 3h8m-7 2h8m-7 5h8m-8-2h8m-8 1h8m-5 0h8m-8-3h8m-7-5h8m-8-3h8m-8 3h8m-8-4h8m-8 14h8m-5-18h8m-6 12h8m-7-5h8m-6-3h8m-8 12h8m-7-1h8m-7-13h8m-7 15h8m-7-15h8m-7 6h8m-8 4h8m-7-10h8m-8 8h8m-8-2h8m-8 9h8m-8-16h8m-6 2h8m-8 1h8m-6 12h8m-7-16h8m-7 0h8m-7 6h8m-8 2h8m-8 10h8m-6-17h8m-8 7h8m-5 4h8m-7-10h8m-6-2h8m-8 15h8m-4-1h8m-7-8h8m-8 1h8m-6-6h8m-6 13h8m-8-11h8m-7-2h8m-7 13h8m-8-4h8m-7-10h8m-7 15h8m-8-10h8m-5 5h8m-7-8h8m-8 9h8m-8-9h8m-8 13h8m-6-1h8m-7-5h8m-8 4h8m-8 5h8m-8-2h8m-7-4h8m-8-2h8m-7-6h8m-8 7h8m-7-12h8m-8 5h8m-7 7h8m-8 3h8m-6-14h8m-7 8h8m-5-6h8m-8 6h8m-6 6h8m-5-7h8m-8 0h8m-6 5h8m-8-3h8m-7 9h8m-7-15h8m-8 11h8m-7-12h8m-8 12h8m-7-7h8m-7-3h8m-7 12h8m-8-14h8m-7 10h8m-7-6h8m-8 12h8m-5-1h8m-8-11h8m-8 9h8m-7 0h8m-6-6h8m-8-6h8m-8 13h8m-7-3h8m-7 5h8m-7-15h8m-7 2h8m-7 12h8m-8-16h8m-8 15h8m-8 1h8m-7-15h8m-7-3h8m-7 12h8m-7 3h8m-8 0h8m-7-2h8m-7-6h8m-8 2h8m-7-1h8m-7 6h8m-8-12h8m-8 6h8m-8 11h8m-7-9h8m-8-9h8m-7 16h8m-8-10h8m-6-7h8m-7 18h8m-6-3h8m-8-3h8m-6-7h8m-8 3h8m-7-1h8m-6 11h8m-7 0h8m-7-15h8m-7 11h8m-8-3h8m-8-9h8m-7 11h8m-7 0h8m-8-4h8m-7-5h8m-8-2h8m-8 10h8m-7-2h8m-6-8h8m-8 17h8m-8-16h8m-8-2h8m-8 4h8m-7 5h8m-8 2h8m-7-2h8m-5-8h8m-7 8h8m-8-10h8m-7 10h8m-8-7h8m-8 1h8m-7 1h8m-8 11h8m-7-14h8m-7 7h8m-8 8h8m-7-5h8m-8-11h8m-7 11h8m-7-1h8m-8 6h8m-7-15h8m-5 2h8m-8-2h8m-8 15h8m-6 1h8m-8-15h8m-4 12h8m-8-14h8m-5 18h8m-8-8h8m-8 1h8m-6 2h8m-8-8h8m-3 2h8m-8 2h8m-7-3h8m-8 8h8m-8 1h8m-8-16h8m-4 4h8m-6 10h8m-6 4h8m-7-1h8m-8-14h8m-7 6h8m-8 0h8m-6-1h8m-7 9h8m-8-11h8m-8 3h8m-7-8h8m-7 18h8m-8-18h8m-8-1h8m-7 4h8m-7 12h8m-8-5h8m-7 2h8m-7-3h8m-8 3h8m-5-6h8m-7 1h8m-7 4h8m-8-6h8m-7-1h8m-8 9h8m-7-2h8m-7-2h8m-7 8h8m-7-3h8m-8-7h8m-8 11h8m-8-17h8m-7 0h8m-7 0h8m-8 0h8m-6 6h8m-7-7h8m-8 14h8m-7 0h8m-7-9h8m-8 10h8m-5-1h8m-6 3h8m-7-5h8m-5-6h8m-8 2h8m-5 0h8m-7 7h8m-7-12h8m-6-4h8m-6 4h8m-8 4h8m-7 4h8m-6 2h8m-8-11h8m-7 3h8m-7 9h8m-8-6h8m-5 0h8m-8 1h8m-6 5h8m-7-2h8m-8 4h8m-5-7h8m-7 6h8m-3-13h8m-8-2h8m-6 16h8m-7-11h8m-7 13h8m-8-1h8m-8-17h8m-7 14h8m-6-15h8m-8 7h8m-7-5h8m-5 3h8m-7 1h8m-7-4h8m0 6h8m-8-4h8m-282 19h8m-4 5h8m-8-5h8m-7 3h8m-3 1h8m-6-5h8m-1 2h8m-8 8h8m-6-3h8m-7 5h8m-5-10h8m-8 3h8m-7-7h8m-8 12h8m-8 0h8m-7-12h8m-6 5h8m-6 5h8m-6-8h8m-3-1h8m-7 0h8m-7 17h8m-8-10h8m-7 2h8m-8 0h8m-3-6h8m-8 14h8m-7-8h8m-4-6h8m-6 13h8m-6-12h8m-4-4h8m-7-1h8m-5 18h8m-8-5h8m-6-10h8m-7 14h8m-8-13h8m-8 10h8m-4 2h8m-8-7h8m-7-1h8m-8-1h8m-7 6h8m-8 6h8m-6-8h8m-3 4h8m-7-3h8m-7-1h8m-7-4h8m-6 11h8m-7-6h8m-7-9h8m-5 1h8m-7-1h8m-8 15h8m-7-17h8m-7 7h8m-7-3h8m-6 10h8m-8-11h8m-8 2h8m-7 5h8m-8 3h8m-7 1h8m-7-12h8m-8 14h8m-7-16h8m-7-1h8m-8 12h8m-7 6h8m-7-1h8m-7-11h8m-7 8h8m-7-3h8m-8-1h8m-7-9h8m-8 11h8m-8 1h8m-7 3h8m-7-2h8m-8-13h8m-7 4h8m-7 9h8m-8 2h8m-8 1h8m-8-8h8m-7 8h8m-7-1h8m-7 2h8m-7-6h8m-7-11h8m-7 0h8m-8 12h8m-5-12h8m-6 2h8m-8-3h8m-7 13h8m-7-10h8m-7 6h8m-7-9h8m-6 14h8m-8-7h8m-7 5h8m-8 1h8m-5 1h8m-8-5h8m-7 9h8m-5-16h8m-8 14h8m-7 2h8m-7-3h8m-6-15h8m-6 5h8m-7 7h8m-1-1h8m-7 7h8m-5-6h8m-7-12h8m-3 16h8m-6 2h8m-7-15h8m4-2h8m-7 4h8m-4-4h8m-5 4h8m-6 2h8m-7-5h8m-8 7h8m-7-8h8m-6 0h8m-5 5h8m-7 2h8m-7 3h8m-2-1h8m-7-2h8m-8 7h8m-4-14h8m-7 5h8m-8-6h8m-7 10h8m-7-10h8m-8 13h8m-7-2h8m-7-4h8m-4 0h8m-8 8h8m-8-9h8m-4 6h8m-5-11h8m-7 9h8m-6-5h8m-6 5h8m-2-7h8m-7 2h8m-8 2h8m-6-1h8m-6 3h8m-6-3h8m-6-6h8m-7 11h8m-7-5h8m-2-6h8m-5 7h8m-7-4h8m-6-1h8m-4 1h8m-8 0h8m-6-2h8m-2 5h8m-4-5h8m-7-1h8m-244 21h8m0 1h8m1-2h8m-8 4h8m-6 3h8m-6-3h8m3-4h8m-2 0h8m-4 2h8m-7-1h8m-7 5h8m-6-6h8m-6 2h8m1-2h8m-7 3h8m-5 0h8m-6-1h8m-6-2h8m-8 9h8m-7 5h8m-3-3h8m-4 3h8m-8-7h8m-7-1h8m-7 5h8m-7 4h8m-8-10h8m-7 1h8m-7 4h8m-8 5h8m-7 3h8m-7-7h8m-5-6h8m-4 13h8m-6-16h8m-6 2h8m-3-1h8m-7 16h8m-8-7h8m-6-2h8m-8 5h8m-7-1h8m-8-1h8m-8-2h8m-7 7h8m-8-14h8m-2 9h8m-5-11h8m-7 9h8m-5-1h8m-6 7h8m-7-11h8m-7 0h8m-8 10h8m-7-7h8m-8 1h8m-8 5h8m1-2h8m-8 1h8m-8-1h8m-7-12h8m-8 6h8m-6 4h8m-7-10h8m-6 2h8m-8 11h8m-7-1h8m-8 1h8m-7-8h8m71 4h8m-6 0h8m-6 5h8m-4-13h8m-4 17h8m-8-12h8m-5-2h8m-8 6h8m-7 5h8m-4 1h8m-7-1h8m-7-10h8m-7-2h8m-4 2h8m-8 11h8m-7-12h8m-7 9h8m-7-5h8m-7 3h8m-7 5h8m-6-10h8m-7 4h8m-8 4h8m-8-2h8m-6 6h8m-7-4h8m-189 5h8m0 3h8m-7-2h8m-7 0h8m-4 7h8m-7-6h8m-5 1h8m-6-3h8m-4 5h8m-7 1h8m-4-4h8m-6-2h8m-6 14h8m-5-8h8m-7-1h8m-7 4h8m-6 0h8m6-9h8m-7 0h8m-6 8h8m-8-8h8m-6 3h8m-6-2h8m-6 2h8m-7-2h8m80 0h8m-4-1h8m2 0h8m-1 0h8m-48 79h8m-8-4h8m3 2h8m-8-7h8m-4 5h8m-7 1h8m-7-3h8m-2 1h8m-7-3h8m-7 8h8m-7-3h8m-6 2h8m-2-5h8m-2-2h8m-5 0h8m-57 27h8m-5-7h8m-7 2h8m-8 4h8m-7-2h8m-7 2h8m-8-7h8m-5-10h8m-8 14h8m-8-2h8m-6 3h8m-4-8h8m-8-1h8m-8 8h8m-7-14h8m-5 2h8m-8 8h8m-8 4h8m-6-11h8m-6 14h8m-8-2h8m-8-11h8m-7 6h8m-6-3h8m-7 4h8m-6-7h8m-8 9h8m-7 6h8m-5-2h8m-2-9h8m-6 9h8m-6-11h8m-6 1h8m-7 11h8m-8-10h8m-6 0h8m-7 2h8m-8 8h8m-7-12h8m-4-6h8m-5 11h8m-8 0h8m-60 9h8m-5 4h8m3 2h8m-6 0h8m-8-1h8m-4-4h8m-5 6h8m-6-3h8m-5 3h8m-7 1h8m-8-5h8m-5 0h8m1-3h8"/>
<path transform="scale(.1)" stroke="#135a1f" stroke-width="6" d="M3852 3478h6m15-5h6m-5 1h6m-3-6h6m-4 9h6m3-1h6m0 0h6m-3-9h6m-2-2h6m1 1h6m-3 10h6m-1 0h6m-5-8h6m-4 11h6m-6-8h6m6-3h6m3 9h6m0 0h6m-109 18h6m-2 1h6m-4 1h6m-3-8h6m-5 7h6m-3-7h6m3 8h6m-1-5h6m0-3h6m-6 7h6m-6-16h6m-5 8h6m-2-2h6m-3 1h6m7 0h6m-4 7h6m-1-4h6m-3 7h6m-1-6h6m1-8h6m0 2h6m-6-5h6m4 18h6m-2-11h6m-2 1h6m-6-8h6m-2 19h6m3-8h6m-5 0h6m-5-5h6m-6 8h6m-6-7h6m-5-2h6m3 10h6m-5-11h6m-5 5h6m-3 4h6m0 1h6m26 5h6m1 0h6m-201 11h6m5 6h6m-6 1h6m-1-2h6m-1-3h6m5-10h6m-1 14h6m-3-11h6m9 6h6m-2-3h6m3 9h6m-1-11h6m3 11h6m0-13h6m1 13h6m-1-5h6m-1-9h6m1 2h6m-4 13h6m-4-8h6m-5 0h6m-4 6h6m-2-9h6m-3 7h6m-2 0h6m-4 0h6m-4-3h6m-6 5h6m-4 1h6m-3-6h6m-4-9h6m-6 3h6m-1 8h6m-6-12h6m-4 5h6m-4 7h6m-2-3h6m-5 7h6m-6-14h6m-5 3h6m-3 0h6m2-3h6m-5 10h6m-5 6h6m-6-11h6m-4 9h6m-5-3h6m1 0h6m-5 4h6m-5-12h6m-5-5h6m-5 5h6m1-4h6m-4-1h6m13 18h6m-2-4h6m2-15h6m-5 10h6m-2-9h6m-5 17h6m-5-5h6m-5-6h6m1 9h6m-245 9h6m-4 10h6m3-9h6m-3-5h6m4 3h6m4 7h6m-3 4h6m-2-6h6m-5 1h6m3-10h6m5 15h6m-5-13h6m-1 10h6m8-10h6m5 12h6m-5-13h6m-6 3h6m-6 5h6m-1 9h6m-4-10h6m-5-8h6m-5 19h6m-5-18h6m-5 14h6m3 2h6m4-10h6m2-1h6m-2-6h6m-4 5h6m-4-2h6m-2 10h6m-5-5h6m-3 11h6m-5-19h6m0 2h6m-4-2h6m0 13h6m-3-4h6m-4 9h6m-5-14h6m-4 4h6m-5 4h6m-6-11h6m-5 2h6m-6 1h6m-5 4h6m-5 1h6m-5 2h6m1-11h6m-6 3h6m6 11h6m-2-13h6m-6 18h6m-5-13h6m-1 1h6m1-1h6m-5 8h6m-4-13h6m-5 2h6m-6 8h6m-2-2h6m-3 4h6m-3-5h6m-1 4h6m-6-12h6m-5 3h6m-5 2h6m-5 5h6m-6-10h6m-5 15h6m-1-8h6m-5 2h6m2 3h6m-6-7h6m5-5h6m-4 7h6m-4 10h6m-4 1h6m-6-11h6m5 10h6m-271 11h6m0 11h6m-1-5h6m-5 5h6m-2-9h6m-5 2h6m1-11h6m-5 7h6m2 11h6m-2-15h6m0 13h6m-4-5h6m4 3h6m-6-5h6m-3-3h6m-3 4h6m-6 0h6m-4-7h6m-5 8h6m-2-8h6m-6 12h6m-1-12h6m-5 9h6m-6 0h6m-2-4h6m-5 9h6m-5-9h6m-6-3h6m-6-5h6m-2 16h6m-3 2h6m-1-7h6m-2-5h6m-2-7h6m1 6h6m2 9h6m1-14h6m-4 5h6m-6 9h6m-3-6h6m-5 0h6m1 7h6m3 1h6m-2-12h6m12 3h6m-4 2h6m10 6h6m-6-3h6m-3-13h6m-4 9h6m0 10h6m1-19h6m0 8h6m-6-3h6m-4 5h6m-3 2h6m-6 7h6m-3-5h6m-5-6h6m-4-1h6m2 12h6m-6-4h6m-5-13h6m-2 10h6m-4-1h6m-4-7h6m-5 13h6m-4-15h6m0 8h6m-5 7h6m-3-2h6m-5-11h6m-2 8h6m-5-12h6m-6 14h6m-1 0h6m-243 19h6m0 0h6m-2-2h6m5-5h6m2 0h6m-3 9h6m-1-12h6m-6 6h6m-6-9h6m4 1h6m-4 1h6m1 16h6m1-17h6m-4 8h6m3-3h6m4 4h6m-5-5h6m-3 2h6m-5 0h6m-5 10h6m-1-8h6m-2-9h6m-3 7h6m-2 5h6m49-8h6m8-1h6m11 1h6m-4 2h6m8-2h6m4-2h6m6 0h6m3 0h6m-213 20h6m191 88h6m1-2h6m1 6h6m4 3h6m2-8h6m-50 17h6m5-2h6m-5 7h6m10 8h6m-5-18h6m2 4h6m-5 12h6m-1-7h6m0 6h6m-5-13h6m-4-1h6m-45 18h6m2 3h6m2 0h6m9-1h6"/>
<path transform="scale(.1)" stroke="#f3922a" stroke-width="8" d="M4230 3436h8m-2 2h8m-8-3h8m-7 1h8m-8-6h8m-4 5h8m-7-2h8m-6 6h8m-6-4h8m1-7h8m-7 10h8m-7-1h8m-6-3h8m-6-6h8m-7 10h8m-2-8h8m-6-6h8m-8 9h8m-7 3h8m-4-7h8m-5 8h8m-7-8h8m-6 2h8m-8 6h8m-5-8h8m-7 7h8m-7-5h8m-5 1h8m-7-11h8m-7 3h8m-6 10h8m-6 5h8m-5-19h8m-4 1h8m-7 11h8m-5-5h8m-8 9h8m-7 3h8m-8-15h8m-6 4h8m-5 2h8m-8 7h8m-8-10h8m-3 1h8m-7 11h8m-7-7h8m-8-2h8m-8-9h8m-7 3h8m-8 5h8m-8 6h8m-7 2h8m-7-1h8m-8-5h8m-8 0h8m-6-8h8m-8 14h8m-3 2h8m-8-8h8m-7 5h8m-7-5h8m-5 4h8m-8 3h8m-7 1h8m-6-13h8m-1 10h8m-8 2h8m5-3h8m-177 20h8m-6-1h8m-5 2h8m-5-1h8m-5-1h8m-6-2h8m-7-4h8m-7 5h8m-4 2h8m-7-3h8m-7-3h8m-4-3h8m-8 9h8m-5 2h8m-7 1h8m-7-9h8m-8 4h8m-7-4h8m-7-1h8m-8-5h8m-7 8h8m-5-11h8m-7 17h8m-8-1h8m-6-5h8m-6-1h8m-8 9h8m-7-3h8m-7-4h8m-8 7h8m-7-17h8m-7 7h8m-8-4h8m-7 13h8m-8-8h8m-7 4h8m-8-9h8m-7 13h8m-7-7h8m-7 6h8m-6-12h8m-7 1h8m-7-6h8m-4 7h8m-7 2h8m-6-7h8m-7 11h8m-8-6h8m-5-1h8m-8 12h8m-4-14h8m-8 2h8m-8 1h8m-8 1h8m-7 11h8m-6-4h8m-2-5h8m-7-3h8m-8 3h8m-7 7h8m-7-12h8m-8 7h8m-5-4h8m-7 2h8m-8-2h8m-3 4h8m-7-10h8m-6 8h8m-5 7h8m-8-13h8m-7 6h8m-5-3h8m-8-2h8m-7-3h8m-4 15h8m-7-17h8m-8 17h8m-8-4h8m-7-8h8m-6-3h8m-6 6h8m-6 4h8m-7 0h8m-8 3h8m-5-2h8m-6-3h8m-5 8h8m-5 1h8m-6-19h8m-8 13h8m-7-8h8m-7 11h8m-8-12h8m-6-2h8m-7 0h8m-5 13h8m-7-11h8m-7 5h8m-8 7h8m-7-16h8m-4 17h8m-8-9h8m-8 8h8m-5 1h8m-7-7h8m-7 2h8m-5 1h8m-1 4h8m-5-13h8m-6 7h8m-8-6h8m-8 14h8m-7-13h8m-7-4h8m-8 2h8m-7 1h8m-7 14h8m-4-4h8m-7-3h8m-7-7h8m-7 12h8m-7-15h8m-7-1h8m-5 3h8m-6 0h8m-7 6h8m-5-4h8m-8 10h8m-8-5h8m-8 8h8m-7-2h8m-7-6h8m-4 5h8m-7 0h8m1 2h8m-227 15h8m-8-1h8m-2 2h8m-8 0h8m-7 0h8m-4-9h8m-6 2h8m-7 2h8m-8-8h8m-8 9h8m-8-4h8m-7 0h8m-6 4h8m-4-9h8m-8 0h8m-5 5h8m-8-3h8m-6 12h8m-6-11h8m-8 4h8m-5 10h8m-7-1h8m-7-3h8m-8-5h8m-7 10h8m-8-14h8m-7-4h8m-5 8h8m-7 10h8m-7-7h8m-4-8h8m-5 11h8m-4-3h8m-6-9h8m-8 11h8m-5-11h8m-5-2h8m-7 1h8m-7 1h8m-7-3h8m-6 3h8m-8-3h8m-2 2h8m-8 1h8m-7 8h8m-6 8h8m-6-9h8m-5-10h8m-7 17h8m-7 0h8m-8 1h8m-8-17h8m-7 8h8m-8 7h8m-8 3h8m-3-13h8m-7-4h8m-5 2h8m-7 10h8m-5-2h8m-8-11h8m-7 12h8m-8 5h8m-7-6h8m-8-10h8m-7-1h8m-8 1h8m-8 8h8m-7-9h8m-8 10h8m-6 4h8m-7 1h8m-7-3h8m-8-3h8m-8 5h8m-7-9h8m-8 10h8m-7-5h8m-8-10h8m-7 17h8m-6-2h8m-8 1h8m-4-11h8m-7-2h8m-6 6h8m-6 8h8m-8-12h8m-7 2h8m-6-1h8m-8 10h8m-5 1h8m-7-15h8m-8 5h8m-8 2h8m-7 5h8m-7-9h8m-6 0h8m-8 5h8m-7 0h8m-6 0h8m-7 5h8m-8-2h8m-8-9h8m-6-2h8m-7 4h8m-7 1h8m-7-5h8m-7 3h8m-7 10h8m-7-8h8m-6-1h8m-6-2h8m-8-5h8m-7 9h8m-6-7h8m-8 13h8m-6-8h8m-8-6h8m-7 6h8m-7 11h8m-7-5h8m-8-7h8m-7 11h8m-8-1h8m-7-11h8m-7 6h8m-8 1h8m-7-6h8m-8 12h8m-6-8h8m-7-7h8m-6 4h8m-7-1h8m-7 3h8m-8 4h8m-6-2h8m-7 6h8m-7 1h8m-8-17h8m-6 11h8m-8-5h8m-6 10h8m-5 1h8m-8-14h8m-7-1h8m-8 3h8m-8 13h8m-7-6h8m-8-12h8m-7 7h8m-7-4h8m-7 9h8m-8 6h8m-7-8h8m-7 5h8m-8 1h8m-6-2h8m-8-1h8m-7-6h8m-8 4h8m-7-2h8m-7 4h8m-7-5h8m-6-4h8m-6 4h8m-7 0h8m-8-4h8m-5 11h8m-8-7h8m-7 4h8m-7-2h8m-7-1h8m-7 6h8m-7 3h8m-4-16h8m-6 12h8m-6-7h8m2 3h8m-7-3h8m-8-4h8m-2 9h8m-238 22h8m-6-10h8m-6 4h8m-7 1h8m-7-8h8m-7 7h8m-7 0h8m-6 2h8m-7-7h8m-8 4h8m-4-8h8m-7 6h8m-7 11h8m-8-3h8m-6-7h8m-7-3h8m-7-2h8m-8 11h8m-6-5h8m-8 5h8m-8-11h8m-8-1h8m-6 9h8m-8-9h8m-7 17h8m-8-6h8m-5-2h8m-8 8h8m-5-17h8m-6-1h8m-8 18h8m-6-4h8m-5-7h8m-8-6h8m-6 0h8m-7 15h8m-7-5h8m-8 7h8m-8 0h8m-5-12h8m-8 6h8m-7 1h8m-7-4h8m-6 3h8m-7 5h8m-7-5h8m-8-3h8m-7 0h8m-8 4h8m-5 4h8m-7 1h8m-6-3h8m-7-10h8m-7 10h8m-6-3h8m-8-12h8m-7 1h8m-6 12h8m-6-8h8m-8 1h8m-5 10h8m-8-7h8m-6-4h8m-8 13h8m-7-18h8m-7 14h8m-8 2h8m-6 1h8m-7-3h8m-7-13h8m-6 16h8m-8-11h8m-7 2h8m-6 1h8m-7-8h8m-8 18h8m-6-13h8m-6 2h8m-7 2h8m-8-5h8m-7-1h8m-7 4h8m-7-2h8m-7-5h8m-7 1h8m-4-1h8m-5 9h8m-7-5h8m-8 8h8m-7 4h8m-8-16h8m-7 16h8m-8-4h8m-7 2h8m-7 0h8m-8-5h8m-7 5h8m-7-6h8m-7-8h8m-7 8h8m-6 6h8m-7-4h8m-8-2h8m-7 1h8m-6 3h8m-7 3h8m-8-8h8m-8 9h8m-5-6h8m-8-3h8m-6-1h8m-7-7h8m-7 0h8m-8 7h8m-8 0h8m-8 8h8m-8-12h8m-7-3h8m-5 18h8m-6-6h8m-7-7h8m-7 11h8m-7-12h8m-7 14h8m-8-13h8m-8-2h8m-4 4h8m-8 4h8m-7-3h8m-8-3h8m-8 14h8m-6 0h8m-7-7h8m-8 1h8m-8 0h8m-8 4h8m-7-17h8m-7 15h8m-6-1h8m-7-2h8m-8 3h8m-7 1h8m-7-14h8m-8 12h8m-8-14h8m-8 4h8m-7 4h8m-8 10h8m-8 1h8m-7-8h8m-8 5h8m-6-2h8m-7-8h8m-8 9h8m-8 3h8m-7-8h8m-7-7h8m-7-3h8m-8 19h8m-7-18h8m-7 0h8m-6 12h8m-7-8h8m-8-2h8m-7-1h8m-7 5h8m-6-1h8m-6 8h8m-8-13h8m-7 12h8m-7 0h8m-6 6h8m-7-2h8m-8-6h8m-1 2h8m-8-2h8m-5-11h8m-8 13h8m-6-8h8m-8 3h8m-5-8h8m-4 14h8m-7-6h8m-6-6h8m-6 12h8m-7 4h8m-7-13h8m-6-4h8m-8 3h8m-7 2h8m-8 10h8m-8-4h8m-5 2h8m-7 4h8m-6-1h8m-5-12h8m-8 8h8m-6-5h8m-5 9h8m-6-13h8m-7 0h8m-7-3h8m-8 16h8m-7-10h8m-8 12h8m-6-19h8m-5 0h8m-6 10h8m-247 16h8m-7 3h8m-7 5h8m-4-1h8m-6-8h8m-6-2h8m-6 12h8m-6-6h8m-8 5h8m-6 5h8m-7-17h8m-8 5h8m-8-5h8m-7 0h8m-8 1h8m-6 12h8m-8-4h8m-7-4h8m-7-1h8m-8 7h8m-6-4h8m-8 3h8m-3 0h8m-8-10h8m-7 1h8m-8 14h8m-7-3h8m-8 1h8m-6-10h8m-8-3h8m-3 14h8m-8-12h8m-6 3h8m-8 8h8m-7-13h8m-8 15h8m-6-10h8m-7 10h8m-8-8h8m-8-1h8m-8-1h8m-7-7h8m-8 8h8m-8 1h8m-7 3h8m-8-8h8m-5 6h8m-6 6h8m-7-4h8m-8-7h8m-7 2h8m-6 9h8m-8 3h8m-7-14h8m-8 14h8m-7-12h8m-8 7h8m-8-9h8m-7 4h8m-6 6h8m-8-11h8m-7 6h8m-6 1h8m-8 3h8m-8-5h8m-8-1h8m-6 8h8m-8-15h8m-8 3h8m-7 6h8m-7-5h8m-8-5h8m-7 17h8m-7-8h8m-7-4h8m-7 8h8m-5-6h8m-5 9h8m-7-7h8m-6 8h8m-2-10h8m-8 6h8m-7-13h8m-8 19h8m-5-15h8m-7-4h8m-7 16h8m-7-14h8m-8 13h8m-6-3h8m-8 7h8m-8-18h8m-6 5h8m-8 3h8m-8-3h8m-7-2h8m-8-3h8m-6 15h8m-7 1h8m-8-5h8m-8-10h8m-8 11h8m-6 1h8m-7-7h8m-7 6h8m-5-6h8m-7 1h8m-7 4h8m-8 7h8m-8-13h8m-8-5h8m-7 12h8m-8 5h8m-7-16h8m-5 8h8m-8 8h8m-7-13h8m-7 13h8m-8-13h8m-6 4h8m-8-9h8m-7 3h8m-7 13h8m-6-8h8m-7 2h8m-7 9h8m-8-6h8m-7-11h8m-7 9h8m-7-3h8m-7 0h8m-7 8h8m-8-6h8m-7-5h8m-7 10h8m-7-6h8m-8 6h8m-6-14h8m-6 11h8m-7 4h8m-5-14h8m-5 15h8m-7-15h8m-8 7h8m-8 1h8m-7-2h8m-8 8h8m-8 3h8m-8-10h8m-7-5h8m-7 5h8m-8-7h8m-7 12h8m-8 0h8m-8 3h8m-7-9h8m-5-1h8m-5 0h8m-8 11h8m-7-8h8m-8 1h8m-8 2h8m-5-13h8m-7 17h8m-7-15h8m-6 14h8m-6-16h8m-8 2h8m-7 16h8m-7-7h8m-5-7h8m-6 9h8m-7-1h8m-1 5h8m-7-12h8m-7 3h8m-7 1h8m-7-1h8m-8 6h8m-8-8h8m-8 5h8m-5 3h8m-6 5h8m-7-10h8m-8 10h8m-8-5h8m-7-6h8m-8 2h8m-7-7h8m-7 0h8m-7-1h8m-8 17h8m-8-3h8m-7-3h8m-8-12h8m-8 6h8m-6 4h8m-8 2h8m-4 4h8m-3-14h8m-5 16h8m-7-1h8m-5-11h8m-7 3h8m-8-7h8m-7 8h8m-8 6h8m-7-9h8m-7-2h8m-7 0h8m-7-4h8m-7 5h8m-7 2h8m-8 2h8m-7-10h8m-5-1h8m-7 13h8m-231 14h8m-6-1h8m-7 6h8m-6 7h8m-8-16h8m-6-2h8m-3 1h8m-3 14h8m-7-12h8m-5 4h8m-8 1h8m-5 1h8m-6-4h8m-4-3h8m-8-2h8m-8-1h8m-7 5h8m-7 8h8m-8-4h8m-7-1h8m-8-1h8m-6 10h8m-6-7h8m-6-4h8m-8 3h8m-6 3h8m-7 4h8m-8 2h8m-5-4h8m-8-2h8m-8-3h8m-2 4h8m-7-6h8m-6-6h8m-7 14h8m-6-3h8m-6 0h8m-8-6h8m-7 1h8m-8 3h8m-7 3h8m-5-1h8m-8-2h8m-7-9h8m-6 9h8m-8-6h8m-8 15h8m-7-15h8m-8 6h8m-8-8h8m-7 12h8m-8-8h8m-6 8h8m-7-7h8m-7 3h8m-8-5h8m-6 14h8m-7-6h8m-7 1h8m-7-8h8m-8 13h8m-2-19h8m-6 3h8m-8 3h8m-7 5h8m-7-8h8m-8 9h8m-7-9h8m-8 5h8m-7-6h8m-4 8h8m-8 4h8m-7-14h8m-7 18h8m-8-8h8m-7-3h8m-8 1h8m-8 5h8m-7-13h8m-6 8h8m-6-5h8m-7 6h8m-7 0h8m-7 6h8m-6-2h8m-6 3h8m-8-7h8m-6 7h8m-5-8h8m-8-7h8m-7 11h8m-7-12h8m-7 14h8m-7-14h8m-7 0h8m-5 13h8m-7-2h8m-7 1h8m-7 2h8m-8-1h8m-7-12h8m-8 16h8m-7 1h8m-8-10h8m-8 1h8m-6 8h8m-7-17h8m-8 18h8m-8-10h8m-7 11h8m-7-8h8m-8-5h8m-7 10h8m-4-12h8m-7-3h8m-7 9h8m-8 2h8m-6-12h8m-8 12h8m-7 4h8m-7 0h8m-7 1h8m-7-16h8m-5 13h8m-7-6h8m-6-5h8m-6 12h8m-8 2h8m-8-1h8m-5-12h8m-3 15h8m-4-18h8m-7 4h8m-8 6h8m-8-9h8m-5 1h8m-6 16h8m-7-13h8m-7 6h8m-6-1h8m-8-11h8m-7 7h8m-5 5h8m-8-11h8m-6 3h8m-6 9h8m-4-11h8m-8 3h8m-7 0h8m-7 8h8m-8-2h8m-7-5h8m-8 2h8m-7-2h8m-6-1h8m-8 4h8m-8 10h8m-7-19h8m-6 15h8m-4-15h8m-7 12h8m-195 11h8m4 1h8m-7-2h8m-5 8h8m-6-6h8m-7 9h8m-8-8h8m-8 14h8m-6-2h8m-7 2h8m-8-18h8m-6 8h8m-6 5h8m-8 3h8m-6-5h8m-7-6h8m-7 13h8m-5-2h8m-5-3h8m-5-3h8m-7 6h8m-5-13h8m-5 0h8m-3 2h8m-6-6h8m-8 4h8m-7 5h8m-2 7h8m-6-5h8m-8-9h8m-7 9h8m-8-10h8m-6 11h8m-8 1h8m-8-7h8m-7 10h8m-7-11h8m-7 6h8m-8 0h8m-7 8h8m-8-11h8m-7 7h8m-7 3h8m-8-7h8m-6-5h8m-8-5h8m-8 18h8m-7-2h8m-7-16h8m-8 5h8m-7 1h8m-3-5h8m-7 6h8m-4 2h8m-8-2h8m-8 11h8m-2-13h8m-8 5h8m-8 8h8m-7-5h8m-7-13h8m-8 5h8m-7-1h8m-8 12h8m-4-15h8m-5 7h8m-6-8h8m-8 6h8m-7 0h8m-8 2h8m-4 0h8m-7 1h8m-6 6h8m-7 3h8m-8-9h8m-7 5h8m-8-8h8m-7 6h8m-7 0h8m-8-11h8m-7-1h8m-8 0h8m-6 2h8m-7 14h8m-7-17h8m-7 8h8m-7-6h8m-5 5h8m-8-1h8m-6-5h8m-8 14h8m-6 4h8m-8-3h8m-6-1h8m-8-7h8m-4 1h8m-8-5h8m-8 3h8m-8 8h8m-6-15h8m-8 6h8m-6-2h8m-7-3h8m-7 0h8m-5-1h8m-1 4h8m1-1h8m-1 3h8m-5-6h8m-4 2h8m-138 25h8m-8-1h8m-7-6h8m-7 4h8m-3-3h8m-5 4h8m-1-2h8m-6-3h8m-5 7h8m-8 1h8m6-8h8m-7 2h8m-7-1h8m-7 0h8m-6 0h8m-3-1h8m2 1h8m-4 4h8m5-4h8m-3 1h8m-96 26h8m5 1h8m-2-8h8m-6 16h8m-3-8h8m-64 30h8m8-2h8m-7-11h8m-7 7h8m-1 0h8m-4 4h8m-7-10h8m-5-1h8m-8 5h8m-6 3h8m-3-6h8m-4-5h8m-3 3h8m0 13h8m1-17h8m-71 30h8m-2-12h8m1 15h8m-1-2h8m-5-4h8m1 2h8m-6 6h8m-1-10h8m-6 1h8m-3-6h8m-2 16h8m-3-10h8m-66 20h8m-2 4h8m1-10h8m-6 11h8m-2-1h8m-26 11h8m-5 1h8m1-2h8"/>
<path transform="scale(.1)" stroke="#b86d20" stroke-width="5" d="M4229 3439h5m34-6h5m0 2h5m28-5h5m0 0h5m5 9h5m-103 5h5m-4 5h5m-2 4h5m-5-1h5m7-10h5m2 12h5m14 0h5m-4 4h5m21 1h5m-4-16h5m-5 5h5m3 3h5m-2 0h5m-3-2h5m-5 3h5m10-5h5m8 9h5m-1-4h5m-1 4h5m-2-6h5m9-3h5m-2 4h5m-2-1h5m-3 7h5m-190 20h5m19-10h5m6 10h5m12-17h5m-4 7h5m4 7h5m-1-8h5m5-3h5m10 6h5m3-3h5m-4-5h5m-1-1h5m1 9h5m-2 9h5m-3-13h5m1 8h5m18 5h5m-1-15h5m6 2h5m-5 3h5m11-2h5m15 7h5m-200 22h5m11-3h5m54 5h5m14-14h5m4 9h5m0 6h5m5-13h5m9-2h5m-5 4h5m15-3h5m6 2h5m16 5h5m-4 3h5m-197 11h5m25 9h5m39-2h5m-2-8h5m-4 5h5m3-6h5m1-1h5m-2 12h5m-4 4h5m8-8h5m-4 8h5m-1-1h5m-4-6h5m4-4h5m-4-4h5m1 5h5m1-5h5m4-1h5m4 13h5m8-1h5m26-7h5m-208 15h5m-4-2h5m2 17h5m18-9h5m10-2h5m-4 6h5m-4 3h5m10-15h5m-4 19h5m14-14h5m2 14h5m2 0h5m0-3h5m1-12h5m-3 2h5m4 5h5m-4 0h5m-5-10h5m-4 6h5m14 5h5m14-1h5m-3-10h5m2 4h5m4 5h5m0-3h5m-4-1h5m-127 22h5m3-8h5m7 19h5m-3-2h5m20-12h5m43-4h5m-89 23h5m28-2h5"/>
<path transform="scale(.1)" stroke="#1d57a0" stroke-width="8" d="M4262 3619h8m-5-4h8m-4 4h8m-5-3h8m-6 0h8m-7 2h8m-7-5h8m-6 0h8m-7 3h8m-7 0h8m-7 1h8m-4 1h8m-8 0h8m-3-7h8m-6 8h8m-6-3h8m-8-3h8m-7 6h8m1-1h8m-7 1h8m-7 0h8m-8-3h8m-6-2h8m2 4h8m-6-1h8m-7 2h8m-6-1h8m-8-1h8m-3 1h8m-98 13h8m-5 7h8m-6-9h8m-7 0h8m-7 9h8m-6-1h8m-7-2h8m-7-2h8m-8-9h8m-8 4h8m-7 7h8m-7-5h8m-7 9h8m-8-3h8m-8 1h8m-7 0h8m-7-15h8m-8 6h8m-7-3h8m-8 9h8m-6-9h8m-6 8h8m-7 1h8m-7 0h8m-6-3h8m-7 0h8m-7 3h8m-8-3h8m-8-11h8m-7 12h8m-8 3h8m-7-11h8m-8 6h8m-7 8h8m-8-8h8m-5 9h8m-7-16h8m-8-1h8m-7 5h8m-8-7h8m-6 12h8m-8-10h8m-6 7h8m-8 4h8m-6 1h8m-7 4h8m-8-4h8m-7-1h8m-7 4h8m-8-10h8m-8-4h8m-8 0h8m-8-1h8m-7 9h8m-8-5h8m-7 2h8m-8 2h8m-8 1h8m-7-10h8m-8 10h8m-7 1h8m-8 7h8m-8-12h8m-7 3h8m-7-8h8m-8 5h8m-7-5h8m-8 9h8m-8-3h8m-7-3h8m-7-5h8m-8 19h8m-8-11h8m-7-7h8m-8 7h8m-7 7h8m-8-3h8m-8-7h8m-7 12h8m-8-13h8m-7-3h8m-6 14h8m-8 3h8m-8-9h8m-7 4h8m-8 4h8m-7-5h8m-8 5h8m-7-4h8m-8-3h8m-8 5h8m-6-9h8m-7-2h8m-7 12h8m-7-14h8m-8 9h8m-7-10h8m-7 12h8m-7 3h8m-7-1h8m-8-1h8m-7-5h8m-6-5h8m-8 6h8m-7 1h8m-7 1h8m-8 4h8m-7-6h8m-7 2h8m-8-4h8m-6-4h8m-8-4h8m-7 10h8m-7-6h8m-5-3h8m-8 13h8m-8 4h8m-8-12h8m-6 2h8m-8 9h8m-7-8h8m-8 2h8m-7 7h8m-8-4h8m-7 5h8m-8-19h8m-7 10h8m-8 7h8m-8-2h8m-6-8h8m-8 8h8m-6 4h8m-7-6h8m-5-4h8m-99 18h8m-6-5h8m-6 3h8m-8 5h8m-7-9h8m-6 1h8m-6 3h8m-8 7h8m-8-1h8m-6-5h8m-8-4h8m-7 6h8m-7-4h8m-8 7h8m-8 0h8m-5 4h8m-8-1h8m-7-5h8m-7 7h8m-8-11h8m-7 5h8m-8-4h8m-8-5h8m-6 3h8m0 5h8m-7 4h8m-8 0h8m-8-13h8m-7 0h8m-8 11h8m-7-2h8m-7 7h8m-8-16h8m-7 10h8m-7-5h8m-7-4h8m-8 2h8m-7 7h8m-8-8h8m-6 9h8m-7-11h8m-8 16h8m-7-9h8m-7 3h8m-8-4h8m-8 11h8m-8-14h8m-7-3h8m-8 0h8m-7 6h8m-7 1h8m-7-5h8m-8 16h8m-8-7h8m-8-5h8m-8 3h8m-7-3h8m-7-2h8m-8 2h8m-7-6h8m-8 13h8m-8 4h8m-6 1h8m-8-15h8m-7 8h8m-8 1h8m-8-1h8m-6-10h8m-7 17h8m-8-15h8m-7 14h8m-7-11h8m-6-1h8m-8-3h8m-7 12h8m-7-14h8m-8 7h8m-7-5h8m-7 12h8m-7-9h8m-7-4h8m-7 8h8m-7-8h8m-8 7h8m-7 3h8m-6-9h8m-7 7h8m-7-1h8m-4 2h8m-7-3h8m-8-6h8m-8 5h8m-6-6h8m-7 9h8m-7-2h8m-7-6h8m-6 5h8"/>
<path transform="scale(.1)" stroke="#1d57a0" stroke-width="8" d="M4198 3953h8m-8 2h8m-1-3h8m-7 7h8m-8-9h8m-4 3h8m-8-4h8m-7 3h8m-8 0h8m-7 2h8m-8-7h8m-7 10h8m-6-6h8m-5 8h8m-6 0h8m-6-4h8m-8 4h8m-7-13h8m-7 11h8m-5-1h8m-8-9h8m-4 10h8m-8-10h8m-7 8h8m-7-10h8m-7 4h8m-7 8h8m-7-6h8m-8 5h8m-7-8h8m-8 0h8m-7 8h8m-7-7h8m-7 9h8m-8-1h8m-7-10h8m-6 3h8m-6-1h8m-7 6h8m-8-1h8m-7 5h8m-6-6h8m-5 6h8m-8-8h8m-6 3h8m-7-5h8m-7 3h8m-7-1h8m-7 8h8m-5 0h8m-8-10h8m-4 10h8m-8-7h8m-6-3h8m-5 5h8m-6 1h8m-5-1h8m-6 5h8m-8-5h8m-84 8h8m-8 6h8m-7-2h8m-6-3h8m-2 7h8m-8-4h8m-8-1h8m-7 7h8m-7-4h8m-7-8h8m-5 11h8m-6 1h8m-3 0h8m-8-5h8m-7-7h8m-6 8h8m-7-2h8m-8 0h8m-8 4h8m-6-10h8m-8 9h8m-8-4h8m-8 1h8m-8 3h8m-6-8h8m-8 9h8m-6-2h8m-8-4h8m-7 10h8m-7 1h8m-7-15h8m-8 2h8m-5 4h8m-4-1h8m-7-3h8m-6 1h8m-8 0h8m-8 6h8m-8-6h8m-7-2h8m-8 11h8m-8-11h8m-8 13h8m-4-2h8m-7-2h8m-8-10h8m-7 4h8m-8-4h8m-6 9h8m-5 3h8m-5-9h8m-5 8h8m-7-5h8m-7 2h8m-6-6h8m-6 9h8m-6-8h8m-6 3h8m-8-5h8m-7 3h8m-7 1h8"/>
<path transform="scale(.1)" stroke="#e0203a" stroke-width="8" d="M4194 3975h8m-4 0h8m-8 0h8m-4 1h8m-8-9h8m-7 9h8m-7-2h8m-6 5h8m-8-2h8m-7-4h8m-7-8h8m-8 2h8m-8-1h8m-8 10h8m-7-1h8m-8 2h8m-8-11h8m-6 9h8m-7-1h8m-8 2h8m-6-11h8m-6 2h8m-7 6h8m-7 4h8m-7 0h8m-7-1h8m-8 1h8m-5 0h8m-6-11h8m-7 7h8m-8-4h8m-8 2h8m-7 5h8m-8-9h8m-7 0h8m-8 1h8m-8 11h8m-8-1h8m-7-12h8m-8 0h8m-5-3h8m-8 0h8m-8 7h8m-8 4h8m-7-8h8m-8 5h8m-8 5h8m-7 3h8m-7-3h8m-6-12h8m-7 5h8m-7 10h8m-7-2h8m-8-8h8m-7 2h8m-8 8h8m-8-13h8m-8 2h8m-6 7h8m-6-4h8m-8 0h8m-7-4h8m-8 10h8m-8-1h8m-8 1h8m-7-9h8m-8 1h8m-7 4h8m-8-3h8m-7 0h8m-7-5h8m-8 10h8m-8-7h8m-7 9h8m-8-3h8m-7 0h8m-6-4h8m-7 7h8m-8 0h8m-5-1h8m-8-9h8m-6 2h8m-8 4h8m-8 5h8m-6-12h8m-6 6h8m-6 1h8m-7 3h8m-8-3h8m-7 1h8m-7-5h8m-8-3h8m-7 11h8m-7-5h8m-8 4h8m-7-7h8m-8-1h8m-8 4h8m-2-1h8m-87 12h8m4 1h8m-8 2h8m-8-6h8m-7 0h8m-3 8h8m-7-3h8m-8-2h8m-7 4h8m-7-4h8m-8 4h8m-7-4h8m-8 4h8m-8-6h8m-7 4h8m-7 1h8m-8-4h8m-8 7h8m-7-2h8m-7-2h8m-7-3h8m-6-1h8m-4 3h8m-7 4h8m-7 0h8m-5-4h8m-8-1h8m-7 2h8m-7-1h8m-7 6h8m-8-7h8m-6-1h8m-8 3h8m-7 0h8m-7-2h8m-7 2h8m-5-3h8m-7 1h8m-8 3h8m-7 0h8m-8-5h8m-8 2h8m-8 1h8m-7 1h8m-8-4h8m-7-1h8m-7 6h8m-7-1h8m-7 5h8m-6-3h8m-5-3h8m-8-1h8m-6 1h8m-8 3h8m-7 1h8m-3-7h8m-8 4h8m-8-5h8m-4 4h8m-6-3h8m-3 0h8"/>
<path transform="scale(.1)" stroke="#9a9a9a" stroke-width="5" d="M4117 3573h5m15 5h5m-4-5h5m13 0h5m-57 21h5m-3-5h5m-4 3h5m-1-7h5m2 0h5m-4 7h5m25-2h5m-2 5h5m-4-5h5m4-10h5m2 12h5m10 2h5m-84 15h5m0 8h5m8-13h5m2-1h5m9 8h5m-1 0h5m-2 2h5m-2-4h5m1 5h5m4-5h5m-1 2h5m6-3h5m-95 15h5m-1-2h5m7 14h5m4 0h5m-5-8h5m10 11h5m17-10h5m23-4h5m6-1h5m-81 23h5m6-6h5m19 1h5"/>
<path d="M376.5 337.6H444.2V405.2" stroke="#231f20" stroke-width="1" fill="none"/>
<path d="M376.5 337.4V405.2H444.4" stroke="#231f20" stroke-width="1.4" fill="none"/>
<path d="M374.3 340.4h2.2M374.3 354.2h2.2M374.3 368.1h2.2M374.3 381.9h2.2M374.3 395.8h2.2M384.6 405.2v2.2M397.3 405.2v2.2M408.8 405.2v2.2M421.5 405.2v2.2M434.2 405.2v2.2" stroke="#231f20" stroke-width=".9"/>
<text x="372.8" y="342.5" font-size="6" text-anchor="end" stroke="#231f20" stroke-width="0.1">10</text>
<text x="372.8" y="356.3" font-size="6" text-anchor="end" stroke="#231f20" stroke-width="0.1">0</text>
<text x="372.8" y="370.2" font-size="6" text-anchor="end" stroke="#231f20" stroke-width="0.1">−9</text>
<text x="372.8" y="384" font-size="6" text-anchor="end" stroke="#231f20" stroke-width="0.1">−19</text>
<text x="372.8" y="397.9" font-size="6" text-anchor="end" stroke="#231f20" stroke-width="0.1">−29</text>
<text x="384.6" y="414.8" font-size="6" text-anchor="middle" stroke="#231f20" stroke-width="0.1">−9</text>
<text x="397.3" y="414.8" font-size="6" text-anchor="middle" stroke="#231f20" stroke-width="0.1">−5.0</text>
<text x="408.8" y="414.8" font-size="6" text-anchor="middle" stroke="#231f20" stroke-width="0.1">0</text>
<text x="421.5" y="414.8" font-size="6" text-anchor="middle" stroke="#231f20" stroke-width="0.1">5.0</text>
<text x="434.2" y="414.8" font-size="6" text-anchor="middle" stroke="#231f20" stroke-width="0.1">1.0</text>
<text x="414.6" y="425.8" font-size="9.2" text-anchor="middle" textLength="26.5" lengthAdjust="spacingAndGlyphs" stroke="#231f20" stroke-width=".3">UMAP_X</text>
<text x="352.9" y="371.5" font-size="9.2" text-anchor="middle" textLength="26.5" lengthAdjust="spacingAndGlyphs" transform="rotate(-90 352.9 371.5)" stroke="#231f20" stroke-width=".3">UMAP_Y</text>
<rect x="452.6" y="352.3" width="58" height="46.8" fill="#fff" stroke="#2a2a2a" stroke-width="0.9"/>
<line x1="452.6" y1="360.8" x2="510.6" y2="360.8" stroke="#3a3a3a" stroke-width="0.9"/>
<line x1="461.5" y1="361.6" x2="510.6" y2="361.6" stroke="#b5b5b5" stroke-width="0.6"/>
<line x1="452.6" y1="368.5" x2="510.6" y2="368.5" stroke="#3a3a3a" stroke-width="0.9"/>
<line x1="461.5" y1="369.3" x2="510.6" y2="369.3" stroke="#b5b5b5" stroke-width="0.6"/>
<line x1="452.6" y1="376.2" x2="510.6" y2="376.2" stroke="#3a3a3a" stroke-width="0.9"/>
<line x1="461.5" y1="377" x2="510.6" y2="377" stroke="#b5b5b5" stroke-width="0.6"/>
<line x1="452.6" y1="383.9" x2="510.6" y2="383.9" stroke="#3a3a3a" stroke-width="0.9"/>
<line x1="461.5" y1="384.7" x2="510.6" y2="384.7" stroke="#b5b5b5" stroke-width="0.6"/>
<line x1="452.6" y1="391.5" x2="510.6" y2="391.5" stroke="#3a3a3a" stroke-width="0.9"/>
<line x1="461.5" y1="392.3" x2="510.6" y2="392.3" stroke="#b5b5b5" stroke-width="0.6"/>
<line x1="460.9" y1="352.3" x2="460.9" y2="399.1" stroke="#3a3a3a" stroke-width="0.7"/>
<line x1="461.8" y1="352.3" x2="461.8" y2="399.1" stroke="#b5b5b5" stroke-width="0.6"/>
<text x="506.2" y="358.9" font-size="6" text-anchor="end" textLength="35.4" lengthAdjust="spacingAndGlyphs" stroke="#231f20" stroke-width="0.1">Subset name</text>
<rect x="454.3" y="362.4" width="5.7" height="4.7" fill="#c8102e"/>
<text x="463" y="366.6" font-size="6.1" textLength="24.5" lengthAdjust="spacingAndGlyphs" stroke="#231f20" stroke-width="0.1">Foxp3GFP</text>
<rect x="454.3" y="370.1" width="5.7" height="4.7" fill="#1f4e8c"/>
<text x="463" y="374.3" font-size="6.1" textLength="45.5" lengthAdjust="spacingAndGlyphs" stroke="#231f20" stroke-width="0.1">CD45.1+Foxp3+</text>
<rect x="454.3" y="377.8" width="5.7" height="4.7" fill="#f7941d"/>
<text x="463" y="382" font-size="6.1" textLength="30.5" lengthAdjust="spacingAndGlyphs" stroke="#231f20" stroke-width="0.1">CD4+Tcons</text>
<rect x="454.3" y="385.5" width="5.7" height="4.6" fill="#3cb54a"/>
<text x="463" y="389.6" font-size="6.1" textLength="11.5" lengthAdjust="spacingAndGlyphs" stroke="#231f20" stroke-width="0.1">CD8</text>
<rect x="454.3" y="393.1" width="5.7" height="4.6" fill="#111"/>
<text x="463" y="397.2" font-size="6.1" textLength="17.5" lengthAdjust="spacingAndGlyphs" stroke="#231f20" stroke-width="0.1">T cells</text>
<path d="M385.4 491.8L384.1 491.9L382.9 491.6L382.1 490.9L381.1 489.7L380.6 489.4L376.1 488.5L368.1 485.8L365.6 484.6L363.9 483.3L362.9 482.2L362.4 481.2L362.1 480.2L362.0 478.9L362.3 477.4L363.1 474.4L363.7 473.2L364.6 472.0L365.9 471.0L367.1 470.5L368.9 470.2L370.9 470.2L372.9 470.5L374.9 471.0L380.6 472.8L382.9 473.6L385.6 475.0L386.6 475.8L387.6 476.7L388.5 478.2L389.9 481.2L390.9 482.8L391.6 483.6L392.6 484.2L394.9 484.5L395.4 484.4L395.9 484.2L397.1 482.7L399.1 481.4L399.1 481.2L398.9 480.9L397.6 479.6L396.9 478.4L396.4 476.9L396.3 475.4L396.6 473.2L397.3 471.4L398.3 470.2L399.6 469.3L400.9 468.9L401.9 468.6L404.4 468.4L409.1 468.5L412.9 468.9L415.1 469.3L417.1 470.1L418.4 471.0L419.3 472.2L419.8 473.4L420.0 474.7L420.0 476.2L419.7 477.7L419.4 478.9L418.8 479.9L418.1 480.8L417.2 481.4L416.4 481.8L415.1 482.2L412.4 482.6L409.1 482.5L402.9 482.1L401.9 482.2L401.6 482.4L401.8 484.2L401.7 484.7L401.4 485.2L400.9 485.7L400.4 486.0L398.1 486.8L397.0 488.4L396.1 489.2L395.1 489.6L392.4 490.2L390.6 491.0L389.6 491.3L386.9 491.4L385.4 491.8zM411.1 491.7L410.1 491.8L409.4 491.7L408.6 491.4L407.9 490.9L407.4 490.2L407.3 489.7L407.5 488.9L407.9 488.4L408.9 487.9L410.4 487.6L411.9 487.8L412.9 488.4L413.3 488.9L413.5 489.4L413.5 489.9L413.3 490.4L412.9 490.9L412.4 491.3L411.1 491.7z" fill="#1d4b97" fill-rule="evenodd"/>
<path d="M412.9 481.2L409.9 481.3L404.6 481.0L402.1 480.5L400.4 479.7L399.5 478.9L398.9 478.2L398.5 477.4L398.3 476.4L398.2 475.2L398.4 473.9L398.7 472.9L399.3 471.9L400.2 470.9L401.4 470.3L402.9 469.9L404.9 469.6L409.1 469.8L412.4 470.1L414.6 470.6L416.1 471.3L417.3 472.4L417.7 473.2L418.0 473.9L418.1 475.7L417.7 477.7L417.1 479.1L416.1 480.1L414.6 480.8L412.9 481.2zM384.6 491.0L383.9 490.9L383.4 490.7L383.1 490.4L382.9 489.9L382.8 488.9L382.8 488.7L382.5 488.4L381.6 488.2L377.6 487.8L374.9 487.1L368.4 484.6L366.7 483.7L365.4 482.7L364.8 481.9L364.2 480.9L364.0 479.9L364.0 478.9L364.2 477.4L365.0 474.9L365.4 473.9L366.2 472.9L367.4 472.1L368.6 471.6L370.1 471.4L371.9 471.5L373.4 471.8L375.4 472.3L380.6 474.0L382.6 474.8L384.6 476.0L385.4 476.7L386.1 477.4L386.7 478.4L387.6 480.7L388.4 482.2L389.4 483.9L390.3 484.9L390.9 485.3L391.6 485.6L393.9 485.6L394.9 485.8L395.6 486.2L395.9 486.7L396.0 487.2L395.8 487.7L395.4 488.2L394.9 488.5L394.1 488.7L391.9 489.0L390.1 489.8L389.1 490.1L386.4 490.1L384.6 491.0zM399.4 485.2L398.4 485.1L397.8 484.7L397.7 484.4L397.7 483.9L398.4 483.3L398.9 483.1L399.4 483.1L399.9 483.3L400.3 483.7L400.4 484.2L400.2 484.7L399.9 485.0L399.4 485.2zM410.9 490.8L409.9 490.7L409.2 490.4L408.8 489.9L408.8 489.4L408.9 489.2L409.4 488.8L410.1 488.6L410.9 488.6L411.6 488.9L412.0 489.4L412.0 489.9L411.6 490.4L410.9 490.8z" fill="#3a82d4" fill-rule="evenodd"/>
<path d="M410.6 480.0L407.1 479.9L404.9 479.6L403.1 479.2L401.7 478.4L400.7 477.4L400.4 476.7L400.2 475.9L400.4 474.4L400.6 473.7L401.1 472.9L401.9 472.1L402.9 471.6L404.1 471.2L405.9 471.0L409.4 471.1L411.6 471.4L413.4 471.8L414.6 472.5L415.5 473.4L416.0 474.7L416.0 476.2L415.5 477.7L414.7 478.7L413.6 479.4L412.4 479.8L410.6 480.0zM388.6 488.0L387.9 488.0L386.6 487.0L385.9 486.8L379.9 486.9L378.1 486.8L376.6 486.5L374.9 486.0L372.9 485.3L370.1 484.1L368.4 483.2L367.4 482.4L366.7 481.7L366.2 480.9L365.9 479.9L365.9 478.9L366.2 477.4L366.7 475.7L367.3 474.4L368.1 473.5L369.1 472.9L370.6 472.6L372.1 472.6L373.6 472.9L375.6 473.5L380.6 475.3L382.6 476.3L384.0 477.4L384.8 478.7L386.8 483.4L387.5 485.7L387.8 486.2L388.7 486.9L389.0 487.4L388.9 487.7L388.6 488.0z" fill="#8ed2f4" fill-rule="evenodd"/>
<path d="M410.6 478.5L408.9 478.5L406.4 478.4L405.0 478.2L403.9 477.8L403.0 477.2L402.4 476.4L402.2 475.4L402.5 474.4L403.0 473.7L403.6 473.2L404.6 472.7L405.9 472.5L407.6 472.4L409.9 472.5L411.4 472.8L412.5 473.2L413.2 473.7L413.9 474.5L414.1 475.4L413.9 476.4L413.4 477.2L412.6 477.9L411.8 478.2L410.6 478.5zM381.9 485.7L378.6 485.9L377.1 485.8L375.9 485.5L374.4 485.0L372.4 484.1L370.4 483.0L369.1 482.2L368.1 480.9L367.8 480.2L367.6 479.4L367.7 478.2L368.0 476.4L368.4 475.4L368.9 474.7L369.9 474.0L370.9 473.6L372.1 473.5L373.4 473.7L375.1 474.3L379.6 476.1L380.9 476.8L381.9 477.4L382.6 478.2L383.2 479.2L384.6 482.7L384.8 483.7L384.6 484.4L384.2 484.9L383.1 485.4L381.9 485.7z" fill="#6cc150" fill-rule="evenodd"/>
<path d="M376.9 483.7L375.6 483.6L374.1 483.0L372.6 482.0L371.6 480.9L371.0 479.7L370.8 478.2L370.9 476.9L371.2 476.4L371.6 476.0L372.1 475.8L372.9 475.7L373.6 475.8L374.6 476.1L376.3 477.2L377.8 478.7L378.6 480.4L378.9 481.4L378.9 482.2L378.8 482.7L378.4 483.2L377.6 483.6L376.9 483.7z" fill="#f4d83a" fill-rule="evenodd"/>
<path d="M376.9 482.7L375.9 482.9L374.6 482.6L373.5 481.9L372.5 480.9L371.8 479.7L371.6 478.4L371.8 477.4L372.1 476.9L372.4 476.7L372.9 476.5L373.4 476.5L374.4 476.8L375.5 477.4L376.5 478.4L377.2 479.7L377.6 481.2L377.6 481.7L377.5 482.2L376.9 482.7z" fill="#e4222b" fill-rule="evenodd"/>
<rect x="355.6" y="463.7" width="70" height="67.8" fill="none" stroke="#231f20" stroke-width="1.2"/>
<path d="M500.6 482.2L496.6 482.3L490.1 482.0L486.8 481.4L485.6 481.0L484.6 480.4L483.6 479.7L483.0 478.9L482.5 477.9L482.1 476.4L482.0 475.2L482.1 473.7L482.5 472.4L483.0 471.2L484.1 470.0L485.6 469.1L487.6 468.6L490.1 468.3L495.1 468.3L499.8 468.6L502.6 469.1L503.8 469.6L504.8 470.1L505.6 470.7L506.3 471.4L506.9 472.4L507.2 473.4L507.4 474.4L507.4 475.4L506.8 478.4L506.5 479.2L506.0 479.9L504.8 480.9L502.8 481.8L500.6 482.2zM485.6 492.7L484.8 492.6L484.4 492.4L483.1 491.2L481.1 490.9L479.1 490.1L478.3 490.2L476.6 490.6L475.3 490.7L471.6 490.1L467.1 490.1L463.6 489.6L460.6 488.8L455.3 487.1L453.1 486.3L451.1 485.4L449.3 484.3L447.8 483.0L446.9 481.9L446.3 480.4L446.1 479.2L446.3 477.7L447.1 474.7L447.9 472.9L449.0 471.4L449.8 470.8L450.6 470.4L451.6 470.1L452.6 469.9L454.8 469.9L457.6 470.3L461.3 471.3L466.6 473.1L469.8 474.5L471.8 475.8L473.2 477.2L474.1 478.4L475.3 480.9L476.3 482.4L477.1 483.4L479.3 485.7L479.8 486.1L480.3 486.2L482.3 486.3L483.3 486.4L484.1 486.8L484.8 487.4L485.2 488.2L485.3 489.2L485.5 489.7L486.6 490.5L486.9 491.2L486.9 491.7L486.6 492.2L486.1 492.6L485.6 492.7zM496.6 492.2L495.3 492.3L494.1 492.2L493.1 491.8L492.1 491.2L491.5 490.4L491.3 489.7L491.4 488.9L491.9 488.2L492.6 487.6L493.3 487.2L494.1 487.0L495.3 486.8L496.3 486.9L497.3 487.1L498.3 487.5L498.9 487.9L499.3 488.4L499.7 489.2L499.7 489.9L499.5 490.4L499.1 491.0L498.3 491.6L497.3 492.1L496.6 492.2zM478.3 495.3L477.8 495.4L477.3 495.4L476.6 494.9L476.5 494.7L476.4 494.2L476.7 493.7L477.3 493.4L477.8 493.3L478.3 493.5L478.7 493.7L478.9 493.9L479.0 494.4L478.8 494.9L478.3 495.3z" fill="#1d4b97" fill-rule="evenodd"/>
<path d="M499.6 481.2L496.3 481.3L490.8 481.0L488.1 480.5L486.1 479.7L485.1 478.9L484.6 478.2L484.1 477.2L483.8 475.9L483.7 474.9L483.8 473.9L484.1 472.9L484.6 471.9L485.6 470.8L486.8 470.1L488.6 469.6L490.6 469.3L494.3 469.3L499.1 469.6L501.6 470.1L503.3 470.9L504.1 471.4L504.8 472.2L505.2 472.9L505.6 473.9L505.7 475.4L505.2 477.7L504.9 478.4L504.4 479.2L503.3 480.1L501.6 480.9L499.6 481.2zM476.3 489.5L474.8 489.5L472.3 488.7L471.6 488.6L466.8 488.7L463.6 488.3L460.6 487.6L455.1 485.8L453.3 485.1L451.8 484.3L450.3 483.3L449.2 482.2L448.6 481.2L448.2 479.9L448.2 478.7L448.4 477.4L449.2 474.9L449.8 473.7L450.8 472.5L452.1 471.7L453.8 471.3L455.8 471.3L458.6 471.8L462.8 473.1L466.3 474.3L469.1 475.6L470.5 476.7L471.5 477.7L472.2 478.7L473.7 481.7L474.8 483.4L475.6 484.3L477.3 485.7L478.1 486.7L478.4 487.4L478.3 488.2L477.5 488.9L476.3 489.5zM483.1 489.7L482.1 489.8L481.3 489.6L480.6 488.9L480.5 488.4L480.6 488.2L481.1 487.8L481.8 487.5L482.6 487.5L483.1 487.7L483.6 488.2L483.8 488.7L483.6 489.3L483.1 489.7zM496.8 491.5L496.1 491.6L495.1 491.6L494.1 491.4L493.3 491.1L492.6 490.4L492.4 489.9L492.4 489.2L492.6 488.7L493.6 487.9L495.1 487.5L496.6 487.6L497.8 488.1L498.5 488.9L498.7 489.4L498.6 489.9L498.4 490.4L498.1 490.8L497.6 491.2L496.8 491.5zM485.6 491.7L485.1 491.6L484.9 491.4L485.0 491.2L485.3 491.1L485.6 491.2L485.7 491.4L485.6 491.7z" fill="#3a82d4" fill-rule="evenodd"/>
<path d="M497.8 480.2L493.8 480.1L491.1 479.9L489.1 479.5L487.6 478.9L486.8 478.3L486.3 477.7L485.8 476.9L485.4 475.9L485.3 475.2L485.4 474.4L486.0 472.9L486.8 471.9L487.8 471.2L489.3 470.7L491.1 470.4L494.1 470.4L498.3 470.6L500.6 471.1L502.1 471.8L503.4 472.9L503.8 473.7L504.1 474.4L504.1 475.7L503.4 477.4L502.5 478.7L501.4 479.4L499.8 480.0L497.8 480.2zM468.6 487.2L465.8 487.3L462.8 486.9L457.6 485.3L455.1 484.7L454.1 484.3L453.1 483.7L451.9 482.7L451.0 481.7L450.6 480.9L450.3 479.9L450.2 478.7L450.5 477.4L451.2 475.4L451.8 474.4L452.8 473.4L454.1 472.9L455.6 472.7L457.3 472.9L460.1 473.5L464.6 475.0L466.8 476.0L468.6 477.0L469.7 478.2L470.6 479.4L472.5 483.7L473.1 485.7L473.1 486.0L472.6 486.3L468.6 487.2zM475.6 487.6L475.1 487.6L474.6 487.4L474.3 486.9L474.3 486.7L475.1 486.7L475.6 486.9L475.7 487.2L475.7 487.4L475.6 487.6zM495.8 491.0L494.6 490.8L494.1 490.6L493.6 490.2L493.4 489.4L493.8 488.7L494.8 488.3L495.8 488.2L496.8 488.4L497.4 488.9L497.6 489.4L497.4 490.2L496.8 490.7L495.8 491.0z" fill="#8ed2f4" fill-rule="evenodd"/>
<path d="M498.8 479.0L496.6 479.2L493.1 479.1L491.1 478.8L489.6 478.4L488.3 477.7L487.1 476.4L486.7 475.7L486.6 475.2L486.8 474.2L487.5 473.2L488.3 472.5L489.6 471.8L490.8 471.5L493.1 471.4L496.6 471.5L498.6 471.7L500.1 472.1L501.3 472.7L502.3 473.6L502.8 474.4L502.8 475.4L502.2 476.7L501.1 477.9L500.1 478.6L498.8 479.0zM467.3 486.0L465.3 486.0L463.3 485.8L458.1 484.3L455.3 484.0L454.0 483.4L453.2 482.7L452.7 481.9L452.2 480.9L451.8 479.7L451.8 478.7L451.9 477.4L452.2 476.4L452.8 475.4L453.6 474.7L454.6 474.2L455.8 474.1L457.6 474.2L459.8 474.7L463.6 475.9L465.5 476.7L466.8 477.5L467.9 478.4L468.6 479.4L469.8 482.2L470.3 483.7L470.2 484.4L469.6 485.2L468.6 485.7L467.3 486.0zM495.8 490.2L495.1 490.2L494.6 489.9L494.5 489.7L494.5 489.4L494.7 489.2L495.1 489.0L495.6 488.9L496.3 489.2L496.5 489.4L496.5 489.7L496.3 490.0L495.8 490.2z" fill="#6cc150" fill-rule="evenodd"/>
<path d="M497.1 476.7L494.1 476.9L491.6 476.5L490.7 476.2L490.0 475.7L489.7 475.2L489.7 474.7L490.1 474.2L491.1 473.7L492.3 473.4L494.1 473.2L496.1 473.3L497.6 473.5L498.8 473.8L499.7 474.4L499.9 474.9L499.8 475.3L499.5 475.7L498.6 476.3L497.1 476.7zM456.1 482.5L455.3 482.5L454.8 482.2L454.4 481.7L454.1 480.9L453.6 478.9L453.5 477.9L453.8 477.2L454.1 476.9L454.6 476.6L455.3 476.6L456.0 477.2L456.4 477.9L457.0 480.2L457.1 480.9L456.9 481.7L456.5 482.2L456.1 482.5z" fill="#f4d83a" fill-rule="evenodd"/>
<path d="M496.6 476.2L494.6 476.3L492.6 476.1L491.4 475.7L491.0 475.4L490.8 474.9L491.1 474.4L491.8 474.1L492.8 473.8L494.3 473.7L495.8 473.7L497.2 473.9L498.1 474.2L498.6 474.7L498.7 475.2L498.3 475.6L497.7 475.9L496.6 476.2zM455.8 481.8L455.3 481.8L454.8 481.2L454.2 478.9L454.2 477.9L454.5 477.4L454.8 477.4L455.3 477.6L455.5 477.9L455.8 479.4L456.2 480.7L456.1 481.4L455.8 481.8z" fill="#e4222b" fill-rule="evenodd"/>
<rect x="440.8" y="463.7" width="70" height="67.8" fill="none" stroke="#231f20" stroke-width="1.2"/>
<path d="M412.6 598.0L406.6 597.8L402.1 597.3L399.1 596.5L398.1 596.0L397.0 595.2L396.1 594.2L395.5 593.2L395.2 592.0L395.1 590.7L395.2 587.7L395.5 586.0L395.9 584.7L396.8 583.5L398.1 582.4L400.1 581.5L402.6 581.1L405.9 581.0L411.6 581.3L414.9 581.8L417.4 582.6L418.4 583.2L419.4 583.9L420.0 584.7L420.5 585.5L420.9 586.5L421.1 587.7L421.1 589.2L420.9 592.0L420.7 593.2L420.2 594.5L419.7 595.2L419.0 596.0L418.4 596.5L417.4 597.0L415.4 597.6L412.6 598.0zM390.9 604.7L389.9 604.9L388.9 604.9L385.6 604.4L380.9 604.3L377.4 603.8L374.1 603.1L369.9 601.8L367.4 600.8L365.4 599.8L364.1 598.9L363.0 597.7L362.4 596.5L362.1 595.2L362.1 593.7L362.4 591.7L363.0 589.5L363.8 587.7L364.4 587.0L365.1 586.2L365.9 585.8L366.9 585.3L369.1 584.8L371.6 584.8L374.9 585.3L379.4 586.6L383.1 587.9L385.9 589.2L387.4 590.5L388.4 591.7L389.0 593.0L389.6 595.2L390.1 596.3L390.9 597.7L391.9 598.7L392.4 599.0L392.9 599.1L394.9 597.9L396.4 597.7L397.1 597.8L397.9 598.2L398.3 598.7L398.6 599.2L398.6 599.7L398.5 600.2L397.9 601.0L397.4 601.4L396.6 601.6L395.9 601.7L394.4 601.6L393.9 601.7L392.6 603.7L391.9 604.3L390.9 604.7zM410.6 605.5L408.9 605.4L407.5 605.0L406.7 604.2L406.7 603.7L406.9 603.2L407.6 602.6L409.1 602.1L410.6 602.1L411.4 602.3L412.1 602.6L412.5 603.0L412.9 603.5L412.9 604.2L412.5 604.7L412.1 605.0L411.4 605.3L410.6 605.5zM393.1 609.5L392.4 609.6L391.9 609.4L391.2 609.0L390.9 608.5L390.9 608.0L390.9 607.5L391.4 606.8L391.9 606.5L392.6 606.4L393.4 606.5L393.9 607.0L394.2 607.5L394.3 608.2L394.2 608.7L393.7 609.2L393.1 609.5zM406.4 639.5L404.6 639.6L403.6 639.5L402.9 639.2L402.4 638.9L401.9 638.5L401.7 638.0L401.8 637.5L402.6 636.7L403.9 636.3L405.6 636.2L407.1 636.6L408.0 637.2L408.3 637.7L408.2 638.2L407.6 639.0L406.4 639.5z" fill="#1d4b97" fill-rule="evenodd"/>
<path d="M412.1 596.7L406.9 596.6L403.1 596.2L400.6 595.5L399.4 595.0L398.6 594.3L398.0 593.7L397.4 592.7L397.1 591.7L397.0 590.5L397.1 588.2L397.3 586.7L397.7 585.5L398.4 584.4L399.5 583.5L401.1 582.8L403.1 582.4L405.9 582.3L410.9 582.5L413.6 582.9L415.9 583.6L416.9 584.1L417.7 584.7L418.3 585.5L418.8 586.2L419.2 588.0L419.2 589.2L419.1 591.5L418.9 592.5L418.6 593.5L417.7 594.7L416.4 595.7L414.6 596.4L412.1 596.7zM390.1 603.7L388.6 603.8L385.6 603.0L380.9 603.1L377.1 602.6L374.6 602.0L371.4 601.1L368.9 600.1L367.0 599.2L365.9 598.4L365.0 597.5L364.3 596.5L364.0 595.2L364.0 594.0L364.2 592.2L364.7 590.2L365.4 588.7L366.4 587.5L367.9 586.6L369.9 586.1L372.1 586.0L374.4 586.3L377.4 587.1L381.6 588.6L384.1 589.8L385.4 590.7L386.5 592.0L387.2 593.2L388.1 596.2L388.8 597.7L389.6 598.9L391.2 600.5L391.7 601.2L391.8 602.0L391.6 602.7L391.1 603.2L390.1 603.7zM396.6 600.2L396.1 600.4L395.4 600.2L395.2 600.0L395.2 599.5L395.5 599.2L395.9 599.0L396.6 599.2L396.9 599.5L396.9 599.7L396.9 600.0L396.6 600.2zM410.6 604.5L409.6 604.6L408.9 604.5L408.5 604.2L408.3 603.7L408.6 603.3L409.1 603.1L409.9 603.0L410.6 603.1L411.1 603.4L411.3 603.7L411.1 604.2L410.6 604.5zM392.9 608.5L392.4 608.5L392.1 608.2L392.1 607.8L392.4 607.6L392.6 607.5L393.0 607.7L393.1 608.2L392.9 608.5zM405.4 638.7L404.6 638.7L403.9 638.5L403.5 638.2L403.5 637.7L403.7 637.5L404.1 637.2L404.9 637.1L405.6 637.1L406.3 637.5L406.5 637.7L406.5 638.2L406.1 638.5L405.4 638.7z" fill="#3a82d4" fill-rule="evenodd"/>
<path d="M413.1 595.2L411.9 595.4L410.1 595.4L404.9 595.1L402.4 594.6L401.4 594.2L400.6 593.7L400.0 593.2L399.5 592.5L399.2 591.7L399.0 590.7L398.9 589.2L399.1 587.5L399.4 586.5L399.9 585.6L400.8 584.7L402.1 584.0L403.6 583.7L405.6 583.5L409.4 583.6L412.1 583.9L414.1 584.4L415.6 585.2L416.6 586.2L417.0 587.0L417.2 587.7L417.3 589.5L417.1 591.7L416.6 593.0L415.8 594.0L414.6 594.7L413.1 595.2zM381.6 602.0L379.9 601.9L378.1 601.7L376.1 601.4L374.1 600.8L371.9 600.1L369.9 599.2L368.4 598.5L367.4 597.7L366.7 597.0L366.2 596.2L365.9 595.2L365.8 594.2L366.0 592.7L366.4 590.7L366.9 589.6L367.5 588.7L368.6 587.9L370.1 587.3L371.9 587.2L374.1 587.4L376.9 588.0L380.4 589.3L382.4 590.3L384.0 591.5L384.8 592.5L385.3 593.5L386.0 596.0L387.1 598.7L387.5 600.7L387.3 601.0L386.4 601.2L383.6 601.8L381.6 602.0z" fill="#8ed2f4" fill-rule="evenodd"/>
<path d="M410.9 594.2L408.1 594.2L405.1 593.9L403.2 593.5L401.9 592.7L401.4 592.1L401.0 591.5L400.6 590.0L400.6 588.7L400.8 587.7L401.0 587.0L401.5 586.2L402.4 585.5L403.6 585.0L405.1 584.7L407.1 584.6L409.9 584.7L411.9 585.0L413.4 585.5L414.6 586.2L415.4 587.2L415.8 588.5L415.7 590.2L415.3 591.7L414.6 592.7L413.7 593.5L412.5 594.0L410.9 594.2zM381.1 601.0L379.6 601.0L377.9 600.8L374.6 600.1L371.1 598.8L369.7 598.0L368.7 597.2L368.1 596.5L367.7 595.7L367.4 595.0L367.3 594.0L367.4 592.7L367.7 591.2L368.1 590.2L368.7 589.5L369.6 588.7L371.1 588.2L372.6 588.1L374.4 588.2L376.6 588.8L378.9 589.7L380.9 590.7L382.4 591.8L383.2 592.7L383.7 593.7L385.0 597.7L385.2 599.0L384.8 599.7L384.1 600.2L382.9 600.7L381.1 601.0z" fill="#6cc150" fill-rule="evenodd"/>
<path d="M409.1 591.7L407.9 591.7L406.6 591.5L405.6 591.2L404.8 590.7L404.2 590.0L404.0 589.2L404.1 588.5L404.5 587.7L405.1 587.2L405.9 586.9L406.9 586.6L408.1 586.5L409.4 586.6L410.4 586.8L411.1 587.0L411.9 587.5L412.4 588.0L412.6 588.7L412.6 589.5L412.3 590.2L411.9 590.7L411.1 591.2L410.1 591.6L409.1 591.7zM378.9 598.7L377.1 598.8L375.1 598.4L373.1 597.5L371.6 596.5L370.7 595.2L370.3 593.7L370.4 592.2L370.7 591.5L371.1 590.9L371.7 590.5L372.6 590.1L373.6 590.0L374.9 590.1L376.1 590.5L377.4 591.1L378.4 591.7L379.3 592.5L380.0 593.5L380.5 594.5L380.8 595.7L380.8 597.0L380.7 597.5L380.4 598.0L379.7 598.5L378.9 598.7z" fill="#f4d83a" fill-rule="evenodd"/>
<path d="M409.4 591.0L408.4 591.0L407.4 590.9L406.5 590.7L405.9 590.4L405.4 590.0L405.1 589.3L405.1 588.7L405.3 588.2L405.9 587.7L406.4 587.5L407.9 587.1L409.6 587.2L410.9 587.7L411.4 588.2L411.6 588.7L411.6 589.2L411.5 589.7L411.1 590.2L410.6 590.5L409.4 591.0zM377.9 598.0L376.4 598.0L374.9 597.6L373.4 596.9L372.2 596.0L371.5 595.0L371.2 593.7L371.3 592.5L371.9 591.5L372.4 591.1L373.1 590.8L373.9 590.7L374.9 590.8L375.9 591.1L376.9 591.5L377.6 592.0L378.4 592.7L379.0 593.5L379.4 594.2L379.6 595.2L379.6 596.2L379.4 597.0L379.1 597.4L378.6 597.7L377.9 598.0z" fill="#e4222b" fill-rule="evenodd"/>
<rect x="355.6" y="577.7" width="70" height="68.5" fill="none" stroke="#231f20" stroke-width="1.2"/>
<path d="M489.8 599.2L488.3 599.4L487.1 599.4L485.8 599.1L484.6 598.6L483.6 598.0L482.6 597.2L481.7 596.2L481.1 595.2L480.6 594.0L480.3 592.5L480.2 591.0L480.3 588.5L480.5 587.2L480.8 586.0L481.4 585.0L482.0 584.2L483.6 583.2L485.6 582.5L488.3 582.1L491.8 582.2L497.3 582.5L500.3 583.0L501.6 583.4L502.8 583.9L503.8 584.5L504.6 585.2L505.3 586.2L505.7 587.2L506.0 588.5L506.0 590.0L505.9 592.2L505.6 593.7L505.0 595.2L504.2 596.2L503.3 596.9L502.6 597.3L500.6 597.9L498.3 598.2L493.6 598.4L489.8 599.2zM479.3 605.7L478.3 605.9L477.3 605.9L472.6 604.4L471.3 604.1L467.1 604.0L464.6 603.9L456.6 602.6L452.6 601.6L450.6 600.8L449.1 600.1L447.6 599.1L446.4 598.0L445.5 596.7L445.1 595.5L444.9 593.7L445.0 591.7L445.5 589.5L446.2 587.7L447.3 586.2L448.1 585.6L449.1 585.0L450.3 584.6L451.3 584.4L453.8 584.3L455.6 584.4L457.8 584.8L465.1 586.6L468.1 587.5L470.3 588.6L472.0 589.7L473.1 591.0L475.2 594.7L478.7 599.5L480.0 602.0L480.6 602.3L482.1 602.2L483.1 602.3L483.7 602.7L484.1 603.2L484.2 603.7L484.1 604.2L483.8 604.6L483.3 604.9L482.3 605.2L480.6 605.2L479.3 605.7zM495.3 606.5L494.1 606.6L492.8 606.5L491.8 606.3L490.6 605.7L489.8 605.2L489.3 604.5L489.1 603.7L489.4 603.0L489.8 602.4L490.6 601.8L491.6 601.4L492.8 601.1L494.1 601.0L495.3 601.1L496.3 601.4L497.6 601.9L498.3 602.5L498.8 603.2L498.9 603.7L498.7 604.5L498.2 605.2L497.5 605.7L496.6 606.2L495.3 606.5zM491.1 641.5L489.6 641.6L488.1 641.5L486.6 641.1L485.3 640.6L484.4 640.0L483.8 639.2L483.7 638.5L483.9 637.7L484.5 637.0L485.3 636.4L486.6 635.9L488.1 635.5L489.6 635.4L491.3 635.5L492.6 635.8L493.8 636.3L494.8 637.0L495.4 638.0L495.5 638.7L495.2 639.5L494.5 640.2L493.6 640.8L492.3 641.2L491.1 641.5z" fill="#1d4b97" fill-rule="evenodd"/>
<path d="M488.8 598.2L487.8 598.2L486.8 598.1L485.8 597.8L485.1 597.4L483.8 596.2L483.1 595.2L482.7 594.2L482.3 593.0L482.1 591.7L482.3 588.2L482.5 587.2L482.8 586.3L483.3 585.5L483.9 585.0L484.6 584.5L485.6 584.0L487.8 583.5L490.6 583.3L495.1 583.5L497.8 583.8L500.1 584.3L501.8 585.1L503.1 586.2L503.7 587.2L504.0 588.2L504.1 589.5L504.0 591.2L503.8 592.7L503.6 593.7L503.0 594.7L502.3 595.5L501.1 596.2L499.3 596.8L497.6 597.0L493.3 597.3L488.8 598.2zM478.6 605.0L478.1 605.1L477.3 604.9L475.8 604.2L471.8 602.7L470.8 602.6L465.8 602.7L460.8 602.1L454.8 601.0L452.6 600.4L450.8 599.6L449.3 598.7L448.2 597.7L447.5 596.7L446.9 595.5L446.6 594.0L446.7 592.0L447.1 590.0L447.7 588.5L448.2 587.7L448.8 587.1L450.3 586.1L452.1 585.6L454.3 585.5L456.8 585.8L459.3 586.3L465.6 588.0L468.6 589.2L470.1 590.2L471.3 591.5L473.8 595.9L475.8 598.7L477.6 600.6L478.4 602.2L479.5 603.5L479.6 604.0L479.6 604.2L479.2 604.7L478.6 605.0zM495.6 605.7L494.6 605.9L493.6 605.9L492.6 605.7L491.6 605.4L490.9 605.0L490.5 604.5L490.3 604.0L490.4 603.2L490.8 602.7L491.3 602.4L492.8 601.8L494.8 601.7L496.4 602.2L497.2 602.7L497.6 603.2L497.7 603.7L497.6 604.2L497.3 604.7L496.8 605.2L495.6 605.7zM482.3 604.2L481.8 604.2L481.5 604.0L481.4 603.7L481.5 603.5L482.1 603.2L482.5 603.2L482.8 603.4L482.9 603.7L482.9 604.0L482.3 604.2zM490.8 641.0L489.6 641.1L488.1 640.9L486.8 640.6L486.1 640.3L485.3 639.7L484.8 639.0L484.7 638.5L484.9 637.7L485.6 637.1L486.3 636.6L487.3 636.2L488.6 636.0L489.8 636.0L491.1 636.1L492.3 636.4L493.3 636.8L494.1 637.4L494.4 638.0L494.5 638.7L494.3 639.2L493.8 639.8L493.1 640.3L491.8 640.8L490.8 641.0z" fill="#3a82d4" fill-rule="evenodd"/>
<path d="M489.8 596.7L488.3 596.9L486.8 596.6L486.1 596.2L485.6 595.7L484.8 594.5L484.4 593.2L484.2 592.0L484.3 589.0L484.7 587.2L485.1 586.5L485.6 586.0L486.9 585.2L488.8 584.7L491.1 584.6L494.8 584.8L497.1 585.0L498.8 585.4L500.3 586.1L501.3 587.0L501.9 587.7L502.1 588.5L502.3 589.2L502.3 590.2L502.0 591.7L501.7 593.0L501.3 593.7L500.6 594.5L499.6 595.1L498.3 595.5L496.8 595.7L492.8 596.0L489.8 596.7zM468.6 601.2L466.6 601.3L464.3 601.3L457.1 600.4L453.8 599.6L452.3 599.0L451.2 598.5L450.2 597.7L449.2 596.7L448.7 595.7L448.3 594.5L448.1 593.0L448.2 591.5L448.6 590.0L449.1 589.0L450.3 587.7L451.6 587.1L453.3 586.6L455.3 586.6L458.1 587.1L463.8 588.8L466.1 589.6L467.7 590.5L468.9 591.5L469.9 592.7L472.4 597.5L472.7 598.2L472.8 599.0L472.7 599.7L472.6 600.0L472.1 600.3L470.6 600.9L468.6 601.2zM494.3 605.2L493.1 605.1L492.0 604.7L491.7 604.5L491.5 604.0L491.5 603.5L491.7 603.2L492.6 602.6L493.8 602.4L495.1 602.5L496.0 603.0L496.3 603.2L496.5 603.7L496.4 604.2L496.3 604.5L495.5 605.0L494.3 605.2zM490.8 640.5L488.8 640.5L487.8 640.4L486.8 640.0L486.0 639.5L485.7 639.0L485.6 638.5L485.7 638.0L486.1 637.5L486.8 637.0L488.6 636.5L490.6 636.5L492.3 637.0L493.1 637.5L493.5 638.0L493.6 638.5L493.5 639.0L493.2 639.5L492.6 639.9L491.8 640.2L490.8 640.5z" fill="#8ed2f4" fill-rule="evenodd"/>
<path d="M489.8 595.2L488.6 595.3L487.6 595.0L487.0 594.2L486.5 593.0L486.2 591.2L486.4 588.7L486.9 587.5L487.7 586.7L488.8 586.2L490.3 585.9L493.1 585.8L495.8 586.0L497.3 586.2L498.6 586.6L499.6 587.2L500.3 588.0L500.6 588.5L500.8 589.2L500.7 590.5L500.4 591.5L499.8 592.5L499.3 593.1L498.8 593.6L497.8 594.1L496.8 594.3L492.6 594.7L489.8 595.2zM467.1 600.0L465.6 600.1L463.6 600.0L457.1 599.5L454.3 598.9L452.2 598.0L451.2 597.2L450.5 596.5L449.8 595.5L449.5 594.5L449.3 593.2L449.3 592.0L449.6 590.7L450.0 589.7L451.1 588.6L452.3 587.9L453.8 587.5L455.6 587.5L457.3 587.8L459.1 588.4L464.2 590.2L466.1 591.1L467.2 592.0L468.0 593.0L469.8 596.7L470.1 597.7L470.0 598.5L469.4 599.2L468.3 599.7L467.1 600.0zM494.6 604.5L493.8 604.5L493.3 604.4L492.9 604.2L492.7 604.0L492.7 603.7L493.1 603.3L493.6 603.1L494.1 603.1L494.8 603.2L495.2 603.5L495.3 603.7L495.3 604.0L495.1 604.2L494.6 604.5zM490.1 640.2L488.3 640.1L487.1 639.6L486.6 639.2L486.3 638.7L486.5 638.0L487.0 637.5L487.6 637.2L489.3 636.8L490.3 636.8L491.3 637.0L492.1 637.4L492.5 637.7L492.9 638.5L492.6 639.2L491.6 639.9L490.1 640.2z" fill="#6cc150" fill-rule="evenodd"/>
<path d="M495.3 591.2L493.8 591.1L492.6 590.5L492.3 590.2L492.0 589.7L492.1 589.2L492.2 589.0L492.8 588.5L493.3 588.3L494.8 588.0L496.3 588.1L497.5 588.7L497.9 589.5L497.8 590.0L497.6 590.3L496.6 591.0L495.3 591.2zM457.8 597.5L456.1 597.4L454.6 597.0L453.2 596.2L452.3 595.2L451.9 594.5L451.7 593.7L451.6 592.2L452.1 591.0L452.5 590.5L453.1 590.0L454.1 589.6L455.1 589.5L456.1 589.5L457.3 589.8L458.3 590.3L459.4 591.0L460.3 591.7L461.2 592.7L461.5 593.5L461.7 594.2L461.7 595.2L461.4 596.0L461.0 596.5L460.1 597.0L459.1 597.3L457.8 597.5zM490.6 639.3L489.8 639.4L488.8 639.3L488.1 639.0L487.8 638.5L488.2 638.0L488.7 637.7L489.6 637.6L490.5 637.7L491.0 638.0L491.4 638.5L491.1 639.0L490.6 639.3z" fill="#f4d83a" fill-rule="evenodd"/>
<path d="M495.8 590.3L495.1 590.4L494.3 590.2L493.8 590.0L493.6 589.5L494.1 589.0L494.6 588.8L495.3 588.7L496.1 588.9L496.5 589.2L496.6 589.7L496.3 590.0L495.8 590.3zM458.3 596.5L457.1 596.7L455.6 596.5L454.3 596.0L453.3 595.3L452.6 594.2L452.4 593.0L452.6 591.9L453.2 591.0L453.8 590.5L454.3 590.3L455.1 590.2L456.1 590.2L456.8 590.5L457.8 590.9L459.1 592.0L459.9 593.2L460.0 594.0L460.0 594.7L459.5 595.7L458.9 596.2L458.3 596.5zM490.1 639.0L489.0 639.0L488.6 638.7L488.5 638.5L488.7 638.2L489.3 638.0L489.8 637.9L490.3 638.1L490.7 638.5L490.6 638.7L490.1 639.0z" fill="#e4222b" fill-rule="evenodd"/>
<rect x="440.8" y="577.7" width="70" height="68.5" fill="none" stroke="#231f20" stroke-width="1.2"/>
<text x="350" y="446.9" font-size="10.3" font-weight="bold" fill="#000" stroke="#000" stroke-width="0.1">F</text>
<text x="391.2" y="445" font-size="9" textLength="83.6" lengthAdjust="spacingAndGlyphs" stroke="#231f20" stroke-width="0.1">Without Treg transfer</text>
<text x="397.3" y="558.9" font-size="9" textLength="70.4" lengthAdjust="spacingAndGlyphs" stroke="#231f20" stroke-width="0.1">With Treg transfer</text>
<text x="390.3" y="457.1" font-size="9.3" text-anchor="middle" textLength="31.4" lengthAdjust="spacingAndGlyphs" stroke="#231f20" stroke-width="0.1">Ctrl-lipo</text>
<text x="475.5" y="457.1" font-size="9.3" text-anchor="middle" textLength="52.5" lengthAdjust="spacingAndGlyphs" stroke="#231f20" stroke-width="0.1">αGalCer-lipo</text>
<text x="390.3" y="571" font-size="9.3" text-anchor="middle" textLength="31.4" lengthAdjust="spacingAndGlyphs" stroke="#231f20" stroke-width="0.1">Ctrl-lipo</text>
<text x="475.5" y="571" font-size="9.3" text-anchor="middle" textLength="52.5" lengthAdjust="spacingAndGlyphs" stroke="#231f20" stroke-width="0.1">αGalCer-lipo</text>
<text x="390.6" y="543.6" font-size="9.2" text-anchor="middle" textLength="26.5" lengthAdjust="spacingAndGlyphs" stroke="#231f20" stroke-width=".3">UMAP_X</text>
<text x="475.8" y="543.6" font-size="9.2" text-anchor="middle" textLength="26.5" lengthAdjust="spacingAndGlyphs" stroke="#231f20" stroke-width=".3">UMAP_X</text>
<text x="350.8" y="498.3" font-size="9.2" text-anchor="middle" textLength="26.5" lengthAdjust="spacingAndGlyphs" transform="rotate(-90 350.8 498.3)" stroke="#231f20" stroke-width=".3">UMAP_Y</text>
<text x="390.6" y="656.2" font-size="9.2" text-anchor="middle" textLength="26.5" lengthAdjust="spacingAndGlyphs" stroke="#231f20" stroke-width=".3">UMAP_X</text>
<text x="475.8" y="656.2" font-size="9.2" text-anchor="middle" textLength="26.5" lengthAdjust="spacingAndGlyphs" stroke="#231f20" stroke-width=".3">UMAP_X</text>
<text x="350.8" y="611.9" font-size="9.2" text-anchor="middle" textLength="26.5" lengthAdjust="spacingAndGlyphs" transform="rotate(-90 350.8 611.9)" stroke="#231f20" stroke-width=".3">UMAP_Y</text>
<path d="M45.38 151.2a.92 .92 0 1 0 1.84 0a.92 .92 0 1 0-1.84 0zM48.18 151.2a.92 .92 0 1 0 1.84 0a.92 .92 0 1 0-1.84 0zM50.23 162.7a.92 .92 0 1 0 1.84 0a.92 .92 0 1 0-1.84 0zM53.03 162.7a.92 .92 0 1 0 1.84 0a.92 .92 0 1 0-1.84 0zM55.83 162.7a.92 .92 0 1 0 1.84 0a.92 .92 0 1 0-1.84 0zM58.63 162.7a.92 .92 0 1 0 1.84 0a.92 .92 0 1 0-1.84 0zM34.33 172.2a.92 .92 0 1 0 1.84 0a.92 .92 0 1 0-1.84 0zM37.13 172.2a.92 .92 0 1 0 1.84 0a.92 .92 0 1 0-1.84 0zM39.93 172.2a.92 .92 0 1 0 1.84 0a.92 .92 0 1 0-1.84 0zM42.73 172.2a.92 .92 0 1 0 1.84 0a.92 .92 0 1 0-1.84 0zM71.13 172.2a.92 .92 0 1 0 1.84 0a.92 .92 0 1 0-1.84 0zM73.93 172.2a.92 .92 0 1 0 1.84 0a.92 .92 0 1 0-1.84 0zM76.73 172.2a.92 .92 0 1 0 1.84 0a.92 .92 0 1 0-1.84 0zM79.53 172.2a.92 .92 0 1 0 1.84 0a.92 .92 0 1 0-1.84 0zM41.43 180.9a.92 .92 0 1 0 1.84 0a.92 .92 0 1 0-1.84 0zM44.23 180.9a.92 .92 0 1 0 1.84 0a.92 .92 0 1 0-1.84 0zM47.03 180.9a.92 .92 0 1 0 1.84 0a.92 .92 0 1 0-1.84 0zM49.83 180.9a.92 .92 0 1 0 1.84 0a.92 .92 0 1 0-1.84 0zM158.93 164.6a.92 .92 0 1 0 1.84 0a.92 .92 0 1 0-1.84 0zM141.13 174.2a.92 .92 0 1 0 1.84 0a.92 .92 0 1 0-1.84 0zM143.93 174.2a.92 .92 0 1 0 1.84 0a.92 .92 0 1 0-1.84 0zM176.28 174.2a.92 .92 0 1 0 1.84 0a.92 .92 0 1 0-1.84 0zM179.08 174.2a.92 .92 0 1 0 1.84 0a.92 .92 0 1 0-1.84 0zM181.88 174.2a.92 .92 0 1 0 1.84 0a.92 .92 0 1 0-1.84 0zM146.73 183a.92 .92 0 1 0 1.84 0a.92 .92 0 1 0-1.84 0zM149.53 183a.92 .92 0 1 0 1.84 0a.92 .92 0 1 0-1.84 0zM152.33 183a.92 .92 0 1 0 1.84 0a.92 .92 0 1 0-1.84 0zM255.83 149.2a.92 .92 0 1 0 1.84 0a.92 .92 0 1 0-1.84 0zM263.53 159.4a.92 .92 0 1 0 1.84 0a.92 .92 0 1 0-1.84 0zM243.23 169.6a.92 .92 0 1 0 1.84 0a.92 .92 0 1 0-1.84 0zM246.03 169.6a.92 .92 0 1 0 1.84 0a.92 .92 0 1 0-1.84 0zM248.83 169.6a.92 .92 0 1 0 1.84 0a.92 .92 0 1 0-1.84 0zM251.63 169.6a.92 .92 0 1 0 1.84 0a.92 .92 0 1 0-1.84 0zM279.78 169.6a.92 .92 0 1 0 1.84 0a.92 .92 0 1 0-1.84 0zM282.58 169.6a.92 .92 0 1 0 1.84 0a.92 .92 0 1 0-1.84 0zM285.38 169.6a.92 .92 0 1 0 1.84 0a.92 .92 0 1 0-1.84 0zM288.18 169.6a.92 .92 0 1 0 1.84 0a.92 .92 0 1 0-1.84 0zM251.38 180a.92 .92 0 1 0 1.84 0a.92 .92 0 1 0-1.84 0zM254.18 180a.92 .92 0 1 0 1.84 0a.92 .92 0 1 0-1.84 0zM256.98 180a.92 .92 0 1 0 1.84 0a.92 .92 0 1 0-1.84 0zM358.23 149.2a.92 .92 0 1 0 1.84 0a.92 .92 0 1 0-1.84 0zM361.03 149.2a.92 .92 0 1 0 1.84 0a.92 .92 0 1 0-1.84 0zM366.23 160.4a.92 .92 0 1 0 1.84 0a.92 .92 0 1 0-1.84 0zM369.03 160.4a.92 .92 0 1 0 1.84 0a.92 .92 0 1 0-1.84 0zM383.83 169.6a.92 .92 0 1 0 1.84 0a.92 .92 0 1 0-1.84 0zM386.63 169.6a.92 .92 0 1 0 1.84 0a.92 .92 0 1 0-1.84 0zM389.43 169.6a.92 .92 0 1 0 1.84 0a.92 .92 0 1 0-1.84 0zM392.23 169.6a.92 .92 0 1 0 1.84 0a.92 .92 0 1 0-1.84 0zM358.33 179.6a.92 .92 0 1 0 1.84 0a.92 .92 0 1 0-1.84 0zM480.98 151.3a.92 .92 0 1 0 1.84 0a.92 .92 0 1 0-1.84 0zM483.78 151.3a.92 .92 0 1 0 1.84 0a.92 .92 0 1 0-1.84 0zM486.58 151.3a.92 .92 0 1 0 1.84 0a.92 .92 0 1 0-1.84 0zM489.38 151.3a.92 .92 0 1 0 1.84 0a.92 .92 0 1 0-1.84 0zM493.88 164.8a.92 .92 0 1 0 1.84 0a.92 .92 0 1 0-1.84 0zM496.68 164.8a.92 .92 0 1 0 1.84 0a.92 .92 0 1 0-1.84 0zM496.18 176.9a.92 .92 0 1 0 1.84 0a.92 .92 0 1 0-1.84 0zM498.98 176.9a.92 .92 0 1 0 1.84 0a.92 .92 0 1 0-1.84 0zM501.78 176.9a.92 .92 0 1 0 1.84 0a.92 .92 0 1 0-1.84 0zM504.58 176.9a.92 .92 0 1 0 1.84 0a.92 .92 0 1 0-1.84 0zM62.58 338.1a.92 .92 0 1 0 1.84 0a.92 .92 0 1 0-1.84 0zM65.38 338.1a.92 .92 0 1 0 1.84 0a.92 .92 0 1 0-1.84 0zM68.18 338.1a.92 .92 0 1 0 1.84 0a.92 .92 0 1 0-1.84 0zM70.98 338.1a.92 .92 0 1 0 1.84 0a.92 .92 0 1 0-1.84 0zM76.63 349.3a.92 .92 0 1 0 1.84 0a.92 .92 0 1 0-1.84 0zM79.43 349.3a.92 .92 0 1 0 1.84 0a.92 .92 0 1 0-1.84 0zM82.23 349.3a.92 .92 0 1 0 1.84 0a.92 .92 0 1 0-1.84 0zM85.03 349.3a.92 .92 0 1 0 1.84 0a.92 .92 0 1 0-1.84 0zM48.23 357.1a.92 .92 0 1 0 1.84 0a.92 .92 0 1 0-1.84 0zM51.03 357.1a.92 .92 0 1 0 1.84 0a.92 .92 0 1 0-1.84 0zM53.83 357.1a.92 .92 0 1 0 1.84 0a.92 .92 0 1 0-1.84 0zM56.63 357.1a.92 .92 0 1 0 1.84 0a.92 .92 0 1 0-1.84 0zM69.98 358.8a.92 .92 0 1 0 1.84 0a.92 .92 0 1 0-1.84 0zM72.78 358.8a.92 .92 0 1 0 1.84 0a.92 .92 0 1 0-1.84 0zM75.58 358.8a.92 .92 0 1 0 1.84 0a.92 .92 0 1 0-1.84 0zM78.38 358.8a.92 .92 0 1 0 1.84 0a.92 .92 0 1 0-1.84 0zM62.88 367.7a.92 .92 0 1 0 1.84 0a.92 .92 0 1 0-1.84 0zM65.68 367.7a.92 .92 0 1 0 1.84 0a.92 .92 0 1 0-1.84 0zM68.48 367.7a.92 .92 0 1 0 1.84 0a.92 .92 0 1 0-1.84 0zM71.28 367.7a.92 .92 0 1 0 1.84 0a.92 .92 0 1 0-1.84 0zM161.53 357.1a.92 .92 0 1 0 1.84 0a.92 .92 0 1 0-1.84 0zM164.33 357.1a.92 .92 0 1 0 1.84 0a.92 .92 0 1 0-1.84 0zM167.13 357.1a.92 .92 0 1 0 1.84 0a.92 .92 0 1 0-1.84 0zM169.93 357.1a.92 .92 0 1 0 1.84 0a.92 .92 0 1 0-1.84 0zM187.43 358.8a.92 .92 0 1 0 1.84 0a.92 .92 0 1 0-1.84 0zM180.28 367.3a.92 .92 0 1 0 1.84 0a.92 .92 0 1 0-1.84 0zM63.13 468.9a.92 .92 0 1 0 1.84 0a.92 .92 0 1 0-1.84 0zM65.93 468.9a.92 .92 0 1 0 1.84 0a.92 .92 0 1 0-1.84 0zM68.73 468.9a.92 .92 0 1 0 1.84 0a.92 .92 0 1 0-1.84 0zM71.53 468.9a.92 .92 0 1 0 1.84 0a.92 .92 0 1 0-1.84 0zM76.88 479.5a.92 .92 0 1 0 1.84 0a.92 .92 0 1 0-1.84 0zM79.68 479.5a.92 .92 0 1 0 1.84 0a.92 .92 0 1 0-1.84 0zM82.48 479.5a.92 .92 0 1 0 1.84 0a.92 .92 0 1 0-1.84 0zM85.28 479.5a.92 .92 0 1 0 1.84 0a.92 .92 0 1 0-1.84 0zM73.13 489.4a.92 .92 0 1 0 1.84 0a.92 .92 0 1 0-1.84 0zM75.93 489.4a.92 .92 0 1 0 1.84 0a.92 .92 0 1 0-1.84 0zM178.58 468.9a.92 .92 0 1 0 1.84 0a.92 .92 0 1 0-1.84 0zM181.38 468.9a.92 .92 0 1 0 1.84 0a.92 .92 0 1 0-1.84 0zM194.03 479.5a.92 .92 0 1 0 1.84 0a.92 .92 0 1 0-1.84 0zM279.08 468.9a.92 .92 0 1 0 1.84 0a.92 .92 0 1 0-1.84 0zM281.88 468.9a.92 .92 0 1 0 1.84 0a.92 .92 0 1 0-1.84 0z" fill="#2b2b2b"/></g>
</svg></body></html>
